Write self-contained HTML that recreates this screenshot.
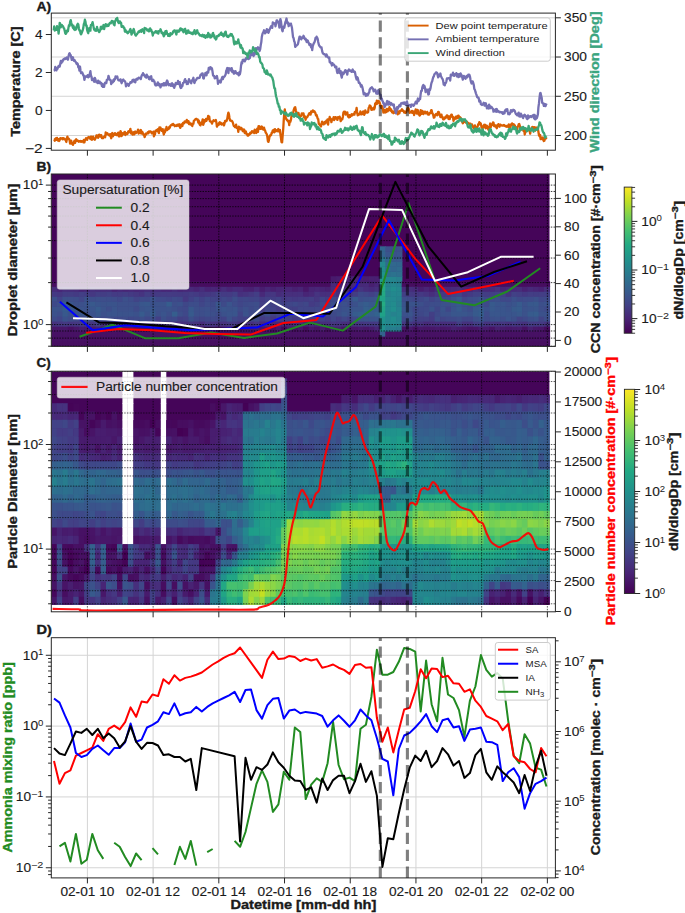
<!DOCTYPE html>
<html><head><meta charset="utf-8"><style>
html,body{margin:0;padding:0;background:#fff;}
svg{display:block;}
text{font-family:"Liberation Sans",sans-serif;}
</style></head><body>
<svg width="685" height="913" viewBox="0 0 685 913" font-family="Liberation Sans, sans-serif">
<rect x="0" y="0" width="685" height="913" fill="#fff"/>
<g id="A">
<line x1="51.30" y1="135.50" x2="555.40" y2="135.50" stroke="#d4d4d4" stroke-width="1.00"/>
<line x1="51.30" y1="96.27" x2="555.40" y2="96.27" stroke="#d4d4d4" stroke-width="1.00"/>
<line x1="51.30" y1="57.03" x2="555.40" y2="57.03" stroke="#d4d4d4" stroke-width="1.00"/>
<line x1="51.30" y1="17.80" x2="555.40" y2="17.80" stroke="#d4d4d4" stroke-width="1.00"/>
<clipPath id="cA"><rect x="51.30" y="13.10" width="504.10" height="137.10"/></clipPath>
<g clip-path="url(#cA)">
<polyline points="53.7,139.4 54.2,139.5 54.8,140.8 55.3,138.9 55.9,138.3 56.4,139.9 57.0,137.9 57.5,139.7 58.1,140.6 58.6,139.1 59.2,141.0 59.7,140.0 60.3,138.1 60.8,138.6 61.4,138.7 61.9,138.2 62.5,139.3 63.0,138.1 63.6,139.1 64.1,138.6 64.7,138.7 65.2,139.7 65.7,140.2 66.3,142.0 66.8,139.6 67.4,136.6 67.9,138.7 68.5,138.4 69.0,139.0 69.6,140.3 70.1,143.6 70.7,141.4 71.2,140.7 71.8,143.7 72.3,143.5 72.9,144.9 73.4,143.8 74.0,141.7 74.5,140.7 75.1,142.9 75.6,140.7 76.2,139.3 76.7,140.8 77.3,140.4 77.8,140.6 78.3,141.3 78.9,141.7 79.4,141.1 80.0,141.4 80.5,141.0 81.1,141.9 81.6,141.1 82.2,141.4 82.7,141.2 83.3,142.3 83.8,139.9 84.4,142.4 84.9,140.1 85.5,139.5 86.0,138.3 86.6,138.5 87.1,139.9 87.7,137.7 88.2,137.6 88.8,137.0 89.3,137.6 89.8,137.6 90.4,139.1 90.9,136.6 91.5,136.9 92.0,139.8 92.6,137.7 93.1,136.6 93.7,139.1 94.2,139.2 94.8,139.8 95.3,138.5 95.9,137.6 96.4,135.4 97.0,135.3 97.5,136.4 98.1,137.9 98.6,135.1 99.2,134.6 99.7,136.4 100.3,136.6 100.8,135.2 101.3,135.2 101.9,138.1 102.4,137.7 103.0,138.3 103.5,137.4 104.1,136.8 104.6,136.0 105.2,137.2 105.7,132.3 106.3,134.2 106.8,134.4 107.4,133.3 107.9,134.3 108.5,134.3 109.0,135.2 109.6,135.6 110.1,134.1 110.7,136.5 111.2,138.2 111.8,134.4 112.3,133.0 112.9,136.4 113.4,134.8 113.9,134.9 114.5,133.6 115.0,133.1 115.6,134.7 116.1,134.2 116.7,135.1 117.2,133.8 117.8,135.0 118.3,132.6 118.9,136.3 119.4,136.4 120.0,133.8 120.5,131.1 121.1,132.4 121.6,136.0 122.2,134.5 122.7,133.3 123.3,134.3 123.8,133.5 124.4,132.1 124.9,132.0 125.4,135.0 126.0,133.0 126.5,134.1 127.1,134.1 127.6,133.6 128.2,131.6 128.7,131.3 129.3,132.0 129.8,131.1 130.4,128.9 130.9,133.3 131.5,131.4 132.0,133.6 132.6,134.5 133.1,133.8 133.7,132.3 134.2,134.5 134.8,133.5 135.3,131.5 135.9,133.1 136.4,132.3 137.0,131.8 137.5,131.6 138.0,129.7 138.6,133.6 139.1,132.8 139.7,132.9 140.2,130.4 140.8,130.0 141.3,133.5 141.9,131.5 142.4,132.1 143.0,133.5 143.5,134.9 144.1,134.7 144.6,137.1 145.2,135.3 145.7,133.7 146.3,134.4 146.8,133.3 147.4,133.2 147.9,132.1 148.5,133.3 149.0,131.4 149.5,131.9 150.1,131.4 150.6,131.5 151.2,131.9 151.7,133.4 152.3,133.0 152.8,133.0 153.4,131.6 153.9,136.4 154.5,135.0 155.0,134.1 155.6,130.7 156.1,131.2 156.7,130.0 157.2,130.0 157.8,129.2 158.3,131.7 158.9,133.1 159.4,127.4 160.0,129.1 160.5,127.5 161.0,129.6 161.6,130.8 162.1,130.6 162.7,129.1 163.2,132.0 163.8,134.5 164.3,131.2 164.9,132.4 165.4,129.2 166.0,130.4 166.5,127.0 167.1,130.1 167.6,128.6 168.2,129.2 168.7,129.0 169.3,126.9 169.8,127.7 170.4,125.9 170.9,125.4 171.5,124.8 172.0,124.4 172.6,125.1 173.1,123.9 173.6,124.8 174.2,124.9 174.7,126.2 175.3,125.7 175.8,125.4 176.4,126.0 176.9,125.3 177.5,124.6 178.0,125.7 178.6,125.1 179.1,124.3 179.7,126.6 180.2,127.9 180.8,126.6 181.3,124.3 181.9,124.9 182.4,126.0 183.0,122.9 183.5,123.2 184.1,123.4 184.6,121.5 185.1,121.3 185.7,122.2 186.2,122.2 186.8,119.9 187.3,122.6 187.9,122.5 188.4,121.1 189.0,124.0 189.5,122.5 190.1,124.2 190.6,124.5 191.2,123.6 191.7,124.6 192.3,126.1 192.8,123.6 193.4,123.7 193.9,120.8 194.5,120.5 195.0,119.7 195.6,119.2 196.1,118.8 196.6,119.4 197.2,119.5 197.7,119.5 198.3,122.6 198.8,120.6 199.4,123.7 199.9,124.9 200.5,125.4 201.0,122.6 201.6,123.8 202.1,122.2 202.7,119.3 203.2,124.8 203.8,123.1 204.3,120.2 204.9,121.6 205.4,120.8 206.0,118.9 206.5,120.8 207.1,118.6 207.6,119.2 208.2,115.8 208.7,118.1 209.2,116.5 209.8,121.0 210.3,121.6 210.9,121.6 211.4,121.7 212.0,123.6 212.5,121.6 213.1,121.4 213.6,120.2 214.2,120.8 214.7,121.0 215.3,120.6 215.8,119.9 216.4,122.4 216.9,126.7 217.5,125.4 218.0,124.8 218.6,124.9 219.1,122.9 219.7,122.2 220.2,123.7 220.7,122.7 221.3,124.5 221.8,124.5 222.4,123.8 222.9,124.4 223.5,123.3 224.0,125.4 224.6,123.2 225.1,120.8 225.7,120.8 226.2,121.3 226.8,120.3 227.3,118.6 227.9,114.8 228.4,112.6 229.0,114.6 229.5,117.9 230.1,120.4 230.6,120.6 231.2,120.8 231.7,120.7 232.3,121.5 232.8,122.5 233.3,124.3 233.9,126.0 234.4,126.0 235.0,127.1 235.5,126.6 236.1,124.6 236.6,127.8 237.2,127.9 237.7,127.7 238.3,131.8 238.8,126.6 239.4,127.5 239.9,127.9 240.5,129.2 241.0,127.8 241.6,128.2 242.1,129.6 242.7,130.9 243.2,131.3 243.8,129.4 244.3,129.8 244.8,133.1 245.4,132.4 245.9,131.5 246.5,134.0 247.0,134.0 247.6,135.5 248.1,135.6 248.7,135.3 249.2,134.0 249.8,134.3 250.3,132.7 250.9,132.8 251.4,133.1 252.0,131.1 252.5,131.8 253.1,131.5 253.6,132.3 254.2,133.1 254.7,129.6 255.3,131.2 255.8,131.0 256.3,133.0 256.9,129.5 257.4,128.4 258.0,131.8 258.5,126.4 259.1,126.1 259.6,127.9 260.2,128.8 260.7,126.8 261.3,128.7 261.8,126.5 262.4,128.2 262.9,129.4 263.5,129.5 264.0,127.6 264.6,130.1 265.1,130.5 265.7,132.6 266.2,133.2 266.8,134.3 267.3,136.4 267.9,141.1 268.4,141.9 268.9,140.1 269.5,136.8 270.0,135.4 270.6,135.6 271.1,135.0 271.7,132.7 272.2,132.7 272.8,130.3 273.3,130.4 273.9,129.8 274.4,132.4 275.0,129.2 275.5,131.3 276.1,130.1 276.6,130.7 277.2,131.3 277.7,131.1 278.3,129.0 278.8,131.4 279.4,130.5 279.9,129.9 280.4,134.0 281.0,138.2 281.5,142.1 282.1,142.3 282.6,136.1 283.2,129.2 283.7,120.9 284.3,112.5 284.8,109.4 285.4,115.1 285.9,118.8 286.5,119.1 287.0,120.4 287.6,120.2 288.1,121.5 288.7,121.4 289.2,125.0 289.8,120.8 290.3,121.8 290.9,120.0 291.4,116.6 291.9,114.9 292.5,115.8 293.0,114.3 293.6,110.4 294.1,109.0 294.7,107.5 295.2,107.2 295.8,110.3 296.3,112.3 296.9,114.0 297.4,112.7 298.0,113.7 298.5,113.0 299.1,115.2 299.6,116.0 300.2,116.9 300.7,115.8 301.3,115.8 301.8,113.3 302.4,114.3 302.9,113.5 303.5,113.4 304.0,117.2 304.5,115.9 305.1,117.7 305.6,119.8 306.2,117.4 306.7,117.5 307.3,117.1 307.8,115.9 308.4,115.3 308.9,113.8 309.5,113.1 310.0,113.4 310.6,114.6 311.1,111.5 311.7,112.3 312.2,111.6 312.8,110.4 313.3,111.3 313.9,111.8 314.4,111.3 315.0,112.3 315.5,113.5 316.0,115.4 316.6,115.0 317.1,116.5 317.7,118.8 318.2,119.0 318.8,123.9 319.3,124.1 319.9,125.3 320.4,124.9 321.0,126.5 321.5,124.1 322.1,121.6 322.6,122.4 323.2,123.9 323.7,124.4 324.3,123.4 324.8,122.0 325.4,123.4 325.9,121.6 326.5,120.5 327.0,121.5 327.5,119.5 328.1,124.6 328.6,119.1 329.2,119.8 329.7,117.0 330.3,119.6 330.8,118.8 331.4,122.2 331.9,120.1 332.5,119.3 333.0,119.4 333.6,117.2 334.1,120.1 334.7,118.0 335.2,117.1 335.8,117.1 336.3,118.7 336.9,118.9 337.4,119.9 338.0,117.1 338.5,118.1 339.1,118.1 339.6,116.6 340.1,118.3 340.7,121.2 341.2,118.9 341.8,119.0 342.3,119.3 342.9,116.7 343.4,112.6 344.0,111.6 344.5,112.3 345.1,111.7 345.6,114.5 346.2,113.7 346.7,113.0 347.3,112.4 347.8,115.8 348.4,117.1 348.9,117.4 349.5,115.2 350.0,117.0 350.6,115.4 351.1,115.8 351.6,114.3 352.2,115.4 352.7,114.8 353.3,114.0 353.8,114.6 354.4,114.7 354.9,111.8 355.5,112.3 356.0,111.9 356.6,107.9 357.1,112.0 357.7,115.3 358.2,115.0 358.8,114.5 359.3,113.8 359.9,114.2 360.4,111.4 361.0,112.6 361.5,114.4 362.1,114.2 362.6,113.3 363.2,111.4 363.7,112.7 364.2,114.8 364.8,113.5 365.3,110.3 365.9,112.0 366.4,112.4 367.0,112.6 367.5,112.6 368.1,112.1 368.6,108.3 369.2,106.9 369.7,105.5 370.3,105.8 370.8,106.8 371.4,109.9 371.9,108.4 372.5,109.6 373.0,108.9 373.6,107.7 374.1,109.4 374.7,107.8 375.2,103.5 375.7,103.0 376.3,104.0 376.8,100.6 377.4,103.6 377.9,102.7 378.5,101.0 379.0,101.3 379.6,102.4 380.1,104.0 380.7,106.1 381.2,108.0 381.8,106.1 382.3,106.5 382.9,109.0 383.4,112.5 384.0,111.6 384.5,109.9 385.1,112.6 385.6,112.0 386.2,112.1 386.7,109.0 387.2,109.0 387.8,111.3 388.3,109.4 388.9,109.7 389.4,107.2 390.0,108.9 390.5,110.6 391.1,109.4 391.6,111.3 392.2,112.4 392.7,111.5 393.3,113.2 393.8,113.0 394.4,111.5 394.9,110.6 395.5,109.0 396.0,110.0 396.6,109.3 397.1,112.4 397.7,114.3 398.2,113.6 398.8,111.3 399.3,113.4 399.8,111.6 400.4,110.7 400.9,110.9 401.5,110.5 402.0,109.2 402.6,110.7 403.1,110.5 403.7,111.2 404.2,112.6 404.8,111.7 405.3,112.9 405.9,112.7 406.4,111.9 407.0,109.8 407.5,108.4 408.1,107.7 408.6,108.4 409.2,110.5 409.7,112.8 410.3,112.4 410.8,112.0 411.3,112.4 411.9,110.9 412.4,112.9 413.0,112.0 413.5,111.4 414.1,115.0 414.6,112.7 415.2,111.9 415.7,109.3 416.3,111.5 416.8,113.5 417.4,109.9 417.9,110.4 418.5,114.3 419.0,113.8 419.6,115.6 420.1,115.2 420.7,110.2 421.2,113.4 421.8,113.7 422.3,110.9 422.8,112.5 423.4,114.1 423.9,111.8 424.5,113.1 425.0,111.6 425.6,113.4 426.1,112.4 426.7,113.0 427.2,111.9 427.8,114.4 428.3,114.1 428.9,114.7 429.4,113.1 430.0,113.3 430.5,113.2 431.1,110.3 431.6,110.1 432.2,113.0 432.7,113.7 433.3,115.3 433.8,117.7 434.4,117.5 434.9,115.5 435.4,114.7 436.0,114.0 436.5,114.0 437.1,115.4 437.6,115.0 438.2,111.8 438.7,111.8 439.3,113.5 439.8,114.6 440.4,117.1 440.9,116.8 441.5,114.6 442.0,117.4 442.6,116.9 443.1,119.3 443.7,119.4 444.2,118.4 444.8,118.5 445.3,117.1 445.9,116.4 446.4,117.5 446.9,115.3 447.5,115.7 448.0,116.9 448.6,119.0 449.1,116.5 449.7,119.1 450.2,117.3 450.8,115.9 451.3,114.6 451.9,114.9 452.4,117.0 453.0,117.0 453.5,120.9 454.1,118.7 454.6,119.2 455.2,117.6 455.7,116.8 456.3,118.5 456.8,117.8 457.4,116.0 457.9,118.2 458.5,115.6 459.0,116.7 459.5,117.1 460.1,117.4 460.6,117.9 461.2,118.7 461.7,120.9 462.3,122.1 462.8,123.3 463.4,122.3 463.9,120.8 464.5,120.8 465.0,120.8 465.6,122.2 466.1,122.8 466.7,121.8 467.2,122.1 467.8,123.4 468.3,122.9 468.9,123.7 469.4,124.5 470.0,123.7 470.5,123.6 471.0,125.1 471.6,124.7 472.1,124.5 472.7,126.6 473.2,127.1 473.8,128.4 474.3,127.4 474.9,125.4 475.4,128.9 476.0,128.7 476.5,128.2 477.1,126.9 477.6,126.6 478.2,124.2 478.7,124.8 479.3,122.2 479.8,124.2 480.4,123.1 480.9,123.9 481.5,127.2 482.0,127.0 482.5,129.2 483.1,126.3 483.6,125.8 484.2,124.7 484.7,127.3 485.3,124.8 485.8,128.4 486.4,126.6 486.9,125.7 487.5,127.3 488.0,128.7 488.6,130.1 489.1,127.3 489.7,125.5 490.2,123.5 490.8,127.0 491.3,125.7 491.9,124.2 492.4,124.8 493.0,122.3 493.5,122.7 494.1,126.0 494.6,125.0 495.1,126.5 495.7,125.7 496.2,126.8 496.8,128.2 497.3,125.2 497.9,125.8 498.4,124.2 499.0,126.3 499.5,126.7 500.1,124.6 500.6,124.7 501.2,125.3 501.7,125.4 502.3,125.7 502.8,125.5 503.4,125.6 503.9,125.0 504.5,125.8 505.0,126.1 505.6,126.0 506.1,126.6 506.6,126.8 507.2,125.7 507.7,126.3 508.3,126.9 508.8,124.4 509.4,126.2 509.9,128.0 510.5,126.9 511.0,124.4 511.6,125.2 512.1,123.4 512.7,124.7 513.2,124.9 513.8,124.3 514.3,125.8 514.9,125.5 515.4,128.5 516.0,127.2 516.5,128.7 517.1,129.4 517.6,126.8 518.1,126.4 518.7,124.2 519.2,123.9 519.8,125.9 520.3,127.9 520.9,129.7 521.4,128.5 522.0,127.8 522.5,128.5 523.1,129.6 523.6,131.1 524.2,128.5 524.7,134.5 525.3,132.1 525.8,131.7 526.4,131.0 526.9,130.1 527.5,129.8 528.0,129.9 528.6,130.1 529.1,130.5 529.7,131.2 530.2,133.7 530.7,129.4 531.3,128.7 531.8,127.4 532.4,127.0 532.9,127.4 533.5,129.2 534.0,127.1 534.6,127.3 535.1,130.7 535.7,129.4 536.2,127.5 536.8,129.0 537.3,127.8 537.9,129.3 538.4,131.8 539.0,135.3 539.5,136.2 540.1,135.0 540.6,139.0 541.2,139.1 541.7,138.1 542.2,137.5 542.8,137.7 543.3,140.1 543.9,141.0 544.4,140.8 545.0,137.7 545.5,138.8 546.1,138.2 546.6,137.4" fill="none" stroke="#d95f02" stroke-width="2.30" stroke-linejoin="round" stroke-linecap="butt"/>
<polyline points="53.7,70.6 54.2,70.4 54.8,69.7 55.3,66.8 55.9,69.4 56.4,70.4 57.0,68.1 57.5,68.8 58.1,67.0 58.6,65.9 59.2,66.8 59.7,66.6 60.3,63.6 60.8,61.0 61.4,63.1 61.9,60.9 62.5,61.6 63.0,59.9 63.6,59.1 64.1,59.0 64.7,59.3 65.2,58.3 65.7,58.8 66.3,58.6 66.8,57.5 67.4,57.7 67.9,59.7 68.5,56.5 69.0,54.2 69.6,53.2 70.1,54.3 70.7,55.2 71.2,57.2 71.8,59.9 72.3,59.4 72.9,57.3 73.4,59.1 74.0,60.8 74.5,60.0 75.1,61.1 75.6,61.8 76.2,62.8 76.7,64.0 77.3,63.3 77.8,64.1 78.3,67.4 78.9,66.3 79.4,70.6 80.0,66.7 80.5,70.7 81.1,73.1 81.6,73.1 82.2,72.4 82.7,73.7 83.3,75.4 83.8,75.6 84.4,79.9 84.9,77.6 85.5,76.3 86.0,76.4 86.6,76.6 87.1,76.9 87.7,75.1 88.2,77.3 88.8,76.8 89.3,76.5 89.8,73.7 90.4,71.2 90.9,75.4 91.5,76.6 92.0,80.2 92.6,79.4 93.1,78.8 93.7,79.9 94.2,81.8 94.8,77.8 95.3,78.9 95.9,81.2 96.4,82.1 97.0,82.2 97.5,83.0 98.1,80.7 98.6,82.3 99.2,83.1 99.7,81.7 100.3,83.4 100.8,82.9 101.3,82.9 101.9,86.1 102.4,84.1 103.0,86.9 103.5,85.8 104.1,86.7 104.6,83.8 105.2,82.6 105.7,82.5 106.3,83.1 106.8,80.0 107.4,79.9 107.9,79.1 108.5,75.8 109.0,77.5 109.6,79.5 110.1,80.2 110.7,80.1 111.2,84.0 111.8,83.0 112.3,82.4 112.9,82.3 113.4,80.0 113.9,81.1 114.5,78.9 115.0,79.4 115.6,76.3 116.1,77.6 116.7,76.7 117.2,76.4 117.8,78.8 118.3,80.1 118.9,80.3 119.4,80.0 120.0,80.6 120.5,79.4 121.1,81.7 121.6,83.2 122.2,81.6 122.7,80.1 123.3,79.5 123.8,80.5 124.4,80.9 124.9,81.4 125.4,82.3 126.0,86.3 126.5,85.0 127.1,84.9 127.6,83.8 128.2,85.0 128.7,85.8 129.3,84.0 129.8,83.6 130.4,82.2 130.9,82.1 131.5,82.5 132.0,81.6 132.6,80.0 133.1,81.3 133.7,79.7 134.2,81.7 134.8,81.9 135.3,82.3 135.9,79.3 136.4,79.8 137.0,78.6 137.5,79.6 138.0,78.3 138.6,77.7 139.1,77.6 139.7,78.4 140.2,78.3 140.8,79.1 141.3,76.7 141.9,75.1 142.4,74.9 143.0,73.2 143.5,75.0 144.1,74.4 144.6,75.5 145.2,76.8 145.7,77.2 146.3,77.6 146.8,74.7 147.4,77.2 147.9,76.5 148.5,76.7 149.0,78.9 149.5,79.2 150.1,77.2 150.6,77.2 151.2,76.2 151.7,79.7 152.3,81.0 152.8,80.6 153.4,79.8 153.9,81.3 154.5,81.6 155.0,84.3 155.6,85.3 156.1,84.5 156.7,85.4 157.2,84.1 157.8,82.4 158.3,84.8 158.9,85.3 159.4,83.9 160.0,85.5 160.5,87.4 161.0,85.6 161.6,84.2 162.1,85.3 162.7,84.0 163.2,85.3 163.8,83.2 164.3,85.4 164.9,83.4 165.4,84.6 166.0,85.3 166.5,81.9 167.1,80.5 167.6,81.6 168.2,84.6 168.7,85.2 169.3,84.2 169.8,84.3 170.4,85.4 170.9,85.8 171.5,83.5 172.0,83.3 172.6,86.0 173.1,86.1 173.6,84.5 174.2,87.9 174.7,85.9 175.3,85.5 175.8,82.8 176.4,83.9 176.9,83.6 177.5,83.9 178.0,81.0 178.6,84.1 179.1,83.1 179.7,82.1 180.2,86.7 180.8,88.0 181.3,87.7 181.9,85.1 182.4,86.1 183.0,83.0 183.5,83.0 184.1,82.0 184.6,80.3 185.1,79.1 185.7,81.8 186.2,81.0 186.8,84.0 187.3,83.8 187.9,84.0 188.4,81.9 189.0,79.1 189.5,80.4 190.1,81.8 190.6,82.0 191.2,83.2 191.7,80.5 192.3,80.1 192.8,79.6 193.4,77.8 193.9,81.7 194.5,83.0 195.0,81.5 195.6,80.3 196.1,80.0 196.6,79.0 197.2,78.1 197.7,77.8 198.3,78.0 198.8,78.0 199.4,77.9 199.9,76.9 200.5,74.9 201.0,75.0 201.6,73.6 202.1,74.6 202.7,73.5 203.2,78.2 203.8,78.5 204.3,75.6 204.9,75.6 205.4,72.9 206.0,74.5 206.5,75.2 207.1,72.1 207.6,71.7 208.2,72.6 208.7,68.0 209.2,68.6 209.8,69.3 210.3,67.1 210.9,67.5 211.4,67.8 212.0,68.6 212.5,71.5 213.1,75.5 213.6,75.8 214.2,76.1 214.7,78.3 215.3,78.1 215.8,77.8 216.4,77.0 216.9,76.0 217.5,79.0 218.0,83.9 218.6,82.2 219.1,81.8 219.7,80.6 220.2,81.3 220.7,82.5 221.3,79.8 221.8,78.4 222.4,76.9 222.9,79.2 223.5,77.0 224.0,76.9 224.6,76.4 225.1,75.4 225.7,74.2 226.2,70.9 226.8,69.4 227.3,68.0 227.9,69.1 228.4,73.1 229.0,68.2 229.5,68.9 230.1,69.2 230.6,68.6 231.2,70.6 231.7,68.1 232.3,72.0 232.8,70.6 233.3,71.5 233.9,73.7 234.4,72.5 235.0,71.2 235.5,71.2 236.1,73.1 236.6,73.5 237.2,73.4 237.7,73.1 238.3,74.7 238.8,75.4 239.4,72.2 239.9,74.4 240.5,71.1 241.0,66.0 241.6,62.2 242.1,63.5 242.7,59.9 243.2,60.1 243.8,59.6 244.3,60.9 244.8,61.4 245.4,59.8 245.9,58.3 246.5,59.1 247.0,58.2 247.6,57.3 248.1,58.6 248.7,59.1 249.2,57.1 249.8,58.0 250.3,54.9 250.9,55.3 251.4,52.0 252.0,54.8 252.5,54.0 253.1,53.1 253.6,56.0 254.2,53.0 254.7,54.6 255.3,52.0 255.8,48.2 256.3,48.2 256.9,49.4 257.4,49.3 258.0,47.3 258.5,47.7 259.1,48.1 259.6,51.0 260.2,49.1 260.7,45.3 261.3,42.1 261.8,37.0 262.4,34.2 262.9,32.8 263.5,31.9 264.0,30.3 264.6,30.9 265.1,33.4 265.7,32.4 266.2,32.2 266.8,29.2 267.3,29.5 267.9,30.4 268.4,32.8 268.9,31.7 269.5,29.9 270.0,28.7 270.6,27.3 271.1,26.2 271.7,27.5 272.2,27.8 272.8,22.4 273.3,23.6 273.9,23.0 274.4,23.6 275.0,23.6 275.5,26.4 276.1,23.1 276.6,20.4 277.2,20.4 277.7,22.1 278.3,21.9 278.8,23.9 279.4,27.5 279.9,21.6 280.4,19.1 281.0,21.6 281.5,26.1 282.1,30.0 282.6,31.3 283.2,27.6 283.7,26.4 284.3,27.7 284.8,24.8 285.4,22.1 285.9,21.1 286.5,18.5 287.0,21.9 287.6,23.5 288.1,22.5 288.7,26.2 289.2,24.5 289.8,23.9 290.3,24.9 290.9,23.6 291.4,25.9 291.9,27.3 292.5,32.3 293.0,37.0 293.6,38.1 294.1,40.9 294.7,42.2 295.2,46.9 295.8,46.2 296.3,45.5 296.9,45.3 297.4,44.8 298.0,43.8 298.5,41.4 299.1,38.5 299.6,36.6 300.2,36.9 300.7,38.9 301.3,39.3 301.8,38.1 302.4,37.2 302.9,37.8 303.5,35.8 304.0,36.7 304.5,38.5 305.1,39.3 305.6,38.7 306.2,40.7 306.7,42.0 307.3,40.3 307.8,40.7 308.4,42.6 308.9,43.4 309.5,45.0 310.0,44.0 310.6,44.2 311.1,47.4 311.7,45.7 312.2,50.1 312.8,45.9 313.3,44.5 313.9,43.0 314.4,42.4 315.0,40.7 315.5,38.0 316.0,38.4 316.6,36.7 317.1,37.6 317.7,38.9 318.2,41.9 318.8,44.5 319.3,45.8 319.9,46.4 320.4,47.3 321.0,47.2 321.5,47.4 322.1,50.9 322.6,52.8 323.2,53.6 323.7,54.2 324.3,54.1 324.8,54.4 325.4,54.8 325.9,56.4 326.5,54.4 327.0,55.4 327.5,57.0 328.1,57.3 328.6,57.9 329.2,57.4 329.7,62.1 330.3,61.9 330.8,63.3 331.4,63.3 331.9,65.5 332.5,63.2 333.0,64.4 333.6,64.3 334.1,64.9 334.7,65.8 335.2,67.3 335.8,67.2 336.3,66.6 336.9,71.2 337.4,73.0 338.0,72.3 338.5,71.4 339.1,68.7 339.6,73.1 340.1,73.3 340.7,71.1 341.2,75.4 341.8,77.6 342.3,74.3 342.9,72.5 343.4,74.1 344.0,73.0 344.5,72.3 345.1,70.3 345.6,70.2 346.2,71.5 346.7,72.4 347.3,74.6 347.8,70.9 348.4,70.2 348.9,69.5 349.5,70.7 350.0,70.8 350.6,70.5 351.1,70.8 351.6,71.9 352.2,71.0 352.7,69.5 353.3,71.8 353.8,71.3 354.4,71.3 354.9,72.0 355.5,75.0 356.0,77.5 356.6,79.5 357.1,77.1 357.7,77.7 358.2,80.0 358.8,82.8 359.3,82.4 359.9,83.3 360.4,84.4 361.0,86.6 361.5,85.1 362.1,86.4 362.6,88.3 363.2,91.2 363.7,94.3 364.2,94.1 364.8,93.2 365.3,94.6 365.9,95.9 366.4,95.0 367.0,93.9 367.5,95.4 368.1,94.8 368.6,93.1 369.2,92.5 369.7,89.5 370.3,88.8 370.8,87.9 371.4,88.1 371.9,87.2 372.5,88.5 373.0,88.6 373.6,91.3 374.1,89.9 374.7,90.2 375.2,89.6 375.7,91.4 376.3,93.5 376.8,92.4 377.4,93.8 377.9,90.7 378.5,90.0 379.0,91.2 379.6,94.0 380.1,95.1 380.7,95.0 381.2,99.5 381.8,98.4 382.3,100.7 382.9,101.6 383.4,103.5 384.0,103.3 384.5,107.1 385.1,106.1 385.6,104.1 386.2,104.7 386.7,102.4 387.2,101.0 387.8,102.9 388.3,104.7 388.9,101.7 389.4,102.2 390.0,103.6 390.5,104.7 391.1,103.0 391.6,103.5 392.2,104.6 392.7,105.2 393.3,104.9 393.8,104.5 394.4,108.9 394.9,108.5 395.5,111.7 396.0,113.3 396.6,110.1 397.1,107.1 397.7,108.9 398.2,107.6 398.8,106.2 399.3,105.2 399.8,106.4 400.4,106.2 400.9,103.5 401.5,103.5 402.0,103.0 402.6,102.9 403.1,103.7 403.7,102.6 404.2,102.5 404.8,104.0 405.3,102.6 405.9,104.9 406.4,104.5 407.0,101.5 407.5,104.4 408.1,105.8 408.6,104.8 409.2,105.2 409.7,105.1 410.3,105.2 410.8,106.9 411.3,104.7 411.9,104.5 412.4,105.2 413.0,105.0 413.5,105.9 414.1,105.1 414.6,103.9 415.2,103.4 415.7,101.7 416.3,102.7 416.8,103.5 417.4,100.7 417.9,98.5 418.5,101.2 419.0,99.8 419.6,98.6 420.1,99.1 420.7,93.7 421.2,90.8 421.8,91.0 422.3,87.3 422.8,85.8 423.4,84.9 423.9,87.8 424.5,86.1 425.0,88.0 425.6,92.0 426.1,90.2 426.7,89.7 427.2,89.6 427.8,92.7 428.3,94.5 428.9,94.2 429.4,89.0 430.0,90.0 430.5,88.3 431.1,84.6 431.6,82.5 432.2,81.2 432.7,79.1 433.3,77.0 433.8,76.4 434.4,74.3 434.9,73.8 435.4,73.5 436.0,72.4 436.5,72.5 437.1,72.9 437.6,75.1 438.2,77.4 438.7,74.7 439.3,76.1 439.8,76.0 440.4,73.5 440.9,76.3 441.5,77.1 442.0,78.4 442.6,79.0 443.1,80.7 443.7,84.7 444.2,83.5 444.8,85.3 445.3,83.0 445.9,82.9 446.4,81.2 446.9,78.5 447.5,78.6 448.0,78.4 448.6,78.2 449.1,78.2 449.7,78.0 450.2,80.5 450.8,74.6 451.3,75.8 451.9,75.0 452.4,74.8 453.0,72.6 453.5,75.4 454.1,75.9 454.6,74.3 455.2,74.6 455.7,74.6 456.3,73.1 456.8,76.4 457.4,75.5 457.9,74.1 458.5,77.2 459.0,76.5 459.5,74.1 460.1,76.5 460.6,73.5 461.2,74.8 461.7,75.3 462.3,77.8 462.8,79.6 463.4,78.2 463.9,75.9 464.5,76.6 465.0,77.6 465.6,78.7 466.1,77.2 466.7,75.9 467.2,77.4 467.8,76.4 468.3,74.6 468.9,74.6 469.4,74.8 470.0,76.6 470.5,79.8 471.0,81.9 471.6,83.5 472.1,81.6 472.7,81.4 473.2,82.8 473.8,85.0 474.3,88.9 474.9,89.8 475.4,91.7 476.0,93.6 476.5,94.9 477.1,96.9 477.6,97.5 478.2,97.3 478.7,98.1 479.3,101.5 479.8,100.5 480.4,101.2 480.9,104.2 481.5,104.5 482.0,105.0 482.5,104.8 483.1,104.2 483.6,102.8 484.2,103.0 484.7,105.7 485.3,104.2 485.8,103.2 486.4,105.3 486.9,108.3 487.5,106.3 488.0,106.2 488.6,108.5 489.1,104.6 489.7,106.8 490.2,108.2 490.8,106.5 491.3,107.1 491.9,107.3 492.4,108.5 493.0,108.9 493.5,111.7 494.1,110.8 494.6,111.2 495.1,109.7 495.7,109.3 496.2,111.8 496.8,109.0 497.3,111.5 497.9,111.5 498.4,110.9 499.0,111.9 499.5,112.3 500.1,112.2 500.6,111.9 501.2,112.4 501.7,112.7 502.3,112.3 502.8,113.8 503.4,113.6 503.9,112.3 504.5,113.2 505.0,110.5 505.6,111.1 506.1,109.4 506.6,109.8 507.2,109.1 507.7,111.6 508.3,114.2 508.8,113.1 509.4,114.2 509.9,113.7 510.5,112.2 511.0,110.1 511.6,110.8 512.1,111.5 512.7,110.8 513.2,109.8 513.8,110.6 514.3,110.3 514.9,111.2 515.4,113.0 516.0,114.1 516.5,114.2 517.1,115.3 517.6,114.0 518.1,115.4 518.7,112.6 519.2,116.4 519.8,114.2 520.3,116.7 520.9,113.7 521.4,114.8 522.0,115.8 522.5,116.9 523.1,118.1 523.6,115.5 524.2,116.1 524.7,114.8 525.3,115.6 525.8,115.9 526.4,117.5 526.9,118.8 527.5,119.1 528.0,115.5 528.6,117.8 529.1,117.4 529.7,116.6 530.2,116.2 530.7,116.1 531.3,117.1 531.8,116.7 532.4,115.6 532.9,115.5 533.5,114.9 534.0,118.4 534.6,114.9 535.1,119.4 535.7,119.1 536.2,116.5 536.8,118.2 537.3,116.7 537.9,114.3 538.4,107.5 539.0,103.2 539.5,97.9 540.1,93.3 540.6,93.0 541.2,96.1 541.7,97.9 542.2,102.9 542.8,103.1 543.3,103.6 543.9,105.9 544.4,103.9 545.0,104.3 545.5,106.1 546.1,104.4 546.6,103.4" fill="none" stroke="#7570b3" stroke-width="2.30" stroke-linejoin="round" stroke-linecap="butt"/>
<polyline points="53.7,30.3 54.2,26.3 54.8,30.5 55.3,29.8 55.9,28.9 56.4,29.9 57.0,26.1 57.5,29.1 58.1,29.1 58.6,33.6 59.2,28.4 59.7,22.8 60.3,24.3 60.8,27.3 61.4,25.9 61.9,25.0 62.5,26.2 63.0,26.2 63.6,28.0 64.1,28.2 64.7,30.8 65.2,33.1 65.7,33.9 66.3,33.0 66.8,30.6 67.4,31.6 67.9,31.2 68.5,27.5 69.0,25.1 69.6,25.9 70.1,21.8 70.7,20.1 71.2,22.5 71.8,24.5 72.3,25.7 72.9,27.7 73.4,25.7 74.0,29.4 74.5,27.4 75.1,30.0 75.6,28.5 76.2,29.4 76.7,26.3 77.3,24.6 77.8,23.8 78.3,24.5 78.9,28.5 79.4,30.4 80.0,30.3 80.5,33.3 81.1,34.3 81.6,33.2 82.2,31.5 82.7,30.3 83.3,27.9 83.8,24.2 84.4,22.7 84.9,19.7 85.5,21.9 86.0,25.7 86.6,25.4 87.1,30.0 87.7,31.8 88.2,33.2 88.8,30.2 89.3,28.0 89.8,30.6 90.4,30.7 90.9,25.0 91.5,25.0 92.0,24.0 92.6,22.1 93.1,24.8 93.7,27.9 94.2,29.7 94.8,29.1 95.3,30.7 95.9,29.6 96.4,30.8 97.0,26.9 97.5,29.3 98.1,29.9 98.6,31.2 99.2,32.1 99.7,31.2 100.3,30.0 100.8,26.9 101.3,26.7 101.9,28.8 102.4,26.9 103.0,26.8 103.5,25.0 104.1,29.2 104.6,27.0 105.2,25.9 105.7,24.1 106.3,24.7 106.8,26.2 107.4,24.7 107.9,25.6 108.5,25.8 109.0,24.4 109.6,23.3 110.1,22.8 110.7,23.4 111.2,22.6 111.8,20.9 112.3,21.7 112.9,21.2 113.4,23.3 113.9,24.6 114.5,25.3 115.0,21.2 115.6,20.8 116.1,18.9 116.7,19.4 117.2,17.9 117.8,20.5 118.3,22.5 118.9,23.1 119.4,21.3 120.0,21.3 120.5,22.6 121.1,22.8 121.6,26.9 122.2,25.9 122.7,26.2 123.3,26.3 123.8,27.9 124.4,28.1 124.9,31.6 125.4,29.8 126.0,31.7 126.5,31.2 127.1,32.6 127.6,33.2 128.2,32.9 128.7,31.7 129.3,31.6 129.8,30.3 130.4,29.0 130.9,30.5 131.5,34.7 132.0,33.3 132.6,32.7 133.1,30.4 133.7,29.0 134.2,30.8 134.8,33.5 135.3,35.0 135.9,35.6 136.4,34.4 137.0,34.3 137.5,33.3 138.0,32.6 138.6,31.5 139.1,32.1 139.7,31.0 140.2,30.9 140.8,30.1 141.3,31.8 141.9,30.5 142.4,29.3 143.0,30.6 143.5,30.6 144.1,33.1 144.6,27.8 145.2,28.3 145.7,28.6 146.3,28.7 146.8,29.6 147.4,30.6 147.9,29.6 148.5,29.7 149.0,31.4 149.5,30.5 150.1,28.3 150.6,30.6 151.2,29.7 151.7,31.6 152.3,32.9 152.8,35.5 153.4,33.3 153.9,32.5 154.5,32.3 155.0,32.5 155.6,31.2 156.1,31.2 156.7,32.1 157.2,33.0 157.8,31.4 158.3,33.6 158.9,31.4 159.4,30.9 160.0,30.9 160.5,29.3 161.0,30.5 161.6,33.1 162.1,33.3 162.7,32.6 163.2,34.7 163.8,36.3 164.3,35.4 164.9,32.9 165.4,31.2 166.0,33.8 166.5,31.0 167.1,33.7 167.6,33.8 168.2,35.9 168.7,34.5 169.3,34.6 169.8,36.0 170.4,33.2 170.9,34.5 171.5,34.4 172.0,34.0 172.6,33.3 173.1,31.5 173.6,31.7 174.2,30.4 174.7,31.3 175.3,30.6 175.8,32.8 176.4,34.5 176.9,30.6 177.5,30.7 178.0,31.7 178.6,30.7 179.1,31.6 179.7,29.9 180.2,28.6 180.8,28.4 181.3,30.1 181.9,29.9 182.4,29.3 183.0,31.1 183.5,32.2 184.1,31.4 184.6,29.2 185.1,28.8 185.7,30.6 186.2,33.7 186.8,33.6 187.3,31.2 187.9,30.5 188.4,30.5 189.0,32.8 189.5,32.3 190.1,32.8 190.6,32.4 191.2,33.6 191.7,33.8 192.3,32.8 192.8,34.2 193.4,32.5 193.9,32.4 194.5,30.2 195.0,33.1 195.6,34.0 196.1,32.9 196.6,31.6 197.2,30.2 197.7,32.4 198.3,33.4 198.8,33.4 199.4,34.9 199.9,35.6 200.5,35.6 201.0,35.3 201.6,35.9 202.1,36.2 202.7,34.8 203.2,35.6 203.8,36.7 204.3,35.2 204.9,35.5 205.4,37.8 206.0,36.1 206.5,36.0 207.1,35.0 207.6,37.2 208.2,32.9 208.7,34.0 209.2,36.4 209.8,34.6 210.3,37.5 210.9,37.3 211.4,35.8 212.0,36.5 212.5,33.9 213.1,33.0 213.6,36.3 214.2,35.2 214.7,38.1 215.3,37.9 215.8,39.5 216.4,38.7 216.9,36.3 217.5,35.9 218.0,35.9 218.6,36.1 219.1,34.6 219.7,34.6 220.2,34.5 220.7,33.2 221.3,32.5 221.8,34.9 222.4,33.9 222.9,35.4 223.5,36.3 224.0,35.9 224.6,33.2 225.1,32.3 225.7,31.6 226.2,34.9 226.8,36.3 227.3,36.8 227.9,35.8 228.4,37.0 229.0,35.6 229.5,35.7 230.1,34.9 230.6,34.0 231.2,35.6 231.7,34.2 232.3,35.7 232.8,36.3 233.3,37.6 233.9,42.7 234.4,44.3 235.0,41.7 235.5,41.6 236.1,43.6 236.6,42.3 237.2,43.2 237.7,42.3 238.3,39.3 238.8,42.7 239.4,43.5 239.9,45.2 240.5,47.5 241.0,45.2 241.6,48.2 242.1,48.0 242.7,48.9 243.2,53.1 243.8,52.6 244.3,51.8 244.8,52.4 245.4,53.9 245.9,53.2 246.5,54.5 247.0,53.7 247.6,57.6 248.1,54.5 248.7,52.3 249.2,53.5 249.8,50.3 250.3,51.0 250.9,51.7 251.4,52.3 252.0,50.6 252.5,50.9 253.1,47.2 253.6,47.7 254.2,50.3 254.7,49.6 255.3,51.6 255.8,49.4 256.3,51.5 256.9,54.0 257.4,52.8 258.0,53.6 258.5,54.7 259.1,57.3 259.6,56.9 260.2,61.5 260.7,62.5 261.3,63.0 261.8,63.7 262.4,64.6 262.9,67.9 263.5,68.3 264.0,68.7 264.6,72.1 265.1,72.4 265.7,72.9 266.2,73.9 266.8,70.3 267.3,71.8 267.9,74.4 268.4,73.7 268.9,74.6 269.5,75.0 270.0,75.6 270.6,74.5 271.1,75.8 271.7,76.9 272.2,77.3 272.8,79.3 273.3,81.1 273.9,85.6 274.4,88.4 275.0,88.3 275.5,93.0 276.1,96.5 276.6,98.0 277.2,100.8 277.7,103.5 278.3,103.6 278.8,106.7 279.4,106.5 279.9,110.0 280.4,110.0 281.0,113.8 281.5,111.1 282.1,111.8 282.6,111.9 283.2,111.8 283.7,113.3 284.3,113.1 284.8,113.9 285.4,114.4 285.9,112.5 286.5,114.0 287.0,114.9 287.6,114.7 288.1,116.0 288.7,115.0 289.2,115.5 289.8,113.9 290.3,113.1 290.9,114.5 291.4,112.6 291.9,113.7 292.5,113.9 293.0,115.9 293.6,115.0 294.1,116.8 294.7,114.1 295.2,116.0 295.8,115.0 296.3,113.2 296.9,116.4 297.4,116.8 298.0,117.0 298.5,116.6 299.1,118.0 299.6,118.7 300.2,118.5 300.7,120.7 301.3,120.1 301.8,119.8 302.4,118.6 302.9,121.2 303.5,121.3 304.0,124.7 304.5,123.1 305.1,123.0 305.6,123.1 306.2,122.9 306.7,124.3 307.3,125.4 307.8,122.4 308.4,123.9 308.9,123.2 309.5,125.2 310.0,129.0 310.6,127.0 311.1,126.3 311.7,122.5 312.2,124.1 312.8,124.3 313.3,123.1 313.9,124.4 314.4,123.0 315.0,124.5 315.5,126.4 316.0,124.7 316.6,128.1 317.1,129.2 317.7,126.9 318.2,127.2 318.8,128.2 319.3,129.9 319.9,129.6 320.4,129.4 321.0,130.6 321.5,133.1 322.1,133.6 322.6,134.6 323.2,137.6 323.7,138.5 324.3,138.7 324.8,139.2 325.4,137.7 325.9,139.9 326.5,135.2 327.0,135.8 327.5,136.3 328.1,137.5 328.6,135.6 329.2,136.5 329.7,135.2 330.3,136.9 330.8,135.3 331.4,134.5 331.9,135.2 332.5,133.8 333.0,133.9 333.6,134.0 334.1,133.4 334.7,135.2 335.2,133.9 335.8,134.7 336.3,132.8 336.9,133.6 337.4,131.3 338.0,130.7 338.5,131.0 339.1,131.6 339.6,131.3 340.1,130.0 340.7,128.9 341.2,130.7 341.8,132.8 342.3,132.7 342.9,131.7 343.4,131.0 344.0,130.2 344.5,129.7 345.1,127.8 345.6,129.8 346.2,129.5 346.7,128.5 347.3,128.4 347.8,130.2 348.4,130.4 348.9,128.5 349.5,129.0 350.0,129.1 350.6,126.5 351.1,127.9 351.6,127.8 352.2,129.9 352.7,128.9 353.3,127.7 353.8,126.6 354.4,129.2 354.9,127.5 355.5,127.8 356.0,126.0 356.6,125.8 357.1,127.8 357.7,130.1 358.2,130.2 358.8,131.1 359.3,130.7 359.9,131.7 360.4,134.0 361.0,135.1 361.5,130.7 362.1,127.2 362.6,127.5 363.2,131.6 363.7,132.8 364.2,132.8 364.8,133.9 365.3,132.2 365.9,134.2 366.4,135.1 367.0,134.5 367.5,135.0 368.1,135.0 368.6,135.4 369.2,136.5 369.7,137.2 370.3,139.5 370.8,137.7 371.4,135.8 371.9,134.0 372.5,136.2 373.0,137.7 373.6,139.6 374.1,137.3 374.7,135.2 375.2,137.5 375.7,135.1 376.3,137.0 376.8,135.5 377.4,137.5 377.9,136.3 378.5,136.9 379.0,136.2 379.6,134.4 380.1,134.4 380.7,134.5 381.2,135.6 381.8,136.2 382.3,135.2 382.9,135.6 383.4,134.0 384.0,133.9 384.5,136.8 385.1,135.7 385.6,135.4 386.2,137.3 386.7,137.8 387.2,136.3 387.8,136.4 388.3,139.2 388.9,135.4 389.4,138.3 390.0,140.9 390.5,140.8 391.1,141.7 391.6,144.7 392.2,144.4 392.7,143.1 393.3,141.2 393.8,140.9 394.4,141.9 394.9,137.6 395.5,140.1 396.0,138.6 396.6,139.5 397.1,139.7 397.7,141.3 398.2,140.5 398.8,139.7 399.3,141.2 399.8,143.5 400.4,141.8 400.9,143.8 401.5,143.7 402.0,141.1 402.6,142.5 403.1,143.0 403.7,144.0 404.2,142.0 404.8,142.7 405.3,139.6 405.9,138.0 406.4,140.6 407.0,139.1 407.5,140.2 408.1,138.0 408.6,138.9 409.2,137.6 409.7,136.1 410.3,134.7 410.8,134.7 411.3,132.6 411.9,133.1 412.4,133.7 413.0,134.2 413.5,134.9 414.1,136.2 414.6,136.6 415.2,134.5 415.7,133.9 416.3,132.7 416.8,131.4 417.4,129.4 417.9,129.8 418.5,130.6 419.0,134.3 419.6,135.3 420.1,133.5 420.7,133.7 421.2,131.0 421.8,132.0 422.3,131.3 422.8,132.1 423.4,134.9 423.9,136.0 424.5,137.9 425.0,134.7 425.6,133.8 426.1,133.2 426.7,134.9 427.2,132.1 427.8,130.8 428.3,129.4 428.9,129.2 429.4,130.1 430.0,129.5 430.5,127.9 431.1,126.4 431.6,126.8 432.2,128.3 432.7,127.6 433.3,128.2 433.8,126.1 434.4,128.7 434.9,127.6 435.4,126.3 436.0,126.5 436.5,122.6 437.1,124.4 437.6,125.6 438.2,126.7 438.7,125.6 439.3,127.1 439.8,124.5 440.4,124.0 440.9,125.6 441.5,125.9 442.0,124.0 442.6,122.7 443.1,123.4 443.7,124.9 444.2,125.2 444.8,124.4 445.3,125.8 445.9,122.9 446.4,124.2 446.9,127.2 447.5,127.5 448.0,126.7 448.6,125.8 449.1,128.3 449.7,127.3 450.2,127.0 450.8,127.8 451.3,125.2 451.9,126.4 452.4,125.1 453.0,123.7 453.5,124.4 454.1,123.4 454.6,125.1 455.2,126.2 455.7,122.9 456.3,123.7 456.8,121.8 457.4,121.2 457.9,121.8 458.5,121.6 459.0,120.5 459.5,120.1 460.1,118.6 460.6,120.3 461.2,118.9 461.7,119.1 462.3,121.5 462.8,119.5 463.4,119.3 463.9,119.4 464.5,119.8 465.0,119.3 465.6,121.1 466.1,120.7 466.7,122.3 467.2,123.9 467.8,126.6 468.3,127.3 468.9,126.9 469.4,127.6 470.0,125.9 470.5,124.7 471.0,128.0 471.6,130.4 472.1,131.4 472.7,130.4 473.2,132.6 473.8,131.2 474.3,131.7 474.9,128.7 475.4,128.7 476.0,128.6 476.5,131.8 477.1,129.9 477.6,128.9 478.2,131.0 478.7,131.3 479.3,128.3 479.8,129.8 480.4,132.0 480.9,131.6 481.5,134.5 482.0,130.7 482.5,129.3 483.1,130.6 483.6,135.3 484.2,132.1 484.7,134.0 485.3,132.5 485.8,134.3 486.4,134.4 486.9,133.7 487.5,135.4 488.0,135.8 488.6,135.2 489.1,131.6 489.7,129.4 490.2,130.4 490.8,129.3 491.3,131.4 491.9,133.4 492.4,133.3 493.0,134.0 493.5,135.4 494.1,135.4 494.6,134.9 495.1,136.8 495.7,136.0 496.2,136.8 496.8,137.2 497.3,136.2 497.9,136.6 498.4,135.3 499.0,134.6 499.5,133.7 500.1,135.0 500.6,132.6 501.2,135.9 501.7,133.2 502.3,134.4 502.8,136.9 503.4,137.0 503.9,137.3 504.5,137.2 505.0,138.8 505.6,137.8 506.1,133.5 506.6,135.9 507.2,134.7 507.7,132.3 508.3,132.2 508.8,129.3 509.4,128.8 509.9,128.9 510.5,131.3 511.0,131.8 511.6,129.4 512.1,129.4 512.7,128.0 513.2,126.5 513.8,127.2 514.3,129.2 514.9,127.9 515.4,127.4 516.0,128.5 516.5,131.9 517.1,133.6 517.6,131.1 518.1,132.2 518.7,131.5 519.2,132.0 519.8,128.7 520.3,130.4 520.9,129.4 521.4,127.5 522.0,128.2 522.5,129.2 523.1,126.9 523.6,127.7 524.2,128.6 524.7,128.1 525.3,128.2 525.8,129.4 526.4,128.7 526.9,131.3 527.5,130.7 528.0,129.9 528.6,125.8 529.1,128.9 529.7,129.5 530.2,129.6 530.7,130.7 531.3,130.1 531.8,128.2 532.4,129.6 532.9,130.1 533.5,131.7 534.0,129.9 534.6,129.7 535.1,130.2 535.7,130.1 536.2,129.4 536.8,128.8 537.3,129.7 537.9,129.2 538.4,126.9 539.0,125.4 539.5,122.4 540.1,122.8 540.6,125.0 541.2,125.2 541.7,126.8 542.2,129.4 542.8,131.6 543.3,132.6 543.9,132.9 544.4,134.2 545.0,137.7 545.5,136.3 546.1,136.8 546.6,136.3" fill="none" stroke="#3ba676" stroke-width="2.30" stroke-linejoin="round" stroke-linecap="butt"/>
<line x1="380.30" y1="150.20" x2="380.30" y2="13.10" stroke="#000" stroke-opacity="0.50" stroke-width="3.1" stroke-dasharray="11.3 5.63"/>
<line x1="407.40" y1="150.20" x2="407.40" y2="13.10" stroke="#000" stroke-opacity="0.50" stroke-width="3.1" stroke-dasharray="11.3 5.63"/>
</g>
<rect x="405.00" y="17.90" width="145.30" height="43.30" rx="2.5" fill="#fff" fill-opacity="0.8" stroke="#cccccc" stroke-width="1"/>
<line x1="407.80" y1="25.60" x2="428.60" y2="25.60" stroke="#d95f02" stroke-width="1.90"/>
<text x="435.60" y="28.70" font-size="9.98" fill="#1a1a1a" textLength="112.08" lengthAdjust="spacingAndGlyphs">Dew point temperature</text>
<line x1="407.80" y1="39.35" x2="428.60" y2="39.35" stroke="#7570b3" stroke-width="1.90"/>
<text x="435.60" y="42.45" font-size="9.98" fill="#1a1a1a" textLength="103.83" lengthAdjust="spacingAndGlyphs">Ambient temperature</text>
<line x1="407.80" y1="53.10" x2="428.60" y2="53.10" stroke="#3ba676" stroke-width="1.90"/>
<text x="435.60" y="56.20" font-size="9.98" fill="#1a1a1a" textLength="69.25" lengthAdjust="spacingAndGlyphs">Wind direction</text>
<rect x="51.30" y="13.10" width="504.10" height="137.10" fill="none" stroke="#262626" stroke-width="1.0"/>
<line x1="87.40" y1="150.20" x2="87.40" y2="155.70" stroke="#262626" stroke-width="1.00"/>
<line x1="153.11" y1="150.20" x2="153.11" y2="155.70" stroke="#262626" stroke-width="1.00"/>
<line x1="218.82" y1="150.20" x2="218.82" y2="155.70" stroke="#262626" stroke-width="1.00"/>
<line x1="284.53" y1="150.20" x2="284.53" y2="155.70" stroke="#262626" stroke-width="1.00"/>
<line x1="350.24" y1="150.20" x2="350.24" y2="155.70" stroke="#262626" stroke-width="1.00"/>
<line x1="415.95" y1="150.20" x2="415.95" y2="155.70" stroke="#262626" stroke-width="1.00"/>
<line x1="481.66" y1="150.20" x2="481.66" y2="155.70" stroke="#262626" stroke-width="1.00"/>
<line x1="547.37" y1="150.20" x2="547.37" y2="155.70" stroke="#262626" stroke-width="1.00"/>
<line x1="45.80" y1="148.41" x2="51.30" y2="148.41" stroke="#262626" stroke-width="1.00"/>
<line x1="45.80" y1="110.45" x2="51.30" y2="110.45" stroke="#262626" stroke-width="1.00"/>
<line x1="45.80" y1="72.49" x2="51.30" y2="72.49" stroke="#262626" stroke-width="1.00"/>
<line x1="45.80" y1="34.53" x2="51.30" y2="34.53" stroke="#262626" stroke-width="1.00"/>
<line x1="555.40" y1="135.50" x2="560.90" y2="135.50" stroke="#262626" stroke-width="1.00"/>
<line x1="555.40" y1="96.27" x2="560.90" y2="96.27" stroke="#262626" stroke-width="1.00"/>
<line x1="555.40" y1="57.03" x2="560.90" y2="57.03" stroke="#262626" stroke-width="1.00"/>
<line x1="555.40" y1="17.80" x2="560.90" y2="17.80" stroke="#262626" stroke-width="1.00"/>
<text x="42.60" y="152.71" font-size="12.48" text-anchor="end" stroke="#1a1a1a" stroke-width="0.12" fill="#1a1a1a" textLength="17.69" lengthAdjust="spacingAndGlyphs">−2</text>
<text x="42.60" y="114.75" font-size="12.48" text-anchor="end" stroke="#1a1a1a" stroke-width="0.12" fill="#1a1a1a" textLength="7.63" lengthAdjust="spacingAndGlyphs">0</text>
<text x="42.60" y="76.79" font-size="12.48" text-anchor="end" stroke="#1a1a1a" stroke-width="0.12" fill="#1a1a1a" textLength="7.63" lengthAdjust="spacingAndGlyphs">2</text>
<text x="42.60" y="38.83" font-size="12.48" text-anchor="end" stroke="#1a1a1a" stroke-width="0.12" fill="#1a1a1a" textLength="7.63" lengthAdjust="spacingAndGlyphs">4</text>
<text x="564.00" y="139.80" font-size="12.48" stroke="#1a1a1a" stroke-width="0.12" fill="#1a1a1a" textLength="22.91" lengthAdjust="spacingAndGlyphs">200</text>
<text x="564.00" y="100.56" font-size="12.48" stroke="#1a1a1a" stroke-width="0.12" fill="#1a1a1a" textLength="22.91" lengthAdjust="spacingAndGlyphs">250</text>
<text x="564.00" y="61.33" font-size="12.48" stroke="#1a1a1a" stroke-width="0.12" fill="#1a1a1a" textLength="22.91" lengthAdjust="spacingAndGlyphs">300</text>
<text x="564.00" y="22.10" font-size="12.48" stroke="#1a1a1a" stroke-width="0.12" fill="#1a1a1a" textLength="22.91" lengthAdjust="spacingAndGlyphs">350</text>
<text x="36.40" y="10.60" font-size="12.48" font-weight="bold" stroke="#1a1a1a" stroke-width="0.35" fill="#1a1a1a" textLength="14.77" lengthAdjust="spacingAndGlyphs">A)</text>
<g transform="translate(20.3,81.7) rotate(-90)"><text x="0.00" y="0.00" font-size="12.48" text-anchor="middle" font-weight="bold" stroke="#1a1a1a" stroke-width="0.35" fill="#1a1a1a" textLength="110.27" lengthAdjust="spacingAndGlyphs">Temperature [C]</text></g>
<g transform="translate(599.4,82.0) rotate(-90)"><text x="0.00" y="0.00" font-size="12.48" text-anchor="middle" font-weight="bold" stroke="#3aa57f" stroke-width="0.35" fill="#3aa57f" textLength="141.01" lengthAdjust="spacingAndGlyphs">Wind direction [Deg]</text></g>
</g>
<g id="B">
<clipPath id="cB"><rect x="51.30" y="174.00" width="504.10" height="172.40"/></clipPath>
<g clip-path="url(#cB)">
<rect x="51.3" y="174.0" width="498.2" height="172.4" fill="#450559"/>
<rect x="51.5" y="340.9" width="6.1" height="5.6" fill="#470e61"/>
<rect x="51.5" y="335.9" width="6.1" height="5.6" fill="#471063"/>
<rect x="51.5" y="331.0" width="6.1" height="5.6" fill="#471164"/>
<rect x="51.5" y="326.0" width="6.1" height="5.6" fill="#481769"/>
<rect x="51.5" y="321.0" width="6.1" height="5.6" fill="#46327e"/>
<rect x="51.5" y="316.0" width="6.1" height="5.6" fill="#3e4a89"/>
<rect x="51.5" y="311.0" width="6.1" height="5.6" fill="#3b518b"/>
<rect x="51.5" y="306.1" width="6.1" height="5.6" fill="#3a538b"/>
<rect x="51.5" y="301.1" width="6.1" height="5.6" fill="#3e4989"/>
<rect x="51.5" y="296.1" width="6.1" height="5.6" fill="#3c4f8a"/>
<rect x="51.5" y="291.1" width="6.1" height="5.6" fill="#443983"/>
<rect x="51.5" y="286.1" width="6.1" height="5.6" fill="#472c7a"/>
<rect x="51.5" y="281.2" width="6.1" height="5.6" fill="#470d60"/>
<rect x="57.0" y="340.9" width="6.1" height="5.6" fill="#470e61"/>
<rect x="57.0" y="335.9" width="6.1" height="5.6" fill="#471063"/>
<rect x="57.0" y="331.0" width="6.1" height="5.6" fill="#471164"/>
<rect x="57.0" y="326.0" width="6.1" height="5.6" fill="#481769"/>
<rect x="57.0" y="321.0" width="6.1" height="5.6" fill="#453781"/>
<rect x="57.0" y="316.0" width="6.1" height="5.6" fill="#404588"/>
<rect x="57.0" y="311.0" width="6.1" height="5.6" fill="#3d4d8a"/>
<rect x="57.0" y="306.1" width="6.1" height="5.6" fill="#3b528b"/>
<rect x="57.0" y="301.1" width="6.1" height="5.6" fill="#3d4e8a"/>
<rect x="57.0" y="296.1" width="6.1" height="5.6" fill="#414287"/>
<rect x="57.0" y="291.1" width="6.1" height="5.6" fill="#453781"/>
<rect x="57.0" y="286.1" width="6.1" height="5.6" fill="#482677"/>
<rect x="57.0" y="281.2" width="6.1" height="5.6" fill="#470d60"/>
<rect x="62.4" y="340.9" width="6.1" height="5.6" fill="#470e61"/>
<rect x="62.4" y="335.9" width="6.1" height="5.6" fill="#471063"/>
<rect x="62.4" y="331.0" width="6.1" height="5.6" fill="#471164"/>
<rect x="62.4" y="326.0" width="6.1" height="5.6" fill="#481769"/>
<rect x="62.4" y="321.0" width="6.1" height="5.6" fill="#443a83"/>
<rect x="62.4" y="316.0" width="6.1" height="5.6" fill="#3b518b"/>
<rect x="62.4" y="311.0" width="6.1" height="5.6" fill="#38598c"/>
<rect x="62.4" y="306.1" width="6.1" height="5.6" fill="#375b8d"/>
<rect x="62.4" y="301.1" width="6.1" height="5.6" fill="#375b8d"/>
<rect x="62.4" y="296.1" width="6.1" height="5.6" fill="#3c4f8a"/>
<rect x="62.4" y="291.1" width="6.1" height="5.6" fill="#433d84"/>
<rect x="62.4" y="286.1" width="6.1" height="5.6" fill="#472e7c"/>
<rect x="62.4" y="281.2" width="6.1" height="5.6" fill="#470d60"/>
<rect x="67.9" y="340.9" width="6.1" height="5.6" fill="#470e61"/>
<rect x="67.9" y="335.9" width="6.1" height="5.6" fill="#471063"/>
<rect x="67.9" y="331.0" width="6.1" height="5.6" fill="#471164"/>
<rect x="67.9" y="326.0" width="6.1" height="5.6" fill="#471063"/>
<rect x="67.9" y="321.0" width="6.1" height="5.6" fill="#453581"/>
<rect x="67.9" y="316.0" width="6.1" height="5.6" fill="#3e4c8a"/>
<rect x="67.9" y="311.0" width="6.1" height="5.6" fill="#3b518b"/>
<rect x="67.9" y="306.1" width="6.1" height="5.6" fill="#38588c"/>
<rect x="67.9" y="301.1" width="6.1" height="5.6" fill="#39558c"/>
<rect x="67.9" y="296.1" width="6.1" height="5.6" fill="#3d4e8a"/>
<rect x="67.9" y="291.1" width="6.1" height="5.6" fill="#433d84"/>
<rect x="67.9" y="286.1" width="6.1" height="5.6" fill="#472d7b"/>
<rect x="67.9" y="281.2" width="6.1" height="5.6" fill="#470d60"/>
<rect x="73.4" y="340.9" width="6.1" height="5.6" fill="#470e61"/>
<rect x="73.4" y="335.9" width="6.1" height="5.6" fill="#471063"/>
<rect x="73.4" y="331.0" width="6.1" height="5.6" fill="#471164"/>
<rect x="73.4" y="326.0" width="6.1" height="5.6" fill="#481769"/>
<rect x="73.4" y="321.0" width="6.1" height="5.6" fill="#453882"/>
<rect x="73.4" y="316.0" width="6.1" height="5.6" fill="#3f4889"/>
<rect x="73.4" y="311.0" width="6.1" height="5.6" fill="#3a538b"/>
<rect x="73.4" y="306.1" width="6.1" height="5.6" fill="#3a548c"/>
<rect x="73.4" y="301.1" width="6.1" height="5.6" fill="#3c4f8a"/>
<rect x="73.4" y="296.1" width="6.1" height="5.6" fill="#3d4d8a"/>
<rect x="73.4" y="291.1" width="6.1" height="5.6" fill="#443a83"/>
<rect x="73.4" y="286.1" width="6.1" height="5.6" fill="#472c7a"/>
<rect x="73.4" y="281.2" width="6.1" height="5.6" fill="#470d60"/>
<rect x="78.9" y="340.9" width="6.1" height="5.6" fill="#470e61"/>
<rect x="78.9" y="335.9" width="6.1" height="5.6" fill="#471063"/>
<rect x="78.9" y="331.0" width="6.1" height="5.6" fill="#471164"/>
<rect x="78.9" y="326.0" width="6.1" height="5.6" fill="#481d6f"/>
<rect x="78.9" y="321.0" width="6.1" height="5.6" fill="#443b84"/>
<rect x="78.9" y="316.0" width="6.1" height="5.6" fill="#414287"/>
<rect x="78.9" y="311.0" width="6.1" height="5.6" fill="#39558c"/>
<rect x="78.9" y="306.1" width="6.1" height="5.6" fill="#3a538b"/>
<rect x="78.9" y="301.1" width="6.1" height="5.6" fill="#3c508b"/>
<rect x="78.9" y="296.1" width="6.1" height="5.6" fill="#404688"/>
<rect x="78.9" y="291.1" width="6.1" height="5.6" fill="#423f85"/>
<rect x="78.9" y="286.1" width="6.1" height="5.6" fill="#482374"/>
<rect x="78.9" y="281.2" width="6.1" height="5.6" fill="#470d60"/>
<rect x="84.3" y="340.9" width="6.1" height="5.6" fill="#470e61"/>
<rect x="84.3" y="335.9" width="6.1" height="5.6" fill="#471063"/>
<rect x="84.3" y="331.0" width="6.1" height="5.6" fill="#471164"/>
<rect x="84.3" y="326.0" width="6.1" height="5.6" fill="#481a6c"/>
<rect x="84.3" y="321.0" width="6.1" height="5.6" fill="#443a83"/>
<rect x="84.3" y="316.0" width="6.1" height="5.6" fill="#3b518b"/>
<rect x="84.3" y="311.0" width="6.1" height="5.6" fill="#3d4d8a"/>
<rect x="84.3" y="306.1" width="6.1" height="5.6" fill="#3b518b"/>
<rect x="84.3" y="301.1" width="6.1" height="5.6" fill="#3a548c"/>
<rect x="84.3" y="296.1" width="6.1" height="5.6" fill="#3b518b"/>
<rect x="84.3" y="291.1" width="6.1" height="5.6" fill="#433d84"/>
<rect x="84.3" y="286.1" width="6.1" height="5.6" fill="#482677"/>
<rect x="84.3" y="281.2" width="6.1" height="5.6" fill="#470d60"/>
<rect x="89.8" y="340.9" width="6.1" height="5.6" fill="#470e61"/>
<rect x="89.8" y="335.9" width="6.1" height="5.6" fill="#471063"/>
<rect x="89.8" y="331.0" width="6.1" height="5.6" fill="#471164"/>
<rect x="89.8" y="326.0" width="6.1" height="5.6" fill="#481b6d"/>
<rect x="89.8" y="321.0" width="6.1" height="5.6" fill="#453781"/>
<rect x="89.8" y="316.0" width="6.1" height="5.6" fill="#3e4c8a"/>
<rect x="89.8" y="311.0" width="6.1" height="5.6" fill="#3b528b"/>
<rect x="89.8" y="306.1" width="6.1" height="5.6" fill="#3a548c"/>
<rect x="89.8" y="301.1" width="6.1" height="5.6" fill="#38598c"/>
<rect x="89.8" y="296.1" width="6.1" height="5.6" fill="#3d4d8a"/>
<rect x="89.8" y="291.1" width="6.1" height="5.6" fill="#453882"/>
<rect x="89.8" y="286.1" width="6.1" height="5.6" fill="#46307e"/>
<rect x="89.8" y="281.2" width="6.1" height="5.6" fill="#470d60"/>
<rect x="95.3" y="340.9" width="6.1" height="5.6" fill="#470e61"/>
<rect x="95.3" y="335.9" width="6.1" height="5.6" fill="#471063"/>
<rect x="95.3" y="331.0" width="6.1" height="5.6" fill="#471164"/>
<rect x="95.3" y="326.0" width="6.1" height="5.6" fill="#482071"/>
<rect x="95.3" y="321.0" width="6.1" height="5.6" fill="#414287"/>
<rect x="95.3" y="316.0" width="6.1" height="5.6" fill="#3e4c8a"/>
<rect x="95.3" y="311.0" width="6.1" height="5.6" fill="#38588c"/>
<rect x="95.3" y="306.1" width="6.1" height="5.6" fill="#375b8d"/>
<rect x="95.3" y="301.1" width="6.1" height="5.6" fill="#3a548c"/>
<rect x="95.3" y="296.1" width="6.1" height="5.6" fill="#3c4f8a"/>
<rect x="95.3" y="291.1" width="6.1" height="5.6" fill="#433e85"/>
<rect x="95.3" y="286.1" width="6.1" height="5.6" fill="#472d7b"/>
<rect x="95.3" y="281.2" width="6.1" height="5.6" fill="#470d60"/>
<rect x="100.8" y="340.9" width="6.1" height="5.6" fill="#470e61"/>
<rect x="100.8" y="335.9" width="6.1" height="5.6" fill="#471063"/>
<rect x="100.8" y="331.0" width="6.1" height="5.6" fill="#471164"/>
<rect x="100.8" y="326.0" width="6.1" height="5.6" fill="#470d60"/>
<rect x="100.8" y="321.0" width="6.1" height="5.6" fill="#472e7c"/>
<rect x="100.8" y="316.0" width="6.1" height="5.6" fill="#3e4a89"/>
<rect x="100.8" y="311.0" width="6.1" height="5.6" fill="#3c508b"/>
<rect x="100.8" y="306.1" width="6.1" height="5.6" fill="#3a538b"/>
<rect x="100.8" y="301.1" width="6.1" height="5.6" fill="#3b528b"/>
<rect x="100.8" y="296.1" width="6.1" height="5.6" fill="#3d4e8a"/>
<rect x="100.8" y="291.1" width="6.1" height="5.6" fill="#433d84"/>
<rect x="100.8" y="286.1" width="6.1" height="5.6" fill="#472d7b"/>
<rect x="100.8" y="281.2" width="6.1" height="5.6" fill="#470d60"/>
<rect x="106.2" y="340.9" width="6.1" height="5.6" fill="#470e61"/>
<rect x="106.2" y="335.9" width="6.1" height="5.6" fill="#471063"/>
<rect x="106.2" y="331.0" width="6.1" height="5.6" fill="#471164"/>
<rect x="106.2" y="326.0" width="6.1" height="5.6" fill="#481769"/>
<rect x="106.2" y="321.0" width="6.1" height="5.6" fill="#453581"/>
<rect x="106.2" y="316.0" width="6.1" height="5.6" fill="#3e4c8a"/>
<rect x="106.2" y="311.0" width="6.1" height="5.6" fill="#3a548c"/>
<rect x="106.2" y="306.1" width="6.1" height="5.6" fill="#3d4d8a"/>
<rect x="106.2" y="301.1" width="6.1" height="5.6" fill="#3a538b"/>
<rect x="106.2" y="296.1" width="6.1" height="5.6" fill="#3d4d8a"/>
<rect x="106.2" y="291.1" width="6.1" height="5.6" fill="#424086"/>
<rect x="106.2" y="286.1" width="6.1" height="5.6" fill="#472d7b"/>
<rect x="106.2" y="281.2" width="6.1" height="5.6" fill="#470d60"/>
<rect x="111.7" y="340.9" width="6.1" height="5.6" fill="#470e61"/>
<rect x="111.7" y="335.9" width="6.1" height="5.6" fill="#471063"/>
<rect x="111.7" y="331.0" width="6.1" height="5.6" fill="#471164"/>
<rect x="111.7" y="326.0" width="6.1" height="5.6" fill="#482173"/>
<rect x="111.7" y="321.0" width="6.1" height="5.6" fill="#46307e"/>
<rect x="111.7" y="316.0" width="6.1" height="5.6" fill="#3e4a89"/>
<rect x="111.7" y="311.0" width="6.1" height="5.6" fill="#3a548c"/>
<rect x="111.7" y="306.1" width="6.1" height="5.6" fill="#3a548c"/>
<rect x="111.7" y="301.1" width="6.1" height="5.6" fill="#3a538b"/>
<rect x="111.7" y="296.1" width="6.1" height="5.6" fill="#3e4c8a"/>
<rect x="111.7" y="291.1" width="6.1" height="5.6" fill="#443b84"/>
<rect x="111.7" y="286.1" width="6.1" height="5.6" fill="#482374"/>
<rect x="111.7" y="281.2" width="6.1" height="5.6" fill="#470d60"/>
<rect x="117.2" y="340.9" width="6.1" height="5.6" fill="#470e61"/>
<rect x="117.2" y="335.9" width="6.1" height="5.6" fill="#471063"/>
<rect x="117.2" y="331.0" width="6.1" height="5.6" fill="#471164"/>
<rect x="117.2" y="326.0" width="6.1" height="5.6" fill="#481b6d"/>
<rect x="117.2" y="321.0" width="6.1" height="5.6" fill="#453581"/>
<rect x="117.2" y="316.0" width="6.1" height="5.6" fill="#3e4989"/>
<rect x="117.2" y="311.0" width="6.1" height="5.6" fill="#3a538b"/>
<rect x="117.2" y="306.1" width="6.1" height="5.6" fill="#3c508b"/>
<rect x="117.2" y="301.1" width="6.1" height="5.6" fill="#3c508b"/>
<rect x="117.2" y="296.1" width="6.1" height="5.6" fill="#3f4889"/>
<rect x="117.2" y="291.1" width="6.1" height="5.6" fill="#443b84"/>
<rect x="117.2" y="286.1" width="6.1" height="5.6" fill="#482979"/>
<rect x="117.2" y="281.2" width="6.1" height="5.6" fill="#470d60"/>
<rect x="122.6" y="340.9" width="6.1" height="5.6" fill="#470e61"/>
<rect x="122.6" y="335.9" width="6.1" height="5.6" fill="#471063"/>
<rect x="122.6" y="331.0" width="6.1" height="5.6" fill="#471164"/>
<rect x="122.6" y="326.0" width="6.1" height="5.6" fill="#48186a"/>
<rect x="122.6" y="321.0" width="6.1" height="5.6" fill="#46337f"/>
<rect x="122.6" y="316.0" width="6.1" height="5.6" fill="#3e4c8a"/>
<rect x="122.6" y="311.0" width="6.1" height="5.6" fill="#3b528b"/>
<rect x="122.6" y="306.1" width="6.1" height="5.6" fill="#3c508b"/>
<rect x="122.6" y="301.1" width="6.1" height="5.6" fill="#3c508b"/>
<rect x="122.6" y="296.1" width="6.1" height="5.6" fill="#3c508b"/>
<rect x="122.6" y="291.1" width="6.1" height="5.6" fill="#433d84"/>
<rect x="122.6" y="286.1" width="6.1" height="5.6" fill="#482576"/>
<rect x="122.6" y="281.2" width="6.1" height="5.6" fill="#470d60"/>
<rect x="128.1" y="340.9" width="6.1" height="5.6" fill="#470e61"/>
<rect x="128.1" y="335.9" width="6.1" height="5.6" fill="#471063"/>
<rect x="128.1" y="331.0" width="6.1" height="5.6" fill="#471164"/>
<rect x="128.1" y="326.0" width="6.1" height="5.6" fill="#481a6c"/>
<rect x="128.1" y="321.0" width="6.1" height="5.6" fill="#472d7b"/>
<rect x="128.1" y="316.0" width="6.1" height="5.6" fill="#3f4889"/>
<rect x="128.1" y="311.0" width="6.1" height="5.6" fill="#3a548c"/>
<rect x="128.1" y="306.1" width="6.1" height="5.6" fill="#3b518b"/>
<rect x="128.1" y="301.1" width="6.1" height="5.6" fill="#3c508b"/>
<rect x="128.1" y="296.1" width="6.1" height="5.6" fill="#3e4c8a"/>
<rect x="128.1" y="291.1" width="6.1" height="5.6" fill="#443a83"/>
<rect x="128.1" y="286.1" width="6.1" height="5.6" fill="#482979"/>
<rect x="128.1" y="281.2" width="6.1" height="5.6" fill="#470d60"/>
<rect x="133.6" y="340.9" width="6.1" height="5.6" fill="#470e61"/>
<rect x="133.6" y="335.9" width="6.1" height="5.6" fill="#471063"/>
<rect x="133.6" y="331.0" width="6.1" height="5.6" fill="#471164"/>
<rect x="133.6" y="326.0" width="6.1" height="5.6" fill="#471164"/>
<rect x="133.6" y="321.0" width="6.1" height="5.6" fill="#46327e"/>
<rect x="133.6" y="316.0" width="6.1" height="5.6" fill="#3e4a89"/>
<rect x="133.6" y="311.0" width="6.1" height="5.6" fill="#3b518b"/>
<rect x="133.6" y="306.1" width="6.1" height="5.6" fill="#3e4a89"/>
<rect x="133.6" y="301.1" width="6.1" height="5.6" fill="#3c4f8a"/>
<rect x="133.6" y="296.1" width="6.1" height="5.6" fill="#414487"/>
<rect x="133.6" y="291.1" width="6.1" height="5.6" fill="#453781"/>
<rect x="133.6" y="286.1" width="6.1" height="5.6" fill="#482677"/>
<rect x="133.6" y="281.2" width="6.1" height="5.6" fill="#470d60"/>
<rect x="139.1" y="340.9" width="6.1" height="5.6" fill="#470e61"/>
<rect x="139.1" y="335.9" width="6.1" height="5.6" fill="#471063"/>
<rect x="139.1" y="331.0" width="6.1" height="5.6" fill="#471164"/>
<rect x="139.1" y="326.0" width="6.1" height="5.6" fill="#471164"/>
<rect x="139.1" y="321.0" width="6.1" height="5.6" fill="#46327e"/>
<rect x="139.1" y="316.0" width="6.1" height="5.6" fill="#3d4e8a"/>
<rect x="139.1" y="311.0" width="6.1" height="5.6" fill="#375b8d"/>
<rect x="139.1" y="306.1" width="6.1" height="5.6" fill="#3a538b"/>
<rect x="139.1" y="301.1" width="6.1" height="5.6" fill="#39568c"/>
<rect x="139.1" y="296.1" width="6.1" height="5.6" fill="#3e4a89"/>
<rect x="139.1" y="291.1" width="6.1" height="5.6" fill="#463480"/>
<rect x="139.1" y="286.1" width="6.1" height="5.6" fill="#472a7a"/>
<rect x="139.1" y="281.2" width="6.1" height="5.6" fill="#470d60"/>
<rect x="144.5" y="340.9" width="6.1" height="5.6" fill="#470e61"/>
<rect x="144.5" y="335.9" width="6.1" height="5.6" fill="#471063"/>
<rect x="144.5" y="331.0" width="6.1" height="5.6" fill="#471164"/>
<rect x="144.5" y="326.0" width="6.1" height="5.6" fill="#471164"/>
<rect x="144.5" y="321.0" width="6.1" height="5.6" fill="#46337f"/>
<rect x="144.5" y="316.0" width="6.1" height="5.6" fill="#3f4889"/>
<rect x="144.5" y="311.0" width="6.1" height="5.6" fill="#3b528b"/>
<rect x="144.5" y="306.1" width="6.1" height="5.6" fill="#39558c"/>
<rect x="144.5" y="301.1" width="6.1" height="5.6" fill="#38588c"/>
<rect x="144.5" y="296.1" width="6.1" height="5.6" fill="#3e4989"/>
<rect x="144.5" y="291.1" width="6.1" height="5.6" fill="#433e85"/>
<rect x="144.5" y="286.1" width="6.1" height="5.6" fill="#472d7b"/>
<rect x="144.5" y="281.2" width="6.1" height="5.6" fill="#470d60"/>
<rect x="150.0" y="340.9" width="6.1" height="5.6" fill="#470e61"/>
<rect x="150.0" y="335.9" width="6.1" height="5.6" fill="#471063"/>
<rect x="150.0" y="331.0" width="6.1" height="5.6" fill="#471164"/>
<rect x="150.0" y="326.0" width="6.1" height="5.6" fill="#481c6e"/>
<rect x="150.0" y="321.0" width="6.1" height="5.6" fill="#46337f"/>
<rect x="150.0" y="316.0" width="6.1" height="5.6" fill="#3d4d8a"/>
<rect x="150.0" y="311.0" width="6.1" height="5.6" fill="#375a8c"/>
<rect x="150.0" y="306.1" width="6.1" height="5.6" fill="#39558c"/>
<rect x="150.0" y="301.1" width="6.1" height="5.6" fill="#3b518b"/>
<rect x="150.0" y="296.1" width="6.1" height="5.6" fill="#3b528b"/>
<rect x="150.0" y="291.1" width="6.1" height="5.6" fill="#453882"/>
<rect x="150.0" y="286.1" width="6.1" height="5.6" fill="#472c7a"/>
<rect x="150.0" y="281.2" width="6.1" height="5.6" fill="#470d60"/>
<rect x="155.5" y="340.9" width="6.1" height="5.6" fill="#470e61"/>
<rect x="155.5" y="335.9" width="6.1" height="5.6" fill="#471063"/>
<rect x="155.5" y="331.0" width="6.1" height="5.6" fill="#471164"/>
<rect x="155.5" y="326.0" width="6.1" height="5.6" fill="#481b6d"/>
<rect x="155.5" y="321.0" width="6.1" height="5.6" fill="#46327e"/>
<rect x="155.5" y="316.0" width="6.1" height="5.6" fill="#424086"/>
<rect x="155.5" y="311.0" width="6.1" height="5.6" fill="#3c4f8a"/>
<rect x="155.5" y="306.1" width="6.1" height="5.6" fill="#3b518b"/>
<rect x="155.5" y="301.1" width="6.1" height="5.6" fill="#3b528b"/>
<rect x="155.5" y="296.1" width="6.1" height="5.6" fill="#3e4989"/>
<rect x="155.5" y="291.1" width="6.1" height="5.6" fill="#443a83"/>
<rect x="155.5" y="286.1" width="6.1" height="5.6" fill="#472a7a"/>
<rect x="155.5" y="281.2" width="6.1" height="5.6" fill="#470d60"/>
<rect x="161.0" y="340.9" width="6.1" height="5.6" fill="#470e61"/>
<rect x="161.0" y="335.9" width="6.1" height="5.6" fill="#471063"/>
<rect x="161.0" y="331.0" width="6.1" height="5.6" fill="#471164"/>
<rect x="161.0" y="326.0" width="6.1" height="5.6" fill="#471365"/>
<rect x="161.0" y="321.0" width="6.1" height="5.6" fill="#46327e"/>
<rect x="161.0" y="316.0" width="6.1" height="5.6" fill="#3c4f8a"/>
<rect x="161.0" y="311.0" width="6.1" height="5.6" fill="#3a548c"/>
<rect x="161.0" y="306.1" width="6.1" height="5.6" fill="#3b518b"/>
<rect x="161.0" y="301.1" width="6.1" height="5.6" fill="#3b528b"/>
<rect x="161.0" y="296.1" width="6.1" height="5.6" fill="#3f4889"/>
<rect x="161.0" y="291.1" width="6.1" height="5.6" fill="#443b84"/>
<rect x="161.0" y="286.1" width="6.1" height="5.6" fill="#482677"/>
<rect x="161.0" y="281.2" width="6.1" height="5.6" fill="#470d60"/>
<rect x="166.4" y="340.9" width="6.1" height="5.6" fill="#470e61"/>
<rect x="166.4" y="335.9" width="6.1" height="5.6" fill="#471063"/>
<rect x="166.4" y="331.0" width="6.1" height="5.6" fill="#471164"/>
<rect x="166.4" y="326.0" width="6.1" height="5.6" fill="#481769"/>
<rect x="166.4" y="321.0" width="6.1" height="5.6" fill="#46327e"/>
<rect x="166.4" y="316.0" width="6.1" height="5.6" fill="#3f4889"/>
<rect x="166.4" y="311.0" width="6.1" height="5.6" fill="#3d4e8a"/>
<rect x="166.4" y="306.1" width="6.1" height="5.6" fill="#3b528b"/>
<rect x="166.4" y="301.1" width="6.1" height="5.6" fill="#365d8d"/>
<rect x="166.4" y="296.1" width="6.1" height="5.6" fill="#404588"/>
<rect x="166.4" y="291.1" width="6.1" height="5.6" fill="#443b84"/>
<rect x="166.4" y="286.1" width="6.1" height="5.6" fill="#482677"/>
<rect x="166.4" y="281.2" width="6.1" height="5.6" fill="#470d60"/>
<rect x="171.9" y="340.9" width="6.1" height="5.6" fill="#470e61"/>
<rect x="171.9" y="335.9" width="6.1" height="5.6" fill="#471063"/>
<rect x="171.9" y="331.0" width="6.1" height="5.6" fill="#471164"/>
<rect x="171.9" y="326.0" width="6.1" height="5.6" fill="#481f70"/>
<rect x="171.9" y="321.0" width="6.1" height="5.6" fill="#46327e"/>
<rect x="171.9" y="316.0" width="6.1" height="5.6" fill="#3e4989"/>
<rect x="171.9" y="311.0" width="6.1" height="5.6" fill="#355e8d"/>
<rect x="171.9" y="306.1" width="6.1" height="5.6" fill="#3c4f8a"/>
<rect x="171.9" y="301.1" width="6.1" height="5.6" fill="#3d4e8a"/>
<rect x="171.9" y="296.1" width="6.1" height="5.6" fill="#3e4a89"/>
<rect x="171.9" y="291.1" width="6.1" height="5.6" fill="#443a83"/>
<rect x="171.9" y="286.1" width="6.1" height="5.6" fill="#472d7b"/>
<rect x="171.9" y="281.2" width="6.1" height="5.6" fill="#470d60"/>
<rect x="177.4" y="340.9" width="6.1" height="5.6" fill="#470e61"/>
<rect x="177.4" y="335.9" width="6.1" height="5.6" fill="#471063"/>
<rect x="177.4" y="331.0" width="6.1" height="5.6" fill="#471164"/>
<rect x="177.4" y="326.0" width="6.1" height="5.6" fill="#46085c"/>
<rect x="177.4" y="321.0" width="6.1" height="5.6" fill="#472f7d"/>
<rect x="177.4" y="316.0" width="6.1" height="5.6" fill="#423f85"/>
<rect x="177.4" y="311.0" width="6.1" height="5.6" fill="#3d4e8a"/>
<rect x="177.4" y="306.1" width="6.1" height="5.6" fill="#3e4a89"/>
<rect x="177.4" y="301.1" width="6.1" height="5.6" fill="#3b518b"/>
<rect x="177.4" y="296.1" width="6.1" height="5.6" fill="#3f4788"/>
<rect x="177.4" y="291.1" width="6.1" height="5.6" fill="#443983"/>
<rect x="177.4" y="286.1" width="6.1" height="5.6" fill="#482576"/>
<rect x="177.4" y="281.2" width="6.1" height="5.6" fill="#470d60"/>
<rect x="182.8" y="340.9" width="6.1" height="5.6" fill="#470e61"/>
<rect x="182.8" y="335.9" width="6.1" height="5.6" fill="#471063"/>
<rect x="182.8" y="331.0" width="6.1" height="5.6" fill="#471164"/>
<rect x="182.8" y="326.0" width="6.1" height="5.6" fill="#481b6d"/>
<rect x="182.8" y="321.0" width="6.1" height="5.6" fill="#46307e"/>
<rect x="182.8" y="316.0" width="6.1" height="5.6" fill="#424186"/>
<rect x="182.8" y="311.0" width="6.1" height="5.6" fill="#3f4889"/>
<rect x="182.8" y="306.1" width="6.1" height="5.6" fill="#3f4889"/>
<rect x="182.8" y="301.1" width="6.1" height="5.6" fill="#3f4788"/>
<rect x="182.8" y="296.1" width="6.1" height="5.6" fill="#453882"/>
<rect x="182.8" y="291.1" width="6.1" height="5.6" fill="#443983"/>
<rect x="182.8" y="286.1" width="6.1" height="5.6" fill="#482878"/>
<rect x="182.8" y="281.2" width="6.1" height="5.6" fill="#470d60"/>
<rect x="188.3" y="340.9" width="6.1" height="5.6" fill="#470e61"/>
<rect x="188.3" y="335.9" width="6.1" height="5.6" fill="#471063"/>
<rect x="188.3" y="331.0" width="6.1" height="5.6" fill="#471164"/>
<rect x="188.3" y="326.0" width="6.1" height="5.6" fill="#481769"/>
<rect x="188.3" y="321.0" width="6.1" height="5.6" fill="#453781"/>
<rect x="188.3" y="316.0" width="6.1" height="5.6" fill="#3c4f8a"/>
<rect x="188.3" y="311.0" width="6.1" height="5.6" fill="#375a8c"/>
<rect x="188.3" y="306.1" width="6.1" height="5.6" fill="#38588c"/>
<rect x="188.3" y="301.1" width="6.1" height="5.6" fill="#3d4d8a"/>
<rect x="188.3" y="296.1" width="6.1" height="5.6" fill="#414287"/>
<rect x="188.3" y="291.1" width="6.1" height="5.6" fill="#433d84"/>
<rect x="188.3" y="286.1" width="6.1" height="5.6" fill="#482979"/>
<rect x="188.3" y="281.2" width="6.1" height="5.6" fill="#470d60"/>
<rect x="193.8" y="340.9" width="6.1" height="5.6" fill="#470e61"/>
<rect x="193.8" y="335.9" width="6.1" height="5.6" fill="#471063"/>
<rect x="193.8" y="331.0" width="6.1" height="5.6" fill="#471164"/>
<rect x="193.8" y="326.0" width="6.1" height="5.6" fill="#481467"/>
<rect x="193.8" y="321.0" width="6.1" height="5.6" fill="#46337f"/>
<rect x="193.8" y="316.0" width="6.1" height="5.6" fill="#3f4788"/>
<rect x="193.8" y="311.0" width="6.1" height="5.6" fill="#3c4f8a"/>
<rect x="193.8" y="306.1" width="6.1" height="5.6" fill="#3c4f8a"/>
<rect x="193.8" y="301.1" width="6.1" height="5.6" fill="#3d4d8a"/>
<rect x="193.8" y="296.1" width="6.1" height="5.6" fill="#3e4989"/>
<rect x="193.8" y="291.1" width="6.1" height="5.6" fill="#443a83"/>
<rect x="193.8" y="286.1" width="6.1" height="5.6" fill="#482475"/>
<rect x="193.8" y="281.2" width="6.1" height="5.6" fill="#470d60"/>
<rect x="199.3" y="340.9" width="6.1" height="5.6" fill="#470e61"/>
<rect x="199.3" y="335.9" width="6.1" height="5.6" fill="#471063"/>
<rect x="199.3" y="331.0" width="6.1" height="5.6" fill="#471164"/>
<rect x="199.3" y="326.0" width="6.1" height="5.6" fill="#481467"/>
<rect x="199.3" y="321.0" width="6.1" height="5.6" fill="#472d7b"/>
<rect x="199.3" y="316.0" width="6.1" height="5.6" fill="#414487"/>
<rect x="199.3" y="311.0" width="6.1" height="5.6" fill="#3d4e8a"/>
<rect x="199.3" y="306.1" width="6.1" height="5.6" fill="#3d4e8a"/>
<rect x="199.3" y="301.1" width="6.1" height="5.6" fill="#404688"/>
<rect x="199.3" y="296.1" width="6.1" height="5.6" fill="#414287"/>
<rect x="199.3" y="291.1" width="6.1" height="5.6" fill="#453581"/>
<rect x="199.3" y="286.1" width="6.1" height="5.6" fill="#472d7b"/>
<rect x="199.3" y="281.2" width="6.1" height="5.6" fill="#470d60"/>
<rect x="204.7" y="340.9" width="6.1" height="5.6" fill="#470e61"/>
<rect x="204.7" y="335.9" width="6.1" height="5.6" fill="#471063"/>
<rect x="204.7" y="331.0" width="6.1" height="5.6" fill="#471164"/>
<rect x="204.7" y="326.0" width="6.1" height="5.6" fill="#48186a"/>
<rect x="204.7" y="321.0" width="6.1" height="5.6" fill="#443983"/>
<rect x="204.7" y="316.0" width="6.1" height="5.6" fill="#3f4788"/>
<rect x="204.7" y="311.0" width="6.1" height="5.6" fill="#3b518b"/>
<rect x="204.7" y="306.1" width="6.1" height="5.6" fill="#3c508b"/>
<rect x="204.7" y="301.1" width="6.1" height="5.6" fill="#3e4c8a"/>
<rect x="204.7" y="296.1" width="6.1" height="5.6" fill="#3e4989"/>
<rect x="204.7" y="291.1" width="6.1" height="5.6" fill="#453882"/>
<rect x="204.7" y="286.1" width="6.1" height="5.6" fill="#482475"/>
<rect x="204.7" y="281.2" width="6.1" height="5.6" fill="#470d60"/>
<rect x="210.2" y="340.9" width="6.1" height="5.6" fill="#470e61"/>
<rect x="210.2" y="335.9" width="6.1" height="5.6" fill="#471063"/>
<rect x="210.2" y="331.0" width="6.1" height="5.6" fill="#471164"/>
<rect x="210.2" y="326.0" width="6.1" height="5.6" fill="#481c6e"/>
<rect x="210.2" y="321.0" width="6.1" height="5.6" fill="#463480"/>
<rect x="210.2" y="316.0" width="6.1" height="5.6" fill="#3f4889"/>
<rect x="210.2" y="311.0" width="6.1" height="5.6" fill="#3c4f8a"/>
<rect x="210.2" y="306.1" width="6.1" height="5.6" fill="#3e4c8a"/>
<rect x="210.2" y="301.1" width="6.1" height="5.6" fill="#3e4989"/>
<rect x="210.2" y="296.1" width="6.1" height="5.6" fill="#414487"/>
<rect x="210.2" y="291.1" width="6.1" height="5.6" fill="#443a83"/>
<rect x="210.2" y="286.1" width="6.1" height="5.6" fill="#482677"/>
<rect x="210.2" y="281.2" width="6.1" height="5.6" fill="#470d60"/>
<rect x="215.7" y="340.9" width="6.1" height="5.6" fill="#470e61"/>
<rect x="215.7" y="335.9" width="6.1" height="5.6" fill="#471063"/>
<rect x="215.7" y="331.0" width="6.1" height="5.6" fill="#471164"/>
<rect x="215.7" y="326.0" width="6.1" height="5.6" fill="#471164"/>
<rect x="215.7" y="321.0" width="6.1" height="5.6" fill="#46337f"/>
<rect x="215.7" y="316.0" width="6.1" height="5.6" fill="#404688"/>
<rect x="215.7" y="311.0" width="6.1" height="5.6" fill="#3e4a89"/>
<rect x="215.7" y="306.1" width="6.1" height="5.6" fill="#3b528b"/>
<rect x="215.7" y="301.1" width="6.1" height="5.6" fill="#39568c"/>
<rect x="215.7" y="296.1" width="6.1" height="5.6" fill="#414287"/>
<rect x="215.7" y="291.1" width="6.1" height="5.6" fill="#424086"/>
<rect x="215.7" y="286.1" width="6.1" height="5.6" fill="#482475"/>
<rect x="215.7" y="281.2" width="6.1" height="5.6" fill="#470d60"/>
<rect x="221.1" y="340.9" width="6.1" height="5.6" fill="#470e61"/>
<rect x="221.1" y="335.9" width="6.1" height="5.6" fill="#471063"/>
<rect x="221.1" y="331.0" width="6.1" height="5.6" fill="#471164"/>
<rect x="221.1" y="326.0" width="6.1" height="5.6" fill="#481467"/>
<rect x="221.1" y="321.0" width="6.1" height="5.6" fill="#46337f"/>
<rect x="221.1" y="316.0" width="6.1" height="5.6" fill="#414287"/>
<rect x="221.1" y="311.0" width="6.1" height="5.6" fill="#3b518b"/>
<rect x="221.1" y="306.1" width="6.1" height="5.6" fill="#39558c"/>
<rect x="221.1" y="301.1" width="6.1" height="5.6" fill="#3e4a89"/>
<rect x="221.1" y="296.1" width="6.1" height="5.6" fill="#3f4889"/>
<rect x="221.1" y="291.1" width="6.1" height="5.6" fill="#443b84"/>
<rect x="221.1" y="286.1" width="6.1" height="5.6" fill="#472d7b"/>
<rect x="221.1" y="281.2" width="6.1" height="5.6" fill="#470d60"/>
<rect x="226.6" y="340.9" width="6.1" height="5.6" fill="#470e61"/>
<rect x="226.6" y="335.9" width="6.1" height="5.6" fill="#471063"/>
<rect x="226.6" y="331.0" width="6.1" height="5.6" fill="#471164"/>
<rect x="226.6" y="326.0" width="6.1" height="5.6" fill="#481769"/>
<rect x="226.6" y="321.0" width="6.1" height="5.6" fill="#443983"/>
<rect x="226.6" y="316.0" width="6.1" height="5.6" fill="#3c508b"/>
<rect x="226.6" y="311.0" width="6.1" height="5.6" fill="#3a548c"/>
<rect x="226.6" y="306.1" width="6.1" height="5.6" fill="#3b528b"/>
<rect x="226.6" y="301.1" width="6.1" height="5.6" fill="#3a548c"/>
<rect x="226.6" y="296.1" width="6.1" height="5.6" fill="#414487"/>
<rect x="226.6" y="291.1" width="6.1" height="5.6" fill="#443b84"/>
<rect x="226.6" y="286.1" width="6.1" height="5.6" fill="#482576"/>
<rect x="226.6" y="281.2" width="6.1" height="5.6" fill="#470d60"/>
<rect x="232.1" y="340.9" width="6.1" height="5.6" fill="#470e61"/>
<rect x="232.1" y="335.9" width="6.1" height="5.6" fill="#471063"/>
<rect x="232.1" y="331.0" width="6.1" height="5.6" fill="#471164"/>
<rect x="232.1" y="326.0" width="6.1" height="5.6" fill="#481b6d"/>
<rect x="232.1" y="321.0" width="6.1" height="5.6" fill="#443a83"/>
<rect x="232.1" y="316.0" width="6.1" height="5.6" fill="#404688"/>
<rect x="232.1" y="311.0" width="6.1" height="5.6" fill="#39558c"/>
<rect x="232.1" y="306.1" width="6.1" height="5.6" fill="#3a548c"/>
<rect x="232.1" y="301.1" width="6.1" height="5.6" fill="#3e4c8a"/>
<rect x="232.1" y="296.1" width="6.1" height="5.6" fill="#3d4e8a"/>
<rect x="232.1" y="291.1" width="6.1" height="5.6" fill="#424086"/>
<rect x="232.1" y="286.1" width="6.1" height="5.6" fill="#472a7a"/>
<rect x="232.1" y="281.2" width="6.1" height="5.6" fill="#470d60"/>
<rect x="237.6" y="340.9" width="6.1" height="5.6" fill="#470e61"/>
<rect x="237.6" y="335.9" width="6.1" height="5.6" fill="#471063"/>
<rect x="237.6" y="331.0" width="6.1" height="5.6" fill="#471164"/>
<rect x="237.6" y="326.0" width="6.1" height="5.6" fill="#471063"/>
<rect x="237.6" y="321.0" width="6.1" height="5.6" fill="#46337f"/>
<rect x="237.6" y="316.0" width="6.1" height="5.6" fill="#424186"/>
<rect x="237.6" y="311.0" width="6.1" height="5.6" fill="#414487"/>
<rect x="237.6" y="306.1" width="6.1" height="5.6" fill="#3e4a89"/>
<rect x="237.6" y="301.1" width="6.1" height="5.6" fill="#404688"/>
<rect x="237.6" y="296.1" width="6.1" height="5.6" fill="#404588"/>
<rect x="237.6" y="291.1" width="6.1" height="5.6" fill="#46307e"/>
<rect x="237.6" y="286.1" width="6.1" height="5.6" fill="#482979"/>
<rect x="237.6" y="281.2" width="6.1" height="5.6" fill="#470d60"/>
<rect x="243.0" y="340.9" width="6.1" height="5.6" fill="#470e61"/>
<rect x="243.0" y="335.9" width="6.1" height="5.6" fill="#471063"/>
<rect x="243.0" y="331.0" width="6.1" height="5.6" fill="#471164"/>
<rect x="243.0" y="326.0" width="6.1" height="5.6" fill="#481769"/>
<rect x="243.0" y="321.0" width="6.1" height="5.6" fill="#472f7d"/>
<rect x="243.0" y="316.0" width="6.1" height="5.6" fill="#424086"/>
<rect x="243.0" y="311.0" width="6.1" height="5.6" fill="#3b528b"/>
<rect x="243.0" y="306.1" width="6.1" height="5.6" fill="#3c508b"/>
<rect x="243.0" y="301.1" width="6.1" height="5.6" fill="#3e4a89"/>
<rect x="243.0" y="296.1" width="6.1" height="5.6" fill="#3f4788"/>
<rect x="243.0" y="291.1" width="6.1" height="5.6" fill="#46337f"/>
<rect x="243.0" y="286.1" width="6.1" height="5.6" fill="#482173"/>
<rect x="243.0" y="281.2" width="6.1" height="5.6" fill="#470d60"/>
<rect x="248.5" y="340.9" width="6.1" height="5.6" fill="#470e61"/>
<rect x="248.5" y="335.9" width="6.1" height="5.6" fill="#471063"/>
<rect x="248.5" y="331.0" width="6.1" height="5.6" fill="#471164"/>
<rect x="248.5" y="326.0" width="6.1" height="5.6" fill="#481a6c"/>
<rect x="248.5" y="321.0" width="6.1" height="5.6" fill="#46307e"/>
<rect x="248.5" y="316.0" width="6.1" height="5.6" fill="#404688"/>
<rect x="248.5" y="311.0" width="6.1" height="5.6" fill="#3e4a89"/>
<rect x="248.5" y="306.1" width="6.1" height="5.6" fill="#3e4a89"/>
<rect x="248.5" y="301.1" width="6.1" height="5.6" fill="#3e4c8a"/>
<rect x="248.5" y="296.1" width="6.1" height="5.6" fill="#414487"/>
<rect x="248.5" y="291.1" width="6.1" height="5.6" fill="#453882"/>
<rect x="248.5" y="286.1" width="6.1" height="5.6" fill="#482071"/>
<rect x="248.5" y="281.2" width="6.1" height="5.6" fill="#470d60"/>
<rect x="254.0" y="340.9" width="6.1" height="5.6" fill="#470e61"/>
<rect x="254.0" y="335.9" width="6.1" height="5.6" fill="#471063"/>
<rect x="254.0" y="331.0" width="6.1" height="5.6" fill="#471164"/>
<rect x="254.0" y="326.0" width="6.1" height="5.6" fill="#481d6f"/>
<rect x="254.0" y="321.0" width="6.1" height="5.6" fill="#453882"/>
<rect x="254.0" y="316.0" width="6.1" height="5.6" fill="#3e4a89"/>
<rect x="254.0" y="311.0" width="6.1" height="5.6" fill="#3e4c8a"/>
<rect x="254.0" y="306.1" width="6.1" height="5.6" fill="#3d4e8a"/>
<rect x="254.0" y="301.1" width="6.1" height="5.6" fill="#3d4e8a"/>
<rect x="254.0" y="296.1" width="6.1" height="5.6" fill="#404588"/>
<rect x="254.0" y="291.1" width="6.1" height="5.6" fill="#433e85"/>
<rect x="254.0" y="286.1" width="6.1" height="5.6" fill="#482979"/>
<rect x="254.0" y="281.2" width="6.1" height="5.6" fill="#470d60"/>
<rect x="259.5" y="340.9" width="6.1" height="5.6" fill="#470e61"/>
<rect x="259.5" y="335.9" width="6.1" height="5.6" fill="#471063"/>
<rect x="259.5" y="331.0" width="6.1" height="5.6" fill="#471164"/>
<rect x="259.5" y="326.0" width="6.1" height="5.6" fill="#481668"/>
<rect x="259.5" y="321.0" width="6.1" height="5.6" fill="#472a7a"/>
<rect x="259.5" y="316.0" width="6.1" height="5.6" fill="#443b84"/>
<rect x="259.5" y="311.0" width="6.1" height="5.6" fill="#404688"/>
<rect x="259.5" y="306.1" width="6.1" height="5.6" fill="#443b84"/>
<rect x="259.5" y="301.1" width="6.1" height="5.6" fill="#433e85"/>
<rect x="259.5" y="296.1" width="6.1" height="5.6" fill="#443b84"/>
<rect x="259.5" y="291.1" width="6.1" height="5.6" fill="#482979"/>
<rect x="259.5" y="286.1" width="6.1" height="5.6" fill="#481d6f"/>
<rect x="259.5" y="281.2" width="6.1" height="5.6" fill="#470d60"/>
<rect x="264.9" y="340.9" width="6.1" height="5.6" fill="#470e61"/>
<rect x="264.9" y="335.9" width="6.1" height="5.6" fill="#471063"/>
<rect x="264.9" y="331.0" width="6.1" height="5.6" fill="#471164"/>
<rect x="264.9" y="326.0" width="6.1" height="5.6" fill="#48186a"/>
<rect x="264.9" y="321.0" width="6.1" height="5.6" fill="#472c7a"/>
<rect x="264.9" y="316.0" width="6.1" height="5.6" fill="#424086"/>
<rect x="264.9" y="311.0" width="6.1" height="5.6" fill="#3d4d8a"/>
<rect x="264.9" y="306.1" width="6.1" height="5.6" fill="#404688"/>
<rect x="264.9" y="301.1" width="6.1" height="5.6" fill="#414487"/>
<rect x="264.9" y="296.1" width="6.1" height="5.6" fill="#424086"/>
<rect x="264.9" y="291.1" width="6.1" height="5.6" fill="#453581"/>
<rect x="264.9" y="286.1" width="6.1" height="5.6" fill="#482576"/>
<rect x="264.9" y="281.2" width="6.1" height="5.6" fill="#470d60"/>
<rect x="270.4" y="340.9" width="6.1" height="5.6" fill="#470e61"/>
<rect x="270.4" y="335.9" width="6.1" height="5.6" fill="#471063"/>
<rect x="270.4" y="331.0" width="6.1" height="5.6" fill="#471164"/>
<rect x="270.4" y="326.0" width="6.1" height="5.6" fill="#470e61"/>
<rect x="270.4" y="321.0" width="6.1" height="5.6" fill="#482576"/>
<rect x="270.4" y="316.0" width="6.1" height="5.6" fill="#453781"/>
<rect x="270.4" y="311.0" width="6.1" height="5.6" fill="#424186"/>
<rect x="270.4" y="306.1" width="6.1" height="5.6" fill="#414287"/>
<rect x="270.4" y="301.1" width="6.1" height="5.6" fill="#423f85"/>
<rect x="270.4" y="296.1" width="6.1" height="5.6" fill="#433e85"/>
<rect x="270.4" y="291.1" width="6.1" height="5.6" fill="#453781"/>
<rect x="270.4" y="286.1" width="6.1" height="5.6" fill="#482071"/>
<rect x="270.4" y="281.2" width="6.1" height="5.6" fill="#470d60"/>
<rect x="275.9" y="340.9" width="6.1" height="5.6" fill="#470e61"/>
<rect x="275.9" y="335.9" width="6.1" height="5.6" fill="#471063"/>
<rect x="275.9" y="331.0" width="6.1" height="5.6" fill="#471164"/>
<rect x="275.9" y="326.0" width="6.1" height="5.6" fill="#481769"/>
<rect x="275.9" y="321.0" width="6.1" height="5.6" fill="#482576"/>
<rect x="275.9" y="316.0" width="6.1" height="5.6" fill="#424086"/>
<rect x="275.9" y="311.0" width="6.1" height="5.6" fill="#404688"/>
<rect x="275.9" y="306.1" width="6.1" height="5.6" fill="#443a83"/>
<rect x="275.9" y="301.1" width="6.1" height="5.6" fill="#404588"/>
<rect x="275.9" y="296.1" width="6.1" height="5.6" fill="#414287"/>
<rect x="275.9" y="291.1" width="6.1" height="5.6" fill="#472c7a"/>
<rect x="275.9" y="286.1" width="6.1" height="5.6" fill="#482576"/>
<rect x="275.9" y="281.2" width="6.1" height="5.6" fill="#470d60"/>
<rect x="281.3" y="340.9" width="6.1" height="5.6" fill="#470e61"/>
<rect x="281.3" y="335.9" width="6.1" height="5.6" fill="#471063"/>
<rect x="281.3" y="331.0" width="6.1" height="5.6" fill="#471164"/>
<rect x="281.3" y="326.0" width="6.1" height="5.6" fill="#46075a"/>
<rect x="281.3" y="321.0" width="6.1" height="5.6" fill="#472a7a"/>
<rect x="281.3" y="316.0" width="6.1" height="5.6" fill="#424186"/>
<rect x="281.3" y="311.0" width="6.1" height="5.6" fill="#423f85"/>
<rect x="281.3" y="306.1" width="6.1" height="5.6" fill="#414487"/>
<rect x="281.3" y="301.1" width="6.1" height="5.6" fill="#424086"/>
<rect x="281.3" y="296.1" width="6.1" height="5.6" fill="#443983"/>
<rect x="281.3" y="291.1" width="6.1" height="5.6" fill="#46307e"/>
<rect x="281.3" y="286.1" width="6.1" height="5.6" fill="#482677"/>
<rect x="281.3" y="281.2" width="6.1" height="5.6" fill="#470d60"/>
<rect x="286.8" y="340.9" width="6.1" height="5.6" fill="#470e61"/>
<rect x="286.8" y="335.9" width="6.1" height="5.6" fill="#471063"/>
<rect x="286.8" y="331.0" width="6.1" height="5.6" fill="#471164"/>
<rect x="286.8" y="326.0" width="6.1" height="5.6" fill="#481c6e"/>
<rect x="286.8" y="321.0" width="6.1" height="5.6" fill="#482475"/>
<rect x="286.8" y="316.0" width="6.1" height="5.6" fill="#424086"/>
<rect x="286.8" y="311.0" width="6.1" height="5.6" fill="#424186"/>
<rect x="286.8" y="306.1" width="6.1" height="5.6" fill="#424086"/>
<rect x="286.8" y="301.1" width="6.1" height="5.6" fill="#404688"/>
<rect x="286.8" y="296.1" width="6.1" height="5.6" fill="#443b84"/>
<rect x="286.8" y="291.1" width="6.1" height="5.6" fill="#472f7d"/>
<rect x="286.8" y="286.1" width="6.1" height="5.6" fill="#482677"/>
<rect x="286.8" y="281.2" width="6.1" height="5.6" fill="#470d60"/>
<rect x="292.3" y="340.9" width="6.1" height="5.6" fill="#470e61"/>
<rect x="292.3" y="335.9" width="6.1" height="5.6" fill="#471063"/>
<rect x="292.3" y="331.0" width="6.1" height="5.6" fill="#471164"/>
<rect x="292.3" y="326.0" width="6.1" height="5.6" fill="#470e61"/>
<rect x="292.3" y="321.0" width="6.1" height="5.6" fill="#472c7a"/>
<rect x="292.3" y="316.0" width="6.1" height="5.6" fill="#453882"/>
<rect x="292.3" y="311.0" width="6.1" height="5.6" fill="#414487"/>
<rect x="292.3" y="306.1" width="6.1" height="5.6" fill="#423f85"/>
<rect x="292.3" y="301.1" width="6.1" height="5.6" fill="#3e4989"/>
<rect x="292.3" y="296.1" width="6.1" height="5.6" fill="#443983"/>
<rect x="292.3" y="291.1" width="6.1" height="5.6" fill="#472f7d"/>
<rect x="292.3" y="286.1" width="6.1" height="5.6" fill="#482071"/>
<rect x="292.3" y="281.2" width="6.1" height="5.6" fill="#470d60"/>
<rect x="297.8" y="340.9" width="6.1" height="5.6" fill="#470e61"/>
<rect x="297.8" y="335.9" width="6.1" height="5.6" fill="#471063"/>
<rect x="297.8" y="331.0" width="6.1" height="5.6" fill="#471164"/>
<rect x="297.8" y="326.0" width="6.1" height="5.6" fill="#481668"/>
<rect x="297.8" y="321.0" width="6.1" height="5.6" fill="#482979"/>
<rect x="297.8" y="316.0" width="6.1" height="5.6" fill="#433e85"/>
<rect x="297.8" y="311.0" width="6.1" height="5.6" fill="#414487"/>
<rect x="297.8" y="306.1" width="6.1" height="5.6" fill="#404688"/>
<rect x="297.8" y="301.1" width="6.1" height="5.6" fill="#414487"/>
<rect x="297.8" y="296.1" width="6.1" height="5.6" fill="#443b84"/>
<rect x="297.8" y="291.1" width="6.1" height="5.6" fill="#46307e"/>
<rect x="297.8" y="286.1" width="6.1" height="5.6" fill="#482475"/>
<rect x="297.8" y="281.2" width="6.1" height="5.6" fill="#470d60"/>
<rect x="303.2" y="340.9" width="6.1" height="5.6" fill="#470e61"/>
<rect x="303.2" y="335.9" width="6.1" height="5.6" fill="#471063"/>
<rect x="303.2" y="331.0" width="6.1" height="5.6" fill="#471164"/>
<rect x="303.2" y="326.0" width="6.1" height="5.6" fill="#460b5e"/>
<rect x="303.2" y="321.0" width="6.1" height="5.6" fill="#482576"/>
<rect x="303.2" y="316.0" width="6.1" height="5.6" fill="#443b84"/>
<rect x="303.2" y="311.0" width="6.1" height="5.6" fill="#3d4d8a"/>
<rect x="303.2" y="306.1" width="6.1" height="5.6" fill="#404588"/>
<rect x="303.2" y="301.1" width="6.1" height="5.6" fill="#3f4788"/>
<rect x="303.2" y="296.1" width="6.1" height="5.6" fill="#443b84"/>
<rect x="303.2" y="291.1" width="6.1" height="5.6" fill="#482576"/>
<rect x="303.2" y="286.1" width="6.1" height="5.6" fill="#481769"/>
<rect x="303.2" y="281.2" width="6.1" height="5.6" fill="#470d60"/>
<rect x="308.7" y="340.9" width="6.1" height="5.6" fill="#470e61"/>
<rect x="308.7" y="335.9" width="6.1" height="5.6" fill="#471063"/>
<rect x="308.7" y="331.0" width="6.1" height="5.6" fill="#471164"/>
<rect x="308.7" y="326.0" width="6.1" height="5.6" fill="#48186a"/>
<rect x="308.7" y="321.0" width="6.1" height="5.6" fill="#472f7d"/>
<rect x="308.7" y="316.0" width="6.1" height="5.6" fill="#453781"/>
<rect x="308.7" y="311.0" width="6.1" height="5.6" fill="#433e85"/>
<rect x="308.7" y="306.1" width="6.1" height="5.6" fill="#404588"/>
<rect x="308.7" y="301.1" width="6.1" height="5.6" fill="#443b84"/>
<rect x="308.7" y="296.1" width="6.1" height="5.6" fill="#433e85"/>
<rect x="308.7" y="291.1" width="6.1" height="5.6" fill="#482979"/>
<rect x="308.7" y="286.1" width="6.1" height="5.6" fill="#482475"/>
<rect x="308.7" y="281.2" width="6.1" height="5.6" fill="#470d60"/>
<rect x="314.2" y="340.9" width="6.1" height="5.6" fill="#470e61"/>
<rect x="314.2" y="335.9" width="6.1" height="5.6" fill="#471063"/>
<rect x="314.2" y="331.0" width="6.1" height="5.6" fill="#471164"/>
<rect x="314.2" y="326.0" width="6.1" height="5.6" fill="#471365"/>
<rect x="314.2" y="321.0" width="6.1" height="5.6" fill="#482878"/>
<rect x="314.2" y="316.0" width="6.1" height="5.6" fill="#433d84"/>
<rect x="314.2" y="311.0" width="6.1" height="5.6" fill="#433d84"/>
<rect x="314.2" y="306.1" width="6.1" height="5.6" fill="#3f4788"/>
<rect x="314.2" y="301.1" width="6.1" height="5.6" fill="#423f85"/>
<rect x="314.2" y="296.1" width="6.1" height="5.6" fill="#453781"/>
<rect x="314.2" y="291.1" width="6.1" height="5.6" fill="#463480"/>
<rect x="314.2" y="286.1" width="6.1" height="5.6" fill="#482677"/>
<rect x="314.2" y="281.2" width="6.1" height="5.6" fill="#470d60"/>
<rect x="319.7" y="340.9" width="6.1" height="5.6" fill="#470e61"/>
<rect x="319.7" y="335.9" width="6.1" height="5.6" fill="#471063"/>
<rect x="319.7" y="331.0" width="6.1" height="5.6" fill="#471164"/>
<rect x="319.7" y="326.0" width="6.1" height="5.6" fill="#481b6d"/>
<rect x="319.7" y="321.0" width="6.1" height="5.6" fill="#472e7c"/>
<rect x="319.7" y="316.0" width="6.1" height="5.6" fill="#433e85"/>
<rect x="319.7" y="311.0" width="6.1" height="5.6" fill="#3f4788"/>
<rect x="319.7" y="306.1" width="6.1" height="5.6" fill="#404588"/>
<rect x="319.7" y="301.1" width="6.1" height="5.6" fill="#3f4889"/>
<rect x="319.7" y="296.1" width="6.1" height="5.6" fill="#414287"/>
<rect x="319.7" y="291.1" width="6.1" height="5.6" fill="#472f7d"/>
<rect x="319.7" y="286.1" width="6.1" height="5.6" fill="#482374"/>
<rect x="319.7" y="281.2" width="6.1" height="5.6" fill="#470d60"/>
<rect x="325.1" y="340.9" width="6.1" height="5.6" fill="#470e61"/>
<rect x="325.1" y="335.9" width="6.1" height="5.6" fill="#471063"/>
<rect x="325.1" y="331.0" width="6.1" height="5.6" fill="#471164"/>
<rect x="325.1" y="326.0" width="6.1" height="5.6" fill="#470e61"/>
<rect x="325.1" y="321.0" width="6.1" height="5.6" fill="#472f7d"/>
<rect x="325.1" y="316.0" width="6.1" height="5.6" fill="#443a83"/>
<rect x="325.1" y="311.0" width="6.1" height="5.6" fill="#404588"/>
<rect x="325.1" y="306.1" width="6.1" height="5.6" fill="#3f4788"/>
<rect x="325.1" y="301.1" width="6.1" height="5.6" fill="#414487"/>
<rect x="325.1" y="296.1" width="6.1" height="5.6" fill="#443b84"/>
<rect x="325.1" y="291.1" width="6.1" height="5.6" fill="#472f7d"/>
<rect x="325.1" y="286.1" width="6.1" height="5.6" fill="#482071"/>
<rect x="325.1" y="281.2" width="6.1" height="5.6" fill="#470d60"/>
<rect x="330.6" y="340.9" width="6.1" height="5.6" fill="#470e61"/>
<rect x="330.6" y="335.9" width="6.1" height="5.6" fill="#471063"/>
<rect x="330.6" y="331.0" width="6.1" height="5.6" fill="#471164"/>
<rect x="330.6" y="326.0" width="6.1" height="5.6" fill="#481d6f"/>
<rect x="330.6" y="321.0" width="6.1" height="5.6" fill="#453781"/>
<rect x="330.6" y="316.0" width="6.1" height="5.6" fill="#404588"/>
<rect x="330.6" y="311.0" width="6.1" height="5.6" fill="#3e4989"/>
<rect x="330.6" y="306.1" width="6.1" height="5.6" fill="#3c4f8a"/>
<rect x="330.6" y="301.1" width="6.1" height="5.6" fill="#3c4f8a"/>
<rect x="330.6" y="296.1" width="6.1" height="5.6" fill="#3e4989"/>
<rect x="330.6" y="291.1" width="6.1" height="5.6" fill="#453882"/>
<rect x="330.6" y="286.1" width="6.1" height="5.6" fill="#472d7b"/>
<rect x="330.6" y="281.2" width="6.1" height="5.6" fill="#482979"/>
<rect x="330.6" y="276.2" width="6.1" height="5.6" fill="#481a6c"/>
<rect x="336.1" y="340.9" width="6.1" height="5.6" fill="#470e61"/>
<rect x="336.1" y="335.9" width="6.1" height="5.6" fill="#471063"/>
<rect x="336.1" y="331.0" width="6.1" height="5.6" fill="#471164"/>
<rect x="336.1" y="326.0" width="6.1" height="5.6" fill="#481f70"/>
<rect x="336.1" y="321.0" width="6.1" height="5.6" fill="#453581"/>
<rect x="336.1" y="316.0" width="6.1" height="5.6" fill="#433e85"/>
<rect x="336.1" y="311.0" width="6.1" height="5.6" fill="#3c4f8a"/>
<rect x="336.1" y="306.1" width="6.1" height="5.6" fill="#3d4d8a"/>
<rect x="336.1" y="301.1" width="6.1" height="5.6" fill="#3e4c8a"/>
<rect x="336.1" y="296.1" width="6.1" height="5.6" fill="#414487"/>
<rect x="336.1" y="291.1" width="6.1" height="5.6" fill="#46327e"/>
<rect x="336.1" y="286.1" width="6.1" height="5.6" fill="#472a7a"/>
<rect x="336.1" y="281.2" width="6.1" height="5.6" fill="#481f70"/>
<rect x="336.1" y="276.2" width="6.1" height="5.6" fill="#481d6f"/>
<rect x="341.5" y="340.9" width="6.1" height="5.6" fill="#470e61"/>
<rect x="341.5" y="335.9" width="6.1" height="5.6" fill="#471063"/>
<rect x="341.5" y="331.0" width="6.1" height="5.6" fill="#471164"/>
<rect x="341.5" y="326.0" width="6.1" height="5.6" fill="#481467"/>
<rect x="341.5" y="321.0" width="6.1" height="5.6" fill="#472f7d"/>
<rect x="341.5" y="316.0" width="6.1" height="5.6" fill="#404688"/>
<rect x="341.5" y="311.0" width="6.1" height="5.6" fill="#39558c"/>
<rect x="341.5" y="306.1" width="6.1" height="5.6" fill="#3b518b"/>
<rect x="341.5" y="301.1" width="6.1" height="5.6" fill="#3c508b"/>
<rect x="341.5" y="296.1" width="6.1" height="5.6" fill="#3f4889"/>
<rect x="341.5" y="291.1" width="6.1" height="5.6" fill="#443983"/>
<rect x="341.5" y="286.1" width="6.1" height="5.6" fill="#472a7a"/>
<rect x="341.5" y="281.2" width="6.1" height="5.6" fill="#481c6e"/>
<rect x="341.5" y="276.2" width="6.1" height="5.6" fill="#482677"/>
<rect x="347.0" y="340.9" width="6.1" height="5.6" fill="#470e61"/>
<rect x="347.0" y="335.9" width="6.1" height="5.6" fill="#471063"/>
<rect x="347.0" y="331.0" width="6.1" height="5.6" fill="#471164"/>
<rect x="347.0" y="326.0" width="6.1" height="5.6" fill="#481769"/>
<rect x="347.0" y="321.0" width="6.1" height="5.6" fill="#472f7d"/>
<rect x="347.0" y="316.0" width="6.1" height="5.6" fill="#424086"/>
<rect x="347.0" y="311.0" width="6.1" height="5.6" fill="#3c508b"/>
<rect x="347.0" y="306.1" width="6.1" height="5.6" fill="#3a538b"/>
<rect x="347.0" y="301.1" width="6.1" height="5.6" fill="#3e4a89"/>
<rect x="347.0" y="296.1" width="6.1" height="5.6" fill="#3d4d8a"/>
<rect x="347.0" y="291.1" width="6.1" height="5.6" fill="#46337f"/>
<rect x="347.0" y="286.1" width="6.1" height="5.6" fill="#482576"/>
<rect x="347.0" y="281.2" width="6.1" height="5.6" fill="#482576"/>
<rect x="347.0" y="276.2" width="6.1" height="5.6" fill="#481f70"/>
<rect x="352.5" y="340.9" width="6.1" height="5.6" fill="#470e61"/>
<rect x="352.5" y="335.9" width="6.1" height="5.6" fill="#471063"/>
<rect x="352.5" y="331.0" width="6.1" height="5.6" fill="#471164"/>
<rect x="352.5" y="326.0" width="6.1" height="5.6" fill="#481668"/>
<rect x="352.5" y="321.0" width="6.1" height="5.6" fill="#463480"/>
<rect x="352.5" y="316.0" width="6.1" height="5.6" fill="#3e4a89"/>
<rect x="352.5" y="311.0" width="6.1" height="5.6" fill="#365c8d"/>
<rect x="352.5" y="306.1" width="6.1" height="5.6" fill="#39568c"/>
<rect x="352.5" y="301.1" width="6.1" height="5.6" fill="#3b518b"/>
<rect x="352.5" y="296.1" width="6.1" height="5.6" fill="#375a8c"/>
<rect x="352.5" y="291.1" width="6.1" height="5.6" fill="#433d84"/>
<rect x="352.5" y="286.1" width="6.1" height="5.6" fill="#482878"/>
<rect x="352.5" y="281.2" width="6.1" height="5.6" fill="#482979"/>
<rect x="352.5" y="276.2" width="6.1" height="5.6" fill="#482475"/>
<rect x="358.0" y="340.9" width="6.1" height="5.6" fill="#470e61"/>
<rect x="358.0" y="335.9" width="6.1" height="5.6" fill="#471063"/>
<rect x="358.0" y="331.0" width="6.1" height="5.6" fill="#471164"/>
<rect x="358.0" y="326.0" width="6.1" height="5.6" fill="#481a6c"/>
<rect x="358.0" y="321.0" width="6.1" height="5.6" fill="#453781"/>
<rect x="358.0" y="316.0" width="6.1" height="5.6" fill="#3b518b"/>
<rect x="358.0" y="311.0" width="6.1" height="5.6" fill="#34608d"/>
<rect x="358.0" y="306.1" width="6.1" height="5.6" fill="#39568c"/>
<rect x="358.0" y="301.1" width="6.1" height="5.6" fill="#38598c"/>
<rect x="358.0" y="296.1" width="6.1" height="5.6" fill="#3d4e8a"/>
<rect x="358.0" y="291.1" width="6.1" height="5.6" fill="#3e4989"/>
<rect x="358.0" y="286.1" width="6.1" height="5.6" fill="#453581"/>
<rect x="358.0" y="281.2" width="6.1" height="5.6" fill="#482979"/>
<rect x="358.0" y="276.2" width="6.1" height="5.6" fill="#482071"/>
<rect x="363.4" y="340.9" width="6.1" height="5.6" fill="#470e61"/>
<rect x="363.4" y="335.9" width="6.1" height="5.6" fill="#471063"/>
<rect x="363.4" y="331.0" width="6.1" height="5.6" fill="#471164"/>
<rect x="363.4" y="326.0" width="6.1" height="5.6" fill="#481668"/>
<rect x="363.4" y="321.0" width="6.1" height="5.6" fill="#443983"/>
<rect x="363.4" y="316.0" width="6.1" height="5.6" fill="#3b528b"/>
<rect x="363.4" y="311.0" width="6.1" height="5.6" fill="#34618d"/>
<rect x="363.4" y="306.1" width="6.1" height="5.6" fill="#34608d"/>
<rect x="363.4" y="301.1" width="6.1" height="5.6" fill="#365d8d"/>
<rect x="363.4" y="296.1" width="6.1" height="5.6" fill="#3b518b"/>
<rect x="363.4" y="291.1" width="6.1" height="5.6" fill="#404688"/>
<rect x="363.4" y="286.1" width="6.1" height="5.6" fill="#472e7c"/>
<rect x="363.4" y="281.2" width="6.1" height="5.6" fill="#472a7a"/>
<rect x="363.4" y="276.2" width="6.1" height="5.6" fill="#481d6f"/>
<rect x="368.9" y="340.9" width="6.1" height="5.6" fill="#470e61"/>
<rect x="368.9" y="335.9" width="6.1" height="5.6" fill="#471063"/>
<rect x="368.9" y="331.0" width="6.1" height="5.6" fill="#471164"/>
<rect x="368.9" y="326.0" width="6.1" height="5.6" fill="#481c6e"/>
<rect x="368.9" y="321.0" width="6.1" height="5.6" fill="#443983"/>
<rect x="368.9" y="316.0" width="6.1" height="5.6" fill="#3a538b"/>
<rect x="368.9" y="311.0" width="6.1" height="5.6" fill="#365d8d"/>
<rect x="368.9" y="306.1" width="6.1" height="5.6" fill="#365c8d"/>
<rect x="368.9" y="301.1" width="6.1" height="5.6" fill="#38588c"/>
<rect x="368.9" y="296.1" width="6.1" height="5.6" fill="#3b528b"/>
<rect x="368.9" y="291.1" width="6.1" height="5.6" fill="#424186"/>
<rect x="368.9" y="286.1" width="6.1" height="5.6" fill="#472a7a"/>
<rect x="368.9" y="281.2" width="6.1" height="5.6" fill="#481f70"/>
<rect x="368.9" y="276.2" width="6.1" height="5.6" fill="#482071"/>
<rect x="374.4" y="340.9" width="6.1" height="5.6" fill="#470e61"/>
<rect x="374.4" y="335.9" width="6.1" height="5.6" fill="#471063"/>
<rect x="374.4" y="331.0" width="6.1" height="5.6" fill="#471164"/>
<rect x="374.4" y="326.0" width="6.1" height="5.6" fill="#482677"/>
<rect x="374.4" y="321.0" width="6.1" height="5.6" fill="#443b84"/>
<rect x="374.4" y="316.0" width="6.1" height="5.6" fill="#3a548c"/>
<rect x="374.4" y="311.0" width="6.1" height="5.6" fill="#33638d"/>
<rect x="374.4" y="306.1" width="6.1" height="5.6" fill="#375b8d"/>
<rect x="374.4" y="301.1" width="6.1" height="5.6" fill="#375b8d"/>
<rect x="374.4" y="296.1" width="6.1" height="5.6" fill="#39568c"/>
<rect x="374.4" y="291.1" width="6.1" height="5.6" fill="#3f4889"/>
<rect x="374.4" y="286.1" width="6.1" height="5.6" fill="#472f7d"/>
<rect x="374.4" y="281.2" width="6.1" height="5.6" fill="#482677"/>
<rect x="374.4" y="276.2" width="6.1" height="5.6" fill="#482071"/>
<rect x="379.9" y="340.9" width="6.1" height="5.6" fill="#470e61"/>
<rect x="379.9" y="335.9" width="6.1" height="5.6" fill="#471063"/>
<rect x="379.9" y="331.0" width="6.1" height="5.6" fill="#33638d"/>
<rect x="379.9" y="326.0" width="6.1" height="5.6" fill="#21918c"/>
<rect x="379.9" y="321.0" width="6.1" height="5.6" fill="#218f8d"/>
<rect x="379.9" y="316.0" width="6.1" height="5.6" fill="#20938c"/>
<rect x="379.9" y="311.0" width="6.1" height="5.6" fill="#1fa287"/>
<rect x="379.9" y="306.1" width="6.1" height="5.6" fill="#21a585"/>
<rect x="379.9" y="301.1" width="6.1" height="5.6" fill="#25ac82"/>
<rect x="379.9" y="296.1" width="6.1" height="5.6" fill="#20a386"/>
<rect x="379.9" y="291.1" width="6.1" height="5.6" fill="#23a983"/>
<rect x="379.9" y="286.1" width="6.1" height="5.6" fill="#24aa83"/>
<rect x="379.9" y="281.2" width="6.1" height="5.6" fill="#24aa83"/>
<rect x="379.9" y="276.2" width="6.1" height="5.6" fill="#1f978b"/>
<rect x="379.9" y="271.2" width="6.1" height="5.6" fill="#20928c"/>
<rect x="379.9" y="266.2" width="6.1" height="5.6" fill="#218e8d"/>
<rect x="379.9" y="261.2" width="6.1" height="5.6" fill="#238a8d"/>
<rect x="379.9" y="256.3" width="6.1" height="5.6" fill="#297a8e"/>
<rect x="379.9" y="251.3" width="6.1" height="5.6" fill="#32648e"/>
<rect x="379.9" y="246.3" width="6.1" height="5.6" fill="#32658e"/>
<rect x="385.3" y="340.9" width="6.1" height="5.6" fill="#470e61"/>
<rect x="385.3" y="335.9" width="6.1" height="5.6" fill="#471063"/>
<rect x="385.3" y="331.0" width="6.1" height="5.6" fill="#471164"/>
<rect x="385.3" y="326.0" width="6.1" height="5.6" fill="#287d8e"/>
<rect x="385.3" y="321.0" width="6.1" height="5.6" fill="#24878e"/>
<rect x="385.3" y="316.0" width="6.1" height="5.6" fill="#24878e"/>
<rect x="385.3" y="311.0" width="6.1" height="5.6" fill="#23888e"/>
<rect x="385.3" y="306.1" width="6.1" height="5.6" fill="#23888e"/>
<rect x="385.3" y="301.1" width="6.1" height="5.6" fill="#23888e"/>
<rect x="385.3" y="296.1" width="6.1" height="5.6" fill="#238a8d"/>
<rect x="385.3" y="291.1" width="6.1" height="5.6" fill="#26828e"/>
<rect x="385.3" y="286.1" width="6.1" height="5.6" fill="#24868e"/>
<rect x="385.3" y="281.2" width="6.1" height="5.6" fill="#26828e"/>
<rect x="385.3" y="276.2" width="6.1" height="5.6" fill="#24878e"/>
<rect x="385.3" y="271.2" width="6.1" height="5.6" fill="#2e6e8e"/>
<rect x="385.3" y="266.2" width="6.1" height="5.6" fill="#2f6c8e"/>
<rect x="385.3" y="261.2" width="6.1" height="5.6" fill="#2f6b8e"/>
<rect x="385.3" y="256.3" width="6.1" height="5.6" fill="#32648e"/>
<rect x="385.3" y="251.3" width="6.1" height="5.6" fill="#39558c"/>
<rect x="385.3" y="246.3" width="6.1" height="5.6" fill="#3c508b"/>
<rect x="390.8" y="340.9" width="6.1" height="5.6" fill="#470e61"/>
<rect x="390.8" y="335.9" width="6.1" height="5.6" fill="#471063"/>
<rect x="390.8" y="331.0" width="6.1" height="5.6" fill="#471164"/>
<rect x="390.8" y="326.0" width="6.1" height="5.6" fill="#277e8e"/>
<rect x="390.8" y="321.0" width="6.1" height="5.6" fill="#238a8d"/>
<rect x="390.8" y="316.0" width="6.1" height="5.6" fill="#228d8d"/>
<rect x="390.8" y="311.0" width="6.1" height="5.6" fill="#26828e"/>
<rect x="390.8" y="306.1" width="6.1" height="5.6" fill="#218f8d"/>
<rect x="390.8" y="301.1" width="6.1" height="5.6" fill="#228c8d"/>
<rect x="390.8" y="296.1" width="6.1" height="5.6" fill="#23898e"/>
<rect x="390.8" y="291.1" width="6.1" height="5.6" fill="#23888e"/>
<rect x="390.8" y="286.1" width="6.1" height="5.6" fill="#218e8d"/>
<rect x="390.8" y="281.2" width="6.1" height="5.6" fill="#24878e"/>
<rect x="390.8" y="276.2" width="6.1" height="5.6" fill="#25858e"/>
<rect x="390.8" y="271.2" width="6.1" height="5.6" fill="#2c728e"/>
<rect x="390.8" y="266.2" width="6.1" height="5.6" fill="#31668e"/>
<rect x="390.8" y="261.2" width="6.1" height="5.6" fill="#31688e"/>
<rect x="390.8" y="256.3" width="6.1" height="5.6" fill="#375a8c"/>
<rect x="390.8" y="251.3" width="6.1" height="5.6" fill="#3b518b"/>
<rect x="390.8" y="246.3" width="6.1" height="5.6" fill="#3d4d8a"/>
<rect x="396.3" y="340.9" width="6.1" height="5.6" fill="#470e61"/>
<rect x="396.3" y="335.9" width="6.1" height="5.6" fill="#471063"/>
<rect x="396.3" y="331.0" width="6.1" height="5.6" fill="#471164"/>
<rect x="396.3" y="326.0" width="6.1" height="5.6" fill="#297a8e"/>
<rect x="396.3" y="321.0" width="6.1" height="5.6" fill="#23888e"/>
<rect x="396.3" y="316.0" width="6.1" height="5.6" fill="#25848e"/>
<rect x="396.3" y="311.0" width="6.1" height="5.6" fill="#24868e"/>
<rect x="396.3" y="306.1" width="6.1" height="5.6" fill="#25848e"/>
<rect x="396.3" y="301.1" width="6.1" height="5.6" fill="#27808e"/>
<rect x="396.3" y="296.1" width="6.1" height="5.6" fill="#25838e"/>
<rect x="396.3" y="291.1" width="6.1" height="5.6" fill="#24878e"/>
<rect x="396.3" y="286.1" width="6.1" height="5.6" fill="#23888e"/>
<rect x="396.3" y="281.2" width="6.1" height="5.6" fill="#26828e"/>
<rect x="396.3" y="276.2" width="6.1" height="5.6" fill="#27808e"/>
<rect x="396.3" y="271.2" width="6.1" height="5.6" fill="#2e6f8e"/>
<rect x="396.3" y="266.2" width="6.1" height="5.6" fill="#2f6b8e"/>
<rect x="396.3" y="261.2" width="6.1" height="5.6" fill="#31668e"/>
<rect x="396.3" y="256.3" width="6.1" height="5.6" fill="#375a8c"/>
<rect x="396.3" y="251.3" width="6.1" height="5.6" fill="#3a548c"/>
<rect x="396.3" y="246.3" width="6.1" height="5.6" fill="#3c508b"/>
<rect x="401.7" y="340.9" width="6.1" height="5.6" fill="#470e61"/>
<rect x="401.7" y="335.9" width="6.1" height="5.6" fill="#471063"/>
<rect x="401.7" y="331.0" width="6.1" height="5.6" fill="#471164"/>
<rect x="401.7" y="326.0" width="6.1" height="5.6" fill="#471164"/>
<rect x="401.7" y="321.0" width="6.1" height="5.6" fill="#453882"/>
<rect x="401.7" y="316.0" width="6.1" height="5.6" fill="#3e4989"/>
<rect x="401.7" y="311.0" width="6.1" height="5.6" fill="#3b518b"/>
<rect x="401.7" y="306.1" width="6.1" height="5.6" fill="#39568c"/>
<rect x="401.7" y="301.1" width="6.1" height="5.6" fill="#3a538b"/>
<rect x="401.7" y="296.1" width="6.1" height="5.6" fill="#3d4d8a"/>
<rect x="401.7" y="291.1" width="6.1" height="5.6" fill="#423f85"/>
<rect x="401.7" y="286.1" width="6.1" height="5.6" fill="#472c7a"/>
<rect x="401.7" y="281.2" width="6.1" height="5.6" fill="#470d60"/>
<rect x="407.2" y="340.9" width="6.1" height="5.6" fill="#470e61"/>
<rect x="407.2" y="335.9" width="6.1" height="5.6" fill="#471063"/>
<rect x="407.2" y="331.0" width="6.1" height="5.6" fill="#471164"/>
<rect x="407.2" y="326.0" width="6.1" height="5.6" fill="#481a6c"/>
<rect x="407.2" y="321.0" width="6.1" height="5.6" fill="#443983"/>
<rect x="407.2" y="316.0" width="6.1" height="5.6" fill="#3d4d8a"/>
<rect x="407.2" y="311.0" width="6.1" height="5.6" fill="#3a548c"/>
<rect x="407.2" y="306.1" width="6.1" height="5.6" fill="#3c508b"/>
<rect x="407.2" y="301.1" width="6.1" height="5.6" fill="#3a538b"/>
<rect x="407.2" y="296.1" width="6.1" height="5.6" fill="#3e4a89"/>
<rect x="407.2" y="291.1" width="6.1" height="5.6" fill="#443983"/>
<rect x="407.2" y="286.1" width="6.1" height="5.6" fill="#472e7c"/>
<rect x="407.2" y="281.2" width="6.1" height="5.6" fill="#470d60"/>
<rect x="412.7" y="340.9" width="6.1" height="5.6" fill="#470e61"/>
<rect x="412.7" y="335.9" width="6.1" height="5.6" fill="#471063"/>
<rect x="412.7" y="331.0" width="6.1" height="5.6" fill="#471164"/>
<rect x="412.7" y="326.0" width="6.1" height="5.6" fill="#471063"/>
<rect x="412.7" y="321.0" width="6.1" height="5.6" fill="#46307e"/>
<rect x="412.7" y="316.0" width="6.1" height="5.6" fill="#424086"/>
<rect x="412.7" y="311.0" width="6.1" height="5.6" fill="#3e4989"/>
<rect x="412.7" y="306.1" width="6.1" height="5.6" fill="#404588"/>
<rect x="412.7" y="301.1" width="6.1" height="5.6" fill="#3a538b"/>
<rect x="412.7" y="296.1" width="6.1" height="5.6" fill="#404588"/>
<rect x="412.7" y="291.1" width="6.1" height="5.6" fill="#453882"/>
<rect x="412.7" y="286.1" width="6.1" height="5.6" fill="#472a7a"/>
<rect x="412.7" y="281.2" width="6.1" height="5.6" fill="#470d60"/>
<rect x="418.2" y="340.9" width="6.1" height="5.6" fill="#470e61"/>
<rect x="418.2" y="335.9" width="6.1" height="5.6" fill="#471063"/>
<rect x="418.2" y="331.0" width="6.1" height="5.6" fill="#471164"/>
<rect x="418.2" y="326.0" width="6.1" height="5.6" fill="#48186a"/>
<rect x="418.2" y="321.0" width="6.1" height="5.6" fill="#46327e"/>
<rect x="418.2" y="316.0" width="6.1" height="5.6" fill="#423f85"/>
<rect x="418.2" y="311.0" width="6.1" height="5.6" fill="#3f4788"/>
<rect x="418.2" y="306.1" width="6.1" height="5.6" fill="#3e4989"/>
<rect x="418.2" y="301.1" width="6.1" height="5.6" fill="#3c4f8a"/>
<rect x="418.2" y="296.1" width="6.1" height="5.6" fill="#3f4788"/>
<rect x="418.2" y="291.1" width="6.1" height="5.6" fill="#443983"/>
<rect x="418.2" y="286.1" width="6.1" height="5.6" fill="#481d6f"/>
<rect x="418.2" y="281.2" width="6.1" height="5.6" fill="#470d60"/>
<rect x="423.6" y="340.9" width="6.1" height="5.6" fill="#470e61"/>
<rect x="423.6" y="335.9" width="6.1" height="5.6" fill="#471063"/>
<rect x="423.6" y="331.0" width="6.1" height="5.6" fill="#471164"/>
<rect x="423.6" y="326.0" width="6.1" height="5.6" fill="#481668"/>
<rect x="423.6" y="321.0" width="6.1" height="5.6" fill="#472a7a"/>
<rect x="423.6" y="316.0" width="6.1" height="5.6" fill="#423f85"/>
<rect x="423.6" y="311.0" width="6.1" height="5.6" fill="#3e4c8a"/>
<rect x="423.6" y="306.1" width="6.1" height="5.6" fill="#3e4a89"/>
<rect x="423.6" y="301.1" width="6.1" height="5.6" fill="#3e4989"/>
<rect x="423.6" y="296.1" width="6.1" height="5.6" fill="#3e4c8a"/>
<rect x="423.6" y="291.1" width="6.1" height="5.6" fill="#463480"/>
<rect x="423.6" y="286.1" width="6.1" height="5.6" fill="#482576"/>
<rect x="423.6" y="281.2" width="6.1" height="5.6" fill="#470d60"/>
<rect x="429.1" y="340.9" width="6.1" height="5.6" fill="#470e61"/>
<rect x="429.1" y="335.9" width="6.1" height="5.6" fill="#471063"/>
<rect x="429.1" y="331.0" width="6.1" height="5.6" fill="#471164"/>
<rect x="429.1" y="326.0" width="6.1" height="5.6" fill="#481769"/>
<rect x="429.1" y="321.0" width="6.1" height="5.6" fill="#472f7d"/>
<rect x="429.1" y="316.0" width="6.1" height="5.6" fill="#443b84"/>
<rect x="429.1" y="311.0" width="6.1" height="5.6" fill="#423f85"/>
<rect x="429.1" y="306.1" width="6.1" height="5.6" fill="#3a538b"/>
<rect x="429.1" y="301.1" width="6.1" height="5.6" fill="#3d4d8a"/>
<rect x="429.1" y="296.1" width="6.1" height="5.6" fill="#414487"/>
<rect x="429.1" y="291.1" width="6.1" height="5.6" fill="#472e7c"/>
<rect x="429.1" y="286.1" width="6.1" height="5.6" fill="#481f70"/>
<rect x="429.1" y="281.2" width="6.1" height="5.6" fill="#470d60"/>
<rect x="434.6" y="340.9" width="6.1" height="5.6" fill="#470e61"/>
<rect x="434.6" y="335.9" width="6.1" height="5.6" fill="#471063"/>
<rect x="434.6" y="331.0" width="6.1" height="5.6" fill="#471164"/>
<rect x="434.6" y="326.0" width="6.1" height="5.6" fill="#481a6c"/>
<rect x="434.6" y="321.0" width="6.1" height="5.6" fill="#46307e"/>
<rect x="434.6" y="316.0" width="6.1" height="5.6" fill="#3d4d8a"/>
<rect x="434.6" y="311.0" width="6.1" height="5.6" fill="#3e4989"/>
<rect x="434.6" y="306.1" width="6.1" height="5.6" fill="#3f4788"/>
<rect x="434.6" y="301.1" width="6.1" height="5.6" fill="#3d4d8a"/>
<rect x="434.6" y="296.1" width="6.1" height="5.6" fill="#3e4a89"/>
<rect x="434.6" y="291.1" width="6.1" height="5.6" fill="#453781"/>
<rect x="434.6" y="286.1" width="6.1" height="5.6" fill="#472a7a"/>
<rect x="434.6" y="281.2" width="6.1" height="5.6" fill="#470d60"/>
<rect x="440.1" y="340.9" width="6.1" height="5.6" fill="#470e61"/>
<rect x="440.1" y="335.9" width="6.1" height="5.6" fill="#471063"/>
<rect x="440.1" y="331.0" width="6.1" height="5.6" fill="#471164"/>
<rect x="440.1" y="326.0" width="6.1" height="5.6" fill="#481668"/>
<rect x="440.1" y="321.0" width="6.1" height="5.6" fill="#472e7c"/>
<rect x="440.1" y="316.0" width="6.1" height="5.6" fill="#414487"/>
<rect x="440.1" y="311.0" width="6.1" height="5.6" fill="#3b518b"/>
<rect x="440.1" y="306.1" width="6.1" height="5.6" fill="#3a538b"/>
<rect x="440.1" y="301.1" width="6.1" height="5.6" fill="#3b518b"/>
<rect x="440.1" y="296.1" width="6.1" height="5.6" fill="#414487"/>
<rect x="440.1" y="291.1" width="6.1" height="5.6" fill="#443a83"/>
<rect x="440.1" y="286.1" width="6.1" height="5.6" fill="#482878"/>
<rect x="440.1" y="281.2" width="6.1" height="5.6" fill="#470d60"/>
<rect x="445.5" y="340.9" width="6.1" height="5.6" fill="#470e61"/>
<rect x="445.5" y="335.9" width="6.1" height="5.6" fill="#471063"/>
<rect x="445.5" y="331.0" width="6.1" height="5.6" fill="#471164"/>
<rect x="445.5" y="326.0" width="6.1" height="5.6" fill="#48186a"/>
<rect x="445.5" y="321.0" width="6.1" height="5.6" fill="#472f7d"/>
<rect x="445.5" y="316.0" width="6.1" height="5.6" fill="#3f4889"/>
<rect x="445.5" y="311.0" width="6.1" height="5.6" fill="#3c508b"/>
<rect x="445.5" y="306.1" width="6.1" height="5.6" fill="#3f4788"/>
<rect x="445.5" y="301.1" width="6.1" height="5.6" fill="#3c508b"/>
<rect x="445.5" y="296.1" width="6.1" height="5.6" fill="#3f4788"/>
<rect x="445.5" y="291.1" width="6.1" height="5.6" fill="#433d84"/>
<rect x="445.5" y="286.1" width="6.1" height="5.6" fill="#482677"/>
<rect x="445.5" y="281.2" width="6.1" height="5.6" fill="#470d60"/>
<rect x="451.0" y="340.9" width="6.1" height="5.6" fill="#470e61"/>
<rect x="451.0" y="335.9" width="6.1" height="5.6" fill="#471063"/>
<rect x="451.0" y="331.0" width="6.1" height="5.6" fill="#471164"/>
<rect x="451.0" y="326.0" width="6.1" height="5.6" fill="#482071"/>
<rect x="451.0" y="321.0" width="6.1" height="5.6" fill="#472f7d"/>
<rect x="451.0" y="316.0" width="6.1" height="5.6" fill="#3e4989"/>
<rect x="451.0" y="311.0" width="6.1" height="5.6" fill="#39568c"/>
<rect x="451.0" y="306.1" width="6.1" height="5.6" fill="#3a548c"/>
<rect x="451.0" y="301.1" width="6.1" height="5.6" fill="#3a548c"/>
<rect x="451.0" y="296.1" width="6.1" height="5.6" fill="#3c4f8a"/>
<rect x="451.0" y="291.1" width="6.1" height="5.6" fill="#424186"/>
<rect x="451.0" y="286.1" width="6.1" height="5.6" fill="#472a7a"/>
<rect x="451.0" y="281.2" width="6.1" height="5.6" fill="#470d60"/>
<rect x="456.5" y="340.9" width="6.1" height="5.6" fill="#470e61"/>
<rect x="456.5" y="335.9" width="6.1" height="5.6" fill="#471063"/>
<rect x="456.5" y="331.0" width="6.1" height="5.6" fill="#471164"/>
<rect x="456.5" y="326.0" width="6.1" height="5.6" fill="#481b6d"/>
<rect x="456.5" y="321.0" width="6.1" height="5.6" fill="#433e85"/>
<rect x="456.5" y="316.0" width="6.1" height="5.6" fill="#3e4c8a"/>
<rect x="456.5" y="311.0" width="6.1" height="5.6" fill="#39568c"/>
<rect x="456.5" y="306.1" width="6.1" height="5.6" fill="#375b8d"/>
<rect x="456.5" y="301.1" width="6.1" height="5.6" fill="#375a8c"/>
<rect x="456.5" y="296.1" width="6.1" height="5.6" fill="#38588c"/>
<rect x="456.5" y="291.1" width="6.1" height="5.6" fill="#414487"/>
<rect x="456.5" y="286.1" width="6.1" height="5.6" fill="#472d7b"/>
<rect x="456.5" y="281.2" width="6.1" height="5.6" fill="#470d60"/>
<rect x="461.9" y="340.9" width="6.1" height="5.6" fill="#470e61"/>
<rect x="461.9" y="335.9" width="6.1" height="5.6" fill="#471063"/>
<rect x="461.9" y="331.0" width="6.1" height="5.6" fill="#471164"/>
<rect x="461.9" y="326.0" width="6.1" height="5.6" fill="#481769"/>
<rect x="461.9" y="321.0" width="6.1" height="5.6" fill="#46327e"/>
<rect x="461.9" y="316.0" width="6.1" height="5.6" fill="#404588"/>
<rect x="461.9" y="311.0" width="6.1" height="5.6" fill="#39568c"/>
<rect x="461.9" y="306.1" width="6.1" height="5.6" fill="#3b528b"/>
<rect x="461.9" y="301.1" width="6.1" height="5.6" fill="#3b528b"/>
<rect x="461.9" y="296.1" width="6.1" height="5.6" fill="#404688"/>
<rect x="461.9" y="291.1" width="6.1" height="5.6" fill="#453581"/>
<rect x="461.9" y="286.1" width="6.1" height="5.6" fill="#482677"/>
<rect x="461.9" y="281.2" width="6.1" height="5.6" fill="#470d60"/>
<rect x="467.4" y="340.9" width="6.1" height="5.6" fill="#470e61"/>
<rect x="467.4" y="335.9" width="6.1" height="5.6" fill="#471063"/>
<rect x="467.4" y="331.0" width="6.1" height="5.6" fill="#471164"/>
<rect x="467.4" y="326.0" width="6.1" height="5.6" fill="#471365"/>
<rect x="467.4" y="321.0" width="6.1" height="5.6" fill="#46327e"/>
<rect x="467.4" y="316.0" width="6.1" height="5.6" fill="#404688"/>
<rect x="467.4" y="311.0" width="6.1" height="5.6" fill="#3b528b"/>
<rect x="467.4" y="306.1" width="6.1" height="5.6" fill="#3d4d8a"/>
<rect x="467.4" y="301.1" width="6.1" height="5.6" fill="#3c4f8a"/>
<rect x="467.4" y="296.1" width="6.1" height="5.6" fill="#3e4c8a"/>
<rect x="467.4" y="291.1" width="6.1" height="5.6" fill="#443a83"/>
<rect x="467.4" y="286.1" width="6.1" height="5.6" fill="#482475"/>
<rect x="467.4" y="281.2" width="6.1" height="5.6" fill="#470d60"/>
<rect x="472.9" y="340.9" width="6.1" height="5.6" fill="#470e61"/>
<rect x="472.9" y="335.9" width="6.1" height="5.6" fill="#471063"/>
<rect x="472.9" y="331.0" width="6.1" height="5.6" fill="#471164"/>
<rect x="472.9" y="326.0" width="6.1" height="5.6" fill="#481467"/>
<rect x="472.9" y="321.0" width="6.1" height="5.6" fill="#433e85"/>
<rect x="472.9" y="316.0" width="6.1" height="5.6" fill="#3c4f8a"/>
<rect x="472.9" y="311.0" width="6.1" height="5.6" fill="#375a8c"/>
<rect x="472.9" y="306.1" width="6.1" height="5.6" fill="#38598c"/>
<rect x="472.9" y="301.1" width="6.1" height="5.6" fill="#3b528b"/>
<rect x="472.9" y="296.1" width="6.1" height="5.6" fill="#3d4e8a"/>
<rect x="472.9" y="291.1" width="6.1" height="5.6" fill="#424086"/>
<rect x="472.9" y="286.1" width="6.1" height="5.6" fill="#472f7d"/>
<rect x="472.9" y="281.2" width="6.1" height="5.6" fill="#470d60"/>
<rect x="478.4" y="340.9" width="6.1" height="5.6" fill="#470e61"/>
<rect x="478.4" y="335.9" width="6.1" height="5.6" fill="#471063"/>
<rect x="478.4" y="331.0" width="6.1" height="5.6" fill="#471164"/>
<rect x="478.4" y="326.0" width="6.1" height="5.6" fill="#481d6f"/>
<rect x="478.4" y="321.0" width="6.1" height="5.6" fill="#414287"/>
<rect x="478.4" y="316.0" width="6.1" height="5.6" fill="#3a538b"/>
<rect x="478.4" y="311.0" width="6.1" height="5.6" fill="#355e8d"/>
<rect x="478.4" y="306.1" width="6.1" height="5.6" fill="#365c8d"/>
<rect x="478.4" y="301.1" width="6.1" height="5.6" fill="#3b528b"/>
<rect x="478.4" y="296.1" width="6.1" height="5.6" fill="#3a538b"/>
<rect x="478.4" y="291.1" width="6.1" height="5.6" fill="#424186"/>
<rect x="478.4" y="286.1" width="6.1" height="5.6" fill="#472a7a"/>
<rect x="478.4" y="281.2" width="6.1" height="5.6" fill="#470d60"/>
<rect x="483.8" y="340.9" width="6.1" height="5.6" fill="#470e61"/>
<rect x="483.8" y="335.9" width="6.1" height="5.6" fill="#471063"/>
<rect x="483.8" y="331.0" width="6.1" height="5.6" fill="#471164"/>
<rect x="483.8" y="326.0" width="6.1" height="5.6" fill="#481a6c"/>
<rect x="483.8" y="321.0" width="6.1" height="5.6" fill="#46337f"/>
<rect x="483.8" y="316.0" width="6.1" height="5.6" fill="#3e4a89"/>
<rect x="483.8" y="311.0" width="6.1" height="5.6" fill="#3e4c8a"/>
<rect x="483.8" y="306.1" width="6.1" height="5.6" fill="#3b518b"/>
<rect x="483.8" y="301.1" width="6.1" height="5.6" fill="#3e4a89"/>
<rect x="483.8" y="296.1" width="6.1" height="5.6" fill="#3f4889"/>
<rect x="483.8" y="291.1" width="6.1" height="5.6" fill="#433d84"/>
<rect x="483.8" y="286.1" width="6.1" height="5.6" fill="#482979"/>
<rect x="483.8" y="281.2" width="6.1" height="5.6" fill="#470d60"/>
<rect x="489.3" y="340.9" width="6.1" height="5.6" fill="#470e61"/>
<rect x="489.3" y="335.9" width="6.1" height="5.6" fill="#471063"/>
<rect x="489.3" y="331.0" width="6.1" height="5.6" fill="#471164"/>
<rect x="489.3" y="326.0" width="6.1" height="5.6" fill="#471365"/>
<rect x="489.3" y="321.0" width="6.1" height="5.6" fill="#453781"/>
<rect x="489.3" y="316.0" width="6.1" height="5.6" fill="#3c4f8a"/>
<rect x="489.3" y="311.0" width="6.1" height="5.6" fill="#39568c"/>
<rect x="489.3" y="306.1" width="6.1" height="5.6" fill="#38598c"/>
<rect x="489.3" y="301.1" width="6.1" height="5.6" fill="#375a8c"/>
<rect x="489.3" y="296.1" width="6.1" height="5.6" fill="#3e4c8a"/>
<rect x="489.3" y="291.1" width="6.1" height="5.6" fill="#423f85"/>
<rect x="489.3" y="286.1" width="6.1" height="5.6" fill="#472a7a"/>
<rect x="489.3" y="281.2" width="6.1" height="5.6" fill="#470d60"/>
<rect x="494.8" y="340.9" width="6.1" height="5.6" fill="#470e61"/>
<rect x="494.8" y="335.9" width="6.1" height="5.6" fill="#471063"/>
<rect x="494.8" y="331.0" width="6.1" height="5.6" fill="#471164"/>
<rect x="494.8" y="326.0" width="6.1" height="5.6" fill="#482071"/>
<rect x="494.8" y="321.0" width="6.1" height="5.6" fill="#46337f"/>
<rect x="494.8" y="316.0" width="6.1" height="5.6" fill="#3b518b"/>
<rect x="494.8" y="311.0" width="6.1" height="5.6" fill="#39568c"/>
<rect x="494.8" y="306.1" width="6.1" height="5.6" fill="#39558c"/>
<rect x="494.8" y="301.1" width="6.1" height="5.6" fill="#39558c"/>
<rect x="494.8" y="296.1" width="6.1" height="5.6" fill="#3c4f8a"/>
<rect x="494.8" y="291.1" width="6.1" height="5.6" fill="#424186"/>
<rect x="494.8" y="286.1" width="6.1" height="5.6" fill="#46307e"/>
<rect x="494.8" y="281.2" width="6.1" height="5.6" fill="#470d60"/>
<rect x="500.2" y="340.9" width="6.1" height="5.6" fill="#470e61"/>
<rect x="500.2" y="335.9" width="6.1" height="5.6" fill="#471063"/>
<rect x="500.2" y="331.0" width="6.1" height="5.6" fill="#471164"/>
<rect x="500.2" y="326.0" width="6.1" height="5.6" fill="#481b6d"/>
<rect x="500.2" y="321.0" width="6.1" height="5.6" fill="#453882"/>
<rect x="500.2" y="316.0" width="6.1" height="5.6" fill="#3e4c8a"/>
<rect x="500.2" y="311.0" width="6.1" height="5.6" fill="#39558c"/>
<rect x="500.2" y="306.1" width="6.1" height="5.6" fill="#39558c"/>
<rect x="500.2" y="301.1" width="6.1" height="5.6" fill="#39568c"/>
<rect x="500.2" y="296.1" width="6.1" height="5.6" fill="#3f4889"/>
<rect x="500.2" y="291.1" width="6.1" height="5.6" fill="#424186"/>
<rect x="500.2" y="286.1" width="6.1" height="5.6" fill="#482576"/>
<rect x="500.2" y="281.2" width="6.1" height="5.6" fill="#470d60"/>
<rect x="505.7" y="340.9" width="6.1" height="5.6" fill="#470e61"/>
<rect x="505.7" y="335.9" width="6.1" height="5.6" fill="#471063"/>
<rect x="505.7" y="331.0" width="6.1" height="5.6" fill="#471164"/>
<rect x="505.7" y="326.0" width="6.1" height="5.6" fill="#48186a"/>
<rect x="505.7" y="321.0" width="6.1" height="5.6" fill="#46327e"/>
<rect x="505.7" y="316.0" width="6.1" height="5.6" fill="#3a548c"/>
<rect x="505.7" y="311.0" width="6.1" height="5.6" fill="#3a548c"/>
<rect x="505.7" y="306.1" width="6.1" height="5.6" fill="#3b528b"/>
<rect x="505.7" y="301.1" width="6.1" height="5.6" fill="#3b518b"/>
<rect x="505.7" y="296.1" width="6.1" height="5.6" fill="#3f4889"/>
<rect x="505.7" y="291.1" width="6.1" height="5.6" fill="#46337f"/>
<rect x="505.7" y="286.1" width="6.1" height="5.6" fill="#482979"/>
<rect x="505.7" y="281.2" width="6.1" height="5.6" fill="#470d60"/>
<rect x="511.2" y="340.9" width="6.1" height="5.6" fill="#470e61"/>
<rect x="511.2" y="335.9" width="6.1" height="5.6" fill="#471063"/>
<rect x="511.2" y="331.0" width="6.1" height="5.6" fill="#471164"/>
<rect x="511.2" y="326.0" width="6.1" height="5.6" fill="#481b6d"/>
<rect x="511.2" y="321.0" width="6.1" height="5.6" fill="#443983"/>
<rect x="511.2" y="316.0" width="6.1" height="5.6" fill="#3c4f8a"/>
<rect x="511.2" y="311.0" width="6.1" height="5.6" fill="#39558c"/>
<rect x="511.2" y="306.1" width="6.1" height="5.6" fill="#375a8c"/>
<rect x="511.2" y="301.1" width="6.1" height="5.6" fill="#3a548c"/>
<rect x="511.2" y="296.1" width="6.1" height="5.6" fill="#3c508b"/>
<rect x="511.2" y="291.1" width="6.1" height="5.6" fill="#424186"/>
<rect x="511.2" y="286.1" width="6.1" height="5.6" fill="#472a7a"/>
<rect x="511.2" y="281.2" width="6.1" height="5.6" fill="#470d60"/>
<rect x="516.7" y="340.9" width="6.1" height="5.6" fill="#470e61"/>
<rect x="516.7" y="335.9" width="6.1" height="5.6" fill="#471063"/>
<rect x="516.7" y="331.0" width="6.1" height="5.6" fill="#471164"/>
<rect x="516.7" y="326.0" width="6.1" height="5.6" fill="#481c6e"/>
<rect x="516.7" y="321.0" width="6.1" height="5.6" fill="#453581"/>
<rect x="516.7" y="316.0" width="6.1" height="5.6" fill="#414487"/>
<rect x="516.7" y="311.0" width="6.1" height="5.6" fill="#38598c"/>
<rect x="516.7" y="306.1" width="6.1" height="5.6" fill="#365c8d"/>
<rect x="516.7" y="301.1" width="6.1" height="5.6" fill="#375b8d"/>
<rect x="516.7" y="296.1" width="6.1" height="5.6" fill="#3e4a89"/>
<rect x="516.7" y="291.1" width="6.1" height="5.6" fill="#433e85"/>
<rect x="516.7" y="286.1" width="6.1" height="5.6" fill="#472d7b"/>
<rect x="516.7" y="281.2" width="6.1" height="5.6" fill="#470d60"/>
<rect x="522.1" y="340.9" width="6.1" height="5.6" fill="#470e61"/>
<rect x="522.1" y="335.9" width="6.1" height="5.6" fill="#471063"/>
<rect x="522.1" y="331.0" width="6.1" height="5.6" fill="#471164"/>
<rect x="522.1" y="326.0" width="6.1" height="5.6" fill="#471164"/>
<rect x="522.1" y="321.0" width="6.1" height="5.6" fill="#46327e"/>
<rect x="522.1" y="316.0" width="6.1" height="5.6" fill="#3e4989"/>
<rect x="522.1" y="311.0" width="6.1" height="5.6" fill="#3b528b"/>
<rect x="522.1" y="306.1" width="6.1" height="5.6" fill="#3b528b"/>
<rect x="522.1" y="301.1" width="6.1" height="5.6" fill="#3b528b"/>
<rect x="522.1" y="296.1" width="6.1" height="5.6" fill="#3e4c8a"/>
<rect x="522.1" y="291.1" width="6.1" height="5.6" fill="#443983"/>
<rect x="522.1" y="286.1" width="6.1" height="5.6" fill="#482374"/>
<rect x="522.1" y="281.2" width="6.1" height="5.6" fill="#470d60"/>
<rect x="527.6" y="340.9" width="6.1" height="5.6" fill="#470e61"/>
<rect x="527.6" y="335.9" width="6.1" height="5.6" fill="#471063"/>
<rect x="527.6" y="331.0" width="6.1" height="5.6" fill="#471164"/>
<rect x="527.6" y="326.0" width="6.1" height="5.6" fill="#482071"/>
<rect x="527.6" y="321.0" width="6.1" height="5.6" fill="#433d84"/>
<rect x="527.6" y="316.0" width="6.1" height="5.6" fill="#3c4f8a"/>
<rect x="527.6" y="311.0" width="6.1" height="5.6" fill="#375b8d"/>
<rect x="527.6" y="306.1" width="6.1" height="5.6" fill="#3a548c"/>
<rect x="527.6" y="301.1" width="6.1" height="5.6" fill="#38588c"/>
<rect x="527.6" y="296.1" width="6.1" height="5.6" fill="#3e4c8a"/>
<rect x="527.6" y="291.1" width="6.1" height="5.6" fill="#433e85"/>
<rect x="527.6" y="286.1" width="6.1" height="5.6" fill="#472a7a"/>
<rect x="527.6" y="281.2" width="6.1" height="5.6" fill="#470d60"/>
<rect x="533.1" y="340.9" width="6.1" height="5.6" fill="#470e61"/>
<rect x="533.1" y="335.9" width="6.1" height="5.6" fill="#471063"/>
<rect x="533.1" y="331.0" width="6.1" height="5.6" fill="#471164"/>
<rect x="533.1" y="326.0" width="6.1" height="5.6" fill="#48186a"/>
<rect x="533.1" y="321.0" width="6.1" height="5.6" fill="#443b84"/>
<rect x="533.1" y="316.0" width="6.1" height="5.6" fill="#3b528b"/>
<rect x="533.1" y="311.0" width="6.1" height="5.6" fill="#365d8d"/>
<rect x="533.1" y="306.1" width="6.1" height="5.6" fill="#39568c"/>
<rect x="533.1" y="301.1" width="6.1" height="5.6" fill="#38598c"/>
<rect x="533.1" y="296.1" width="6.1" height="5.6" fill="#3c508b"/>
<rect x="533.1" y="291.1" width="6.1" height="5.6" fill="#433d84"/>
<rect x="533.1" y="286.1" width="6.1" height="5.6" fill="#482677"/>
<rect x="533.1" y="281.2" width="6.1" height="5.6" fill="#470d60"/>
<rect x="538.6" y="340.9" width="6.1" height="5.6" fill="#470e61"/>
<rect x="538.6" y="335.9" width="6.1" height="5.6" fill="#471063"/>
<rect x="538.6" y="331.0" width="6.1" height="5.6" fill="#471164"/>
<rect x="538.6" y="326.0" width="6.1" height="5.6" fill="#481668"/>
<rect x="538.6" y="321.0" width="6.1" height="5.6" fill="#443a83"/>
<rect x="538.6" y="316.0" width="6.1" height="5.6" fill="#414487"/>
<rect x="538.6" y="311.0" width="6.1" height="5.6" fill="#3b518b"/>
<rect x="538.6" y="306.1" width="6.1" height="5.6" fill="#3d4e8a"/>
<rect x="538.6" y="301.1" width="6.1" height="5.6" fill="#3c4f8a"/>
<rect x="538.6" y="296.1" width="6.1" height="5.6" fill="#3f4889"/>
<rect x="538.6" y="291.1" width="6.1" height="5.6" fill="#433e85"/>
<rect x="538.6" y="286.1" width="6.1" height="5.6" fill="#482173"/>
<rect x="538.6" y="281.2" width="6.1" height="5.6" fill="#470d60"/>
<rect x="544.0" y="340.9" width="6.1" height="5.6" fill="#470e61"/>
<rect x="544.0" y="335.9" width="6.1" height="5.6" fill="#471063"/>
<rect x="544.0" y="331.0" width="6.1" height="5.6" fill="#471164"/>
<rect x="544.0" y="326.0" width="6.1" height="5.6" fill="#460b5e"/>
<rect x="544.0" y="321.0" width="6.1" height="5.6" fill="#46337f"/>
<rect x="544.0" y="316.0" width="6.1" height="5.6" fill="#3d4d8a"/>
<rect x="544.0" y="311.0" width="6.1" height="5.6" fill="#3b518b"/>
<rect x="544.0" y="306.1" width="6.1" height="5.6" fill="#3e4a89"/>
<rect x="544.0" y="301.1" width="6.1" height="5.6" fill="#3b528b"/>
<rect x="544.0" y="296.1" width="6.1" height="5.6" fill="#3e4a89"/>
<rect x="544.0" y="291.1" width="6.1" height="5.6" fill="#423f85"/>
<rect x="544.0" y="286.1" width="6.1" height="5.6" fill="#472d7b"/>
<rect x="544.0" y="281.2" width="6.1" height="5.6" fill="#470d60"/>
<line x1="51.30" y1="346.21" x2="555.40" y2="346.21" stroke="#000" stroke-width="0.90" stroke-dasharray="1.5 1.2" stroke-opacity="0.85"/>
<line x1="51.30" y1="338.12" x2="555.40" y2="338.12" stroke="#000" stroke-width="0.90" stroke-dasharray="1.5 1.2" stroke-opacity="0.85"/>
<line x1="51.30" y1="330.98" x2="555.40" y2="330.98" stroke="#000" stroke-width="0.90" stroke-dasharray="1.5 1.2" stroke-opacity="0.85"/>
<line x1="51.30" y1="324.60" x2="555.40" y2="324.60" stroke="#000" stroke-width="0.90" stroke-dasharray="1.5 1.2" stroke-opacity="0.85"/>
<line x1="51.30" y1="282.61" x2="555.40" y2="282.61" stroke="#000" stroke-width="0.90" stroke-dasharray="1.5 1.2" stroke-opacity="0.85"/>
<line x1="51.30" y1="258.04" x2="555.40" y2="258.04" stroke="#000" stroke-width="0.90" stroke-dasharray="1.5 1.2" stroke-opacity="0.85"/>
<line x1="51.30" y1="240.61" x2="555.40" y2="240.61" stroke="#000" stroke-width="0.90" stroke-dasharray="1.5 1.2" stroke-opacity="0.85"/>
<line x1="51.30" y1="227.09" x2="555.40" y2="227.09" stroke="#000" stroke-width="0.90" stroke-dasharray="1.5 1.2" stroke-opacity="0.85"/>
<line x1="51.30" y1="216.05" x2="555.40" y2="216.05" stroke="#000" stroke-width="0.90" stroke-dasharray="1.5 1.2" stroke-opacity="0.85"/>
<line x1="51.30" y1="206.71" x2="555.40" y2="206.71" stroke="#000" stroke-width="0.90" stroke-dasharray="1.5 1.2" stroke-opacity="0.85"/>
<line x1="51.30" y1="198.62" x2="555.40" y2="198.62" stroke="#000" stroke-width="0.90" stroke-dasharray="1.5 1.2" stroke-opacity="0.85"/>
<line x1="51.30" y1="191.48" x2="555.40" y2="191.48" stroke="#000" stroke-width="0.90" stroke-dasharray="1.5 1.2" stroke-opacity="0.85"/>
<line x1="51.30" y1="185.10" x2="555.40" y2="185.10" stroke="#000" stroke-width="0.90" stroke-dasharray="1.5 1.2" stroke-opacity="0.85"/>
<line x1="87.40" y1="174.00" x2="87.40" y2="346.40" stroke="#000" stroke-width="0.90" stroke-dasharray="1.5 1.2" stroke-opacity="0.85"/>
<line x1="153.11" y1="174.00" x2="153.11" y2="346.40" stroke="#000" stroke-width="0.90" stroke-dasharray="1.5 1.2" stroke-opacity="0.85"/>
<line x1="218.82" y1="174.00" x2="218.82" y2="346.40" stroke="#000" stroke-width="0.90" stroke-dasharray="1.5 1.2" stroke-opacity="0.85"/>
<line x1="284.53" y1="174.00" x2="284.53" y2="346.40" stroke="#000" stroke-width="0.90" stroke-dasharray="1.5 1.2" stroke-opacity="0.85"/>
<line x1="350.24" y1="174.00" x2="350.24" y2="346.40" stroke="#000" stroke-width="0.90" stroke-dasharray="1.5 1.2" stroke-opacity="0.85"/>
<line x1="415.95" y1="174.00" x2="415.95" y2="346.40" stroke="#000" stroke-width="0.90" stroke-dasharray="1.5 1.2" stroke-opacity="0.85"/>
<line x1="481.66" y1="174.00" x2="481.66" y2="346.40" stroke="#000" stroke-width="0.90" stroke-dasharray="1.5 1.2" stroke-opacity="0.85"/>
<line x1="547.37" y1="174.00" x2="547.37" y2="346.40" stroke="#000" stroke-width="0.90" stroke-dasharray="1.5 1.2" stroke-opacity="0.85"/>
<polyline points="79.6,336.8 112.5,324.7 145.4,338.3 178.3,338.3 211.2,332.4 244.1,337.9 277.0,333.5 309.9,322.6 342.8,330.6 375.7,306.5 408.6,203.0 441.5,300.0 474.4,305.3 507.3,291.5 540.2,268.2" fill="none" stroke="#228b22" stroke-width="2.00" stroke-linejoin="round" stroke-linecap="butt"/>
<polyline points="86.1,332.8 119.0,329.1 151.9,330.2 184.8,333.1 217.7,334.0 250.6,334.6 283.5,323.0 316.4,319.9 349.3,268.0 382.2,215.6 415.1,258.6 448.0,293.9 480.9,287.4 513.8,280.8" fill="none" stroke="#ff0000" stroke-width="2.00" stroke-linejoin="round" stroke-linecap="butt"/>
<polyline points="59.9,301.7 92.8,330.2 125.7,325.2 158.6,328.0 191.5,330.2 224.4,328.7 257.3,327.4 290.2,313.8 323.1,316.4 356.0,286.9 388.9,220.2 421.8,279.6 454.7,280.4 487.6,276.1 520.5,261.7" fill="none" stroke="#0000ff" stroke-width="2.00" stroke-linejoin="round" stroke-linecap="butt"/>
<polyline points="66.4,302.4 99.3,322.6 132.2,323.6 165.1,326.3 198.0,328.2 230.9,329.1 263.8,313.1 296.7,313.1 329.6,313.8 362.5,266.8 395.4,181.9 428.3,246.3 461.2,286.6 494.1,272.0 527.0,261.2" fill="none" stroke="#000000" stroke-width="2.00" stroke-linejoin="round" stroke-linecap="butt"/>
<polyline points="73.0,318.2 105.9,319.3 138.8,321.9 171.7,323.2 204.6,329.1 237.5,329.1 270.4,300.7 303.3,318.2 336.2,307.7 369.1,208.9 402.0,209.9 434.9,280.8 467.8,272.2 500.7,256.8 533.6,256.8" fill="none" stroke="#ffffff" stroke-width="2.00" stroke-linejoin="round" stroke-linecap="butt"/>
<line x1="380.30" y1="346.40" x2="380.30" y2="174.00" stroke="#000" stroke-opacity="0.50" stroke-width="3.1" stroke-dasharray="11.3 5.63"/>
<line x1="407.40" y1="346.40" x2="407.40" y2="174.00" stroke="#000" stroke-opacity="0.50" stroke-width="3.1" stroke-dasharray="11.3 5.63"/>
</g>
<rect x="57.20" y="179.90" width="131.80" height="109.40" rx="2.5" fill="#fff" fill-opacity="0.8" stroke="#cccccc" stroke-opacity="0.5" stroke-width="1"/>
<text x="62.40" y="193.60" font-size="12.48" stroke="#1a1a1a" stroke-width="0.12" fill="#1a1a1a" textLength="120.93" lengthAdjust="spacingAndGlyphs">Supersaturation [%]</text>
<line x1="96.00" y1="207.70" x2="121.80" y2="207.70" stroke="#228b22" stroke-width="2.00"/>
<text x="130.60" y="212.00" font-size="12.48" stroke="#1a1a1a" stroke-width="0.12" fill="#1a1a1a" textLength="19.08" lengthAdjust="spacingAndGlyphs">0.2</text>
<line x1="96.00" y1="225.28" x2="121.80" y2="225.28" stroke="#ff0000" stroke-width="2.00"/>
<text x="130.60" y="229.58" font-size="12.48" stroke="#1a1a1a" stroke-width="0.12" fill="#1a1a1a" textLength="19.08" lengthAdjust="spacingAndGlyphs">0.4</text>
<line x1="96.00" y1="242.86" x2="121.80" y2="242.86" stroke="#0000ff" stroke-width="2.00"/>
<text x="130.60" y="247.16" font-size="12.48" stroke="#1a1a1a" stroke-width="0.12" fill="#1a1a1a" textLength="19.08" lengthAdjust="spacingAndGlyphs">0.6</text>
<line x1="96.00" y1="260.44" x2="121.80" y2="260.44" stroke="#000000" stroke-width="2.00"/>
<text x="130.60" y="264.74" font-size="12.48" stroke="#1a1a1a" stroke-width="0.12" fill="#1a1a1a" textLength="19.08" lengthAdjust="spacingAndGlyphs">0.8</text>
<line x1="96.00" y1="278.02" x2="121.80" y2="278.02" stroke="#ffffff" stroke-width="2.00"/>
<text x="130.60" y="282.32" font-size="12.48" stroke="#1a1a1a" stroke-width="0.12" fill="#1a1a1a" textLength="19.08" lengthAdjust="spacingAndGlyphs">1.0</text>
<rect x="51.30" y="174.00" width="504.10" height="172.40" fill="none" stroke="#262626" stroke-width="1.0"/>
<line x1="87.40" y1="346.40" x2="87.40" y2="351.90" stroke="#262626" stroke-width="1.00"/>
<line x1="153.11" y1="346.40" x2="153.11" y2="351.90" stroke="#262626" stroke-width="1.00"/>
<line x1="218.82" y1="346.40" x2="218.82" y2="351.90" stroke="#262626" stroke-width="1.00"/>
<line x1="284.53" y1="346.40" x2="284.53" y2="351.90" stroke="#262626" stroke-width="1.00"/>
<line x1="350.24" y1="346.40" x2="350.24" y2="351.90" stroke="#262626" stroke-width="1.00"/>
<line x1="415.95" y1="346.40" x2="415.95" y2="351.90" stroke="#262626" stroke-width="1.00"/>
<line x1="481.66" y1="346.40" x2="481.66" y2="351.90" stroke="#262626" stroke-width="1.00"/>
<line x1="547.37" y1="346.40" x2="547.37" y2="351.90" stroke="#262626" stroke-width="1.00"/>
<line x1="45.80" y1="324.60" x2="51.30" y2="324.60" stroke="#262626" stroke-width="1.00"/>
<line x1="45.80" y1="185.10" x2="51.30" y2="185.10" stroke="#262626" stroke-width="1.00"/>
<line x1="48.10" y1="346.21" x2="51.30" y2="346.21" stroke="#262626" stroke-width="1.00"/>
<line x1="48.10" y1="338.12" x2="51.30" y2="338.12" stroke="#262626" stroke-width="1.00"/>
<line x1="48.10" y1="330.98" x2="51.30" y2="330.98" stroke="#262626" stroke-width="1.00"/>
<line x1="48.10" y1="282.61" x2="51.30" y2="282.61" stroke="#262626" stroke-width="1.00"/>
<line x1="48.10" y1="258.04" x2="51.30" y2="258.04" stroke="#262626" stroke-width="1.00"/>
<line x1="48.10" y1="240.61" x2="51.30" y2="240.61" stroke="#262626" stroke-width="1.00"/>
<line x1="48.10" y1="227.09" x2="51.30" y2="227.09" stroke="#262626" stroke-width="1.00"/>
<line x1="48.10" y1="216.05" x2="51.30" y2="216.05" stroke="#262626" stroke-width="1.00"/>
<line x1="48.10" y1="206.71" x2="51.30" y2="206.71" stroke="#262626" stroke-width="1.00"/>
<line x1="48.10" y1="198.62" x2="51.30" y2="198.62" stroke="#262626" stroke-width="1.00"/>
<line x1="48.10" y1="191.48" x2="51.30" y2="191.48" stroke="#262626" stroke-width="1.00"/>
<text x="22.79" y="189.40" font-size="12.48" stroke="#1a1a1a" stroke-width="0.12" fill="#1a1a1a" textLength="15.27" lengthAdjust="spacingAndGlyphs">10</text>
<text x="38.06" y="185.10" font-size="8.74" fill="#1a1a1a" textLength="5.34" lengthAdjust="spacingAndGlyphs">1</text>
<text x="22.79" y="328.90" font-size="12.48" stroke="#1a1a1a" stroke-width="0.12" fill="#1a1a1a" textLength="15.27" lengthAdjust="spacingAndGlyphs">10</text>
<text x="38.06" y="324.60" font-size="8.74" fill="#1a1a1a" textLength="5.34" lengthAdjust="spacingAndGlyphs">0</text>
<line x1="555.40" y1="340.40" x2="560.90" y2="340.40" stroke="#262626" stroke-width="1.00"/>
<line x1="555.40" y1="312.00" x2="560.90" y2="312.00" stroke="#262626" stroke-width="1.00"/>
<line x1="555.40" y1="283.60" x2="560.90" y2="283.60" stroke="#262626" stroke-width="1.00"/>
<line x1="555.40" y1="255.20" x2="560.90" y2="255.20" stroke="#262626" stroke-width="1.00"/>
<line x1="555.40" y1="226.80" x2="560.90" y2="226.80" stroke="#262626" stroke-width="1.00"/>
<line x1="555.40" y1="198.40" x2="560.90" y2="198.40" stroke="#262626" stroke-width="1.00"/>
<text x="564.00" y="344.70" font-size="12.48" stroke="#1a1a1a" stroke-width="0.12" fill="#1a1a1a" textLength="7.63" lengthAdjust="spacingAndGlyphs">0</text>
<text x="564.00" y="316.30" font-size="12.48" stroke="#1a1a1a" stroke-width="0.12" fill="#1a1a1a" textLength="15.27" lengthAdjust="spacingAndGlyphs">20</text>
<text x="564.00" y="287.90" font-size="12.48" stroke="#1a1a1a" stroke-width="0.12" fill="#1a1a1a" textLength="15.27" lengthAdjust="spacingAndGlyphs">40</text>
<text x="564.00" y="259.50" font-size="12.48" stroke="#1a1a1a" stroke-width="0.12" fill="#1a1a1a" textLength="15.27" lengthAdjust="spacingAndGlyphs">60</text>
<text x="564.00" y="231.10" font-size="12.48" stroke="#1a1a1a" stroke-width="0.12" fill="#1a1a1a" textLength="15.27" lengthAdjust="spacingAndGlyphs">80</text>
<text x="564.00" y="202.70" font-size="12.48" stroke="#1a1a1a" stroke-width="0.12" fill="#1a1a1a" textLength="22.91" lengthAdjust="spacingAndGlyphs">100</text>
<text x="36.40" y="170.60" font-size="12.48" font-weight="bold" stroke="#1a1a1a" stroke-width="0.35" fill="#1a1a1a" textLength="14.63" lengthAdjust="spacingAndGlyphs">B)</text>
<g transform="translate(16.8,260.0) rotate(-90)"><text x="0.00" y="0.00" font-size="12.48" text-anchor="middle" font-weight="bold" stroke="#1a1a1a" stroke-width="0.35" fill="#1a1a1a" textLength="152.60" lengthAdjust="spacingAndGlyphs">Droplet diameter [µm]</text></g>
<g transform="translate(600.3,259.1) rotate(-90)"><text x="-94.09" y="0.00" font-size="12.48" font-weight="bold" stroke="#1a1a1a" stroke-width="0.35" fill="#1a1a1a" textLength="169.82" lengthAdjust="spacingAndGlyphs">CCN concentration [#·cm</text><text x="75.72" y="-4.60" font-size="8.74" font-weight="bold" stroke="#1a1a1a" stroke-width="0.35" fill="#1a1a1a" textLength="12.88" lengthAdjust="spacingAndGlyphs">−3</text><text x="88.61" y="0.00" font-size="12.48" font-weight="bold" stroke="#1a1a1a" stroke-width="0.35" fill="#1a1a1a" textLength="5.48" lengthAdjust="spacingAndGlyphs">]</text></g>
<linearGradient id="gB" x1="0" y1="0" x2="0" y2="1"><stop offset="0.00" stop-color="#fde725"/><stop offset="0.10" stop-color="#bddf26"/><stop offset="0.20" stop-color="#7ad151"/><stop offset="0.30" stop-color="#44bf70"/><stop offset="0.40" stop-color="#22a884"/><stop offset="0.50" stop-color="#21918c"/><stop offset="0.60" stop-color="#2a788e"/><stop offset="0.70" stop-color="#355f8d"/><stop offset="0.80" stop-color="#414487"/><stop offset="0.90" stop-color="#482475"/><stop offset="1.00" stop-color="#440154"/></linearGradient>
<rect x="624.20" y="187.10" width="7.70" height="146.10" fill="url(#gB)" stroke="#262626" stroke-width="0.9"/>
<line x1="631.90" y1="333.23" x2="635.10" y2="333.23" stroke="#262626" stroke-width="0.90"/>
<line x1="631.90" y1="329.38" x2="635.10" y2="329.38" stroke="#262626" stroke-width="0.90"/>
<line x1="631.90" y1="326.13" x2="635.10" y2="326.13" stroke="#262626" stroke-width="0.90"/>
<line x1="631.90" y1="323.31" x2="635.10" y2="323.31" stroke="#262626" stroke-width="0.90"/>
<line x1="631.90" y1="320.82" x2="635.10" y2="320.82" stroke="#262626" stroke-width="0.90"/>
<line x1="631.90" y1="318.60" x2="637.40" y2="318.60" stroke="#262626" stroke-width="1.00"/>
<line x1="631.90" y1="303.97" x2="635.10" y2="303.97" stroke="#262626" stroke-width="0.90"/>
<line x1="631.90" y1="295.41" x2="635.10" y2="295.41" stroke="#262626" stroke-width="0.90"/>
<line x1="631.90" y1="289.34" x2="635.10" y2="289.34" stroke="#262626" stroke-width="0.90"/>
<line x1="631.90" y1="284.63" x2="635.10" y2="284.63" stroke="#262626" stroke-width="0.90"/>
<line x1="631.90" y1="280.78" x2="635.10" y2="280.78" stroke="#262626" stroke-width="0.90"/>
<line x1="631.90" y1="277.53" x2="635.10" y2="277.53" stroke="#262626" stroke-width="0.90"/>
<line x1="631.90" y1="274.71" x2="635.10" y2="274.71" stroke="#262626" stroke-width="0.90"/>
<line x1="631.90" y1="272.22" x2="635.10" y2="272.22" stroke="#262626" stroke-width="0.90"/>
<line x1="631.90" y1="270.00" x2="637.40" y2="270.00" stroke="#262626" stroke-width="1.00"/>
<line x1="631.90" y1="255.37" x2="635.10" y2="255.37" stroke="#262626" stroke-width="0.90"/>
<line x1="631.90" y1="246.81" x2="635.10" y2="246.81" stroke="#262626" stroke-width="0.90"/>
<line x1="631.90" y1="240.74" x2="635.10" y2="240.74" stroke="#262626" stroke-width="0.90"/>
<line x1="631.90" y1="236.03" x2="635.10" y2="236.03" stroke="#262626" stroke-width="0.90"/>
<line x1="631.90" y1="232.18" x2="635.10" y2="232.18" stroke="#262626" stroke-width="0.90"/>
<line x1="631.90" y1="228.93" x2="635.10" y2="228.93" stroke="#262626" stroke-width="0.90"/>
<line x1="631.90" y1="226.11" x2="635.10" y2="226.11" stroke="#262626" stroke-width="0.90"/>
<line x1="631.90" y1="223.62" x2="635.10" y2="223.62" stroke="#262626" stroke-width="0.90"/>
<line x1="631.90" y1="221.40" x2="637.40" y2="221.40" stroke="#262626" stroke-width="1.00"/>
<line x1="631.90" y1="206.77" x2="635.10" y2="206.77" stroke="#262626" stroke-width="0.90"/>
<line x1="631.90" y1="198.21" x2="635.10" y2="198.21" stroke="#262626" stroke-width="0.90"/>
<line x1="631.90" y1="192.14" x2="635.10" y2="192.14" stroke="#262626" stroke-width="0.90"/>
<line x1="631.90" y1="187.43" x2="635.10" y2="187.43" stroke="#262626" stroke-width="0.90"/>
<text x="641.30" y="225.70" font-size="12.48" stroke="#1a1a1a" stroke-width="0.12" fill="#1a1a1a" textLength="15.27" lengthAdjust="spacingAndGlyphs">10</text>
<text x="656.57" y="221.40" font-size="8.74" fill="#1a1a1a" textLength="5.34" lengthAdjust="spacingAndGlyphs">0</text>
<text x="641.30" y="274.30" font-size="12.48" stroke="#1a1a1a" stroke-width="0.12" fill="#1a1a1a" textLength="15.27" lengthAdjust="spacingAndGlyphs">10</text>
<text x="656.57" y="270.00" font-size="8.74" fill="#1a1a1a" textLength="12.38" lengthAdjust="spacingAndGlyphs">−1</text>
<text x="641.30" y="322.90" font-size="12.48" stroke="#1a1a1a" stroke-width="0.12" fill="#1a1a1a" textLength="15.27" lengthAdjust="spacingAndGlyphs">10</text>
<text x="656.57" y="318.60" font-size="8.74" fill="#1a1a1a" textLength="12.38" lengthAdjust="spacingAndGlyphs">−2</text>
<g transform="translate(682.60,260.20) rotate(-90)"><text x="-59.38" y="0.00" font-size="12.48" font-weight="bold" stroke="#1a1a1a" stroke-width="0.35" fill="#1a1a1a" textLength="100.39" lengthAdjust="spacingAndGlyphs">dN/dlogDp [cm</text><text x="41.01" y="-4.60" font-size="8.74" font-weight="bold" stroke="#1a1a1a" stroke-width="0.35" fill="#1a1a1a" textLength="12.88" lengthAdjust="spacingAndGlyphs">−3</text><text x="53.89" y="0.00" font-size="12.48" font-weight="bold" stroke="#1a1a1a" stroke-width="0.35" fill="#1a1a1a" textLength="5.48" lengthAdjust="spacingAndGlyphs">]</text></g>
</g>
<g id="C">
<clipPath id="cC"><rect x="51.30" y="371.20" width="504.10" height="240.60"/></clipPath>
<g clip-path="url(#cC)">
<rect x="51.3" y="371.2" width="498.1" height="233.4" fill="#450559"/>
<rect x="51.3" y="403.2" width="6.0" height="8.9" fill="#472a7a"/>
<rect x="51.3" y="411.5" width="6.0" height="8.9" fill="#472a7a"/>
<rect x="51.3" y="419.8" width="6.0" height="8.9" fill="#414287"/>
<rect x="51.3" y="428.1" width="6.0" height="8.9" fill="#414287"/>
<rect x="51.3" y="436.4" width="6.0" height="8.9" fill="#3f4889"/>
<rect x="51.3" y="444.6" width="6.0" height="8.9" fill="#414487"/>
<rect x="51.3" y="452.9" width="6.0" height="8.9" fill="#3f4788"/>
<rect x="51.3" y="461.2" width="6.0" height="8.9" fill="#355f8d"/>
<rect x="51.3" y="469.5" width="6.0" height="8.9" fill="#2a768e"/>
<rect x="51.3" y="477.8" width="6.0" height="8.9" fill="#26818e"/>
<rect x="51.3" y="486.1" width="6.0" height="8.9" fill="#2d708e"/>
<rect x="51.3" y="494.4" width="6.0" height="8.9" fill="#33628d"/>
<rect x="51.3" y="502.7" width="6.0" height="8.9" fill="#3a538b"/>
<rect x="51.3" y="510.9" width="6.0" height="8.9" fill="#3c508b"/>
<rect x="51.3" y="519.2" width="6.0" height="8.9" fill="#414487"/>
<rect x="51.3" y="527.5" width="6.0" height="8.9" fill="#481467"/>
<rect x="51.3" y="535.8" width="6.0" height="8.9" fill="#482475"/>
<rect x="51.3" y="544.1" width="6.0" height="8.1" fill="#450559"/>
<rect x="51.3" y="551.6" width="6.0" height="8.1" fill="#46085c"/>
<rect x="51.3" y="559.1" width="6.0" height="8.1" fill="#46085c"/>
<rect x="51.3" y="566.7" width="6.0" height="8.1" fill="#46075a"/>
<rect x="51.3" y="574.2" width="6.0" height="8.1" fill="#470e61"/>
<rect x="51.3" y="581.7" width="6.0" height="8.1" fill="#471365"/>
<rect x="51.3" y="589.2" width="6.0" height="8.1" fill="#46085c"/>
<rect x="51.3" y="596.8" width="6.0" height="8.1" fill="#481668"/>
<rect x="56.8" y="403.2" width="6.0" height="8.9" fill="#46327e"/>
<rect x="56.8" y="411.5" width="6.0" height="8.9" fill="#482979"/>
<rect x="56.8" y="419.8" width="6.0" height="8.9" fill="#414287"/>
<rect x="56.8" y="428.1" width="6.0" height="8.9" fill="#443b84"/>
<rect x="56.8" y="436.4" width="6.0" height="8.9" fill="#414287"/>
<rect x="56.8" y="444.6" width="6.0" height="8.9" fill="#433e85"/>
<rect x="56.8" y="452.9" width="6.0" height="8.9" fill="#3e4989"/>
<rect x="56.8" y="461.2" width="6.0" height="8.9" fill="#33628d"/>
<rect x="56.8" y="469.5" width="6.0" height="8.9" fill="#2c728e"/>
<rect x="56.8" y="477.8" width="6.0" height="8.9" fill="#2a768e"/>
<rect x="56.8" y="486.1" width="6.0" height="8.9" fill="#2e6d8e"/>
<rect x="56.8" y="494.4" width="6.0" height="8.9" fill="#33638d"/>
<rect x="56.8" y="502.7" width="6.0" height="8.9" fill="#3b518b"/>
<rect x="56.8" y="510.9" width="6.0" height="8.9" fill="#3e4a89"/>
<rect x="56.8" y="519.2" width="6.0" height="8.9" fill="#433e85"/>
<rect x="56.8" y="527.5" width="6.0" height="8.9" fill="#482374"/>
<rect x="56.8" y="535.8" width="6.0" height="8.9" fill="#482878"/>
<rect x="56.8" y="544.1" width="6.0" height="8.1" fill="#3e4989"/>
<rect x="56.8" y="551.6" width="6.0" height="8.1" fill="#3a538b"/>
<rect x="56.8" y="559.1" width="6.0" height="8.1" fill="#3d4d8a"/>
<rect x="56.8" y="566.7" width="6.0" height="8.1" fill="#414487"/>
<rect x="56.8" y="574.2" width="6.0" height="8.1" fill="#3b528b"/>
<rect x="56.8" y="581.7" width="6.0" height="8.1" fill="#443a83"/>
<rect x="56.8" y="589.2" width="6.0" height="8.1" fill="#46337f"/>
<rect x="56.8" y="596.8" width="6.0" height="8.1" fill="#414287"/>
<rect x="62.2" y="403.2" width="6.0" height="8.9" fill="#46327e"/>
<rect x="62.2" y="411.5" width="6.0" height="8.9" fill="#472c7a"/>
<rect x="62.2" y="419.8" width="6.0" height="8.9" fill="#3f4788"/>
<rect x="62.2" y="428.1" width="6.0" height="8.9" fill="#443b84"/>
<rect x="62.2" y="436.4" width="6.0" height="8.9" fill="#424186"/>
<rect x="62.2" y="444.6" width="6.0" height="8.9" fill="#423f85"/>
<rect x="62.2" y="452.9" width="6.0" height="8.9" fill="#3c4f8a"/>
<rect x="62.2" y="461.2" width="6.0" height="8.9" fill="#32648e"/>
<rect x="62.2" y="469.5" width="6.0" height="8.9" fill="#287c8e"/>
<rect x="62.2" y="477.8" width="6.0" height="8.9" fill="#287d8e"/>
<rect x="62.2" y="486.1" width="6.0" height="8.9" fill="#2c718e"/>
<rect x="62.2" y="494.4" width="6.0" height="8.9" fill="#306a8e"/>
<rect x="62.2" y="502.7" width="6.0" height="8.9" fill="#3a548c"/>
<rect x="62.2" y="510.9" width="6.0" height="8.9" fill="#3e4989"/>
<rect x="62.2" y="519.2" width="6.0" height="8.9" fill="#3e4989"/>
<rect x="62.2" y="527.5" width="6.0" height="8.9" fill="#481b6d"/>
<rect x="62.2" y="535.8" width="6.0" height="8.9" fill="#482576"/>
<rect x="62.2" y="544.1" width="6.0" height="8.1" fill="#460b5e"/>
<rect x="62.2" y="551.6" width="6.0" height="8.1" fill="#471063"/>
<rect x="62.2" y="559.1" width="6.0" height="8.1" fill="#471164"/>
<rect x="62.2" y="566.7" width="6.0" height="8.1" fill="#414287"/>
<rect x="62.2" y="574.2" width="6.0" height="8.1" fill="#481467"/>
<rect x="62.2" y="581.7" width="6.0" height="8.1" fill="#481467"/>
<rect x="62.2" y="589.2" width="6.0" height="8.1" fill="#470e61"/>
<rect x="62.2" y="596.8" width="6.0" height="8.1" fill="#48186a"/>
<rect x="67.7" y="403.2" width="6.0" height="8.9" fill="#450457"/>
<rect x="67.7" y="411.5" width="6.0" height="8.9" fill="#482576"/>
<rect x="67.7" y="419.8" width="6.0" height="8.9" fill="#443a83"/>
<rect x="67.7" y="428.1" width="6.0" height="8.9" fill="#423f85"/>
<rect x="67.7" y="436.4" width="6.0" height="8.9" fill="#443b84"/>
<rect x="67.7" y="444.6" width="6.0" height="8.9" fill="#443983"/>
<rect x="67.7" y="452.9" width="6.0" height="8.9" fill="#414487"/>
<rect x="67.7" y="461.2" width="6.0" height="8.9" fill="#34618d"/>
<rect x="67.7" y="469.5" width="6.0" height="8.9" fill="#2e6d8e"/>
<rect x="67.7" y="477.8" width="6.0" height="8.9" fill="#2d718e"/>
<rect x="67.7" y="486.1" width="6.0" height="8.9" fill="#2e6e8e"/>
<rect x="67.7" y="494.4" width="6.0" height="8.9" fill="#33628d"/>
<rect x="67.7" y="502.7" width="6.0" height="8.9" fill="#39558c"/>
<rect x="67.7" y="510.9" width="6.0" height="8.9" fill="#3e4989"/>
<rect x="67.7" y="519.2" width="6.0" height="8.9" fill="#424186"/>
<rect x="67.7" y="527.5" width="6.0" height="8.9" fill="#481d6f"/>
<rect x="67.7" y="535.8" width="6.0" height="8.9" fill="#472a7a"/>
<rect x="67.7" y="544.1" width="6.0" height="8.1" fill="#46085c"/>
<rect x="67.7" y="551.6" width="6.0" height="8.1" fill="#450457"/>
<rect x="67.7" y="559.1" width="6.0" height="8.1" fill="#440154"/>
<rect x="67.7" y="566.7" width="6.0" height="8.1" fill="#460a5d"/>
<rect x="67.7" y="574.2" width="6.0" height="8.1" fill="#460a5d"/>
<rect x="67.7" y="581.7" width="6.0" height="8.1" fill="#481f70"/>
<rect x="67.7" y="589.2" width="6.0" height="8.1" fill="#481b6d"/>
<rect x="67.7" y="596.8" width="6.0" height="8.1" fill="#481b6d"/>
<rect x="73.2" y="403.2" width="6.0" height="8.9" fill="#46075a"/>
<rect x="73.2" y="411.5" width="6.0" height="8.9" fill="#482878"/>
<rect x="73.2" y="419.8" width="6.0" height="8.9" fill="#424186"/>
<rect x="73.2" y="428.1" width="6.0" height="8.9" fill="#443983"/>
<rect x="73.2" y="436.4" width="6.0" height="8.9" fill="#433e85"/>
<rect x="73.2" y="444.6" width="6.0" height="8.9" fill="#404688"/>
<rect x="73.2" y="452.9" width="6.0" height="8.9" fill="#3e4c8a"/>
<rect x="73.2" y="461.2" width="6.0" height="8.9" fill="#38598c"/>
<rect x="73.2" y="469.5" width="6.0" height="8.9" fill="#2a778e"/>
<rect x="73.2" y="477.8" width="6.0" height="8.9" fill="#2a778e"/>
<rect x="73.2" y="486.1" width="6.0" height="8.9" fill="#31688e"/>
<rect x="73.2" y="494.4" width="6.0" height="8.9" fill="#306a8e"/>
<rect x="73.2" y="502.7" width="6.0" height="8.9" fill="#38588c"/>
<rect x="73.2" y="510.9" width="6.0" height="8.9" fill="#404688"/>
<rect x="73.2" y="519.2" width="6.0" height="8.9" fill="#424086"/>
<rect x="73.2" y="527.5" width="6.0" height="8.9" fill="#48186a"/>
<rect x="73.2" y="535.8" width="6.0" height="8.9" fill="#482475"/>
<rect x="73.2" y="544.1" width="6.0" height="8.1" fill="#471164"/>
<rect x="73.2" y="551.6" width="6.0" height="8.1" fill="#460a5d"/>
<rect x="73.2" y="559.1" width="6.0" height="8.1" fill="#470e61"/>
<rect x="73.2" y="566.7" width="6.0" height="8.1" fill="#481668"/>
<rect x="73.2" y="574.2" width="6.0" height="8.1" fill="#450559"/>
<rect x="73.2" y="581.7" width="6.0" height="8.1" fill="#481467"/>
<rect x="73.2" y="589.2" width="6.0" height="8.1" fill="#482374"/>
<rect x="73.2" y="596.8" width="6.0" height="8.1" fill="#423f85"/>
<rect x="78.7" y="411.5" width="6.0" height="8.9" fill="#450559"/>
<rect x="78.7" y="419.8" width="6.0" height="8.9" fill="#471365"/>
<rect x="78.7" y="428.1" width="6.0" height="8.9" fill="#481a6c"/>
<rect x="78.7" y="436.4" width="6.0" height="8.9" fill="#481b6d"/>
<rect x="78.7" y="444.6" width="6.0" height="8.9" fill="#481d6f"/>
<rect x="78.7" y="452.9" width="6.0" height="8.9" fill="#472e7c"/>
<rect x="78.7" y="461.2" width="6.0" height="8.9" fill="#3e4a89"/>
<rect x="78.7" y="469.5" width="6.0" height="8.9" fill="#31688e"/>
<rect x="78.7" y="477.8" width="6.0" height="8.9" fill="#2d708e"/>
<rect x="78.7" y="486.1" width="6.0" height="8.9" fill="#30698e"/>
<rect x="78.7" y="494.4" width="6.0" height="8.9" fill="#31668e"/>
<rect x="78.7" y="502.7" width="6.0" height="8.9" fill="#375a8c"/>
<rect x="78.7" y="510.9" width="6.0" height="8.9" fill="#3e4989"/>
<rect x="78.7" y="519.2" width="6.0" height="8.9" fill="#404688"/>
<rect x="78.7" y="527.5" width="6.0" height="8.9" fill="#471164"/>
<rect x="78.7" y="535.8" width="6.0" height="8.9" fill="#471164"/>
<rect x="78.7" y="544.1" width="6.0" height="8.1" fill="#471063"/>
<rect x="78.7" y="551.6" width="6.0" height="8.1" fill="#471063"/>
<rect x="78.7" y="559.1" width="6.0" height="8.1" fill="#481467"/>
<rect x="78.7" y="566.7" width="6.0" height="8.1" fill="#460b5e"/>
<rect x="78.7" y="574.2" width="6.0" height="8.1" fill="#460b5e"/>
<rect x="78.7" y="581.7" width="6.0" height="8.1" fill="#481769"/>
<rect x="78.7" y="589.2" width="6.0" height="8.1" fill="#48186a"/>
<rect x="78.7" y="596.8" width="6.0" height="8.1" fill="#470d60"/>
<rect x="84.1" y="411.5" width="6.0" height="8.9" fill="#471365"/>
<rect x="84.1" y="419.8" width="6.0" height="8.9" fill="#471365"/>
<rect x="84.1" y="428.1" width="6.0" height="8.9" fill="#470d60"/>
<rect x="84.1" y="436.4" width="6.0" height="8.9" fill="#481b6d"/>
<rect x="84.1" y="444.6" width="6.0" height="8.9" fill="#481b6d"/>
<rect x="84.1" y="452.9" width="6.0" height="8.9" fill="#46327e"/>
<rect x="84.1" y="461.2" width="6.0" height="8.9" fill="#404688"/>
<rect x="84.1" y="469.5" width="6.0" height="8.9" fill="#33638d"/>
<rect x="84.1" y="477.8" width="6.0" height="8.9" fill="#2e6e8e"/>
<rect x="84.1" y="486.1" width="6.0" height="8.9" fill="#31668e"/>
<rect x="84.1" y="494.4" width="6.0" height="8.9" fill="#365c8d"/>
<rect x="84.1" y="502.7" width="6.0" height="8.9" fill="#38588c"/>
<rect x="84.1" y="510.9" width="6.0" height="8.9" fill="#3d4e8a"/>
<rect x="84.1" y="519.2" width="6.0" height="8.9" fill="#404688"/>
<rect x="84.1" y="527.5" width="6.0" height="8.9" fill="#471164"/>
<rect x="84.1" y="535.8" width="6.0" height="8.9" fill="#470d60"/>
<rect x="84.1" y="544.1" width="6.0" height="8.1" fill="#463480"/>
<rect x="84.1" y="551.6" width="6.0" height="8.1" fill="#471063"/>
<rect x="84.1" y="559.1" width="6.0" height="8.1" fill="#46085c"/>
<rect x="84.1" y="566.7" width="6.0" height="8.1" fill="#440256"/>
<rect x="84.1" y="574.2" width="6.0" height="8.1" fill="#481d6f"/>
<rect x="84.1" y="581.7" width="6.0" height="8.1" fill="#3f4788"/>
<rect x="84.1" y="589.2" width="6.0" height="8.1" fill="#423f85"/>
<rect x="84.1" y="596.8" width="6.0" height="8.1" fill="#453882"/>
<rect x="89.6" y="411.5" width="6.0" height="8.9" fill="#471365"/>
<rect x="89.6" y="419.8" width="6.0" height="8.9" fill="#450559"/>
<rect x="89.6" y="428.1" width="6.0" height="8.9" fill="#481467"/>
<rect x="89.6" y="436.4" width="6.0" height="8.9" fill="#481b6d"/>
<rect x="89.6" y="444.6" width="6.0" height="8.9" fill="#482071"/>
<rect x="89.6" y="452.9" width="6.0" height="8.9" fill="#472a7a"/>
<rect x="89.6" y="461.2" width="6.0" height="8.9" fill="#3f4889"/>
<rect x="89.6" y="469.5" width="6.0" height="8.9" fill="#32648e"/>
<rect x="89.6" y="477.8" width="6.0" height="8.9" fill="#2b758e"/>
<rect x="89.6" y="486.1" width="6.0" height="8.9" fill="#2e6f8e"/>
<rect x="89.6" y="494.4" width="6.0" height="8.9" fill="#365d8d"/>
<rect x="89.6" y="502.7" width="6.0" height="8.9" fill="#3a538b"/>
<rect x="89.6" y="510.9" width="6.0" height="8.9" fill="#3a548c"/>
<rect x="89.6" y="519.2" width="6.0" height="8.9" fill="#423f85"/>
<rect x="89.6" y="527.5" width="6.0" height="8.9" fill="#481467"/>
<rect x="89.6" y="535.8" width="6.0" height="8.9" fill="#471365"/>
<rect x="89.6" y="544.1" width="6.0" height="8.1" fill="#34618d"/>
<rect x="89.6" y="551.6" width="6.0" height="8.1" fill="#33638d"/>
<rect x="89.6" y="559.1" width="6.0" height="8.1" fill="#34618d"/>
<rect x="89.6" y="566.7" width="6.0" height="8.1" fill="#3d4e8a"/>
<rect x="89.6" y="574.2" width="6.0" height="8.1" fill="#404688"/>
<rect x="89.6" y="581.7" width="6.0" height="8.1" fill="#3b528b"/>
<rect x="89.6" y="589.2" width="6.0" height="8.1" fill="#375a8c"/>
<rect x="89.6" y="596.8" width="6.0" height="8.1" fill="#463480"/>
<rect x="95.1" y="411.5" width="6.0" height="8.9" fill="#450457"/>
<rect x="95.1" y="419.8" width="6.0" height="8.9" fill="#470d60"/>
<rect x="95.1" y="428.1" width="6.0" height="8.9" fill="#481d6f"/>
<rect x="95.1" y="436.4" width="6.0" height="8.9" fill="#481b6d"/>
<rect x="95.1" y="444.6" width="6.0" height="8.9" fill="#471365"/>
<rect x="95.1" y="452.9" width="6.0" height="8.9" fill="#482878"/>
<rect x="95.1" y="461.2" width="6.0" height="8.9" fill="#3e4989"/>
<rect x="95.1" y="469.5" width="6.0" height="8.9" fill="#30698e"/>
<rect x="95.1" y="477.8" width="6.0" height="8.9" fill="#2f6b8e"/>
<rect x="95.1" y="486.1" width="6.0" height="8.9" fill="#306a8e"/>
<rect x="95.1" y="494.4" width="6.0" height="8.9" fill="#33628d"/>
<rect x="95.1" y="502.7" width="6.0" height="8.9" fill="#3a548c"/>
<rect x="95.1" y="510.9" width="6.0" height="8.9" fill="#3f4889"/>
<rect x="95.1" y="519.2" width="6.0" height="8.9" fill="#3e4a89"/>
<rect x="95.1" y="527.5" width="6.0" height="8.9" fill="#481f70"/>
<rect x="95.1" y="535.8" width="6.0" height="8.9" fill="#48186a"/>
<rect x="95.1" y="544.1" width="6.0" height="8.1" fill="#453581"/>
<rect x="95.1" y="551.6" width="6.0" height="8.1" fill="#482979"/>
<rect x="95.1" y="559.1" width="6.0" height="8.1" fill="#46337f"/>
<rect x="95.1" y="566.7" width="6.0" height="8.1" fill="#460b5e"/>
<rect x="95.1" y="574.2" width="6.0" height="8.1" fill="#46307e"/>
<rect x="95.1" y="581.7" width="6.0" height="8.1" fill="#414487"/>
<rect x="95.1" y="589.2" width="6.0" height="8.1" fill="#3b518b"/>
<rect x="95.1" y="596.8" width="6.0" height="8.1" fill="#424186"/>
<rect x="100.6" y="411.5" width="6.0" height="8.9" fill="#460a5d"/>
<rect x="100.6" y="419.8" width="6.0" height="8.9" fill="#481a6c"/>
<rect x="100.6" y="428.1" width="6.0" height="8.9" fill="#481d6f"/>
<rect x="100.6" y="436.4" width="6.0" height="8.9" fill="#481c6e"/>
<rect x="100.6" y="444.6" width="6.0" height="8.9" fill="#482374"/>
<rect x="100.6" y="452.9" width="6.0" height="8.9" fill="#482071"/>
<rect x="100.6" y="461.2" width="6.0" height="8.9" fill="#3e4989"/>
<rect x="100.6" y="469.5" width="6.0" height="8.9" fill="#31688e"/>
<rect x="100.6" y="477.8" width="6.0" height="8.9" fill="#32658e"/>
<rect x="100.6" y="486.1" width="6.0" height="8.9" fill="#33638d"/>
<rect x="100.6" y="494.4" width="6.0" height="8.9" fill="#33638d"/>
<rect x="100.6" y="502.7" width="6.0" height="8.9" fill="#39568c"/>
<rect x="100.6" y="510.9" width="6.0" height="8.9" fill="#404588"/>
<rect x="100.6" y="519.2" width="6.0" height="8.9" fill="#424186"/>
<rect x="100.6" y="527.5" width="6.0" height="8.9" fill="#481467"/>
<rect x="100.6" y="535.8" width="6.0" height="8.9" fill="#481769"/>
<rect x="100.6" y="544.1" width="6.0" height="8.1" fill="#34618d"/>
<rect x="100.6" y="551.6" width="6.0" height="8.1" fill="#355e8d"/>
<rect x="100.6" y="559.1" width="6.0" height="8.1" fill="#365d8d"/>
<rect x="100.6" y="566.7" width="6.0" height="8.1" fill="#355f8d"/>
<rect x="100.6" y="574.2" width="6.0" height="8.1" fill="#443a83"/>
<rect x="100.6" y="581.7" width="6.0" height="8.1" fill="#482576"/>
<rect x="100.6" y="589.2" width="6.0" height="8.1" fill="#481769"/>
<rect x="100.6" y="596.8" width="6.0" height="8.1" fill="#482475"/>
<rect x="106.0" y="411.5" width="6.0" height="8.9" fill="#450457"/>
<rect x="106.0" y="419.8" width="6.0" height="8.9" fill="#471063"/>
<rect x="106.0" y="428.1" width="6.0" height="8.9" fill="#481a6c"/>
<rect x="106.0" y="436.4" width="6.0" height="8.9" fill="#481d6f"/>
<rect x="106.0" y="444.6" width="6.0" height="8.9" fill="#481a6c"/>
<rect x="106.0" y="452.9" width="6.0" height="8.9" fill="#482374"/>
<rect x="106.0" y="461.2" width="6.0" height="8.9" fill="#3e4989"/>
<rect x="106.0" y="469.5" width="6.0" height="8.9" fill="#33638d"/>
<rect x="106.0" y="477.8" width="6.0" height="8.9" fill="#2e6d8e"/>
<rect x="106.0" y="486.1" width="6.0" height="8.9" fill="#31668e"/>
<rect x="106.0" y="494.4" width="6.0" height="8.9" fill="#34608d"/>
<rect x="106.0" y="502.7" width="6.0" height="8.9" fill="#38598c"/>
<rect x="106.0" y="510.9" width="6.0" height="8.9" fill="#3d4e8a"/>
<rect x="106.0" y="519.2" width="6.0" height="8.9" fill="#3f4788"/>
<rect x="106.0" y="527.5" width="6.0" height="8.9" fill="#481d6f"/>
<rect x="106.0" y="535.8" width="6.0" height="8.9" fill="#481769"/>
<rect x="106.0" y="544.1" width="6.0" height="8.1" fill="#460a5d"/>
<rect x="106.0" y="551.6" width="6.0" height="8.1" fill="#471365"/>
<rect x="106.0" y="559.1" width="6.0" height="8.1" fill="#481668"/>
<rect x="106.0" y="566.7" width="6.0" height="8.1" fill="#460a5d"/>
<rect x="106.0" y="574.2" width="6.0" height="8.1" fill="#453781"/>
<rect x="106.0" y="581.7" width="6.0" height="8.1" fill="#39568c"/>
<rect x="106.0" y="589.2" width="6.0" height="8.1" fill="#46307e"/>
<rect x="106.0" y="596.8" width="6.0" height="8.1" fill="#472c7a"/>
<rect x="111.5" y="411.5" width="6.0" height="8.9" fill="#471365"/>
<rect x="111.5" y="419.8" width="6.0" height="8.9" fill="#471365"/>
<rect x="111.5" y="428.1" width="6.0" height="8.9" fill="#481b6d"/>
<rect x="111.5" y="436.4" width="6.0" height="8.9" fill="#481769"/>
<rect x="111.5" y="444.6" width="6.0" height="8.9" fill="#482677"/>
<rect x="111.5" y="452.9" width="6.0" height="8.9" fill="#472e7c"/>
<rect x="111.5" y="461.2" width="6.0" height="8.9" fill="#3f4889"/>
<rect x="111.5" y="469.5" width="6.0" height="8.9" fill="#33638d"/>
<rect x="111.5" y="477.8" width="6.0" height="8.9" fill="#2e6f8e"/>
<rect x="111.5" y="486.1" width="6.0" height="8.9" fill="#31668e"/>
<rect x="111.5" y="494.4" width="6.0" height="8.9" fill="#355e8d"/>
<rect x="111.5" y="502.7" width="6.0" height="8.9" fill="#3b528b"/>
<rect x="111.5" y="510.9" width="6.0" height="8.9" fill="#3c4f8a"/>
<rect x="111.5" y="519.2" width="6.0" height="8.9" fill="#414487"/>
<rect x="111.5" y="527.5" width="6.0" height="8.9" fill="#481769"/>
<rect x="111.5" y="535.8" width="6.0" height="8.9" fill="#481467"/>
<rect x="111.5" y="544.1" width="6.0" height="8.1" fill="#450559"/>
<rect x="111.5" y="551.6" width="6.0" height="8.1" fill="#481668"/>
<rect x="111.5" y="559.1" width="6.0" height="8.1" fill="#471164"/>
<rect x="111.5" y="566.7" width="6.0" height="8.1" fill="#471164"/>
<rect x="111.5" y="574.2" width="6.0" height="8.1" fill="#414487"/>
<rect x="111.5" y="581.7" width="6.0" height="8.1" fill="#3d4e8a"/>
<rect x="111.5" y="589.2" width="6.0" height="8.1" fill="#453882"/>
<rect x="111.5" y="596.8" width="6.0" height="8.1" fill="#46307e"/>
<rect x="117.0" y="411.5" width="6.0" height="8.9" fill="#46075a"/>
<rect x="117.0" y="419.8" width="6.0" height="8.9" fill="#470e61"/>
<rect x="117.0" y="428.1" width="6.0" height="8.9" fill="#481769"/>
<rect x="117.0" y="436.4" width="6.0" height="8.9" fill="#482173"/>
<rect x="117.0" y="444.6" width="6.0" height="8.9" fill="#481b6d"/>
<rect x="117.0" y="452.9" width="6.0" height="8.9" fill="#482374"/>
<rect x="117.0" y="461.2" width="6.0" height="8.9" fill="#3d4e8a"/>
<rect x="117.0" y="469.5" width="6.0" height="8.9" fill="#34608d"/>
<rect x="117.0" y="477.8" width="6.0" height="8.9" fill="#2c728e"/>
<rect x="117.0" y="486.1" width="6.0" height="8.9" fill="#31678e"/>
<rect x="117.0" y="494.4" width="6.0" height="8.9" fill="#365d8d"/>
<rect x="117.0" y="502.7" width="6.0" height="8.9" fill="#3a548c"/>
<rect x="117.0" y="510.9" width="6.0" height="8.9" fill="#3e4c8a"/>
<rect x="117.0" y="519.2" width="6.0" height="8.9" fill="#3f4788"/>
<rect x="117.0" y="527.5" width="6.0" height="8.9" fill="#481668"/>
<rect x="117.0" y="535.8" width="6.0" height="8.9" fill="#48186a"/>
<rect x="117.0" y="544.1" width="6.0" height="8.1" fill="#375b8d"/>
<rect x="117.0" y="551.6" width="6.0" height="8.1" fill="#46337f"/>
<rect x="117.0" y="559.1" width="6.0" height="8.1" fill="#470d60"/>
<rect x="117.0" y="566.7" width="6.0" height="8.1" fill="#450559"/>
<rect x="117.0" y="574.2" width="6.0" height="8.1" fill="#460b5e"/>
<rect x="117.0" y="581.7" width="6.0" height="8.1" fill="#471063"/>
<rect x="117.0" y="589.2" width="6.0" height="8.1" fill="#482071"/>
<rect x="117.0" y="596.8" width="6.0" height="8.1" fill="#433e85"/>
<rect x="122.4" y="370.7" width="5.5" height="8.0" fill="#ffffff"/>
<rect x="122.4" y="378.1" width="5.5" height="8.9" fill="#ffffff"/>
<rect x="122.4" y="386.4" width="5.5" height="8.9" fill="#ffffff"/>
<rect x="122.4" y="394.7" width="5.5" height="8.9" fill="#ffffff"/>
<rect x="122.4" y="403.0" width="5.5" height="8.9" fill="#ffffff"/>
<rect x="122.4" y="411.3" width="5.5" height="8.9" fill="#ffffff"/>
<rect x="122.4" y="419.6" width="5.5" height="8.9" fill="#ffffff"/>
<rect x="122.4" y="427.9" width="5.5" height="8.9" fill="#ffffff"/>
<rect x="122.4" y="436.2" width="5.5" height="8.9" fill="#ffffff"/>
<rect x="122.4" y="444.4" width="5.5" height="8.9" fill="#ffffff"/>
<rect x="122.4" y="452.7" width="5.5" height="8.9" fill="#ffffff"/>
<rect x="122.4" y="461.0" width="5.5" height="8.9" fill="#ffffff"/>
<rect x="122.4" y="469.3" width="5.5" height="8.9" fill="#ffffff"/>
<rect x="122.4" y="477.6" width="5.5" height="8.9" fill="#ffffff"/>
<rect x="122.4" y="485.9" width="5.5" height="8.9" fill="#ffffff"/>
<rect x="122.4" y="494.2" width="5.5" height="8.9" fill="#ffffff"/>
<rect x="122.4" y="502.5" width="5.5" height="8.9" fill="#ffffff"/>
<rect x="122.4" y="510.7" width="5.5" height="8.9" fill="#ffffff"/>
<rect x="122.4" y="519.0" width="5.5" height="8.9" fill="#ffffff"/>
<rect x="122.4" y="527.3" width="5.5" height="8.9" fill="#ffffff"/>
<rect x="122.4" y="535.6" width="5.5" height="8.9" fill="#ffffff"/>
<rect x="122.4" y="544.1" width="6.0" height="8.1" fill="#470e61"/>
<rect x="122.4" y="551.6" width="6.0" height="8.1" fill="#440154"/>
<rect x="122.4" y="559.1" width="6.0" height="8.1" fill="#450457"/>
<rect x="122.4" y="566.7" width="6.0" height="8.1" fill="#481d6f"/>
<rect x="122.4" y="574.2" width="6.0" height="8.1" fill="#3f4889"/>
<rect x="122.4" y="581.7" width="6.0" height="8.1" fill="#3a548c"/>
<rect x="122.4" y="589.2" width="6.0" height="8.1" fill="#404588"/>
<rect x="122.4" y="596.8" width="6.0" height="8.1" fill="#38598c"/>
<rect x="127.9" y="370.7" width="5.5" height="8.0" fill="#ffffff"/>
<rect x="127.9" y="378.1" width="5.5" height="8.9" fill="#ffffff"/>
<rect x="127.9" y="386.4" width="5.5" height="8.9" fill="#ffffff"/>
<rect x="127.9" y="394.7" width="5.5" height="8.9" fill="#ffffff"/>
<rect x="127.9" y="403.0" width="5.5" height="8.9" fill="#ffffff"/>
<rect x="127.9" y="411.3" width="5.5" height="8.9" fill="#ffffff"/>
<rect x="127.9" y="419.6" width="5.5" height="8.9" fill="#ffffff"/>
<rect x="127.9" y="427.9" width="5.5" height="8.9" fill="#ffffff"/>
<rect x="127.9" y="436.2" width="5.5" height="8.9" fill="#ffffff"/>
<rect x="127.9" y="444.4" width="5.5" height="8.9" fill="#ffffff"/>
<rect x="127.9" y="452.7" width="5.5" height="8.9" fill="#ffffff"/>
<rect x="127.9" y="461.0" width="5.5" height="8.9" fill="#ffffff"/>
<rect x="127.9" y="469.3" width="5.5" height="8.9" fill="#ffffff"/>
<rect x="127.9" y="477.6" width="5.5" height="8.9" fill="#ffffff"/>
<rect x="127.9" y="485.9" width="5.5" height="8.9" fill="#ffffff"/>
<rect x="127.9" y="494.2" width="5.5" height="8.9" fill="#ffffff"/>
<rect x="127.9" y="502.5" width="5.5" height="8.9" fill="#ffffff"/>
<rect x="127.9" y="510.7" width="5.5" height="8.9" fill="#ffffff"/>
<rect x="127.9" y="519.0" width="5.5" height="8.9" fill="#ffffff"/>
<rect x="127.9" y="527.3" width="5.5" height="8.9" fill="#ffffff"/>
<rect x="127.9" y="535.6" width="5.5" height="8.9" fill="#ffffff"/>
<rect x="127.9" y="544.1" width="6.0" height="8.1" fill="#3a548c"/>
<rect x="127.9" y="551.6" width="6.0" height="8.1" fill="#3b528b"/>
<rect x="127.9" y="559.1" width="6.0" height="8.1" fill="#3d4d8a"/>
<rect x="127.9" y="566.7" width="6.0" height="8.1" fill="#482475"/>
<rect x="127.9" y="574.2" width="6.0" height="8.1" fill="#470e61"/>
<rect x="127.9" y="581.7" width="6.0" height="8.1" fill="#3c4f8a"/>
<rect x="127.9" y="589.2" width="6.0" height="8.1" fill="#424086"/>
<rect x="127.9" y="596.8" width="6.0" height="8.1" fill="#482475"/>
<rect x="133.4" y="419.8" width="6.0" height="8.9" fill="#460a5d"/>
<rect x="133.4" y="428.1" width="6.0" height="8.9" fill="#481467"/>
<rect x="133.4" y="436.4" width="6.0" height="8.9" fill="#471365"/>
<rect x="133.4" y="444.6" width="6.0" height="8.9" fill="#481c6e"/>
<rect x="133.4" y="452.9" width="6.0" height="8.9" fill="#46337f"/>
<rect x="133.4" y="461.2" width="6.0" height="8.9" fill="#433e85"/>
<rect x="133.4" y="469.5" width="6.0" height="8.9" fill="#39568c"/>
<rect x="133.4" y="477.8" width="6.0" height="8.9" fill="#2f6b8e"/>
<rect x="133.4" y="486.1" width="6.0" height="8.9" fill="#2d718e"/>
<rect x="133.4" y="494.4" width="6.0" height="8.9" fill="#2e6f8e"/>
<rect x="133.4" y="502.7" width="6.0" height="8.9" fill="#31678e"/>
<rect x="133.4" y="510.9" width="6.0" height="8.9" fill="#355e8d"/>
<rect x="133.4" y="519.2" width="6.0" height="8.9" fill="#3f4788"/>
<rect x="133.4" y="527.5" width="6.0" height="8.9" fill="#482374"/>
<rect x="133.4" y="535.8" width="6.0" height="8.9" fill="#471164"/>
<rect x="133.4" y="544.1" width="6.0" height="8.1" fill="#433e85"/>
<rect x="133.4" y="551.6" width="6.0" height="8.1" fill="#443b84"/>
<rect x="133.4" y="559.1" width="6.0" height="8.1" fill="#482576"/>
<rect x="133.4" y="566.7" width="6.0" height="8.1" fill="#471365"/>
<rect x="133.4" y="574.2" width="6.0" height="8.1" fill="#471063"/>
<rect x="133.4" y="581.7" width="6.0" height="8.1" fill="#472f7d"/>
<rect x="133.4" y="589.2" width="6.0" height="8.1" fill="#46327e"/>
<rect x="133.4" y="596.8" width="6.0" height="8.1" fill="#482374"/>
<rect x="138.9" y="419.8" width="6.0" height="8.9" fill="#460a5d"/>
<rect x="138.9" y="428.1" width="6.0" height="8.9" fill="#471063"/>
<rect x="138.9" y="436.4" width="6.0" height="8.9" fill="#48186a"/>
<rect x="138.9" y="444.6" width="6.0" height="8.9" fill="#481f70"/>
<rect x="138.9" y="452.9" width="6.0" height="8.9" fill="#472d7b"/>
<rect x="138.9" y="461.2" width="6.0" height="8.9" fill="#423f85"/>
<rect x="138.9" y="469.5" width="6.0" height="8.9" fill="#3c4f8a"/>
<rect x="138.9" y="477.8" width="6.0" height="8.9" fill="#32658e"/>
<rect x="138.9" y="486.1" width="6.0" height="8.9" fill="#2e6e8e"/>
<rect x="138.9" y="494.4" width="6.0" height="8.9" fill="#2f6b8e"/>
<rect x="138.9" y="502.7" width="6.0" height="8.9" fill="#2f6c8e"/>
<rect x="138.9" y="510.9" width="6.0" height="8.9" fill="#39558c"/>
<rect x="138.9" y="519.2" width="6.0" height="8.9" fill="#433d84"/>
<rect x="138.9" y="527.5" width="6.0" height="8.9" fill="#472d7b"/>
<rect x="138.9" y="535.8" width="6.0" height="8.9" fill="#481668"/>
<rect x="138.9" y="544.1" width="6.0" height="8.1" fill="#472a7a"/>
<rect x="138.9" y="551.6" width="6.0" height="8.1" fill="#453882"/>
<rect x="138.9" y="559.1" width="6.0" height="8.1" fill="#482576"/>
<rect x="138.9" y="566.7" width="6.0" height="8.1" fill="#482475"/>
<rect x="138.9" y="574.2" width="6.0" height="8.1" fill="#472d7b"/>
<rect x="138.9" y="581.7" width="6.0" height="8.1" fill="#3f4788"/>
<rect x="138.9" y="589.2" width="6.0" height="8.1" fill="#424086"/>
<rect x="138.9" y="596.8" width="6.0" height="8.1" fill="#453781"/>
<rect x="144.3" y="419.8" width="6.0" height="8.9" fill="#470d60"/>
<rect x="144.3" y="428.1" width="6.0" height="8.9" fill="#471164"/>
<rect x="144.3" y="436.4" width="6.0" height="8.9" fill="#481f70"/>
<rect x="144.3" y="444.6" width="6.0" height="8.9" fill="#481b6d"/>
<rect x="144.3" y="452.9" width="6.0" height="8.9" fill="#482979"/>
<rect x="144.3" y="461.2" width="6.0" height="8.9" fill="#443983"/>
<rect x="144.3" y="469.5" width="6.0" height="8.9" fill="#3c508b"/>
<rect x="144.3" y="477.8" width="6.0" height="8.9" fill="#2e6d8e"/>
<rect x="144.3" y="486.1" width="6.0" height="8.9" fill="#2f6b8e"/>
<rect x="144.3" y="494.4" width="6.0" height="8.9" fill="#2d718e"/>
<rect x="144.3" y="502.7" width="6.0" height="8.9" fill="#2e6f8e"/>
<rect x="144.3" y="510.9" width="6.0" height="8.9" fill="#33628d"/>
<rect x="144.3" y="519.2" width="6.0" height="8.9" fill="#3d4d8a"/>
<rect x="144.3" y="527.5" width="6.0" height="8.9" fill="#482576"/>
<rect x="144.3" y="535.8" width="6.0" height="8.9" fill="#481668"/>
<rect x="144.3" y="544.1" width="6.0" height="8.1" fill="#472c7a"/>
<rect x="144.3" y="551.6" width="6.0" height="8.1" fill="#471063"/>
<rect x="144.3" y="559.1" width="6.0" height="8.1" fill="#482475"/>
<rect x="144.3" y="566.7" width="6.0" height="8.1" fill="#471063"/>
<rect x="144.3" y="574.2" width="6.0" height="8.1" fill="#482576"/>
<rect x="144.3" y="581.7" width="6.0" height="8.1" fill="#470d60"/>
<rect x="144.3" y="589.2" width="6.0" height="8.1" fill="#481b6d"/>
<rect x="144.3" y="596.8" width="6.0" height="8.1" fill="#471164"/>
<rect x="149.8" y="419.8" width="6.0" height="8.9" fill="#440256"/>
<rect x="149.8" y="428.1" width="6.0" height="8.9" fill="#481a6c"/>
<rect x="149.8" y="436.4" width="6.0" height="8.9" fill="#481f70"/>
<rect x="149.8" y="444.6" width="6.0" height="8.9" fill="#482071"/>
<rect x="149.8" y="452.9" width="6.0" height="8.9" fill="#472d7b"/>
<rect x="149.8" y="461.2" width="6.0" height="8.9" fill="#443b84"/>
<rect x="149.8" y="469.5" width="6.0" height="8.9" fill="#3b518b"/>
<rect x="149.8" y="477.8" width="6.0" height="8.9" fill="#306a8e"/>
<rect x="149.8" y="486.1" width="6.0" height="8.9" fill="#2d708e"/>
<rect x="149.8" y="494.4" width="6.0" height="8.9" fill="#2d708e"/>
<rect x="149.8" y="502.7" width="6.0" height="8.9" fill="#2e6d8e"/>
<rect x="149.8" y="510.9" width="6.0" height="8.9" fill="#355e8d"/>
<rect x="149.8" y="519.2" width="6.0" height="8.9" fill="#3f4889"/>
<rect x="149.8" y="527.5" width="6.0" height="8.9" fill="#472f7d"/>
<rect x="149.8" y="535.8" width="6.0" height="8.9" fill="#481b6d"/>
<rect x="149.8" y="544.1" width="6.0" height="8.1" fill="#482374"/>
<rect x="149.8" y="551.6" width="6.0" height="8.1" fill="#482173"/>
<rect x="149.8" y="559.1" width="6.0" height="8.1" fill="#443a83"/>
<rect x="149.8" y="566.7" width="6.0" height="8.1" fill="#482878"/>
<rect x="149.8" y="574.2" width="6.0" height="8.1" fill="#453882"/>
<rect x="149.8" y="581.7" width="6.0" height="8.1" fill="#472e7c"/>
<rect x="149.8" y="589.2" width="6.0" height="8.1" fill="#424186"/>
<rect x="149.8" y="596.8" width="6.0" height="8.1" fill="#424186"/>
<rect x="155.3" y="419.8" width="6.0" height="8.9" fill="#470d60"/>
<rect x="155.3" y="428.1" width="6.0" height="8.9" fill="#450559"/>
<rect x="155.3" y="436.4" width="6.0" height="8.9" fill="#482071"/>
<rect x="155.3" y="444.6" width="6.0" height="8.9" fill="#481f70"/>
<rect x="155.3" y="452.9" width="6.0" height="8.9" fill="#472d7b"/>
<rect x="155.3" y="461.2" width="6.0" height="8.9" fill="#453882"/>
<rect x="155.3" y="469.5" width="6.0" height="8.9" fill="#3b518b"/>
<rect x="155.3" y="477.8" width="6.0" height="8.9" fill="#2f6c8e"/>
<rect x="155.3" y="486.1" width="6.0" height="8.9" fill="#31668e"/>
<rect x="155.3" y="494.4" width="6.0" height="8.9" fill="#2e6d8e"/>
<rect x="155.3" y="502.7" width="6.0" height="8.9" fill="#2e6f8e"/>
<rect x="155.3" y="510.9" width="6.0" height="8.9" fill="#365d8d"/>
<rect x="155.3" y="519.2" width="6.0" height="8.9" fill="#3d4d8a"/>
<rect x="155.3" y="527.5" width="6.0" height="8.9" fill="#482979"/>
<rect x="155.3" y="535.8" width="6.0" height="8.9" fill="#481a6c"/>
<rect x="155.3" y="544.1" width="6.0" height="8.1" fill="#3a548c"/>
<rect x="155.3" y="551.6" width="6.0" height="8.1" fill="#3b528b"/>
<rect x="155.3" y="559.1" width="6.0" height="8.1" fill="#375a8c"/>
<rect x="155.3" y="566.7" width="6.0" height="8.1" fill="#3f4788"/>
<rect x="155.3" y="574.2" width="6.0" height="8.1" fill="#443a83"/>
<rect x="155.3" y="581.7" width="6.0" height="8.1" fill="#472e7c"/>
<rect x="155.3" y="589.2" width="6.0" height="8.1" fill="#46307e"/>
<rect x="155.3" y="596.8" width="6.0" height="8.1" fill="#48186a"/>
<rect x="160.8" y="370.7" width="5.5" height="8.0" fill="#ffffff"/>
<rect x="160.8" y="378.1" width="5.5" height="8.9" fill="#ffffff"/>
<rect x="160.8" y="386.4" width="5.5" height="8.9" fill="#ffffff"/>
<rect x="160.8" y="394.7" width="5.5" height="8.9" fill="#ffffff"/>
<rect x="160.8" y="403.0" width="5.5" height="8.9" fill="#ffffff"/>
<rect x="160.8" y="411.3" width="5.5" height="8.9" fill="#ffffff"/>
<rect x="160.8" y="419.6" width="5.5" height="8.9" fill="#ffffff"/>
<rect x="160.8" y="427.9" width="5.5" height="8.9" fill="#ffffff"/>
<rect x="160.8" y="436.2" width="5.5" height="8.9" fill="#ffffff"/>
<rect x="160.8" y="444.4" width="5.5" height="8.9" fill="#ffffff"/>
<rect x="160.8" y="452.7" width="5.5" height="8.9" fill="#ffffff"/>
<rect x="160.8" y="461.0" width="5.5" height="8.9" fill="#ffffff"/>
<rect x="160.8" y="469.3" width="5.5" height="8.9" fill="#ffffff"/>
<rect x="160.8" y="477.6" width="5.5" height="8.9" fill="#ffffff"/>
<rect x="160.8" y="485.9" width="5.5" height="8.9" fill="#ffffff"/>
<rect x="160.8" y="494.2" width="5.5" height="8.9" fill="#ffffff"/>
<rect x="160.8" y="502.5" width="5.5" height="8.9" fill="#ffffff"/>
<rect x="160.8" y="510.7" width="5.5" height="8.9" fill="#ffffff"/>
<rect x="160.8" y="519.0" width="5.5" height="8.9" fill="#ffffff"/>
<rect x="160.8" y="527.3" width="5.5" height="8.9" fill="#ffffff"/>
<rect x="160.8" y="535.6" width="5.5" height="8.9" fill="#ffffff"/>
<rect x="160.8" y="544.1" width="6.0" height="8.1" fill="#471164"/>
<rect x="160.8" y="551.6" width="6.0" height="8.1" fill="#460b5e"/>
<rect x="160.8" y="559.1" width="6.0" height="8.1" fill="#471063"/>
<rect x="160.8" y="566.7" width="6.0" height="8.1" fill="#450559"/>
<rect x="160.8" y="574.2" width="6.0" height="8.1" fill="#481f70"/>
<rect x="160.8" y="581.7" width="6.0" height="8.1" fill="#470d60"/>
<rect x="160.8" y="589.2" width="6.0" height="8.1" fill="#470d60"/>
<rect x="160.8" y="596.8" width="6.0" height="8.1" fill="#482173"/>
<rect x="166.2" y="419.8" width="6.0" height="8.9" fill="#46085c"/>
<rect x="166.2" y="428.1" width="6.0" height="8.9" fill="#471063"/>
<rect x="166.2" y="436.4" width="6.0" height="8.9" fill="#482374"/>
<rect x="166.2" y="444.6" width="6.0" height="8.9" fill="#48186a"/>
<rect x="166.2" y="452.9" width="6.0" height="8.9" fill="#482878"/>
<rect x="166.2" y="461.2" width="6.0" height="8.9" fill="#414287"/>
<rect x="166.2" y="469.5" width="6.0" height="8.9" fill="#3c508b"/>
<rect x="166.2" y="477.8" width="6.0" height="8.9" fill="#2e6e8e"/>
<rect x="166.2" y="486.1" width="6.0" height="8.9" fill="#2e6d8e"/>
<rect x="166.2" y="494.4" width="6.0" height="8.9" fill="#2f6c8e"/>
<rect x="166.2" y="502.7" width="6.0" height="8.9" fill="#2e6d8e"/>
<rect x="166.2" y="510.9" width="6.0" height="8.9" fill="#31668e"/>
<rect x="166.2" y="519.2" width="6.0" height="8.9" fill="#3e4c8a"/>
<rect x="166.2" y="527.5" width="6.0" height="8.9" fill="#472d7b"/>
<rect x="166.2" y="535.8" width="6.0" height="8.9" fill="#481467"/>
<rect x="166.2" y="544.1" width="6.0" height="8.1" fill="#472d7b"/>
<rect x="166.2" y="551.6" width="6.0" height="8.1" fill="#46307e"/>
<rect x="166.2" y="559.1" width="6.0" height="8.1" fill="#472c7a"/>
<rect x="166.2" y="566.7" width="6.0" height="8.1" fill="#482878"/>
<rect x="166.2" y="574.2" width="6.0" height="8.1" fill="#453781"/>
<rect x="166.2" y="581.7" width="6.0" height="8.1" fill="#404688"/>
<rect x="166.2" y="589.2" width="6.0" height="8.1" fill="#46327e"/>
<rect x="166.2" y="596.8" width="6.0" height="8.1" fill="#404588"/>
<rect x="171.7" y="419.8" width="6.0" height="8.9" fill="#46075a"/>
<rect x="171.7" y="428.1" width="6.0" height="8.9" fill="#471164"/>
<rect x="171.7" y="436.4" width="6.0" height="8.9" fill="#481769"/>
<rect x="171.7" y="444.6" width="6.0" height="8.9" fill="#481c6e"/>
<rect x="171.7" y="452.9" width="6.0" height="8.9" fill="#472d7b"/>
<rect x="171.7" y="461.2" width="6.0" height="8.9" fill="#443b84"/>
<rect x="171.7" y="469.5" width="6.0" height="8.9" fill="#3a548c"/>
<rect x="171.7" y="477.8" width="6.0" height="8.9" fill="#30698e"/>
<rect x="171.7" y="486.1" width="6.0" height="8.9" fill="#2e6d8e"/>
<rect x="171.7" y="494.4" width="6.0" height="8.9" fill="#2d718e"/>
<rect x="171.7" y="502.7" width="6.0" height="8.9" fill="#31668e"/>
<rect x="171.7" y="510.9" width="6.0" height="8.9" fill="#38598c"/>
<rect x="171.7" y="519.2" width="6.0" height="8.9" fill="#3e4c8a"/>
<rect x="171.7" y="527.5" width="6.0" height="8.9" fill="#472f7d"/>
<rect x="171.7" y="535.8" width="6.0" height="8.9" fill="#481d6f"/>
<rect x="171.7" y="544.1" width="6.0" height="8.1" fill="#3f4788"/>
<rect x="171.7" y="551.6" width="6.0" height="8.1" fill="#39558c"/>
<rect x="171.7" y="559.1" width="6.0" height="8.1" fill="#423f85"/>
<rect x="171.7" y="566.7" width="6.0" height="8.1" fill="#453882"/>
<rect x="171.7" y="574.2" width="6.0" height="8.1" fill="#482878"/>
<rect x="171.7" y="581.7" width="6.0" height="8.1" fill="#470d60"/>
<rect x="171.7" y="589.2" width="6.0" height="8.1" fill="#482071"/>
<rect x="171.7" y="596.8" width="6.0" height="8.1" fill="#460b5e"/>
<rect x="177.2" y="419.8" width="6.0" height="8.9" fill="#470d60"/>
<rect x="177.2" y="428.1" width="6.0" height="8.9" fill="#440154"/>
<rect x="177.2" y="436.4" width="6.0" height="8.9" fill="#481b6d"/>
<rect x="177.2" y="444.6" width="6.0" height="8.9" fill="#481f70"/>
<rect x="177.2" y="452.9" width="6.0" height="8.9" fill="#472a7a"/>
<rect x="177.2" y="461.2" width="6.0" height="8.9" fill="#423f85"/>
<rect x="177.2" y="469.5" width="6.0" height="8.9" fill="#3a538b"/>
<rect x="177.2" y="477.8" width="6.0" height="8.9" fill="#33638d"/>
<rect x="177.2" y="486.1" width="6.0" height="8.9" fill="#2e6e8e"/>
<rect x="177.2" y="494.4" width="6.0" height="8.9" fill="#2f6b8e"/>
<rect x="177.2" y="502.7" width="6.0" height="8.9" fill="#31688e"/>
<rect x="177.2" y="510.9" width="6.0" height="8.9" fill="#34608d"/>
<rect x="177.2" y="519.2" width="6.0" height="8.9" fill="#3c508b"/>
<rect x="177.2" y="527.5" width="6.0" height="8.9" fill="#482475"/>
<rect x="177.2" y="535.8" width="6.0" height="8.9" fill="#460a5d"/>
<rect x="177.2" y="544.1" width="6.0" height="8.1" fill="#472d7b"/>
<rect x="177.2" y="551.6" width="6.0" height="8.1" fill="#472e7c"/>
<rect x="177.2" y="559.1" width="6.0" height="8.1" fill="#482374"/>
<rect x="177.2" y="566.7" width="6.0" height="8.1" fill="#463480"/>
<rect x="177.2" y="574.2" width="6.0" height="8.1" fill="#46307e"/>
<rect x="177.2" y="581.7" width="6.0" height="8.1" fill="#3d4e8a"/>
<rect x="177.2" y="589.2" width="6.0" height="8.1" fill="#443a83"/>
<rect x="177.2" y="596.8" width="6.0" height="8.1" fill="#414487"/>
<rect x="182.6" y="419.8" width="6.0" height="8.9" fill="#470d60"/>
<rect x="182.6" y="428.1" width="6.0" height="8.9" fill="#450457"/>
<rect x="182.6" y="436.4" width="6.0" height="8.9" fill="#481467"/>
<rect x="182.6" y="444.6" width="6.0" height="8.9" fill="#481a6c"/>
<rect x="182.6" y="452.9" width="6.0" height="8.9" fill="#472a7a"/>
<rect x="182.6" y="461.2" width="6.0" height="8.9" fill="#423f85"/>
<rect x="182.6" y="469.5" width="6.0" height="8.9" fill="#39568c"/>
<rect x="182.6" y="477.8" width="6.0" height="8.9" fill="#2f6c8e"/>
<rect x="182.6" y="486.1" width="6.0" height="8.9" fill="#2d708e"/>
<rect x="182.6" y="494.4" width="6.0" height="8.9" fill="#2d718e"/>
<rect x="182.6" y="502.7" width="6.0" height="8.9" fill="#31688e"/>
<rect x="182.6" y="510.9" width="6.0" height="8.9" fill="#365d8d"/>
<rect x="182.6" y="519.2" width="6.0" height="8.9" fill="#3d4e8a"/>
<rect x="182.6" y="527.5" width="6.0" height="8.9" fill="#472c7a"/>
<rect x="182.6" y="535.8" width="6.0" height="8.9" fill="#471365"/>
<rect x="182.6" y="544.1" width="6.0" height="8.1" fill="#472a7a"/>
<rect x="182.6" y="551.6" width="6.0" height="8.1" fill="#472c7a"/>
<rect x="182.6" y="559.1" width="6.0" height="8.1" fill="#3f4788"/>
<rect x="182.6" y="566.7" width="6.0" height="8.1" fill="#404588"/>
<rect x="182.6" y="574.2" width="6.0" height="8.1" fill="#482374"/>
<rect x="182.6" y="581.7" width="6.0" height="8.1" fill="#471164"/>
<rect x="182.6" y="589.2" width="6.0" height="8.1" fill="#481b6d"/>
<rect x="182.6" y="596.8" width="6.0" height="8.1" fill="#453581"/>
<rect x="188.1" y="419.8" width="6.0" height="8.9" fill="#471164"/>
<rect x="188.1" y="428.1" width="6.0" height="8.9" fill="#48186a"/>
<rect x="188.1" y="436.4" width="6.0" height="8.9" fill="#481b6d"/>
<rect x="188.1" y="444.6" width="6.0" height="8.9" fill="#481c6e"/>
<rect x="188.1" y="452.9" width="6.0" height="8.9" fill="#482576"/>
<rect x="188.1" y="461.2" width="6.0" height="8.9" fill="#414287"/>
<rect x="188.1" y="469.5" width="6.0" height="8.9" fill="#38598c"/>
<rect x="188.1" y="477.8" width="6.0" height="8.9" fill="#32658e"/>
<rect x="188.1" y="486.1" width="6.0" height="8.9" fill="#2e6d8e"/>
<rect x="188.1" y="494.4" width="6.0" height="8.9" fill="#2f6c8e"/>
<rect x="188.1" y="502.7" width="6.0" height="8.9" fill="#306a8e"/>
<rect x="188.1" y="510.9" width="6.0" height="8.9" fill="#39558c"/>
<rect x="188.1" y="519.2" width="6.0" height="8.9" fill="#3f4788"/>
<rect x="188.1" y="527.5" width="6.0" height="8.9" fill="#472e7c"/>
<rect x="188.1" y="535.8" width="6.0" height="8.9" fill="#460b5e"/>
<rect x="188.1" y="544.1" width="6.0" height="8.1" fill="#423f85"/>
<rect x="188.1" y="551.6" width="6.0" height="8.1" fill="#414487"/>
<rect x="188.1" y="559.1" width="6.0" height="8.1" fill="#443a83"/>
<rect x="188.1" y="566.7" width="6.0" height="8.1" fill="#453781"/>
<rect x="188.1" y="574.2" width="6.0" height="8.1" fill="#414487"/>
<rect x="188.1" y="581.7" width="6.0" height="8.1" fill="#482374"/>
<rect x="188.1" y="589.2" width="6.0" height="8.1" fill="#471063"/>
<rect x="188.1" y="596.8" width="6.0" height="8.1" fill="#482475"/>
<rect x="193.6" y="419.8" width="6.0" height="8.9" fill="#460a5d"/>
<rect x="193.6" y="428.1" width="6.0" height="8.9" fill="#470e61"/>
<rect x="193.6" y="436.4" width="6.0" height="8.9" fill="#481a6c"/>
<rect x="193.6" y="444.6" width="6.0" height="8.9" fill="#481d6f"/>
<rect x="193.6" y="452.9" width="6.0" height="8.9" fill="#46327e"/>
<rect x="193.6" y="461.2" width="6.0" height="8.9" fill="#453781"/>
<rect x="193.6" y="469.5" width="6.0" height="8.9" fill="#3a538b"/>
<rect x="193.6" y="477.8" width="6.0" height="8.9" fill="#32658e"/>
<rect x="193.6" y="486.1" width="6.0" height="8.9" fill="#31688e"/>
<rect x="193.6" y="494.4" width="6.0" height="8.9" fill="#33638d"/>
<rect x="193.6" y="502.7" width="6.0" height="8.9" fill="#2e6e8e"/>
<rect x="193.6" y="510.9" width="6.0" height="8.9" fill="#375b8d"/>
<rect x="193.6" y="519.2" width="6.0" height="8.9" fill="#404688"/>
<rect x="193.6" y="527.5" width="6.0" height="8.9" fill="#472d7b"/>
<rect x="193.6" y="535.8" width="6.0" height="8.9" fill="#470d60"/>
<rect x="193.6" y="544.1" width="6.0" height="8.1" fill="#463480"/>
<rect x="193.6" y="551.6" width="6.0" height="8.1" fill="#482475"/>
<rect x="193.6" y="559.1" width="6.0" height="8.1" fill="#453882"/>
<rect x="193.6" y="566.7" width="6.0" height="8.1" fill="#443983"/>
<rect x="193.6" y="574.2" width="6.0" height="8.1" fill="#470e61"/>
<rect x="193.6" y="581.7" width="6.0" height="8.1" fill="#48186a"/>
<rect x="193.6" y="589.2" width="6.0" height="8.1" fill="#482475"/>
<rect x="193.6" y="596.8" width="6.0" height="8.1" fill="#414487"/>
<rect x="199.1" y="419.8" width="6.0" height="8.9" fill="#460a5d"/>
<rect x="199.1" y="428.1" width="6.0" height="8.9" fill="#481467"/>
<rect x="199.1" y="436.4" width="6.0" height="8.9" fill="#481467"/>
<rect x="199.1" y="444.6" width="6.0" height="8.9" fill="#481f70"/>
<rect x="199.1" y="452.9" width="6.0" height="8.9" fill="#46307e"/>
<rect x="199.1" y="461.2" width="6.0" height="8.9" fill="#443b84"/>
<rect x="199.1" y="469.5" width="6.0" height="8.9" fill="#375a8c"/>
<rect x="199.1" y="477.8" width="6.0" height="8.9" fill="#32648e"/>
<rect x="199.1" y="486.1" width="6.0" height="8.9" fill="#2e6d8e"/>
<rect x="199.1" y="494.4" width="6.0" height="8.9" fill="#306a8e"/>
<rect x="199.1" y="502.7" width="6.0" height="8.9" fill="#306a8e"/>
<rect x="199.1" y="510.9" width="6.0" height="8.9" fill="#375b8d"/>
<rect x="199.1" y="519.2" width="6.0" height="8.9" fill="#3f4788"/>
<rect x="199.1" y="527.5" width="6.0" height="8.9" fill="#472a7a"/>
<rect x="199.1" y="535.8" width="6.0" height="8.9" fill="#470e61"/>
<rect x="199.1" y="544.1" width="6.0" height="8.1" fill="#471164"/>
<rect x="199.1" y="551.6" width="6.0" height="8.1" fill="#481467"/>
<rect x="199.1" y="559.1" width="6.0" height="8.1" fill="#440256"/>
<rect x="199.1" y="566.7" width="6.0" height="8.1" fill="#471063"/>
<rect x="199.1" y="574.2" width="6.0" height="8.1" fill="#470d60"/>
<rect x="199.1" y="581.7" width="6.0" height="8.1" fill="#453581"/>
<rect x="199.1" y="589.2" width="6.0" height="8.1" fill="#3d4e8a"/>
<rect x="199.1" y="596.8" width="6.0" height="8.1" fill="#39568c"/>
<rect x="204.5" y="419.8" width="6.0" height="8.9" fill="#470d60"/>
<rect x="204.5" y="428.1" width="6.0" height="8.9" fill="#471063"/>
<rect x="204.5" y="436.4" width="6.0" height="8.9" fill="#470e61"/>
<rect x="204.5" y="444.6" width="6.0" height="8.9" fill="#482173"/>
<rect x="204.5" y="452.9" width="6.0" height="8.9" fill="#482677"/>
<rect x="204.5" y="461.2" width="6.0" height="8.9" fill="#433e85"/>
<rect x="204.5" y="469.5" width="6.0" height="8.9" fill="#3b528b"/>
<rect x="204.5" y="477.8" width="6.0" height="8.9" fill="#2f6b8e"/>
<rect x="204.5" y="486.1" width="6.0" height="8.9" fill="#31678e"/>
<rect x="204.5" y="494.4" width="6.0" height="8.9" fill="#2f6b8e"/>
<rect x="204.5" y="502.7" width="6.0" height="8.9" fill="#2b758e"/>
<rect x="204.5" y="510.9" width="6.0" height="8.9" fill="#2d708e"/>
<rect x="204.5" y="519.2" width="6.0" height="8.9" fill="#365c8d"/>
<rect x="204.5" y="527.5" width="6.0" height="8.9" fill="#453882"/>
<rect x="204.5" y="535.8" width="6.0" height="8.9" fill="#460b5e"/>
<rect x="204.5" y="544.1" width="6.0" height="8.1" fill="#481769"/>
<rect x="204.5" y="551.6" width="6.0" height="8.1" fill="#46075a"/>
<rect x="204.5" y="559.1" width="6.0" height="8.1" fill="#450457"/>
<rect x="204.5" y="566.7" width="6.0" height="8.1" fill="#481467"/>
<rect x="204.5" y="574.2" width="6.0" height="8.1" fill="#481769"/>
<rect x="204.5" y="581.7" width="6.0" height="8.1" fill="#471063"/>
<rect x="204.5" y="589.2" width="6.0" height="8.1" fill="#481b6d"/>
<rect x="204.5" y="596.8" width="6.0" height="8.1" fill="#472d7b"/>
<rect x="210.0" y="403.2" width="6.0" height="8.9" fill="#470d60"/>
<rect x="210.0" y="411.5" width="6.0" height="8.9" fill="#46085c"/>
<rect x="210.0" y="419.8" width="6.0" height="8.9" fill="#481467"/>
<rect x="210.0" y="428.1" width="6.0" height="8.9" fill="#481d6f"/>
<rect x="210.0" y="436.4" width="6.0" height="8.9" fill="#481d6f"/>
<rect x="210.0" y="444.6" width="6.0" height="8.9" fill="#482173"/>
<rect x="210.0" y="452.9" width="6.0" height="8.9" fill="#46307e"/>
<rect x="210.0" y="461.2" width="6.0" height="8.9" fill="#424086"/>
<rect x="210.0" y="469.5" width="6.0" height="8.9" fill="#3c508b"/>
<rect x="210.0" y="477.8" width="6.0" height="8.9" fill="#34618d"/>
<rect x="210.0" y="486.1" width="6.0" height="8.9" fill="#34618d"/>
<rect x="210.0" y="494.4" width="6.0" height="8.9" fill="#33638d"/>
<rect x="210.0" y="502.7" width="6.0" height="8.9" fill="#2d718e"/>
<rect x="210.0" y="510.9" width="6.0" height="8.9" fill="#2a778e"/>
<rect x="210.0" y="519.2" width="6.0" height="8.9" fill="#365c8d"/>
<rect x="210.0" y="527.5" width="6.0" height="8.9" fill="#463480"/>
<rect x="210.0" y="535.8" width="6.0" height="8.9" fill="#481467"/>
<rect x="210.0" y="544.1" width="6.0" height="8.1" fill="#471063"/>
<rect x="210.0" y="551.6" width="6.0" height="8.1" fill="#471164"/>
<rect x="210.0" y="559.1" width="6.0" height="8.1" fill="#450457"/>
<rect x="210.0" y="566.7" width="6.0" height="8.1" fill="#481467"/>
<rect x="210.0" y="574.2" width="6.0" height="8.1" fill="#443b84"/>
<rect x="210.0" y="581.7" width="6.0" height="8.1" fill="#3a548c"/>
<rect x="210.0" y="589.2" width="6.0" height="8.1" fill="#2b758e"/>
<rect x="210.0" y="596.8" width="6.0" height="8.1" fill="#297a8e"/>
<rect x="215.5" y="403.2" width="6.0" height="8.9" fill="#46075a"/>
<rect x="215.5" y="411.5" width="6.0" height="8.9" fill="#481a6c"/>
<rect x="215.5" y="419.8" width="6.0" height="8.9" fill="#472c7a"/>
<rect x="215.5" y="428.1" width="6.0" height="8.9" fill="#481d6f"/>
<rect x="215.5" y="436.4" width="6.0" height="8.9" fill="#482071"/>
<rect x="215.5" y="444.6" width="6.0" height="8.9" fill="#482173"/>
<rect x="215.5" y="452.9" width="6.0" height="8.9" fill="#46307e"/>
<rect x="215.5" y="461.2" width="6.0" height="8.9" fill="#414287"/>
<rect x="215.5" y="469.5" width="6.0" height="8.9" fill="#39558c"/>
<rect x="215.5" y="477.8" width="6.0" height="8.9" fill="#32648e"/>
<rect x="215.5" y="486.1" width="6.0" height="8.9" fill="#33628d"/>
<rect x="215.5" y="494.4" width="6.0" height="8.9" fill="#2e6d8e"/>
<rect x="215.5" y="502.7" width="6.0" height="8.9" fill="#2e6f8e"/>
<rect x="215.5" y="510.9" width="6.0" height="8.9" fill="#2e6f8e"/>
<rect x="215.5" y="519.2" width="6.0" height="8.9" fill="#32648e"/>
<rect x="215.5" y="527.5" width="6.0" height="8.9" fill="#481668"/>
<rect x="215.5" y="535.8" width="6.0" height="8.9" fill="#3c4f8a"/>
<rect x="215.5" y="544.1" width="6.0" height="8.1" fill="#471164"/>
<rect x="215.5" y="551.6" width="6.0" height="8.1" fill="#481f70"/>
<rect x="215.5" y="559.1" width="6.0" height="8.1" fill="#414287"/>
<rect x="215.5" y="566.7" width="6.0" height="8.1" fill="#365c8d"/>
<rect x="215.5" y="574.2" width="6.0" height="8.1" fill="#2b748e"/>
<rect x="215.5" y="581.7" width="6.0" height="8.1" fill="#2c738e"/>
<rect x="215.5" y="589.2" width="6.0" height="8.1" fill="#277e8e"/>
<rect x="215.5" y="596.8" width="6.0" height="8.1" fill="#287d8e"/>
<rect x="220.9" y="403.2" width="6.0" height="8.9" fill="#481769"/>
<rect x="220.9" y="411.5" width="6.0" height="8.9" fill="#481467"/>
<rect x="220.9" y="419.8" width="6.0" height="8.9" fill="#482677"/>
<rect x="220.9" y="428.1" width="6.0" height="8.9" fill="#482173"/>
<rect x="220.9" y="436.4" width="6.0" height="8.9" fill="#482878"/>
<rect x="220.9" y="444.6" width="6.0" height="8.9" fill="#482374"/>
<rect x="220.9" y="452.9" width="6.0" height="8.9" fill="#472e7c"/>
<rect x="220.9" y="461.2" width="6.0" height="8.9" fill="#414487"/>
<rect x="220.9" y="469.5" width="6.0" height="8.9" fill="#3a548c"/>
<rect x="220.9" y="477.8" width="6.0" height="8.9" fill="#33628d"/>
<rect x="220.9" y="486.1" width="6.0" height="8.9" fill="#32648e"/>
<rect x="220.9" y="494.4" width="6.0" height="8.9" fill="#32648e"/>
<rect x="220.9" y="502.7" width="6.0" height="8.9" fill="#2a778e"/>
<rect x="220.9" y="510.9" width="6.0" height="8.9" fill="#2c728e"/>
<rect x="220.9" y="519.2" width="6.0" height="8.9" fill="#3c508b"/>
<rect x="220.9" y="527.5" width="6.0" height="8.9" fill="#3e4c8a"/>
<rect x="220.9" y="535.8" width="6.0" height="8.9" fill="#3c4f8a"/>
<rect x="220.9" y="544.1" width="6.0" height="8.1" fill="#433d84"/>
<rect x="220.9" y="551.6" width="6.0" height="8.1" fill="#3d4e8a"/>
<rect x="220.9" y="559.1" width="6.0" height="8.1" fill="#31688e"/>
<rect x="220.9" y="566.7" width="6.0" height="8.1" fill="#25848e"/>
<rect x="220.9" y="574.2" width="6.0" height="8.1" fill="#20928c"/>
<rect x="220.9" y="581.7" width="6.0" height="8.1" fill="#22a884"/>
<rect x="220.9" y="589.2" width="6.0" height="8.1" fill="#21a585"/>
<rect x="220.9" y="596.8" width="6.0" height="8.1" fill="#1f9a8a"/>
<rect x="226.4" y="403.2" width="6.0" height="8.9" fill="#482475"/>
<rect x="226.4" y="411.5" width="6.0" height="8.9" fill="#46307e"/>
<rect x="226.4" y="419.8" width="6.0" height="8.9" fill="#463480"/>
<rect x="226.4" y="428.1" width="6.0" height="8.9" fill="#482475"/>
<rect x="226.4" y="436.4" width="6.0" height="8.9" fill="#472e7c"/>
<rect x="226.4" y="444.6" width="6.0" height="8.9" fill="#482576"/>
<rect x="226.4" y="452.9" width="6.0" height="8.9" fill="#453581"/>
<rect x="226.4" y="461.2" width="6.0" height="8.9" fill="#3e4a89"/>
<rect x="226.4" y="469.5" width="6.0" height="8.9" fill="#39558c"/>
<rect x="226.4" y="477.8" width="6.0" height="8.9" fill="#365c8d"/>
<rect x="226.4" y="486.1" width="6.0" height="8.9" fill="#365c8d"/>
<rect x="226.4" y="494.4" width="6.0" height="8.9" fill="#2f6c8e"/>
<rect x="226.4" y="502.7" width="6.0" height="8.9" fill="#2c718e"/>
<rect x="226.4" y="510.9" width="6.0" height="8.9" fill="#27808e"/>
<rect x="226.4" y="519.2" width="6.0" height="8.9" fill="#3b518b"/>
<rect x="226.4" y="527.5" width="6.0" height="8.9" fill="#365c8d"/>
<rect x="226.4" y="535.8" width="6.0" height="8.9" fill="#404588"/>
<rect x="226.4" y="544.1" width="6.0" height="8.1" fill="#481467"/>
<rect x="226.4" y="551.6" width="6.0" height="8.1" fill="#482677"/>
<rect x="226.4" y="559.1" width="6.0" height="8.1" fill="#31688e"/>
<rect x="226.4" y="566.7" width="6.0" height="8.1" fill="#21908d"/>
<rect x="226.4" y="574.2" width="6.0" height="8.1" fill="#21a685"/>
<rect x="226.4" y="581.7" width="6.0" height="8.1" fill="#46c06f"/>
<rect x="226.4" y="589.2" width="6.0" height="8.1" fill="#35b779"/>
<rect x="226.4" y="596.8" width="6.0" height="8.1" fill="#29af7f"/>
<rect x="231.9" y="403.2" width="6.0" height="8.9" fill="#481f70"/>
<rect x="231.9" y="411.5" width="6.0" height="8.9" fill="#482979"/>
<rect x="231.9" y="419.8" width="6.0" height="8.9" fill="#453581"/>
<rect x="231.9" y="428.1" width="6.0" height="8.9" fill="#472c7a"/>
<rect x="231.9" y="436.4" width="6.0" height="8.9" fill="#482979"/>
<rect x="231.9" y="444.6" width="6.0" height="8.9" fill="#482576"/>
<rect x="231.9" y="452.9" width="6.0" height="8.9" fill="#463480"/>
<rect x="231.9" y="461.2" width="6.0" height="8.9" fill="#423f85"/>
<rect x="231.9" y="469.5" width="6.0" height="8.9" fill="#3a548c"/>
<rect x="231.9" y="477.8" width="6.0" height="8.9" fill="#355e8d"/>
<rect x="231.9" y="486.1" width="6.0" height="8.9" fill="#365c8d"/>
<rect x="231.9" y="494.4" width="6.0" height="8.9" fill="#30698e"/>
<rect x="231.9" y="502.7" width="6.0" height="8.9" fill="#2d708e"/>
<rect x="231.9" y="510.9" width="6.0" height="8.9" fill="#25838e"/>
<rect x="231.9" y="519.2" width="6.0" height="8.9" fill="#2e6e8e"/>
<rect x="231.9" y="527.5" width="6.0" height="8.9" fill="#2e6d8e"/>
<rect x="231.9" y="535.8" width="6.0" height="8.9" fill="#365d8d"/>
<rect x="231.9" y="544.1" width="6.0" height="8.1" fill="#471164"/>
<rect x="231.9" y="551.6" width="6.0" height="8.1" fill="#39558c"/>
<rect x="231.9" y="559.1" width="6.0" height="8.1" fill="#297b8e"/>
<rect x="231.9" y="566.7" width="6.0" height="8.1" fill="#1fa088"/>
<rect x="231.9" y="574.2" width="6.0" height="8.1" fill="#21a585"/>
<rect x="231.9" y="581.7" width="6.0" height="8.1" fill="#46c06f"/>
<rect x="231.9" y="589.2" width="6.0" height="8.1" fill="#40bd72"/>
<rect x="231.9" y="596.8" width="6.0" height="8.1" fill="#28ae80"/>
<rect x="237.4" y="403.2" width="6.0" height="8.9" fill="#481d6f"/>
<rect x="237.4" y="411.5" width="6.0" height="8.9" fill="#472f7d"/>
<rect x="237.4" y="419.8" width="6.0" height="8.9" fill="#46307e"/>
<rect x="237.4" y="428.1" width="6.0" height="8.9" fill="#482677"/>
<rect x="237.4" y="436.4" width="6.0" height="8.9" fill="#472c7a"/>
<rect x="237.4" y="444.6" width="6.0" height="8.9" fill="#472a7a"/>
<rect x="237.4" y="452.9" width="6.0" height="8.9" fill="#453781"/>
<rect x="237.4" y="461.2" width="6.0" height="8.9" fill="#414287"/>
<rect x="237.4" y="469.5" width="6.0" height="8.9" fill="#3a538b"/>
<rect x="237.4" y="477.8" width="6.0" height="8.9" fill="#34618d"/>
<rect x="237.4" y="486.1" width="6.0" height="8.9" fill="#33628d"/>
<rect x="237.4" y="494.4" width="6.0" height="8.9" fill="#365c8d"/>
<rect x="237.4" y="502.7" width="6.0" height="8.9" fill="#2b748e"/>
<rect x="237.4" y="510.9" width="6.0" height="8.9" fill="#2a788e"/>
<rect x="237.4" y="519.2" width="6.0" height="8.9" fill="#365d8d"/>
<rect x="237.4" y="527.5" width="6.0" height="8.9" fill="#2e6f8e"/>
<rect x="237.4" y="535.8" width="6.0" height="8.9" fill="#30698e"/>
<rect x="237.4" y="544.1" width="6.0" height="8.1" fill="#34618d"/>
<rect x="237.4" y="551.6" width="6.0" height="8.1" fill="#277e8e"/>
<rect x="237.4" y="559.1" width="6.0" height="8.1" fill="#21918c"/>
<rect x="237.4" y="566.7" width="6.0" height="8.1" fill="#28ae80"/>
<rect x="237.4" y="574.2" width="6.0" height="8.1" fill="#38b977"/>
<rect x="237.4" y="581.7" width="6.0" height="8.1" fill="#42be71"/>
<rect x="237.4" y="589.2" width="6.0" height="8.1" fill="#37b878"/>
<rect x="237.4" y="596.8" width="6.0" height="8.1" fill="#20a486"/>
<rect x="242.8" y="403.2" width="6.0" height="8.9" fill="#440256"/>
<rect x="242.8" y="411.5" width="6.0" height="8.9" fill="#2f6c8e"/>
<rect x="242.8" y="419.8" width="6.0" height="8.9" fill="#2b748e"/>
<rect x="242.8" y="428.1" width="6.0" height="8.9" fill="#297b8e"/>
<rect x="242.8" y="436.4" width="6.0" height="8.9" fill="#2a768e"/>
<rect x="242.8" y="444.6" width="6.0" height="8.9" fill="#26818e"/>
<rect x="242.8" y="452.9" width="6.0" height="8.9" fill="#24878e"/>
<rect x="242.8" y="461.2" width="6.0" height="8.9" fill="#228b8d"/>
<rect x="242.8" y="469.5" width="6.0" height="8.9" fill="#24878e"/>
<rect x="242.8" y="477.8" width="6.0" height="8.9" fill="#21918c"/>
<rect x="242.8" y="486.1" width="6.0" height="8.9" fill="#29798e"/>
<rect x="242.8" y="494.4" width="6.0" height="8.9" fill="#2a778e"/>
<rect x="242.8" y="502.7" width="6.0" height="8.9" fill="#27808e"/>
<rect x="242.8" y="510.9" width="6.0" height="8.9" fill="#23888e"/>
<rect x="242.8" y="519.2" width="6.0" height="8.9" fill="#2d708e"/>
<rect x="242.8" y="527.5" width="6.0" height="8.9" fill="#24878e"/>
<rect x="242.8" y="535.8" width="6.0" height="8.9" fill="#26818e"/>
<rect x="242.8" y="544.1" width="6.0" height="8.1" fill="#2d718e"/>
<rect x="242.8" y="551.6" width="6.0" height="8.1" fill="#26828e"/>
<rect x="242.8" y="559.1" width="6.0" height="8.1" fill="#1fa188"/>
<rect x="242.8" y="566.7" width="6.0" height="8.1" fill="#34b679"/>
<rect x="242.8" y="574.2" width="6.0" height="8.1" fill="#44bf70"/>
<rect x="242.8" y="581.7" width="6.0" height="8.1" fill="#4cc26c"/>
<rect x="242.8" y="589.2" width="6.0" height="8.1" fill="#7fd34e"/>
<rect x="242.8" y="596.8" width="6.0" height="8.1" fill="#77d153"/>
<rect x="248.3" y="403.2" width="6.0" height="8.9" fill="#471164"/>
<rect x="248.3" y="411.5" width="6.0" height="8.9" fill="#2d708e"/>
<rect x="248.3" y="419.8" width="6.0" height="8.9" fill="#2c728e"/>
<rect x="248.3" y="428.1" width="6.0" height="8.9" fill="#297b8e"/>
<rect x="248.3" y="436.4" width="6.0" height="8.9" fill="#2c728e"/>
<rect x="248.3" y="444.6" width="6.0" height="8.9" fill="#26818e"/>
<rect x="248.3" y="452.9" width="6.0" height="8.9" fill="#238a8d"/>
<rect x="248.3" y="461.2" width="6.0" height="8.9" fill="#238a8d"/>
<rect x="248.3" y="469.5" width="6.0" height="8.9" fill="#24878e"/>
<rect x="248.3" y="477.8" width="6.0" height="8.9" fill="#218e8d"/>
<rect x="248.3" y="486.1" width="6.0" height="8.9" fill="#29798e"/>
<rect x="248.3" y="494.4" width="6.0" height="8.9" fill="#238a8d"/>
<rect x="248.3" y="502.7" width="6.0" height="8.9" fill="#218f8d"/>
<rect x="248.3" y="510.9" width="6.0" height="8.9" fill="#228d8d"/>
<rect x="248.3" y="519.2" width="6.0" height="8.9" fill="#26828e"/>
<rect x="248.3" y="527.5" width="6.0" height="8.9" fill="#1e9d89"/>
<rect x="248.3" y="535.8" width="6.0" height="8.9" fill="#25848e"/>
<rect x="248.3" y="544.1" width="6.0" height="8.1" fill="#25848e"/>
<rect x="248.3" y="551.6" width="6.0" height="8.1" fill="#20938c"/>
<rect x="248.3" y="559.1" width="6.0" height="8.1" fill="#23a983"/>
<rect x="248.3" y="566.7" width="6.0" height="8.1" fill="#3fbc73"/>
<rect x="248.3" y="574.2" width="6.0" height="8.1" fill="#40bd72"/>
<rect x="248.3" y="581.7" width="6.0" height="8.1" fill="#77d153"/>
<rect x="248.3" y="589.2" width="6.0" height="8.1" fill="#a0da39"/>
<rect x="248.3" y="596.8" width="6.0" height="8.1" fill="#addc30"/>
<rect x="253.8" y="403.2" width="6.0" height="8.9" fill="#48186a"/>
<rect x="253.8" y="411.5" width="6.0" height="8.9" fill="#306a8e"/>
<rect x="253.8" y="419.8" width="6.0" height="8.9" fill="#2a778e"/>
<rect x="253.8" y="428.1" width="6.0" height="8.9" fill="#287c8e"/>
<rect x="253.8" y="436.4" width="6.0" height="8.9" fill="#277f8e"/>
<rect x="253.8" y="444.6" width="6.0" height="8.9" fill="#25858e"/>
<rect x="253.8" y="452.9" width="6.0" height="8.9" fill="#23898e"/>
<rect x="253.8" y="461.2" width="6.0" height="8.9" fill="#1f968b"/>
<rect x="253.8" y="469.5" width="6.0" height="8.9" fill="#1f968b"/>
<rect x="253.8" y="477.8" width="6.0" height="8.9" fill="#1e9b8a"/>
<rect x="253.8" y="486.1" width="6.0" height="8.9" fill="#1e9b8a"/>
<rect x="253.8" y="494.4" width="6.0" height="8.9" fill="#1f978b"/>
<rect x="253.8" y="502.7" width="6.0" height="8.9" fill="#1f978b"/>
<rect x="253.8" y="510.9" width="6.0" height="8.9" fill="#1f9e89"/>
<rect x="253.8" y="519.2" width="6.0" height="8.9" fill="#1f988b"/>
<rect x="253.8" y="527.5" width="6.0" height="8.9" fill="#1f9e89"/>
<rect x="253.8" y="535.8" width="6.0" height="8.9" fill="#277e8e"/>
<rect x="253.8" y="544.1" width="6.0" height="8.1" fill="#238a8d"/>
<rect x="253.8" y="551.6" width="6.0" height="8.1" fill="#1f9a8a"/>
<rect x="253.8" y="559.1" width="6.0" height="8.1" fill="#23a983"/>
<rect x="253.8" y="566.7" width="6.0" height="8.1" fill="#2db27d"/>
<rect x="253.8" y="574.2" width="6.0" height="8.1" fill="#73d056"/>
<rect x="253.8" y="581.7" width="6.0" height="8.1" fill="#a0da39"/>
<rect x="253.8" y="589.2" width="6.0" height="8.1" fill="#a5db36"/>
<rect x="253.8" y="596.8" width="6.0" height="8.1" fill="#84d44b"/>
<rect x="259.3" y="403.2" width="6.0" height="8.9" fill="#423f85"/>
<rect x="259.3" y="411.5" width="6.0" height="8.9" fill="#2e6e8e"/>
<rect x="259.3" y="419.8" width="6.0" height="8.9" fill="#2b748e"/>
<rect x="259.3" y="428.1" width="6.0" height="8.9" fill="#25838e"/>
<rect x="259.3" y="436.4" width="6.0" height="8.9" fill="#297b8e"/>
<rect x="259.3" y="444.6" width="6.0" height="8.9" fill="#24878e"/>
<rect x="259.3" y="452.9" width="6.0" height="8.9" fill="#1fa088"/>
<rect x="259.3" y="461.2" width="6.0" height="8.9" fill="#1e9d89"/>
<rect x="259.3" y="469.5" width="6.0" height="8.9" fill="#1f9f88"/>
<rect x="259.3" y="477.8" width="6.0" height="8.9" fill="#20a486"/>
<rect x="259.3" y="486.1" width="6.0" height="8.9" fill="#1fa187"/>
<rect x="259.3" y="494.4" width="6.0" height="8.9" fill="#1f998a"/>
<rect x="259.3" y="502.7" width="6.0" height="8.9" fill="#1e9b8a"/>
<rect x="259.3" y="510.9" width="6.0" height="8.9" fill="#20a486"/>
<rect x="259.3" y="519.2" width="6.0" height="8.9" fill="#1fa088"/>
<rect x="259.3" y="527.5" width="6.0" height="8.9" fill="#1f9e89"/>
<rect x="259.3" y="535.8" width="6.0" height="8.9" fill="#228b8d"/>
<rect x="259.3" y="544.1" width="6.0" height="8.1" fill="#228c8d"/>
<rect x="259.3" y="551.6" width="6.0" height="8.1" fill="#22a884"/>
<rect x="259.3" y="559.1" width="6.0" height="8.1" fill="#28ae80"/>
<rect x="259.3" y="566.7" width="6.0" height="8.1" fill="#3dbc74"/>
<rect x="259.3" y="574.2" width="6.0" height="8.1" fill="#67cc5c"/>
<rect x="259.3" y="581.7" width="6.0" height="8.1" fill="#addc30"/>
<rect x="259.3" y="589.2" width="6.0" height="8.1" fill="#c5e021"/>
<rect x="259.3" y="596.8" width="6.0" height="8.1" fill="#9dd93b"/>
<rect x="264.7" y="403.2" width="6.0" height="8.9" fill="#404688"/>
<rect x="264.7" y="411.5" width="6.0" height="8.9" fill="#2f6c8e"/>
<rect x="264.7" y="419.8" width="6.0" height="8.9" fill="#26828e"/>
<rect x="264.7" y="428.1" width="6.0" height="8.9" fill="#287c8e"/>
<rect x="264.7" y="436.4" width="6.0" height="8.9" fill="#2a788e"/>
<rect x="264.7" y="444.6" width="6.0" height="8.9" fill="#23898e"/>
<rect x="264.7" y="452.9" width="6.0" height="8.9" fill="#20938c"/>
<rect x="264.7" y="461.2" width="6.0" height="8.9" fill="#1fa287"/>
<rect x="264.7" y="469.5" width="6.0" height="8.9" fill="#1f9f88"/>
<rect x="264.7" y="477.8" width="6.0" height="8.9" fill="#1fa088"/>
<rect x="264.7" y="486.1" width="6.0" height="8.9" fill="#20a386"/>
<rect x="264.7" y="494.4" width="6.0" height="8.9" fill="#1e9b8a"/>
<rect x="264.7" y="502.7" width="6.0" height="8.9" fill="#1fa187"/>
<rect x="264.7" y="510.9" width="6.0" height="8.9" fill="#22a785"/>
<rect x="264.7" y="519.2" width="6.0" height="8.9" fill="#20a386"/>
<rect x="264.7" y="527.5" width="6.0" height="8.9" fill="#1fa187"/>
<rect x="264.7" y="535.8" width="6.0" height="8.9" fill="#21918c"/>
<rect x="264.7" y="544.1" width="6.0" height="8.1" fill="#1fa088"/>
<rect x="264.7" y="551.6" width="6.0" height="8.1" fill="#21a585"/>
<rect x="264.7" y="559.1" width="6.0" height="8.1" fill="#2cb17e"/>
<rect x="264.7" y="566.7" width="6.0" height="8.1" fill="#4ac16d"/>
<rect x="264.7" y="574.2" width="6.0" height="8.1" fill="#63cb5f"/>
<rect x="264.7" y="581.7" width="6.0" height="8.1" fill="#98d83e"/>
<rect x="264.7" y="589.2" width="6.0" height="8.1" fill="#98d83e"/>
<rect x="264.7" y="596.8" width="6.0" height="8.1" fill="#4ec36b"/>
<rect x="270.2" y="403.2" width="6.0" height="8.9" fill="#3f4889"/>
<rect x="270.2" y="411.5" width="6.0" height="8.9" fill="#2c728e"/>
<rect x="270.2" y="419.8" width="6.0" height="8.9" fill="#2a788e"/>
<rect x="270.2" y="428.1" width="6.0" height="8.9" fill="#277e8e"/>
<rect x="270.2" y="436.4" width="6.0" height="8.9" fill="#297a8e"/>
<rect x="270.2" y="444.6" width="6.0" height="8.9" fill="#228d8d"/>
<rect x="270.2" y="452.9" width="6.0" height="8.9" fill="#1f978b"/>
<rect x="270.2" y="461.2" width="6.0" height="8.9" fill="#1f978b"/>
<rect x="270.2" y="469.5" width="6.0" height="8.9" fill="#21a585"/>
<rect x="270.2" y="477.8" width="6.0" height="8.9" fill="#22a884"/>
<rect x="270.2" y="486.1" width="6.0" height="8.9" fill="#1fa088"/>
<rect x="270.2" y="494.4" width="6.0" height="8.9" fill="#20928c"/>
<rect x="270.2" y="502.7" width="6.0" height="8.9" fill="#1fa088"/>
<rect x="270.2" y="510.9" width="6.0" height="8.9" fill="#1f9f88"/>
<rect x="270.2" y="519.2" width="6.0" height="8.9" fill="#1fa188"/>
<rect x="270.2" y="527.5" width="6.0" height="8.9" fill="#1fa187"/>
<rect x="270.2" y="535.8" width="6.0" height="8.9" fill="#1fa188"/>
<rect x="270.2" y="544.1" width="6.0" height="8.1" fill="#1fa187"/>
<rect x="270.2" y="551.6" width="6.0" height="8.1" fill="#29af7f"/>
<rect x="270.2" y="559.1" width="6.0" height="8.1" fill="#2eb37c"/>
<rect x="270.2" y="566.7" width="6.0" height="8.1" fill="#50c46a"/>
<rect x="270.2" y="574.2" width="6.0" height="8.1" fill="#81d34d"/>
<rect x="270.2" y="581.7" width="6.0" height="8.1" fill="#8bd646"/>
<rect x="270.2" y="589.2" width="6.0" height="8.1" fill="#86d549"/>
<rect x="270.2" y="596.8" width="6.0" height="8.1" fill="#40bd72"/>
<rect x="275.7" y="403.2" width="6.0" height="8.9" fill="#404588"/>
<rect x="275.7" y="411.5" width="6.0" height="8.9" fill="#2c738e"/>
<rect x="275.7" y="419.8" width="6.0" height="8.9" fill="#26818e"/>
<rect x="275.7" y="428.1" width="6.0" height="8.9" fill="#25858e"/>
<rect x="275.7" y="436.4" width="6.0" height="8.9" fill="#25858e"/>
<rect x="275.7" y="444.6" width="6.0" height="8.9" fill="#25858e"/>
<rect x="275.7" y="452.9" width="6.0" height="8.9" fill="#20928c"/>
<rect x="275.7" y="461.2" width="6.0" height="8.9" fill="#1e9d89"/>
<rect x="275.7" y="469.5" width="6.0" height="8.9" fill="#1e9c89"/>
<rect x="275.7" y="477.8" width="6.0" height="8.9" fill="#21a685"/>
<rect x="275.7" y="486.1" width="6.0" height="8.9" fill="#1fa188"/>
<rect x="275.7" y="494.4" width="6.0" height="8.9" fill="#1e9d89"/>
<rect x="275.7" y="502.7" width="6.0" height="8.9" fill="#1fa088"/>
<rect x="275.7" y="510.9" width="6.0" height="8.9" fill="#20a486"/>
<rect x="275.7" y="519.2" width="6.0" height="8.9" fill="#1fa187"/>
<rect x="275.7" y="527.5" width="6.0" height="8.9" fill="#22a884"/>
<rect x="275.7" y="535.8" width="6.0" height="8.9" fill="#26ad81"/>
<rect x="275.7" y="544.1" width="6.0" height="8.1" fill="#1fa287"/>
<rect x="275.7" y="551.6" width="6.0" height="8.1" fill="#31b57b"/>
<rect x="275.7" y="559.1" width="6.0" height="8.1" fill="#44bf70"/>
<rect x="275.7" y="566.7" width="6.0" height="8.1" fill="#5ac864"/>
<rect x="275.7" y="574.2" width="6.0" height="8.1" fill="#75d054"/>
<rect x="275.7" y="581.7" width="6.0" height="8.1" fill="#7cd250"/>
<rect x="275.7" y="589.2" width="6.0" height="8.1" fill="#60ca60"/>
<rect x="275.7" y="596.8" width="6.0" height="8.1" fill="#31b57b"/>
<rect x="281.1" y="378.3" width="6.0" height="8.9" fill="#443a83"/>
<rect x="281.1" y="386.6" width="6.0" height="8.9" fill="#3f4889"/>
<rect x="281.1" y="394.9" width="6.0" height="8.9" fill="#3c4f8a"/>
<rect x="281.1" y="403.2" width="6.0" height="8.9" fill="#39568c"/>
<rect x="281.1" y="411.5" width="6.0" height="8.9" fill="#306a8e"/>
<rect x="281.1" y="419.8" width="6.0" height="8.9" fill="#2b758e"/>
<rect x="281.1" y="428.1" width="6.0" height="8.9" fill="#277e8e"/>
<rect x="281.1" y="436.4" width="6.0" height="8.9" fill="#297a8e"/>
<rect x="281.1" y="444.6" width="6.0" height="8.9" fill="#25858e"/>
<rect x="281.1" y="452.9" width="6.0" height="8.9" fill="#20928c"/>
<rect x="281.1" y="461.2" width="6.0" height="8.9" fill="#1f9a8a"/>
<rect x="281.1" y="469.5" width="6.0" height="8.9" fill="#20938c"/>
<rect x="281.1" y="477.8" width="6.0" height="8.9" fill="#1f9f88"/>
<rect x="281.1" y="486.1" width="6.0" height="8.9" fill="#1f9a8a"/>
<rect x="281.1" y="494.4" width="6.0" height="8.9" fill="#21918c"/>
<rect x="281.1" y="502.7" width="6.0" height="8.9" fill="#1e9d89"/>
<rect x="281.1" y="510.9" width="6.0" height="8.9" fill="#21a585"/>
<rect x="281.1" y="519.2" width="6.0" height="8.9" fill="#34b679"/>
<rect x="281.1" y="527.5" width="6.0" height="8.9" fill="#65cb5e"/>
<rect x="281.1" y="535.8" width="6.0" height="8.9" fill="#60ca60"/>
<rect x="281.1" y="544.1" width="6.0" height="8.1" fill="#7cd250"/>
<rect x="281.1" y="551.6" width="6.0" height="8.1" fill="#75d054"/>
<rect x="281.1" y="559.1" width="6.0" height="8.1" fill="#77d153"/>
<rect x="281.1" y="566.7" width="6.0" height="8.1" fill="#73d056"/>
<rect x="281.1" y="574.2" width="6.0" height="8.1" fill="#5ec962"/>
<rect x="281.1" y="581.7" width="6.0" height="8.1" fill="#67cc5c"/>
<rect x="281.1" y="589.2" width="6.0" height="8.1" fill="#44bf70"/>
<rect x="281.1" y="596.8" width="6.0" height="8.1" fill="#21a585"/>
<rect x="286.6" y="411.5" width="6.0" height="8.9" fill="#404688"/>
<rect x="286.6" y="419.8" width="6.0" height="8.9" fill="#3c4f8a"/>
<rect x="286.6" y="428.1" width="6.0" height="8.9" fill="#3b528b"/>
<rect x="286.6" y="436.4" width="6.0" height="8.9" fill="#424186"/>
<rect x="286.6" y="444.6" width="6.0" height="8.9" fill="#424186"/>
<rect x="286.6" y="452.9" width="6.0" height="8.9" fill="#365c8d"/>
<rect x="286.6" y="461.2" width="6.0" height="8.9" fill="#306a8e"/>
<rect x="286.6" y="469.5" width="6.0" height="8.9" fill="#2c738e"/>
<rect x="286.6" y="477.8" width="6.0" height="8.9" fill="#297a8e"/>
<rect x="286.6" y="486.1" width="6.0" height="8.9" fill="#2a788e"/>
<rect x="286.6" y="494.4" width="6.0" height="8.9" fill="#277f8e"/>
<rect x="286.6" y="502.7" width="6.0" height="8.9" fill="#25838e"/>
<rect x="286.6" y="510.9" width="6.0" height="8.9" fill="#22a884"/>
<rect x="286.6" y="519.2" width="6.0" height="8.9" fill="#9bd93c"/>
<rect x="286.6" y="527.5" width="6.0" height="8.9" fill="#9bd93c"/>
<rect x="286.6" y="535.8" width="6.0" height="8.9" fill="#a0da39"/>
<rect x="286.6" y="544.1" width="6.0" height="8.1" fill="#8ed645"/>
<rect x="286.6" y="551.6" width="6.0" height="8.1" fill="#77d153"/>
<rect x="286.6" y="559.1" width="6.0" height="8.1" fill="#7cd250"/>
<rect x="286.6" y="566.7" width="6.0" height="8.1" fill="#63cb5f"/>
<rect x="286.6" y="574.2" width="6.0" height="8.1" fill="#5cc863"/>
<rect x="286.6" y="581.7" width="6.0" height="8.1" fill="#5ac864"/>
<rect x="286.6" y="589.2" width="6.0" height="8.1" fill="#46c06f"/>
<rect x="286.6" y="596.8" width="6.0" height="8.1" fill="#38b977"/>
<rect x="292.1" y="411.5" width="6.0" height="8.9" fill="#423f85"/>
<rect x="292.1" y="419.8" width="6.0" height="8.9" fill="#3a538b"/>
<rect x="292.1" y="428.1" width="6.0" height="8.9" fill="#3a548c"/>
<rect x="292.1" y="436.4" width="6.0" height="8.9" fill="#3e4c8a"/>
<rect x="292.1" y="444.6" width="6.0" height="8.9" fill="#3f4889"/>
<rect x="292.1" y="452.9" width="6.0" height="8.9" fill="#355e8d"/>
<rect x="292.1" y="461.2" width="6.0" height="8.9" fill="#2f6c8e"/>
<rect x="292.1" y="469.5" width="6.0" height="8.9" fill="#2c718e"/>
<rect x="292.1" y="477.8" width="6.0" height="8.9" fill="#287c8e"/>
<rect x="292.1" y="486.1" width="6.0" height="8.9" fill="#2a788e"/>
<rect x="292.1" y="494.4" width="6.0" height="8.9" fill="#287c8e"/>
<rect x="292.1" y="502.7" width="6.0" height="8.9" fill="#23898e"/>
<rect x="292.1" y="510.9" width="6.0" height="8.9" fill="#23a983"/>
<rect x="292.1" y="519.2" width="6.0" height="8.9" fill="#93d741"/>
<rect x="292.1" y="527.5" width="6.0" height="8.9" fill="#addc30"/>
<rect x="292.1" y="535.8" width="6.0" height="8.9" fill="#b8de29"/>
<rect x="292.1" y="544.1" width="6.0" height="8.1" fill="#86d549"/>
<rect x="292.1" y="551.6" width="6.0" height="8.1" fill="#86d549"/>
<rect x="292.1" y="559.1" width="6.0" height="8.1" fill="#70cf57"/>
<rect x="292.1" y="566.7" width="6.0" height="8.1" fill="#65cb5e"/>
<rect x="292.1" y="574.2" width="6.0" height="8.1" fill="#58c765"/>
<rect x="292.1" y="581.7" width="6.0" height="8.1" fill="#52c569"/>
<rect x="292.1" y="589.2" width="6.0" height="8.1" fill="#4cc26c"/>
<rect x="292.1" y="596.8" width="6.0" height="8.1" fill="#2eb37c"/>
<rect x="297.6" y="411.5" width="6.0" height="8.9" fill="#414287"/>
<rect x="297.6" y="419.8" width="6.0" height="8.9" fill="#3c4f8a"/>
<rect x="297.6" y="428.1" width="6.0" height="8.9" fill="#39558c"/>
<rect x="297.6" y="436.4" width="6.0" height="8.9" fill="#414287"/>
<rect x="297.6" y="444.6" width="6.0" height="8.9" fill="#424086"/>
<rect x="297.6" y="452.9" width="6.0" height="8.9" fill="#355e8d"/>
<rect x="297.6" y="461.2" width="6.0" height="8.9" fill="#2c718e"/>
<rect x="297.6" y="469.5" width="6.0" height="8.9" fill="#2c728e"/>
<rect x="297.6" y="477.8" width="6.0" height="8.9" fill="#287c8e"/>
<rect x="297.6" y="486.1" width="6.0" height="8.9" fill="#2c718e"/>
<rect x="297.6" y="494.4" width="6.0" height="8.9" fill="#297b8e"/>
<rect x="297.6" y="502.7" width="6.0" height="8.9" fill="#25858e"/>
<rect x="297.6" y="510.9" width="6.0" height="8.9" fill="#20a486"/>
<rect x="297.6" y="519.2" width="6.0" height="8.9" fill="#8bd646"/>
<rect x="297.6" y="527.5" width="6.0" height="8.9" fill="#aadc32"/>
<rect x="297.6" y="535.8" width="6.0" height="8.9" fill="#b2dd2d"/>
<rect x="297.6" y="544.1" width="6.0" height="8.1" fill="#8bd646"/>
<rect x="297.6" y="551.6" width="6.0" height="8.1" fill="#7cd250"/>
<rect x="297.6" y="559.1" width="6.0" height="8.1" fill="#75d054"/>
<rect x="297.6" y="566.7" width="6.0" height="8.1" fill="#69cd5b"/>
<rect x="297.6" y="574.2" width="6.0" height="8.1" fill="#52c569"/>
<rect x="297.6" y="581.7" width="6.0" height="8.1" fill="#50c46a"/>
<rect x="297.6" y="589.2" width="6.0" height="8.1" fill="#40bd72"/>
<rect x="297.6" y="596.8" width="6.0" height="8.1" fill="#35b779"/>
<rect x="303.0" y="411.5" width="6.0" height="8.9" fill="#424186"/>
<rect x="303.0" y="419.8" width="6.0" height="8.9" fill="#39568c"/>
<rect x="303.0" y="428.1" width="6.0" height="8.9" fill="#3b528b"/>
<rect x="303.0" y="436.4" width="6.0" height="8.9" fill="#3a538b"/>
<rect x="303.0" y="444.6" width="6.0" height="8.9" fill="#414487"/>
<rect x="303.0" y="452.9" width="6.0" height="8.9" fill="#375a8c"/>
<rect x="303.0" y="461.2" width="6.0" height="8.9" fill="#2f6c8e"/>
<rect x="303.0" y="469.5" width="6.0" height="8.9" fill="#2b748e"/>
<rect x="303.0" y="477.8" width="6.0" height="8.9" fill="#26818e"/>
<rect x="303.0" y="486.1" width="6.0" height="8.9" fill="#2a768e"/>
<rect x="303.0" y="494.4" width="6.0" height="8.9" fill="#2b758e"/>
<rect x="303.0" y="502.7" width="6.0" height="8.9" fill="#25838e"/>
<rect x="303.0" y="510.9" width="6.0" height="8.9" fill="#25ab82"/>
<rect x="303.0" y="519.2" width="6.0" height="8.9" fill="#93d741"/>
<rect x="303.0" y="527.5" width="6.0" height="8.9" fill="#b8de29"/>
<rect x="303.0" y="535.8" width="6.0" height="8.9" fill="#b8de29"/>
<rect x="303.0" y="544.1" width="6.0" height="8.1" fill="#86d549"/>
<rect x="303.0" y="551.6" width="6.0" height="8.1" fill="#7ad151"/>
<rect x="303.0" y="559.1" width="6.0" height="8.1" fill="#67cc5c"/>
<rect x="303.0" y="566.7" width="6.0" height="8.1" fill="#60ca60"/>
<rect x="303.0" y="574.2" width="6.0" height="8.1" fill="#58c765"/>
<rect x="303.0" y="581.7" width="6.0" height="8.1" fill="#5cc863"/>
<rect x="303.0" y="589.2" width="6.0" height="8.1" fill="#50c46a"/>
<rect x="303.0" y="596.8" width="6.0" height="8.1" fill="#2eb37c"/>
<rect x="308.5" y="411.5" width="6.0" height="8.9" fill="#414487"/>
<rect x="308.5" y="419.8" width="6.0" height="8.9" fill="#3e4989"/>
<rect x="308.5" y="428.1" width="6.0" height="8.9" fill="#3c508b"/>
<rect x="308.5" y="436.4" width="6.0" height="8.9" fill="#3e4a89"/>
<rect x="308.5" y="444.6" width="6.0" height="8.9" fill="#404588"/>
<rect x="308.5" y="452.9" width="6.0" height="8.9" fill="#375b8d"/>
<rect x="308.5" y="461.2" width="6.0" height="8.9" fill="#2e6f8e"/>
<rect x="308.5" y="469.5" width="6.0" height="8.9" fill="#2c738e"/>
<rect x="308.5" y="477.8" width="6.0" height="8.9" fill="#2a778e"/>
<rect x="308.5" y="486.1" width="6.0" height="8.9" fill="#277e8e"/>
<rect x="308.5" y="494.4" width="6.0" height="8.9" fill="#2c718e"/>
<rect x="308.5" y="502.7" width="6.0" height="8.9" fill="#27808e"/>
<rect x="308.5" y="510.9" width="6.0" height="8.9" fill="#21a585"/>
<rect x="308.5" y="519.2" width="6.0" height="8.9" fill="#93d741"/>
<rect x="308.5" y="527.5" width="6.0" height="8.9" fill="#a8db34"/>
<rect x="308.5" y="535.8" width="6.0" height="8.9" fill="#addc30"/>
<rect x="308.5" y="544.1" width="6.0" height="8.1" fill="#81d34d"/>
<rect x="308.5" y="551.6" width="6.0" height="8.1" fill="#7ad151"/>
<rect x="308.5" y="559.1" width="6.0" height="8.1" fill="#75d054"/>
<rect x="308.5" y="566.7" width="6.0" height="8.1" fill="#63cb5f"/>
<rect x="308.5" y="574.2" width="6.0" height="8.1" fill="#5ec962"/>
<rect x="308.5" y="581.7" width="6.0" height="8.1" fill="#4cc26c"/>
<rect x="308.5" y="589.2" width="6.0" height="8.1" fill="#3bbb75"/>
<rect x="308.5" y="596.8" width="6.0" height="8.1" fill="#2eb37c"/>
<rect x="314.0" y="411.5" width="6.0" height="8.9" fill="#3f4788"/>
<rect x="314.0" y="419.8" width="6.0" height="8.9" fill="#3a538b"/>
<rect x="314.0" y="428.1" width="6.0" height="8.9" fill="#39568c"/>
<rect x="314.0" y="436.4" width="6.0" height="8.9" fill="#3d4e8a"/>
<rect x="314.0" y="444.6" width="6.0" height="8.9" fill="#3d4e8a"/>
<rect x="314.0" y="452.9" width="6.0" height="8.9" fill="#39568c"/>
<rect x="314.0" y="461.2" width="6.0" height="8.9" fill="#2d718e"/>
<rect x="314.0" y="469.5" width="6.0" height="8.9" fill="#2a768e"/>
<rect x="314.0" y="477.8" width="6.0" height="8.9" fill="#27808e"/>
<rect x="314.0" y="486.1" width="6.0" height="8.9" fill="#297a8e"/>
<rect x="314.0" y="494.4" width="6.0" height="8.9" fill="#29798e"/>
<rect x="314.0" y="502.7" width="6.0" height="8.9" fill="#25838e"/>
<rect x="314.0" y="510.9" width="6.0" height="8.9" fill="#20a486"/>
<rect x="314.0" y="519.2" width="6.0" height="8.9" fill="#90d743"/>
<rect x="314.0" y="527.5" width="6.0" height="8.9" fill="#addc30"/>
<rect x="314.0" y="535.8" width="6.0" height="8.9" fill="#b0dd2f"/>
<rect x="314.0" y="544.1" width="6.0" height="8.1" fill="#90d743"/>
<rect x="314.0" y="551.6" width="6.0" height="8.1" fill="#75d054"/>
<rect x="314.0" y="559.1" width="6.0" height="8.1" fill="#70cf57"/>
<rect x="314.0" y="566.7" width="6.0" height="8.1" fill="#73d056"/>
<rect x="314.0" y="574.2" width="6.0" height="8.1" fill="#5ac864"/>
<rect x="314.0" y="581.7" width="6.0" height="8.1" fill="#5ac864"/>
<rect x="314.0" y="589.2" width="6.0" height="8.1" fill="#40bd72"/>
<rect x="314.0" y="596.8" width="6.0" height="8.1" fill="#2fb47c"/>
<rect x="319.5" y="411.5" width="6.0" height="8.9" fill="#404688"/>
<rect x="319.5" y="419.8" width="6.0" height="8.9" fill="#39558c"/>
<rect x="319.5" y="428.1" width="6.0" height="8.9" fill="#3c508b"/>
<rect x="319.5" y="436.4" width="6.0" height="8.9" fill="#404588"/>
<rect x="319.5" y="444.6" width="6.0" height="8.9" fill="#3c508b"/>
<rect x="319.5" y="452.9" width="6.0" height="8.9" fill="#375b8d"/>
<rect x="319.5" y="461.2" width="6.0" height="8.9" fill="#2e6f8e"/>
<rect x="319.5" y="469.5" width="6.0" height="8.9" fill="#2a768e"/>
<rect x="319.5" y="477.8" width="6.0" height="8.9" fill="#297b8e"/>
<rect x="319.5" y="486.1" width="6.0" height="8.9" fill="#2a778e"/>
<rect x="319.5" y="494.4" width="6.0" height="8.9" fill="#2a778e"/>
<rect x="319.5" y="502.7" width="6.0" height="8.9" fill="#277f8e"/>
<rect x="319.5" y="510.9" width="6.0" height="8.9" fill="#20a486"/>
<rect x="319.5" y="519.2" width="6.0" height="8.9" fill="#9dd93b"/>
<rect x="319.5" y="527.5" width="6.0" height="8.9" fill="#b0dd2f"/>
<rect x="319.5" y="535.8" width="6.0" height="8.9" fill="#c2df23"/>
<rect x="319.5" y="544.1" width="6.0" height="8.1" fill="#8ed645"/>
<rect x="319.5" y="551.6" width="6.0" height="8.1" fill="#7cd250"/>
<rect x="319.5" y="559.1" width="6.0" height="8.1" fill="#63cb5f"/>
<rect x="319.5" y="566.7" width="6.0" height="8.1" fill="#69cd5b"/>
<rect x="319.5" y="574.2" width="6.0" height="8.1" fill="#69cd5b"/>
<rect x="319.5" y="581.7" width="6.0" height="8.1" fill="#4cc26c"/>
<rect x="319.5" y="589.2" width="6.0" height="8.1" fill="#46c06f"/>
<rect x="319.5" y="596.8" width="6.0" height="8.1" fill="#2db27d"/>
<rect x="324.9" y="411.5" width="6.0" height="8.9" fill="#414287"/>
<rect x="324.9" y="419.8" width="6.0" height="8.9" fill="#3c508b"/>
<rect x="324.9" y="428.1" width="6.0" height="8.9" fill="#3e4a89"/>
<rect x="324.9" y="436.4" width="6.0" height="8.9" fill="#3f4788"/>
<rect x="324.9" y="444.6" width="6.0" height="8.9" fill="#414287"/>
<rect x="324.9" y="452.9" width="6.0" height="8.9" fill="#355f8d"/>
<rect x="324.9" y="461.2" width="6.0" height="8.9" fill="#2d708e"/>
<rect x="324.9" y="469.5" width="6.0" height="8.9" fill="#2c738e"/>
<rect x="324.9" y="477.8" width="6.0" height="8.9" fill="#29798e"/>
<rect x="324.9" y="486.1" width="6.0" height="8.9" fill="#2a788e"/>
<rect x="324.9" y="494.4" width="6.0" height="8.9" fill="#29798e"/>
<rect x="324.9" y="502.7" width="6.0" height="8.9" fill="#25848e"/>
<rect x="324.9" y="510.9" width="6.0" height="8.9" fill="#1fa287"/>
<rect x="324.9" y="519.2" width="6.0" height="8.9" fill="#a0da39"/>
<rect x="324.9" y="527.5" width="6.0" height="8.9" fill="#a2da37"/>
<rect x="324.9" y="535.8" width="6.0" height="8.9" fill="#a5db36"/>
<rect x="324.9" y="544.1" width="6.0" height="8.1" fill="#81d34d"/>
<rect x="324.9" y="551.6" width="6.0" height="8.1" fill="#7cd250"/>
<rect x="324.9" y="559.1" width="6.0" height="8.1" fill="#6ccd5a"/>
<rect x="324.9" y="566.7" width="6.0" height="8.1" fill="#73d056"/>
<rect x="324.9" y="574.2" width="6.0" height="8.1" fill="#5cc863"/>
<rect x="324.9" y="581.7" width="6.0" height="8.1" fill="#50c46a"/>
<rect x="324.9" y="589.2" width="6.0" height="8.1" fill="#46c06f"/>
<rect x="324.9" y="596.8" width="6.0" height="8.1" fill="#35b779"/>
<rect x="330.4" y="403.2" width="6.0" height="8.9" fill="#472d7b"/>
<rect x="330.4" y="411.5" width="6.0" height="8.9" fill="#3d4e8a"/>
<rect x="330.4" y="419.8" width="6.0" height="8.9" fill="#3a548c"/>
<rect x="330.4" y="428.1" width="6.0" height="8.9" fill="#39568c"/>
<rect x="330.4" y="436.4" width="6.0" height="8.9" fill="#39568c"/>
<rect x="330.4" y="444.6" width="6.0" height="8.9" fill="#3a538b"/>
<rect x="330.4" y="452.9" width="6.0" height="8.9" fill="#33628d"/>
<rect x="330.4" y="461.2" width="6.0" height="8.9" fill="#2f6c8e"/>
<rect x="330.4" y="469.5" width="6.0" height="8.9" fill="#29798e"/>
<rect x="330.4" y="477.8" width="6.0" height="8.9" fill="#287d8e"/>
<rect x="330.4" y="486.1" width="6.0" height="8.9" fill="#26818e"/>
<rect x="330.4" y="494.4" width="6.0" height="8.9" fill="#25848e"/>
<rect x="330.4" y="502.7" width="6.0" height="8.9" fill="#1f968b"/>
<rect x="330.4" y="510.9" width="6.0" height="8.9" fill="#54c568"/>
<rect x="330.4" y="519.2" width="6.0" height="8.9" fill="#b2dd2d"/>
<rect x="330.4" y="527.5" width="6.0" height="8.9" fill="#b5de2b"/>
<rect x="330.4" y="535.8" width="6.0" height="8.9" fill="#93d741"/>
<rect x="330.4" y="544.1" width="6.0" height="8.1" fill="#77d153"/>
<rect x="330.4" y="551.6" width="6.0" height="8.1" fill="#7ad151"/>
<rect x="330.4" y="559.1" width="6.0" height="8.1" fill="#65cb5e"/>
<rect x="330.4" y="566.7" width="6.0" height="8.1" fill="#50c46a"/>
<rect x="330.4" y="574.2" width="6.0" height="8.1" fill="#52c569"/>
<rect x="330.4" y="581.7" width="6.0" height="8.1" fill="#44bf70"/>
<rect x="330.4" y="589.2" width="6.0" height="8.1" fill="#2eb37c"/>
<rect x="330.4" y="596.8" width="6.0" height="8.1" fill="#25ac82"/>
<rect x="335.9" y="403.2" width="6.0" height="8.9" fill="#482979"/>
<rect x="335.9" y="411.5" width="6.0" height="8.9" fill="#3f4788"/>
<rect x="335.9" y="419.8" width="6.0" height="8.9" fill="#3a538b"/>
<rect x="335.9" y="428.1" width="6.0" height="8.9" fill="#3b528b"/>
<rect x="335.9" y="436.4" width="6.0" height="8.9" fill="#3e4c8a"/>
<rect x="335.9" y="444.6" width="6.0" height="8.9" fill="#38588c"/>
<rect x="335.9" y="452.9" width="6.0" height="8.9" fill="#31668e"/>
<rect x="335.9" y="461.2" width="6.0" height="8.9" fill="#2e6d8e"/>
<rect x="335.9" y="469.5" width="6.0" height="8.9" fill="#2a778e"/>
<rect x="335.9" y="477.8" width="6.0" height="8.9" fill="#2b758e"/>
<rect x="335.9" y="486.1" width="6.0" height="8.9" fill="#287d8e"/>
<rect x="335.9" y="494.4" width="6.0" height="8.9" fill="#24878e"/>
<rect x="335.9" y="502.7" width="6.0" height="8.9" fill="#1f9e89"/>
<rect x="335.9" y="510.9" width="6.0" height="8.9" fill="#5ec962"/>
<rect x="335.9" y="519.2" width="6.0" height="8.9" fill="#a0da39"/>
<rect x="335.9" y="527.5" width="6.0" height="8.9" fill="#a0da39"/>
<rect x="335.9" y="535.8" width="6.0" height="8.9" fill="#aadc32"/>
<rect x="335.9" y="544.1" width="6.0" height="8.1" fill="#75d054"/>
<rect x="335.9" y="551.6" width="6.0" height="8.1" fill="#6ece58"/>
<rect x="335.9" y="559.1" width="6.0" height="8.1" fill="#58c765"/>
<rect x="335.9" y="566.7" width="6.0" height="8.1" fill="#52c569"/>
<rect x="335.9" y="574.2" width="6.0" height="8.1" fill="#4ec36b"/>
<rect x="335.9" y="581.7" width="6.0" height="8.1" fill="#48c16e"/>
<rect x="335.9" y="589.2" width="6.0" height="8.1" fill="#2fb47c"/>
<rect x="335.9" y="596.8" width="6.0" height="8.1" fill="#21a685"/>
<rect x="341.3" y="394.9" width="6.0" height="8.9" fill="#481c6e"/>
<rect x="341.3" y="403.2" width="6.0" height="8.9" fill="#453882"/>
<rect x="341.3" y="411.5" width="6.0" height="8.9" fill="#3b518b"/>
<rect x="341.3" y="419.8" width="6.0" height="8.9" fill="#365c8d"/>
<rect x="341.3" y="428.1" width="6.0" height="8.9" fill="#365c8d"/>
<rect x="341.3" y="436.4" width="6.0" height="8.9" fill="#31688e"/>
<rect x="341.3" y="444.6" width="6.0" height="8.9" fill="#2e6e8e"/>
<rect x="341.3" y="452.9" width="6.0" height="8.9" fill="#2a778e"/>
<rect x="341.3" y="461.2" width="6.0" height="8.9" fill="#2a778e"/>
<rect x="341.3" y="469.5" width="6.0" height="8.9" fill="#26828e"/>
<rect x="341.3" y="477.8" width="6.0" height="8.9" fill="#287c8e"/>
<rect x="341.3" y="486.1" width="6.0" height="8.9" fill="#25838e"/>
<rect x="341.3" y="494.4" width="6.0" height="8.9" fill="#218e8d"/>
<rect x="341.3" y="502.7" width="6.0" height="8.9" fill="#28ae80"/>
<rect x="341.3" y="510.9" width="6.0" height="8.9" fill="#90d743"/>
<rect x="341.3" y="519.2" width="6.0" height="8.9" fill="#b0dd2f"/>
<rect x="341.3" y="527.5" width="6.0" height="8.9" fill="#aadc32"/>
<rect x="341.3" y="535.8" width="6.0" height="8.9" fill="#8bd646"/>
<rect x="341.3" y="544.1" width="6.0" height="8.1" fill="#44bf70"/>
<rect x="341.3" y="551.6" width="6.0" height="8.1" fill="#2eb37c"/>
<rect x="341.3" y="559.1" width="6.0" height="8.1" fill="#26ad81"/>
<rect x="341.3" y="566.7" width="6.0" height="8.1" fill="#21a685"/>
<rect x="341.3" y="574.2" width="6.0" height="8.1" fill="#1f998a"/>
<rect x="341.3" y="581.7" width="6.0" height="8.1" fill="#218f8d"/>
<rect x="341.3" y="589.2" width="6.0" height="8.1" fill="#25858e"/>
<rect x="341.3" y="596.8" width="6.0" height="8.1" fill="#26818e"/>
<rect x="346.8" y="394.9" width="6.0" height="8.9" fill="#481d6f"/>
<rect x="346.8" y="403.2" width="6.0" height="8.9" fill="#453581"/>
<rect x="346.8" y="411.5" width="6.0" height="8.9" fill="#3b518b"/>
<rect x="346.8" y="419.8" width="6.0" height="8.9" fill="#355f8d"/>
<rect x="346.8" y="428.1" width="6.0" height="8.9" fill="#375a8c"/>
<rect x="346.8" y="436.4" width="6.0" height="8.9" fill="#306a8e"/>
<rect x="346.8" y="444.6" width="6.0" height="8.9" fill="#2e6e8e"/>
<rect x="346.8" y="452.9" width="6.0" height="8.9" fill="#2a788e"/>
<rect x="346.8" y="461.2" width="6.0" height="8.9" fill="#2a768e"/>
<rect x="346.8" y="469.5" width="6.0" height="8.9" fill="#277e8e"/>
<rect x="346.8" y="477.8" width="6.0" height="8.9" fill="#297a8e"/>
<rect x="346.8" y="486.1" width="6.0" height="8.9" fill="#25858e"/>
<rect x="346.8" y="494.4" width="6.0" height="8.9" fill="#21908d"/>
<rect x="346.8" y="502.7" width="6.0" height="8.9" fill="#29af7f"/>
<rect x="346.8" y="510.9" width="6.0" height="8.9" fill="#86d549"/>
<rect x="346.8" y="519.2" width="6.0" height="8.9" fill="#b5de2b"/>
<rect x="346.8" y="527.5" width="6.0" height="8.9" fill="#aadc32"/>
<rect x="346.8" y="535.8" width="6.0" height="8.9" fill="#a0da39"/>
<rect x="346.8" y="544.1" width="6.0" height="8.1" fill="#42be71"/>
<rect x="346.8" y="551.6" width="6.0" height="8.1" fill="#2db27d"/>
<rect x="346.8" y="559.1" width="6.0" height="8.1" fill="#27ad81"/>
<rect x="346.8" y="566.7" width="6.0" height="8.1" fill="#24aa83"/>
<rect x="346.8" y="574.2" width="6.0" height="8.1" fill="#1f978b"/>
<rect x="346.8" y="581.7" width="6.0" height="8.1" fill="#228b8d"/>
<rect x="346.8" y="589.2" width="6.0" height="8.1" fill="#25848e"/>
<rect x="346.8" y="596.8" width="6.0" height="8.1" fill="#287d8e"/>
<rect x="352.3" y="394.9" width="6.0" height="8.9" fill="#481467"/>
<rect x="352.3" y="403.2" width="6.0" height="8.9" fill="#472d7b"/>
<rect x="352.3" y="411.5" width="6.0" height="8.9" fill="#3c4f8a"/>
<rect x="352.3" y="419.8" width="6.0" height="8.9" fill="#34618d"/>
<rect x="352.3" y="428.1" width="6.0" height="8.9" fill="#34608d"/>
<rect x="352.3" y="436.4" width="6.0" height="8.9" fill="#2f6b8e"/>
<rect x="352.3" y="444.6" width="6.0" height="8.9" fill="#2d718e"/>
<rect x="352.3" y="452.9" width="6.0" height="8.9" fill="#287c8e"/>
<rect x="352.3" y="461.2" width="6.0" height="8.9" fill="#2c738e"/>
<rect x="352.3" y="469.5" width="6.0" height="8.9" fill="#287d8e"/>
<rect x="352.3" y="477.8" width="6.0" height="8.9" fill="#26818e"/>
<rect x="352.3" y="486.1" width="6.0" height="8.9" fill="#27808e"/>
<rect x="352.3" y="494.4" width="6.0" height="8.9" fill="#228b8d"/>
<rect x="352.3" y="502.7" width="6.0" height="8.9" fill="#27ad81"/>
<rect x="352.3" y="510.9" width="6.0" height="8.9" fill="#93d741"/>
<rect x="352.3" y="519.2" width="6.0" height="8.9" fill="#bddf26"/>
<rect x="352.3" y="527.5" width="6.0" height="8.9" fill="#9dd93b"/>
<rect x="352.3" y="535.8" width="6.0" height="8.9" fill="#90d743"/>
<rect x="352.3" y="544.1" width="6.0" height="8.1" fill="#42be71"/>
<rect x="352.3" y="551.6" width="6.0" height="8.1" fill="#2db27d"/>
<rect x="352.3" y="559.1" width="6.0" height="8.1" fill="#28ae80"/>
<rect x="352.3" y="566.7" width="6.0" height="8.1" fill="#23a983"/>
<rect x="352.3" y="574.2" width="6.0" height="8.1" fill="#1fa287"/>
<rect x="352.3" y="581.7" width="6.0" height="8.1" fill="#21908d"/>
<rect x="352.3" y="589.2" width="6.0" height="8.1" fill="#25848e"/>
<rect x="352.3" y="596.8" width="6.0" height="8.1" fill="#287d8e"/>
<rect x="357.8" y="394.9" width="6.0" height="8.9" fill="#482979"/>
<rect x="357.8" y="403.2" width="6.0" height="8.9" fill="#423f85"/>
<rect x="357.8" y="411.5" width="6.0" height="8.9" fill="#3a538b"/>
<rect x="357.8" y="419.8" width="6.0" height="8.9" fill="#365d8d"/>
<rect x="357.8" y="428.1" width="6.0" height="8.9" fill="#375a8c"/>
<rect x="357.8" y="436.4" width="6.0" height="8.9" fill="#2f6b8e"/>
<rect x="357.8" y="444.6" width="6.0" height="8.9" fill="#2e6e8e"/>
<rect x="357.8" y="452.9" width="6.0" height="8.9" fill="#2a788e"/>
<rect x="357.8" y="461.2" width="6.0" height="8.9" fill="#29798e"/>
<rect x="357.8" y="469.5" width="6.0" height="8.9" fill="#27808e"/>
<rect x="357.8" y="477.8" width="6.0" height="8.9" fill="#277e8e"/>
<rect x="357.8" y="486.1" width="6.0" height="8.9" fill="#24868e"/>
<rect x="357.8" y="494.4" width="6.0" height="8.9" fill="#1e9b8a"/>
<rect x="357.8" y="502.7" width="6.0" height="8.9" fill="#2eb37c"/>
<rect x="357.8" y="510.9" width="6.0" height="8.9" fill="#7fd34e"/>
<rect x="357.8" y="519.2" width="6.0" height="8.9" fill="#c0df25"/>
<rect x="357.8" y="527.5" width="6.0" height="8.9" fill="#addc30"/>
<rect x="357.8" y="535.8" width="6.0" height="8.9" fill="#a5db36"/>
<rect x="357.8" y="544.1" width="6.0" height="8.1" fill="#31b57b"/>
<rect x="357.8" y="551.6" width="6.0" height="8.1" fill="#28ae80"/>
<rect x="357.8" y="559.1" width="6.0" height="8.1" fill="#27ad81"/>
<rect x="357.8" y="566.7" width="6.0" height="8.1" fill="#20a486"/>
<rect x="357.8" y="574.2" width="6.0" height="8.1" fill="#20928c"/>
<rect x="357.8" y="581.7" width="6.0" height="8.1" fill="#25858e"/>
<rect x="357.8" y="589.2" width="6.0" height="8.1" fill="#27808e"/>
<rect x="357.8" y="596.8" width="6.0" height="8.1" fill="#2f6b8e"/>
<rect x="363.2" y="394.9" width="6.0" height="8.9" fill="#482979"/>
<rect x="363.2" y="403.2" width="6.0" height="8.9" fill="#3f4889"/>
<rect x="363.2" y="411.5" width="6.0" height="8.9" fill="#3e4a89"/>
<rect x="363.2" y="419.8" width="6.0" height="8.9" fill="#355f8d"/>
<rect x="363.2" y="428.1" width="6.0" height="8.9" fill="#33638d"/>
<rect x="363.2" y="436.4" width="6.0" height="8.9" fill="#33638d"/>
<rect x="363.2" y="444.6" width="6.0" height="8.9" fill="#2f6b8e"/>
<rect x="363.2" y="452.9" width="6.0" height="8.9" fill="#2c728e"/>
<rect x="363.2" y="461.2" width="6.0" height="8.9" fill="#297a8e"/>
<rect x="363.2" y="469.5" width="6.0" height="8.9" fill="#26818e"/>
<rect x="363.2" y="477.8" width="6.0" height="8.9" fill="#287d8e"/>
<rect x="363.2" y="486.1" width="6.0" height="8.9" fill="#25848e"/>
<rect x="363.2" y="494.4" width="6.0" height="8.9" fill="#1fa088"/>
<rect x="363.2" y="502.7" width="6.0" height="8.9" fill="#28ae80"/>
<rect x="363.2" y="510.9" width="6.0" height="8.9" fill="#86d549"/>
<rect x="363.2" y="519.2" width="6.0" height="8.9" fill="#bddf26"/>
<rect x="363.2" y="527.5" width="6.0" height="8.9" fill="#a2da37"/>
<rect x="363.2" y="535.8" width="6.0" height="8.9" fill="#9dd93b"/>
<rect x="363.2" y="544.1" width="6.0" height="8.1" fill="#2eb37c"/>
<rect x="363.2" y="551.6" width="6.0" height="8.1" fill="#25ac82"/>
<rect x="363.2" y="559.1" width="6.0" height="8.1" fill="#23a983"/>
<rect x="363.2" y="566.7" width="6.0" height="8.1" fill="#20a386"/>
<rect x="363.2" y="574.2" width="6.0" height="8.1" fill="#1f9e89"/>
<rect x="363.2" y="581.7" width="6.0" height="8.1" fill="#24868e"/>
<rect x="363.2" y="589.2" width="6.0" height="8.1" fill="#277f8e"/>
<rect x="363.2" y="596.8" width="6.0" height="8.1" fill="#29798e"/>
<rect x="368.7" y="394.9" width="6.0" height="8.9" fill="#482979"/>
<rect x="368.7" y="403.2" width="6.0" height="8.9" fill="#443b84"/>
<rect x="368.7" y="411.5" width="6.0" height="8.9" fill="#3b528b"/>
<rect x="368.7" y="419.8" width="6.0" height="8.9" fill="#2e6f8e"/>
<rect x="368.7" y="428.1" width="6.0" height="8.9" fill="#26828e"/>
<rect x="368.7" y="436.4" width="6.0" height="8.9" fill="#20928c"/>
<rect x="368.7" y="444.6" width="6.0" height="8.9" fill="#218f8d"/>
<rect x="368.7" y="452.9" width="6.0" height="8.9" fill="#20928c"/>
<rect x="368.7" y="461.2" width="6.0" height="8.9" fill="#1f968b"/>
<rect x="368.7" y="469.5" width="6.0" height="8.9" fill="#23898e"/>
<rect x="368.7" y="477.8" width="6.0" height="8.9" fill="#26828e"/>
<rect x="368.7" y="486.1" width="6.0" height="8.9" fill="#277e8e"/>
<rect x="368.7" y="494.4" width="6.0" height="8.9" fill="#1fa188"/>
<rect x="368.7" y="502.7" width="6.0" height="8.9" fill="#25ac82"/>
<rect x="368.7" y="510.9" width="6.0" height="8.9" fill="#81d34d"/>
<rect x="368.7" y="519.2" width="6.0" height="8.9" fill="#b8de29"/>
<rect x="368.7" y="527.5" width="6.0" height="8.9" fill="#a2da37"/>
<rect x="368.7" y="535.8" width="6.0" height="8.9" fill="#98d83e"/>
<rect x="368.7" y="544.1" width="6.0" height="8.1" fill="#26ad81"/>
<rect x="368.7" y="551.6" width="6.0" height="8.1" fill="#1fa187"/>
<rect x="368.7" y="559.1" width="6.0" height="8.1" fill="#1fa188"/>
<rect x="368.7" y="566.7" width="6.0" height="8.1" fill="#1f998a"/>
<rect x="368.7" y="574.2" width="6.0" height="8.1" fill="#228b8d"/>
<rect x="368.7" y="581.7" width="6.0" height="8.1" fill="#2b758e"/>
<rect x="368.7" y="589.2" width="6.0" height="8.1" fill="#38588c"/>
<rect x="368.7" y="596.8" width="6.0" height="8.1" fill="#46337f"/>
<rect x="374.2" y="394.9" width="6.0" height="8.9" fill="#482173"/>
<rect x="374.2" y="403.2" width="6.0" height="8.9" fill="#404588"/>
<rect x="374.2" y="411.5" width="6.0" height="8.9" fill="#3a538b"/>
<rect x="374.2" y="419.8" width="6.0" height="8.9" fill="#2e6d8e"/>
<rect x="374.2" y="428.1" width="6.0" height="8.9" fill="#25858e"/>
<rect x="374.2" y="436.4" width="6.0" height="8.9" fill="#23898e"/>
<rect x="374.2" y="444.6" width="6.0" height="8.9" fill="#238a8d"/>
<rect x="374.2" y="452.9" width="6.0" height="8.9" fill="#228d8d"/>
<rect x="374.2" y="461.2" width="6.0" height="8.9" fill="#1e9d89"/>
<rect x="374.2" y="469.5" width="6.0" height="8.9" fill="#228b8d"/>
<rect x="374.2" y="477.8" width="6.0" height="8.9" fill="#26828e"/>
<rect x="374.2" y="486.1" width="6.0" height="8.9" fill="#277e8e"/>
<rect x="374.2" y="494.4" width="6.0" height="8.9" fill="#20a386"/>
<rect x="374.2" y="502.7" width="6.0" height="8.9" fill="#27ad81"/>
<rect x="374.2" y="510.9" width="6.0" height="8.9" fill="#81d34d"/>
<rect x="374.2" y="519.2" width="6.0" height="8.9" fill="#bade28"/>
<rect x="374.2" y="527.5" width="6.0" height="8.9" fill="#a5db36"/>
<rect x="374.2" y="535.8" width="6.0" height="8.9" fill="#84d44b"/>
<rect x="374.2" y="544.1" width="6.0" height="8.1" fill="#2cb17e"/>
<rect x="374.2" y="551.6" width="6.0" height="8.1" fill="#21a585"/>
<rect x="374.2" y="559.1" width="6.0" height="8.1" fill="#20a486"/>
<rect x="374.2" y="566.7" width="6.0" height="8.1" fill="#1e9d89"/>
<rect x="374.2" y="574.2" width="6.0" height="8.1" fill="#20938c"/>
<rect x="374.2" y="581.7" width="6.0" height="8.1" fill="#2b748e"/>
<rect x="374.2" y="589.2" width="6.0" height="8.1" fill="#3a548c"/>
<rect x="374.2" y="596.8" width="6.0" height="8.1" fill="#46327e"/>
<rect x="379.7" y="394.9" width="6.0" height="8.9" fill="#482374"/>
<rect x="379.7" y="403.2" width="6.0" height="8.9" fill="#414487"/>
<rect x="379.7" y="411.5" width="6.0" height="8.9" fill="#424186"/>
<rect x="379.7" y="419.8" width="6.0" height="8.9" fill="#2b748e"/>
<rect x="379.7" y="428.1" width="6.0" height="8.9" fill="#20928c"/>
<rect x="379.7" y="436.4" width="6.0" height="8.9" fill="#1e9d89"/>
<rect x="379.7" y="444.6" width="6.0" height="8.9" fill="#1f988b"/>
<rect x="379.7" y="452.9" width="6.0" height="8.9" fill="#1fa188"/>
<rect x="379.7" y="461.2" width="6.0" height="8.9" fill="#1fa287"/>
<rect x="379.7" y="469.5" width="6.0" height="8.9" fill="#1e9b8a"/>
<rect x="379.7" y="477.8" width="6.0" height="8.9" fill="#27808e"/>
<rect x="379.7" y="486.1" width="6.0" height="8.9" fill="#365d8d"/>
<rect x="379.7" y="494.4" width="6.0" height="8.9" fill="#355f8d"/>
<rect x="379.7" y="502.7" width="6.0" height="8.9" fill="#228b8d"/>
<rect x="379.7" y="510.9" width="6.0" height="8.9" fill="#5ac864"/>
<rect x="379.7" y="519.2" width="6.0" height="8.9" fill="#60ca60"/>
<rect x="379.7" y="527.5" width="6.0" height="8.9" fill="#56c667"/>
<rect x="379.7" y="535.8" width="6.0" height="8.9" fill="#2db27d"/>
<rect x="379.7" y="544.1" width="6.0" height="8.1" fill="#1f968b"/>
<rect x="379.7" y="551.6" width="6.0" height="8.1" fill="#20928c"/>
<rect x="379.7" y="559.1" width="6.0" height="8.1" fill="#228c8d"/>
<rect x="379.7" y="566.7" width="6.0" height="8.1" fill="#25848e"/>
<rect x="379.7" y="574.2" width="6.0" height="8.1" fill="#287c8e"/>
<rect x="379.7" y="581.7" width="6.0" height="8.1" fill="#32658e"/>
<rect x="379.7" y="589.2" width="6.0" height="8.1" fill="#3e4a89"/>
<rect x="379.7" y="596.8" width="6.0" height="8.1" fill="#472c7a"/>
<rect x="385.1" y="394.9" width="6.0" height="8.9" fill="#472e7c"/>
<rect x="385.1" y="403.2" width="6.0" height="8.9" fill="#404688"/>
<rect x="385.1" y="411.5" width="6.0" height="8.9" fill="#414487"/>
<rect x="385.1" y="419.8" width="6.0" height="8.9" fill="#2a768e"/>
<rect x="385.1" y="428.1" width="6.0" height="8.9" fill="#20928c"/>
<rect x="385.1" y="436.4" width="6.0" height="8.9" fill="#1e9c89"/>
<rect x="385.1" y="444.6" width="6.0" height="8.9" fill="#1e9b8a"/>
<rect x="385.1" y="452.9" width="6.0" height="8.9" fill="#1f978b"/>
<rect x="385.1" y="461.2" width="6.0" height="8.9" fill="#23a983"/>
<rect x="385.1" y="469.5" width="6.0" height="8.9" fill="#1fa187"/>
<rect x="385.1" y="477.8" width="6.0" height="8.9" fill="#2a768e"/>
<rect x="385.1" y="486.1" width="6.0" height="8.9" fill="#365c8d"/>
<rect x="385.1" y="494.4" width="6.0" height="8.9" fill="#365d8d"/>
<rect x="385.1" y="502.7" width="6.0" height="8.9" fill="#25848e"/>
<rect x="385.1" y="510.9" width="6.0" height="8.9" fill="#50c46a"/>
<rect x="385.1" y="519.2" width="6.0" height="8.9" fill="#4ec36b"/>
<rect x="385.1" y="527.5" width="6.0" height="8.9" fill="#4ac16d"/>
<rect x="385.1" y="535.8" width="6.0" height="8.9" fill="#32b67a"/>
<rect x="385.1" y="544.1" width="6.0" height="8.1" fill="#1f978b"/>
<rect x="385.1" y="551.6" width="6.0" height="8.1" fill="#20928c"/>
<rect x="385.1" y="559.1" width="6.0" height="8.1" fill="#23888e"/>
<rect x="385.1" y="566.7" width="6.0" height="8.1" fill="#24868e"/>
<rect x="385.1" y="574.2" width="6.0" height="8.1" fill="#2a788e"/>
<rect x="385.1" y="581.7" width="6.0" height="8.1" fill="#31688e"/>
<rect x="385.1" y="589.2" width="6.0" height="8.1" fill="#414487"/>
<rect x="385.1" y="596.8" width="6.0" height="8.1" fill="#46327e"/>
<rect x="390.6" y="394.9" width="6.0" height="8.9" fill="#482173"/>
<rect x="390.6" y="403.2" width="6.0" height="8.9" fill="#414487"/>
<rect x="390.6" y="411.5" width="6.0" height="8.9" fill="#443983"/>
<rect x="390.6" y="419.8" width="6.0" height="8.9" fill="#2a778e"/>
<rect x="390.6" y="428.1" width="6.0" height="8.9" fill="#20928c"/>
<rect x="390.6" y="436.4" width="6.0" height="8.9" fill="#1f968b"/>
<rect x="390.6" y="444.6" width="6.0" height="8.9" fill="#1f968b"/>
<rect x="390.6" y="452.9" width="6.0" height="8.9" fill="#1fa287"/>
<rect x="390.6" y="461.2" width="6.0" height="8.9" fill="#20a486"/>
<rect x="390.6" y="469.5" width="6.0" height="8.9" fill="#1fa287"/>
<rect x="390.6" y="477.8" width="6.0" height="8.9" fill="#297b8e"/>
<rect x="390.6" y="486.1" width="6.0" height="8.9" fill="#39558c"/>
<rect x="390.6" y="494.4" width="6.0" height="8.9" fill="#23888e"/>
<rect x="390.6" y="502.7" width="6.0" height="8.9" fill="#24868e"/>
<rect x="390.6" y="510.9" width="6.0" height="8.9" fill="#52c569"/>
<rect x="390.6" y="519.2" width="6.0" height="8.9" fill="#5ac864"/>
<rect x="390.6" y="527.5" width="6.0" height="8.9" fill="#4cc26c"/>
<rect x="390.6" y="535.8" width="6.0" height="8.9" fill="#35b779"/>
<rect x="390.6" y="544.1" width="6.0" height="8.1" fill="#20928c"/>
<rect x="390.6" y="551.6" width="6.0" height="8.1" fill="#23898e"/>
<rect x="390.6" y="559.1" width="6.0" height="8.1" fill="#218f8d"/>
<rect x="390.6" y="566.7" width="6.0" height="8.1" fill="#26828e"/>
<rect x="390.6" y="574.2" width="6.0" height="8.1" fill="#26828e"/>
<rect x="390.6" y="581.7" width="6.0" height="8.1" fill="#306a8e"/>
<rect x="390.6" y="589.2" width="6.0" height="8.1" fill="#3f4788"/>
<rect x="390.6" y="596.8" width="6.0" height="8.1" fill="#482979"/>
<rect x="396.1" y="394.9" width="6.0" height="8.9" fill="#48186a"/>
<rect x="396.1" y="403.2" width="6.0" height="8.9" fill="#3f4889"/>
<rect x="396.1" y="411.5" width="6.0" height="8.9" fill="#424086"/>
<rect x="396.1" y="419.8" width="6.0" height="8.9" fill="#2c728e"/>
<rect x="396.1" y="428.1" width="6.0" height="8.9" fill="#1f958b"/>
<rect x="396.1" y="436.4" width="6.0" height="8.9" fill="#1e9d89"/>
<rect x="396.1" y="444.6" width="6.0" height="8.9" fill="#1fa088"/>
<rect x="396.1" y="452.9" width="6.0" height="8.9" fill="#1f9e89"/>
<rect x="396.1" y="461.2" width="6.0" height="8.9" fill="#25ab82"/>
<rect x="396.1" y="469.5" width="6.0" height="8.9" fill="#1e9d89"/>
<rect x="396.1" y="477.8" width="6.0" height="8.9" fill="#23888e"/>
<rect x="396.1" y="486.1" width="6.0" height="8.9" fill="#2a778e"/>
<rect x="396.1" y="494.4" width="6.0" height="8.9" fill="#25858e"/>
<rect x="396.1" y="502.7" width="6.0" height="8.9" fill="#1f9a8a"/>
<rect x="396.1" y="510.9" width="6.0" height="8.9" fill="#56c667"/>
<rect x="396.1" y="519.2" width="6.0" height="8.9" fill="#4cc26c"/>
<rect x="396.1" y="527.5" width="6.0" height="8.9" fill="#4ec36b"/>
<rect x="396.1" y="535.8" width="6.0" height="8.9" fill="#31b57b"/>
<rect x="396.1" y="544.1" width="6.0" height="8.1" fill="#1f968b"/>
<rect x="396.1" y="551.6" width="6.0" height="8.1" fill="#21908d"/>
<rect x="396.1" y="559.1" width="6.0" height="8.1" fill="#21908d"/>
<rect x="396.1" y="566.7" width="6.0" height="8.1" fill="#228c8d"/>
<rect x="396.1" y="574.2" width="6.0" height="8.1" fill="#297b8e"/>
<rect x="396.1" y="581.7" width="6.0" height="8.1" fill="#32658e"/>
<rect x="396.1" y="589.2" width="6.0" height="8.1" fill="#404588"/>
<rect x="396.1" y="596.8" width="6.0" height="8.1" fill="#482677"/>
<rect x="401.5" y="394.9" width="6.0" height="8.9" fill="#482475"/>
<rect x="401.5" y="403.2" width="6.0" height="8.9" fill="#414287"/>
<rect x="401.5" y="411.5" width="6.0" height="8.9" fill="#3f4889"/>
<rect x="401.5" y="419.8" width="6.0" height="8.9" fill="#2c718e"/>
<rect x="401.5" y="428.1" width="6.0" height="8.9" fill="#21908d"/>
<rect x="401.5" y="436.4" width="6.0" height="8.9" fill="#1e9d89"/>
<rect x="401.5" y="444.6" width="6.0" height="8.9" fill="#1f998a"/>
<rect x="401.5" y="452.9" width="6.0" height="8.9" fill="#1e9b8a"/>
<rect x="401.5" y="461.2" width="6.0" height="8.9" fill="#2db27d"/>
<rect x="401.5" y="469.5" width="6.0" height="8.9" fill="#1e9c89"/>
<rect x="401.5" y="477.8" width="6.0" height="8.9" fill="#26818e"/>
<rect x="401.5" y="486.1" width="6.0" height="8.9" fill="#2d708e"/>
<rect x="401.5" y="494.4" width="6.0" height="8.9" fill="#23888e"/>
<rect x="401.5" y="502.7" width="6.0" height="8.9" fill="#1e9b8a"/>
<rect x="401.5" y="510.9" width="6.0" height="8.9" fill="#48c16e"/>
<rect x="401.5" y="519.2" width="6.0" height="8.9" fill="#73d056"/>
<rect x="401.5" y="527.5" width="6.0" height="8.9" fill="#58c765"/>
<rect x="401.5" y="535.8" width="6.0" height="8.9" fill="#27ad81"/>
<rect x="401.5" y="544.1" width="6.0" height="8.1" fill="#20938c"/>
<rect x="401.5" y="551.6" width="6.0" height="8.1" fill="#20938c"/>
<rect x="401.5" y="559.1" width="6.0" height="8.1" fill="#218f8d"/>
<rect x="401.5" y="566.7" width="6.0" height="8.1" fill="#27808e"/>
<rect x="401.5" y="574.2" width="6.0" height="8.1" fill="#25838e"/>
<rect x="401.5" y="581.7" width="6.0" height="8.1" fill="#2c728e"/>
<rect x="401.5" y="589.2" width="6.0" height="8.1" fill="#404588"/>
<rect x="401.5" y="596.8" width="6.0" height="8.1" fill="#482173"/>
<rect x="407.0" y="394.9" width="6.0" height="8.9" fill="#481d6f"/>
<rect x="407.0" y="403.2" width="6.0" height="8.9" fill="#404688"/>
<rect x="407.0" y="411.5" width="6.0" height="8.9" fill="#3f4889"/>
<rect x="407.0" y="419.8" width="6.0" height="8.9" fill="#2c738e"/>
<rect x="407.0" y="428.1" width="6.0" height="8.9" fill="#218e8d"/>
<rect x="407.0" y="436.4" width="6.0" height="8.9" fill="#1e9c89"/>
<rect x="407.0" y="444.6" width="6.0" height="8.9" fill="#1f9e89"/>
<rect x="407.0" y="452.9" width="6.0" height="8.9" fill="#1f988b"/>
<rect x="407.0" y="461.2" width="6.0" height="8.9" fill="#1fa287"/>
<rect x="407.0" y="469.5" width="6.0" height="8.9" fill="#1e9c89"/>
<rect x="407.0" y="477.8" width="6.0" height="8.9" fill="#23888e"/>
<rect x="407.0" y="486.1" width="6.0" height="8.9" fill="#29798e"/>
<rect x="407.0" y="494.4" width="6.0" height="8.9" fill="#25848e"/>
<rect x="407.0" y="502.7" width="6.0" height="8.9" fill="#1f9a8a"/>
<rect x="407.0" y="510.9" width="6.0" height="8.9" fill="#54c568"/>
<rect x="407.0" y="519.2" width="6.0" height="8.9" fill="#50c46a"/>
<rect x="407.0" y="527.5" width="6.0" height="8.9" fill="#4cc26c"/>
<rect x="407.0" y="535.8" width="6.0" height="8.9" fill="#2db27d"/>
<rect x="407.0" y="544.1" width="6.0" height="8.1" fill="#1f948c"/>
<rect x="407.0" y="551.6" width="6.0" height="8.1" fill="#228d8d"/>
<rect x="407.0" y="559.1" width="6.0" height="8.1" fill="#218e8d"/>
<rect x="407.0" y="566.7" width="6.0" height="8.1" fill="#25838e"/>
<rect x="407.0" y="574.2" width="6.0" height="8.1" fill="#297b8e"/>
<rect x="407.0" y="581.7" width="6.0" height="8.1" fill="#2e6e8e"/>
<rect x="407.0" y="589.2" width="6.0" height="8.1" fill="#3e4989"/>
<rect x="407.0" y="596.8" width="6.0" height="8.1" fill="#482878"/>
<rect x="412.5" y="394.9" width="6.0" height="8.9" fill="#482878"/>
<rect x="412.5" y="403.2" width="6.0" height="8.9" fill="#424086"/>
<rect x="412.5" y="411.5" width="6.0" height="8.9" fill="#3d4e8a"/>
<rect x="412.5" y="419.8" width="6.0" height="8.9" fill="#39568c"/>
<rect x="412.5" y="428.1" width="6.0" height="8.9" fill="#355e8d"/>
<rect x="412.5" y="436.4" width="6.0" height="8.9" fill="#31688e"/>
<rect x="412.5" y="444.6" width="6.0" height="8.9" fill="#2f6b8e"/>
<rect x="412.5" y="452.9" width="6.0" height="8.9" fill="#25848e"/>
<rect x="412.5" y="461.2" width="6.0" height="8.9" fill="#277e8e"/>
<rect x="412.5" y="469.5" width="6.0" height="8.9" fill="#24868e"/>
<rect x="412.5" y="477.8" width="6.0" height="8.9" fill="#228b8d"/>
<rect x="412.5" y="486.1" width="6.0" height="8.9" fill="#23888e"/>
<rect x="412.5" y="494.4" width="6.0" height="8.9" fill="#1fa287"/>
<rect x="412.5" y="502.7" width="6.0" height="8.9" fill="#4cc26c"/>
<rect x="412.5" y="510.9" width="6.0" height="8.9" fill="#6ece58"/>
<rect x="412.5" y="519.2" width="6.0" height="8.9" fill="#a2da37"/>
<rect x="412.5" y="527.5" width="6.0" height="8.9" fill="#7fd34e"/>
<rect x="412.5" y="535.8" width="6.0" height="8.9" fill="#5cc863"/>
<rect x="412.5" y="544.1" width="6.0" height="8.1" fill="#21a585"/>
<rect x="412.5" y="551.6" width="6.0" height="8.1" fill="#228d8d"/>
<rect x="412.5" y="559.1" width="6.0" height="8.1" fill="#25848e"/>
<rect x="412.5" y="566.7" width="6.0" height="8.1" fill="#26828e"/>
<rect x="412.5" y="574.2" width="6.0" height="8.1" fill="#2d718e"/>
<rect x="412.5" y="581.7" width="6.0" height="8.1" fill="#277e8e"/>
<rect x="412.5" y="589.2" width="6.0" height="8.1" fill="#24878e"/>
<rect x="412.5" y="596.8" width="6.0" height="8.1" fill="#24878e"/>
<rect x="418.0" y="394.9" width="6.0" height="8.9" fill="#472d7b"/>
<rect x="418.0" y="403.2" width="6.0" height="8.9" fill="#433e85"/>
<rect x="418.0" y="411.5" width="6.0" height="8.9" fill="#3a538b"/>
<rect x="418.0" y="419.8" width="6.0" height="8.9" fill="#38598c"/>
<rect x="418.0" y="428.1" width="6.0" height="8.9" fill="#34608d"/>
<rect x="418.0" y="436.4" width="6.0" height="8.9" fill="#32648e"/>
<rect x="418.0" y="444.6" width="6.0" height="8.9" fill="#30698e"/>
<rect x="418.0" y="452.9" width="6.0" height="8.9" fill="#2a788e"/>
<rect x="418.0" y="461.2" width="6.0" height="8.9" fill="#25848e"/>
<rect x="418.0" y="469.5" width="6.0" height="8.9" fill="#26818e"/>
<rect x="418.0" y="477.8" width="6.0" height="8.9" fill="#228b8d"/>
<rect x="418.0" y="486.1" width="6.0" height="8.9" fill="#23898e"/>
<rect x="418.0" y="494.4" width="6.0" height="8.9" fill="#22a785"/>
<rect x="418.0" y="502.7" width="6.0" height="8.9" fill="#4ac16d"/>
<rect x="418.0" y="510.9" width="6.0" height="8.9" fill="#89d548"/>
<rect x="418.0" y="519.2" width="6.0" height="8.9" fill="#89d548"/>
<rect x="418.0" y="527.5" width="6.0" height="8.9" fill="#6ece58"/>
<rect x="418.0" y="535.8" width="6.0" height="8.9" fill="#60ca60"/>
<rect x="418.0" y="544.1" width="6.0" height="8.1" fill="#21a585"/>
<rect x="418.0" y="551.6" width="6.0" height="8.1" fill="#20928c"/>
<rect x="418.0" y="559.1" width="6.0" height="8.1" fill="#24868e"/>
<rect x="418.0" y="566.7" width="6.0" height="8.1" fill="#26828e"/>
<rect x="418.0" y="574.2" width="6.0" height="8.1" fill="#297b8e"/>
<rect x="418.0" y="581.7" width="6.0" height="8.1" fill="#238a8d"/>
<rect x="418.0" y="589.2" width="6.0" height="8.1" fill="#24878e"/>
<rect x="418.0" y="596.8" width="6.0" height="8.1" fill="#26818e"/>
<rect x="423.4" y="394.9" width="6.0" height="8.9" fill="#472a7a"/>
<rect x="423.4" y="403.2" width="6.0" height="8.9" fill="#443a83"/>
<rect x="423.4" y="411.5" width="6.0" height="8.9" fill="#38588c"/>
<rect x="423.4" y="419.8" width="6.0" height="8.9" fill="#39568c"/>
<rect x="423.4" y="428.1" width="6.0" height="8.9" fill="#365d8d"/>
<rect x="423.4" y="436.4" width="6.0" height="8.9" fill="#31678e"/>
<rect x="423.4" y="444.6" width="6.0" height="8.9" fill="#2e6e8e"/>
<rect x="423.4" y="452.9" width="6.0" height="8.9" fill="#287c8e"/>
<rect x="423.4" y="461.2" width="6.0" height="8.9" fill="#25848e"/>
<rect x="423.4" y="469.5" width="6.0" height="8.9" fill="#25848e"/>
<rect x="423.4" y="477.8" width="6.0" height="8.9" fill="#218e8d"/>
<rect x="423.4" y="486.1" width="6.0" height="8.9" fill="#24878e"/>
<rect x="423.4" y="494.4" width="6.0" height="8.9" fill="#23a983"/>
<rect x="423.4" y="502.7" width="6.0" height="8.9" fill="#40bd72"/>
<rect x="423.4" y="510.9" width="6.0" height="8.9" fill="#7fd34e"/>
<rect x="423.4" y="519.2" width="6.0" height="8.9" fill="#93d741"/>
<rect x="423.4" y="527.5" width="6.0" height="8.9" fill="#84d44b"/>
<rect x="423.4" y="535.8" width="6.0" height="8.9" fill="#60ca60"/>
<rect x="423.4" y="544.1" width="6.0" height="8.1" fill="#23a983"/>
<rect x="423.4" y="551.6" width="6.0" height="8.1" fill="#24878e"/>
<rect x="423.4" y="559.1" width="6.0" height="8.1" fill="#228d8d"/>
<rect x="423.4" y="566.7" width="6.0" height="8.1" fill="#23898e"/>
<rect x="423.4" y="574.2" width="6.0" height="8.1" fill="#287d8e"/>
<rect x="423.4" y="581.7" width="6.0" height="8.1" fill="#25848e"/>
<rect x="423.4" y="589.2" width="6.0" height="8.1" fill="#24868e"/>
<rect x="423.4" y="596.8" width="6.0" height="8.1" fill="#218f8d"/>
<rect x="428.9" y="394.9" width="6.0" height="8.9" fill="#482878"/>
<rect x="428.9" y="403.2" width="6.0" height="8.9" fill="#424186"/>
<rect x="428.9" y="411.5" width="6.0" height="8.9" fill="#3a548c"/>
<rect x="428.9" y="419.8" width="6.0" height="8.9" fill="#38588c"/>
<rect x="428.9" y="428.1" width="6.0" height="8.9" fill="#34618d"/>
<rect x="428.9" y="436.4" width="6.0" height="8.9" fill="#33638d"/>
<rect x="428.9" y="444.6" width="6.0" height="8.9" fill="#2e6f8e"/>
<rect x="428.9" y="452.9" width="6.0" height="8.9" fill="#2a788e"/>
<rect x="428.9" y="461.2" width="6.0" height="8.9" fill="#228b8d"/>
<rect x="428.9" y="469.5" width="6.0" height="8.9" fill="#24878e"/>
<rect x="428.9" y="477.8" width="6.0" height="8.9" fill="#23888e"/>
<rect x="428.9" y="486.1" width="6.0" height="8.9" fill="#287d8e"/>
<rect x="428.9" y="494.4" width="6.0" height="8.9" fill="#23a983"/>
<rect x="428.9" y="502.7" width="6.0" height="8.9" fill="#48c16e"/>
<rect x="428.9" y="510.9" width="6.0" height="8.9" fill="#73d056"/>
<rect x="428.9" y="519.2" width="6.0" height="8.9" fill="#addc30"/>
<rect x="428.9" y="527.5" width="6.0" height="8.9" fill="#7fd34e"/>
<rect x="428.9" y="535.8" width="6.0" height="8.9" fill="#5ac864"/>
<rect x="428.9" y="544.1" width="6.0" height="8.1" fill="#20a386"/>
<rect x="428.9" y="551.6" width="6.0" height="8.1" fill="#21908d"/>
<rect x="428.9" y="559.1" width="6.0" height="8.1" fill="#25838e"/>
<rect x="428.9" y="566.7" width="6.0" height="8.1" fill="#24868e"/>
<rect x="428.9" y="574.2" width="6.0" height="8.1" fill="#287c8e"/>
<rect x="428.9" y="581.7" width="6.0" height="8.1" fill="#25848e"/>
<rect x="428.9" y="589.2" width="6.0" height="8.1" fill="#24868e"/>
<rect x="428.9" y="596.8" width="6.0" height="8.1" fill="#23898e"/>
<rect x="434.4" y="394.9" width="6.0" height="8.9" fill="#472e7c"/>
<rect x="434.4" y="403.2" width="6.0" height="8.9" fill="#433d84"/>
<rect x="434.4" y="411.5" width="6.0" height="8.9" fill="#3a548c"/>
<rect x="434.4" y="419.8" width="6.0" height="8.9" fill="#39558c"/>
<rect x="434.4" y="428.1" width="6.0" height="8.9" fill="#34618d"/>
<rect x="434.4" y="436.4" width="6.0" height="8.9" fill="#31678e"/>
<rect x="434.4" y="444.6" width="6.0" height="8.9" fill="#31688e"/>
<rect x="434.4" y="452.9" width="6.0" height="8.9" fill="#27808e"/>
<rect x="434.4" y="461.2" width="6.0" height="8.9" fill="#25848e"/>
<rect x="434.4" y="469.5" width="6.0" height="8.9" fill="#24878e"/>
<rect x="434.4" y="477.8" width="6.0" height="8.9" fill="#24878e"/>
<rect x="434.4" y="486.1" width="6.0" height="8.9" fill="#23888e"/>
<rect x="434.4" y="494.4" width="6.0" height="8.9" fill="#26ad81"/>
<rect x="434.4" y="502.7" width="6.0" height="8.9" fill="#42be71"/>
<rect x="434.4" y="510.9" width="6.0" height="8.9" fill="#7ad151"/>
<rect x="434.4" y="519.2" width="6.0" height="8.9" fill="#9dd93b"/>
<rect x="434.4" y="527.5" width="6.0" height="8.9" fill="#7cd250"/>
<rect x="434.4" y="535.8" width="6.0" height="8.9" fill="#65cb5e"/>
<rect x="434.4" y="544.1" width="6.0" height="8.1" fill="#21a685"/>
<rect x="434.4" y="551.6" width="6.0" height="8.1" fill="#228c8d"/>
<rect x="434.4" y="559.1" width="6.0" height="8.1" fill="#25838e"/>
<rect x="434.4" y="566.7" width="6.0" height="8.1" fill="#228b8d"/>
<rect x="434.4" y="574.2" width="6.0" height="8.1" fill="#2a778e"/>
<rect x="434.4" y="581.7" width="6.0" height="8.1" fill="#26818e"/>
<rect x="434.4" y="589.2" width="6.0" height="8.1" fill="#26818e"/>
<rect x="434.4" y="596.8" width="6.0" height="8.1" fill="#25858e"/>
<rect x="439.8" y="394.9" width="6.0" height="8.9" fill="#46307e"/>
<rect x="439.8" y="403.2" width="6.0" height="8.9" fill="#443a83"/>
<rect x="439.8" y="411.5" width="6.0" height="8.9" fill="#3b528b"/>
<rect x="439.8" y="419.8" width="6.0" height="8.9" fill="#38598c"/>
<rect x="439.8" y="428.1" width="6.0" height="8.9" fill="#34618d"/>
<rect x="439.8" y="436.4" width="6.0" height="8.9" fill="#31688e"/>
<rect x="439.8" y="444.6" width="6.0" height="8.9" fill="#2d708e"/>
<rect x="439.8" y="452.9" width="6.0" height="8.9" fill="#27808e"/>
<rect x="439.8" y="461.2" width="6.0" height="8.9" fill="#26828e"/>
<rect x="439.8" y="469.5" width="6.0" height="8.9" fill="#228d8d"/>
<rect x="439.8" y="477.8" width="6.0" height="8.9" fill="#24868e"/>
<rect x="439.8" y="486.1" width="6.0" height="8.9" fill="#27808e"/>
<rect x="439.8" y="494.4" width="6.0" height="8.9" fill="#25ac82"/>
<rect x="439.8" y="502.7" width="6.0" height="8.9" fill="#46c06f"/>
<rect x="439.8" y="510.9" width="6.0" height="8.9" fill="#77d153"/>
<rect x="439.8" y="519.2" width="6.0" height="8.9" fill="#9dd93b"/>
<rect x="439.8" y="527.5" width="6.0" height="8.9" fill="#81d34d"/>
<rect x="439.8" y="535.8" width="6.0" height="8.9" fill="#5ac864"/>
<rect x="439.8" y="544.1" width="6.0" height="8.1" fill="#21a685"/>
<rect x="439.8" y="551.6" width="6.0" height="8.1" fill="#228d8d"/>
<rect x="439.8" y="559.1" width="6.0" height="8.1" fill="#26828e"/>
<rect x="439.8" y="566.7" width="6.0" height="8.1" fill="#26828e"/>
<rect x="439.8" y="574.2" width="6.0" height="8.1" fill="#287c8e"/>
<rect x="439.8" y="581.7" width="6.0" height="8.1" fill="#25858e"/>
<rect x="439.8" y="589.2" width="6.0" height="8.1" fill="#24868e"/>
<rect x="439.8" y="596.8" width="6.0" height="8.1" fill="#26828e"/>
<rect x="445.3" y="394.9" width="6.0" height="8.9" fill="#472f7d"/>
<rect x="445.3" y="403.2" width="6.0" height="8.9" fill="#453781"/>
<rect x="445.3" y="411.5" width="6.0" height="8.9" fill="#3a538b"/>
<rect x="445.3" y="419.8" width="6.0" height="8.9" fill="#375a8c"/>
<rect x="445.3" y="428.1" width="6.0" height="8.9" fill="#365d8d"/>
<rect x="445.3" y="436.4" width="6.0" height="8.9" fill="#33638d"/>
<rect x="445.3" y="444.6" width="6.0" height="8.9" fill="#2e6e8e"/>
<rect x="445.3" y="452.9" width="6.0" height="8.9" fill="#297a8e"/>
<rect x="445.3" y="461.2" width="6.0" height="8.9" fill="#26818e"/>
<rect x="445.3" y="469.5" width="6.0" height="8.9" fill="#25848e"/>
<rect x="445.3" y="477.8" width="6.0" height="8.9" fill="#24878e"/>
<rect x="445.3" y="486.1" width="6.0" height="8.9" fill="#25838e"/>
<rect x="445.3" y="494.4" width="6.0" height="8.9" fill="#29af7f"/>
<rect x="445.3" y="502.7" width="6.0" height="8.9" fill="#40bd72"/>
<rect x="445.3" y="510.9" width="6.0" height="8.9" fill="#84d44b"/>
<rect x="445.3" y="519.2" width="6.0" height="8.9" fill="#90d743"/>
<rect x="445.3" y="527.5" width="6.0" height="8.9" fill="#7cd250"/>
<rect x="445.3" y="535.8" width="6.0" height="8.9" fill="#5cc863"/>
<rect x="445.3" y="544.1" width="6.0" height="8.1" fill="#22a884"/>
<rect x="445.3" y="551.6" width="6.0" height="8.1" fill="#20928c"/>
<rect x="445.3" y="559.1" width="6.0" height="8.1" fill="#228c8d"/>
<rect x="445.3" y="566.7" width="6.0" height="8.1" fill="#25838e"/>
<rect x="445.3" y="574.2" width="6.0" height="8.1" fill="#287d8e"/>
<rect x="445.3" y="581.7" width="6.0" height="8.1" fill="#25858e"/>
<rect x="445.3" y="589.2" width="6.0" height="8.1" fill="#24878e"/>
<rect x="445.3" y="596.8" width="6.0" height="8.1" fill="#26828e"/>
<rect x="450.8" y="394.9" width="6.0" height="8.9" fill="#482071"/>
<rect x="450.8" y="403.2" width="6.0" height="8.9" fill="#423f85"/>
<rect x="450.8" y="411.5" width="6.0" height="8.9" fill="#3c4f8a"/>
<rect x="450.8" y="419.8" width="6.0" height="8.9" fill="#3b528b"/>
<rect x="450.8" y="428.1" width="6.0" height="8.9" fill="#3a538b"/>
<rect x="450.8" y="436.4" width="6.0" height="8.9" fill="#355f8d"/>
<rect x="450.8" y="444.6" width="6.0" height="8.9" fill="#34608d"/>
<rect x="450.8" y="452.9" width="6.0" height="8.9" fill="#2c728e"/>
<rect x="450.8" y="461.2" width="6.0" height="8.9" fill="#29798e"/>
<rect x="450.8" y="469.5" width="6.0" height="8.9" fill="#287c8e"/>
<rect x="450.8" y="477.8" width="6.0" height="8.9" fill="#26828e"/>
<rect x="450.8" y="486.1" width="6.0" height="8.9" fill="#277f8e"/>
<rect x="450.8" y="494.4" width="6.0" height="8.9" fill="#20938c"/>
<rect x="450.8" y="502.7" width="6.0" height="8.9" fill="#2cb17e"/>
<rect x="450.8" y="510.9" width="6.0" height="8.9" fill="#98d83e"/>
<rect x="450.8" y="519.2" width="6.0" height="8.9" fill="#9dd93b"/>
<rect x="450.8" y="527.5" width="6.0" height="8.9" fill="#a2da37"/>
<rect x="450.8" y="535.8" width="6.0" height="8.9" fill="#6ece58"/>
<rect x="450.8" y="544.1" width="6.0" height="8.1" fill="#2eb37c"/>
<rect x="450.8" y="551.6" width="6.0" height="8.1" fill="#24aa83"/>
<rect x="450.8" y="559.1" width="6.0" height="8.1" fill="#1f9e89"/>
<rect x="450.8" y="566.7" width="6.0" height="8.1" fill="#1f978b"/>
<rect x="450.8" y="574.2" width="6.0" height="8.1" fill="#20938c"/>
<rect x="450.8" y="581.7" width="6.0" height="8.1" fill="#287d8e"/>
<rect x="450.8" y="589.2" width="6.0" height="8.1" fill="#25838e"/>
<rect x="450.8" y="596.8" width="6.0" height="8.1" fill="#29798e"/>
<rect x="456.3" y="394.9" width="6.0" height="8.9" fill="#482475"/>
<rect x="456.3" y="403.2" width="6.0" height="8.9" fill="#404688"/>
<rect x="456.3" y="411.5" width="6.0" height="8.9" fill="#3c508b"/>
<rect x="456.3" y="419.8" width="6.0" height="8.9" fill="#39558c"/>
<rect x="456.3" y="428.1" width="6.0" height="8.9" fill="#355f8d"/>
<rect x="456.3" y="436.4" width="6.0" height="8.9" fill="#355e8d"/>
<rect x="456.3" y="444.6" width="6.0" height="8.9" fill="#34608d"/>
<rect x="456.3" y="452.9" width="6.0" height="8.9" fill="#2f6b8e"/>
<rect x="456.3" y="461.2" width="6.0" height="8.9" fill="#2a768e"/>
<rect x="456.3" y="469.5" width="6.0" height="8.9" fill="#2c728e"/>
<rect x="456.3" y="477.8" width="6.0" height="8.9" fill="#277f8e"/>
<rect x="456.3" y="486.1" width="6.0" height="8.9" fill="#287c8e"/>
<rect x="456.3" y="494.4" width="6.0" height="8.9" fill="#20938c"/>
<rect x="456.3" y="502.7" width="6.0" height="8.9" fill="#2fb47c"/>
<rect x="456.3" y="510.9" width="6.0" height="8.9" fill="#9bd93c"/>
<rect x="456.3" y="519.2" width="6.0" height="8.9" fill="#c0df25"/>
<rect x="456.3" y="527.5" width="6.0" height="8.9" fill="#a2da37"/>
<rect x="456.3" y="535.8" width="6.0" height="8.9" fill="#58c765"/>
<rect x="456.3" y="544.1" width="6.0" height="8.1" fill="#32b67a"/>
<rect x="456.3" y="551.6" width="6.0" height="8.1" fill="#26ad81"/>
<rect x="456.3" y="559.1" width="6.0" height="8.1" fill="#1e9c89"/>
<rect x="456.3" y="566.7" width="6.0" height="8.1" fill="#21908d"/>
<rect x="456.3" y="574.2" width="6.0" height="8.1" fill="#218f8d"/>
<rect x="456.3" y="581.7" width="6.0" height="8.1" fill="#25848e"/>
<rect x="456.3" y="589.2" width="6.0" height="8.1" fill="#24878e"/>
<rect x="456.3" y="596.8" width="6.0" height="8.1" fill="#2b748e"/>
<rect x="461.7" y="394.9" width="6.0" height="8.9" fill="#482576"/>
<rect x="461.7" y="403.2" width="6.0" height="8.9" fill="#443b84"/>
<rect x="461.7" y="411.5" width="6.0" height="8.9" fill="#3b528b"/>
<rect x="461.7" y="419.8" width="6.0" height="8.9" fill="#3d4d8a"/>
<rect x="461.7" y="428.1" width="6.0" height="8.9" fill="#39558c"/>
<rect x="461.7" y="436.4" width="6.0" height="8.9" fill="#375a8c"/>
<rect x="461.7" y="444.6" width="6.0" height="8.9" fill="#365c8d"/>
<rect x="461.7" y="452.9" width="6.0" height="8.9" fill="#31668e"/>
<rect x="461.7" y="461.2" width="6.0" height="8.9" fill="#2f6c8e"/>
<rect x="461.7" y="469.5" width="6.0" height="8.9" fill="#277f8e"/>
<rect x="461.7" y="477.8" width="6.0" height="8.9" fill="#23888e"/>
<rect x="461.7" y="486.1" width="6.0" height="8.9" fill="#277f8e"/>
<rect x="461.7" y="494.4" width="6.0" height="8.9" fill="#218f8d"/>
<rect x="461.7" y="502.7" width="6.0" height="8.9" fill="#34b679"/>
<rect x="461.7" y="510.9" width="6.0" height="8.9" fill="#a0da39"/>
<rect x="461.7" y="519.2" width="6.0" height="8.9" fill="#b5de2b"/>
<rect x="461.7" y="527.5" width="6.0" height="8.9" fill="#addc30"/>
<rect x="461.7" y="535.8" width="6.0" height="8.9" fill="#60ca60"/>
<rect x="461.7" y="544.1" width="6.0" height="8.1" fill="#38b977"/>
<rect x="461.7" y="551.6" width="6.0" height="8.1" fill="#22a884"/>
<rect x="461.7" y="559.1" width="6.0" height="8.1" fill="#1e9c89"/>
<rect x="461.7" y="566.7" width="6.0" height="8.1" fill="#1f958b"/>
<rect x="461.7" y="574.2" width="6.0" height="8.1" fill="#228c8d"/>
<rect x="461.7" y="581.7" width="6.0" height="8.1" fill="#26818e"/>
<rect x="461.7" y="589.2" width="6.0" height="8.1" fill="#24878e"/>
<rect x="461.7" y="596.8" width="6.0" height="8.1" fill="#2c728e"/>
<rect x="467.2" y="394.9" width="6.0" height="8.9" fill="#472a7a"/>
<rect x="467.2" y="403.2" width="6.0" height="8.9" fill="#424186"/>
<rect x="467.2" y="411.5" width="6.0" height="8.9" fill="#39568c"/>
<rect x="467.2" y="419.8" width="6.0" height="8.9" fill="#39558c"/>
<rect x="467.2" y="428.1" width="6.0" height="8.9" fill="#375a8c"/>
<rect x="467.2" y="436.4" width="6.0" height="8.9" fill="#31668e"/>
<rect x="467.2" y="444.6" width="6.0" height="8.9" fill="#355f8d"/>
<rect x="467.2" y="452.9" width="6.0" height="8.9" fill="#2f6c8e"/>
<rect x="467.2" y="461.2" width="6.0" height="8.9" fill="#2a778e"/>
<rect x="467.2" y="469.5" width="6.0" height="8.9" fill="#2a788e"/>
<rect x="467.2" y="477.8" width="6.0" height="8.9" fill="#23888e"/>
<rect x="467.2" y="486.1" width="6.0" height="8.9" fill="#27808e"/>
<rect x="467.2" y="494.4" width="6.0" height="8.9" fill="#218f8d"/>
<rect x="467.2" y="502.7" width="6.0" height="8.9" fill="#27ad81"/>
<rect x="467.2" y="510.9" width="6.0" height="8.9" fill="#8ed645"/>
<rect x="467.2" y="519.2" width="6.0" height="8.9" fill="#c2df23"/>
<rect x="467.2" y="527.5" width="6.0" height="8.9" fill="#93d741"/>
<rect x="467.2" y="535.8" width="6.0" height="8.9" fill="#54c568"/>
<rect x="467.2" y="544.1" width="6.0" height="8.1" fill="#34b679"/>
<rect x="467.2" y="551.6" width="6.0" height="8.1" fill="#24aa83"/>
<rect x="467.2" y="559.1" width="6.0" height="8.1" fill="#1e9d89"/>
<rect x="467.2" y="566.7" width="6.0" height="8.1" fill="#1f958b"/>
<rect x="467.2" y="574.2" width="6.0" height="8.1" fill="#218f8d"/>
<rect x="467.2" y="581.7" width="6.0" height="8.1" fill="#26818e"/>
<rect x="467.2" y="589.2" width="6.0" height="8.1" fill="#26828e"/>
<rect x="467.2" y="596.8" width="6.0" height="8.1" fill="#297a8e"/>
<rect x="472.7" y="394.9" width="6.0" height="8.9" fill="#482979"/>
<rect x="472.7" y="403.2" width="6.0" height="8.9" fill="#404688"/>
<rect x="472.7" y="411.5" width="6.0" height="8.9" fill="#3b528b"/>
<rect x="472.7" y="419.8" width="6.0" height="8.9" fill="#3f4889"/>
<rect x="472.7" y="428.1" width="6.0" height="8.9" fill="#375a8c"/>
<rect x="472.7" y="436.4" width="6.0" height="8.9" fill="#355f8d"/>
<rect x="472.7" y="444.6" width="6.0" height="8.9" fill="#3a548c"/>
<rect x="472.7" y="452.9" width="6.0" height="8.9" fill="#2c718e"/>
<rect x="472.7" y="461.2" width="6.0" height="8.9" fill="#2b748e"/>
<rect x="472.7" y="469.5" width="6.0" height="8.9" fill="#297a8e"/>
<rect x="472.7" y="477.8" width="6.0" height="8.9" fill="#25858e"/>
<rect x="472.7" y="486.1" width="6.0" height="8.9" fill="#277e8e"/>
<rect x="472.7" y="494.4" width="6.0" height="8.9" fill="#20928c"/>
<rect x="472.7" y="502.7" width="6.0" height="8.9" fill="#2db27d"/>
<rect x="472.7" y="510.9" width="6.0" height="8.9" fill="#a2da37"/>
<rect x="472.7" y="519.2" width="6.0" height="8.9" fill="#b5de2b"/>
<rect x="472.7" y="527.5" width="6.0" height="8.9" fill="#a5db36"/>
<rect x="472.7" y="535.8" width="6.0" height="8.9" fill="#73d056"/>
<rect x="472.7" y="544.1" width="6.0" height="8.1" fill="#31b57b"/>
<rect x="472.7" y="551.6" width="6.0" height="8.1" fill="#21a685"/>
<rect x="472.7" y="559.1" width="6.0" height="8.1" fill="#1f9a8a"/>
<rect x="472.7" y="566.7" width="6.0" height="8.1" fill="#1f968b"/>
<rect x="472.7" y="574.2" width="6.0" height="8.1" fill="#21918c"/>
<rect x="472.7" y="581.7" width="6.0" height="8.1" fill="#25858e"/>
<rect x="472.7" y="589.2" width="6.0" height="8.1" fill="#25838e"/>
<rect x="472.7" y="596.8" width="6.0" height="8.1" fill="#2a778e"/>
<rect x="478.2" y="394.9" width="6.0" height="8.9" fill="#482878"/>
<rect x="478.2" y="403.2" width="6.0" height="8.9" fill="#3f4788"/>
<rect x="478.2" y="411.5" width="6.0" height="8.9" fill="#3a538b"/>
<rect x="478.2" y="419.8" width="6.0" height="8.9" fill="#3b518b"/>
<rect x="478.2" y="428.1" width="6.0" height="8.9" fill="#3b528b"/>
<rect x="478.2" y="436.4" width="6.0" height="8.9" fill="#375b8d"/>
<rect x="478.2" y="444.6" width="6.0" height="8.9" fill="#34608d"/>
<rect x="478.2" y="452.9" width="6.0" height="8.9" fill="#2f6b8e"/>
<rect x="478.2" y="461.2" width="6.0" height="8.9" fill="#2c738e"/>
<rect x="478.2" y="469.5" width="6.0" height="8.9" fill="#2a768e"/>
<rect x="478.2" y="477.8" width="6.0" height="8.9" fill="#25838e"/>
<rect x="478.2" y="486.1" width="6.0" height="8.9" fill="#2a768e"/>
<rect x="478.2" y="494.4" width="6.0" height="8.9" fill="#228c8d"/>
<rect x="478.2" y="502.7" width="6.0" height="8.9" fill="#28ae80"/>
<rect x="478.2" y="510.9" width="6.0" height="8.9" fill="#a8db34"/>
<rect x="478.2" y="519.2" width="6.0" height="8.9" fill="#aadc32"/>
<rect x="478.2" y="527.5" width="6.0" height="8.9" fill="#98d83e"/>
<rect x="478.2" y="535.8" width="6.0" height="8.9" fill="#60ca60"/>
<rect x="478.2" y="544.1" width="6.0" height="8.1" fill="#2fb47c"/>
<rect x="478.2" y="551.6" width="6.0" height="8.1" fill="#25ac82"/>
<rect x="478.2" y="559.1" width="6.0" height="8.1" fill="#1f9e89"/>
<rect x="478.2" y="566.7" width="6.0" height="8.1" fill="#1f968b"/>
<rect x="478.2" y="574.2" width="6.0" height="8.1" fill="#21908d"/>
<rect x="478.2" y="581.7" width="6.0" height="8.1" fill="#24868e"/>
<rect x="478.2" y="589.2" width="6.0" height="8.1" fill="#26828e"/>
<rect x="478.2" y="596.8" width="6.0" height="8.1" fill="#2c728e"/>
<rect x="483.6" y="394.9" width="6.0" height="8.9" fill="#482979"/>
<rect x="483.6" y="403.2" width="6.0" height="8.9" fill="#433e85"/>
<rect x="483.6" y="411.5" width="6.0" height="8.9" fill="#3b528b"/>
<rect x="483.6" y="419.8" width="6.0" height="8.9" fill="#375a8c"/>
<rect x="483.6" y="428.1" width="6.0" height="8.9" fill="#355e8d"/>
<rect x="483.6" y="436.4" width="6.0" height="8.9" fill="#3a538b"/>
<rect x="483.6" y="444.6" width="6.0" height="8.9" fill="#34608d"/>
<rect x="483.6" y="452.9" width="6.0" height="8.9" fill="#2d718e"/>
<rect x="483.6" y="461.2" width="6.0" height="8.9" fill="#2e6d8e"/>
<rect x="483.6" y="469.5" width="6.0" height="8.9" fill="#287c8e"/>
<rect x="483.6" y="477.8" width="6.0" height="8.9" fill="#26828e"/>
<rect x="483.6" y="486.1" width="6.0" height="8.9" fill="#23888e"/>
<rect x="483.6" y="494.4" width="6.0" height="8.9" fill="#21908d"/>
<rect x="483.6" y="502.7" width="6.0" height="8.9" fill="#25ac82"/>
<rect x="483.6" y="510.9" width="6.0" height="8.9" fill="#73d056"/>
<rect x="483.6" y="519.2" width="6.0" height="8.9" fill="#86d549"/>
<rect x="483.6" y="527.5" width="6.0" height="8.9" fill="#58c765"/>
<rect x="483.6" y="535.8" width="6.0" height="8.9" fill="#37b878"/>
<rect x="483.6" y="544.1" width="6.0" height="8.1" fill="#2eb37c"/>
<rect x="483.6" y="551.6" width="6.0" height="8.1" fill="#20a486"/>
<rect x="483.6" y="559.1" width="6.0" height="8.1" fill="#20938c"/>
<rect x="483.6" y="566.7" width="6.0" height="8.1" fill="#21918c"/>
<rect x="483.6" y="574.2" width="6.0" height="8.1" fill="#287c8e"/>
<rect x="483.6" y="581.7" width="6.0" height="8.1" fill="#33638d"/>
<rect x="483.6" y="589.2" width="6.0" height="8.1" fill="#414487"/>
<rect x="483.6" y="596.8" width="6.0" height="8.1" fill="#46337f"/>
<rect x="489.1" y="394.9" width="6.0" height="8.9" fill="#482878"/>
<rect x="489.1" y="403.2" width="6.0" height="8.9" fill="#443983"/>
<rect x="489.1" y="411.5" width="6.0" height="8.9" fill="#3b528b"/>
<rect x="489.1" y="419.8" width="6.0" height="8.9" fill="#3a548c"/>
<rect x="489.1" y="428.1" width="6.0" height="8.9" fill="#355f8d"/>
<rect x="489.1" y="436.4" width="6.0" height="8.9" fill="#33638d"/>
<rect x="489.1" y="444.6" width="6.0" height="8.9" fill="#33628d"/>
<rect x="489.1" y="452.9" width="6.0" height="8.9" fill="#31688e"/>
<rect x="489.1" y="461.2" width="6.0" height="8.9" fill="#2c738e"/>
<rect x="489.1" y="469.5" width="6.0" height="8.9" fill="#2a778e"/>
<rect x="489.1" y="477.8" width="6.0" height="8.9" fill="#26828e"/>
<rect x="489.1" y="486.1" width="6.0" height="8.9" fill="#228d8d"/>
<rect x="489.1" y="494.4" width="6.0" height="8.9" fill="#218f8d"/>
<rect x="489.1" y="502.7" width="6.0" height="8.9" fill="#35b779"/>
<rect x="489.1" y="510.9" width="6.0" height="8.9" fill="#6ece58"/>
<rect x="489.1" y="519.2" width="6.0" height="8.9" fill="#75d054"/>
<rect x="489.1" y="527.5" width="6.0" height="8.9" fill="#5ac864"/>
<rect x="489.1" y="535.8" width="6.0" height="8.9" fill="#38b977"/>
<rect x="489.1" y="544.1" width="6.0" height="8.1" fill="#2eb37c"/>
<rect x="489.1" y="551.6" width="6.0" height="8.1" fill="#21a585"/>
<rect x="489.1" y="559.1" width="6.0" height="8.1" fill="#1f9a8a"/>
<rect x="489.1" y="566.7" width="6.0" height="8.1" fill="#21908d"/>
<rect x="489.1" y="574.2" width="6.0" height="8.1" fill="#2a778e"/>
<rect x="489.1" y="581.7" width="6.0" height="8.1" fill="#404688"/>
<rect x="489.1" y="589.2" width="6.0" height="8.1" fill="#482374"/>
<rect x="489.1" y="596.8" width="6.0" height="8.1" fill="#481467"/>
<rect x="494.6" y="394.9" width="6.0" height="8.9" fill="#481c6e"/>
<rect x="494.6" y="403.2" width="6.0" height="8.9" fill="#424186"/>
<rect x="494.6" y="411.5" width="6.0" height="8.9" fill="#3d4d8a"/>
<rect x="494.6" y="419.8" width="6.0" height="8.9" fill="#39568c"/>
<rect x="494.6" y="428.1" width="6.0" height="8.9" fill="#38588c"/>
<rect x="494.6" y="436.4" width="6.0" height="8.9" fill="#33628d"/>
<rect x="494.6" y="444.6" width="6.0" height="8.9" fill="#2e6f8e"/>
<rect x="494.6" y="452.9" width="6.0" height="8.9" fill="#31678e"/>
<rect x="494.6" y="461.2" width="6.0" height="8.9" fill="#2c738e"/>
<rect x="494.6" y="469.5" width="6.0" height="8.9" fill="#26828e"/>
<rect x="494.6" y="477.8" width="6.0" height="8.9" fill="#26818e"/>
<rect x="494.6" y="486.1" width="6.0" height="8.9" fill="#238a8d"/>
<rect x="494.6" y="494.4" width="6.0" height="8.9" fill="#21908d"/>
<rect x="494.6" y="502.7" width="6.0" height="8.9" fill="#2eb37c"/>
<rect x="494.6" y="510.9" width="6.0" height="8.9" fill="#60ca60"/>
<rect x="494.6" y="519.2" width="6.0" height="8.9" fill="#7cd250"/>
<rect x="494.6" y="527.5" width="6.0" height="8.9" fill="#67cc5c"/>
<rect x="494.6" y="535.8" width="6.0" height="8.9" fill="#4cc26c"/>
<rect x="494.6" y="544.1" width="6.0" height="8.1" fill="#28ae80"/>
<rect x="494.6" y="551.6" width="6.0" height="8.1" fill="#1fa187"/>
<rect x="494.6" y="559.1" width="6.0" height="8.1" fill="#1f958b"/>
<rect x="494.6" y="566.7" width="6.0" height="8.1" fill="#287d8e"/>
<rect x="494.6" y="574.2" width="6.0" height="8.1" fill="#2a778e"/>
<rect x="494.6" y="581.7" width="6.0" height="8.1" fill="#355e8d"/>
<rect x="494.6" y="589.2" width="6.0" height="8.1" fill="#472a7a"/>
<rect x="494.6" y="596.8" width="6.0" height="8.1" fill="#481d6f"/>
<rect x="500.0" y="394.9" width="6.0" height="8.9" fill="#482374"/>
<rect x="500.0" y="403.2" width="6.0" height="8.9" fill="#424186"/>
<rect x="500.0" y="411.5" width="6.0" height="8.9" fill="#3d4d8a"/>
<rect x="500.0" y="419.8" width="6.0" height="8.9" fill="#355e8d"/>
<rect x="500.0" y="428.1" width="6.0" height="8.9" fill="#38588c"/>
<rect x="500.0" y="436.4" width="6.0" height="8.9" fill="#355e8d"/>
<rect x="500.0" y="444.6" width="6.0" height="8.9" fill="#2f6b8e"/>
<rect x="500.0" y="452.9" width="6.0" height="8.9" fill="#2f6c8e"/>
<rect x="500.0" y="461.2" width="6.0" height="8.9" fill="#2c718e"/>
<rect x="500.0" y="469.5" width="6.0" height="8.9" fill="#26818e"/>
<rect x="500.0" y="477.8" width="6.0" height="8.9" fill="#25848e"/>
<rect x="500.0" y="486.1" width="6.0" height="8.9" fill="#218f8d"/>
<rect x="500.0" y="494.4" width="6.0" height="8.9" fill="#218e8d"/>
<rect x="500.0" y="502.7" width="6.0" height="8.9" fill="#25ac82"/>
<rect x="500.0" y="510.9" width="6.0" height="8.9" fill="#70cf57"/>
<rect x="500.0" y="519.2" width="6.0" height="8.9" fill="#89d548"/>
<rect x="500.0" y="527.5" width="6.0" height="8.9" fill="#5ec962"/>
<rect x="500.0" y="535.8" width="6.0" height="8.9" fill="#3dbc74"/>
<rect x="500.0" y="544.1" width="6.0" height="8.1" fill="#21a685"/>
<rect x="500.0" y="551.6" width="6.0" height="8.1" fill="#1fa088"/>
<rect x="500.0" y="559.1" width="6.0" height="8.1" fill="#1f958b"/>
<rect x="500.0" y="566.7" width="6.0" height="8.1" fill="#23898e"/>
<rect x="500.0" y="574.2" width="6.0" height="8.1" fill="#306a8e"/>
<rect x="500.0" y="581.7" width="6.0" height="8.1" fill="#453882"/>
<rect x="500.0" y="589.2" width="6.0" height="8.1" fill="#482374"/>
<rect x="500.0" y="596.8" width="6.0" height="8.1" fill="#471063"/>
<rect x="505.5" y="394.9" width="6.0" height="8.9" fill="#482677"/>
<rect x="505.5" y="403.2" width="6.0" height="8.9" fill="#414487"/>
<rect x="505.5" y="411.5" width="6.0" height="8.9" fill="#404688"/>
<rect x="505.5" y="419.8" width="6.0" height="8.9" fill="#38598c"/>
<rect x="505.5" y="428.1" width="6.0" height="8.9" fill="#375a8c"/>
<rect x="505.5" y="436.4" width="6.0" height="8.9" fill="#38588c"/>
<rect x="505.5" y="444.6" width="6.0" height="8.9" fill="#2e6d8e"/>
<rect x="505.5" y="452.9" width="6.0" height="8.9" fill="#2e6e8e"/>
<rect x="505.5" y="461.2" width="6.0" height="8.9" fill="#2c718e"/>
<rect x="505.5" y="469.5" width="6.0" height="8.9" fill="#29798e"/>
<rect x="505.5" y="477.8" width="6.0" height="8.9" fill="#25858e"/>
<rect x="505.5" y="486.1" width="6.0" height="8.9" fill="#228b8d"/>
<rect x="505.5" y="494.4" width="6.0" height="8.9" fill="#238a8d"/>
<rect x="505.5" y="502.7" width="6.0" height="8.9" fill="#2ab07f"/>
<rect x="505.5" y="510.9" width="6.0" height="8.9" fill="#73d056"/>
<rect x="505.5" y="519.2" width="6.0" height="8.9" fill="#81d34d"/>
<rect x="505.5" y="527.5" width="6.0" height="8.9" fill="#6ccd5a"/>
<rect x="505.5" y="535.8" width="6.0" height="8.9" fill="#35b779"/>
<rect x="505.5" y="544.1" width="6.0" height="8.1" fill="#1fa187"/>
<rect x="505.5" y="551.6" width="6.0" height="8.1" fill="#1fa088"/>
<rect x="505.5" y="559.1" width="6.0" height="8.1" fill="#228c8d"/>
<rect x="505.5" y="566.7" width="6.0" height="8.1" fill="#24878e"/>
<rect x="505.5" y="574.2" width="6.0" height="8.1" fill="#31678e"/>
<rect x="505.5" y="581.7" width="6.0" height="8.1" fill="#433d84"/>
<rect x="505.5" y="589.2" width="6.0" height="8.1" fill="#481467"/>
<rect x="505.5" y="596.8" width="6.0" height="8.1" fill="#471063"/>
<rect x="511.0" y="394.9" width="6.0" height="8.9" fill="#482475"/>
<rect x="511.0" y="403.2" width="6.0" height="8.9" fill="#433d84"/>
<rect x="511.0" y="411.5" width="6.0" height="8.9" fill="#3d4d8a"/>
<rect x="511.0" y="419.8" width="6.0" height="8.9" fill="#38588c"/>
<rect x="511.0" y="428.1" width="6.0" height="8.9" fill="#38588c"/>
<rect x="511.0" y="436.4" width="6.0" height="8.9" fill="#375a8c"/>
<rect x="511.0" y="444.6" width="6.0" height="8.9" fill="#33638d"/>
<rect x="511.0" y="452.9" width="6.0" height="8.9" fill="#2e6f8e"/>
<rect x="511.0" y="461.2" width="6.0" height="8.9" fill="#2a788e"/>
<rect x="511.0" y="469.5" width="6.0" height="8.9" fill="#277e8e"/>
<rect x="511.0" y="477.8" width="6.0" height="8.9" fill="#23898e"/>
<rect x="511.0" y="486.1" width="6.0" height="8.9" fill="#238a8d"/>
<rect x="511.0" y="494.4" width="6.0" height="8.9" fill="#21908d"/>
<rect x="511.0" y="502.7" width="6.0" height="8.9" fill="#28ae80"/>
<rect x="511.0" y="510.9" width="6.0" height="8.9" fill="#69cd5b"/>
<rect x="511.0" y="519.2" width="6.0" height="8.9" fill="#8bd646"/>
<rect x="511.0" y="527.5" width="6.0" height="8.9" fill="#67cc5c"/>
<rect x="511.0" y="535.8" width="6.0" height="8.9" fill="#3fbc73"/>
<rect x="511.0" y="544.1" width="6.0" height="8.1" fill="#26ad81"/>
<rect x="511.0" y="551.6" width="6.0" height="8.1" fill="#21a685"/>
<rect x="511.0" y="559.1" width="6.0" height="8.1" fill="#228b8d"/>
<rect x="511.0" y="566.7" width="6.0" height="8.1" fill="#238a8d"/>
<rect x="511.0" y="574.2" width="6.0" height="8.1" fill="#2c738e"/>
<rect x="511.0" y="581.7" width="6.0" height="8.1" fill="#365c8d"/>
<rect x="511.0" y="589.2" width="6.0" height="8.1" fill="#472c7a"/>
<rect x="511.0" y="596.8" width="6.0" height="8.1" fill="#482071"/>
<rect x="516.5" y="394.9" width="6.0" height="8.9" fill="#482071"/>
<rect x="516.5" y="403.2" width="6.0" height="8.9" fill="#3e4989"/>
<rect x="516.5" y="411.5" width="6.0" height="8.9" fill="#3e4a89"/>
<rect x="516.5" y="419.8" width="6.0" height="8.9" fill="#365c8d"/>
<rect x="516.5" y="428.1" width="6.0" height="8.9" fill="#355f8d"/>
<rect x="516.5" y="436.4" width="6.0" height="8.9" fill="#34608d"/>
<rect x="516.5" y="444.6" width="6.0" height="8.9" fill="#31688e"/>
<rect x="516.5" y="452.9" width="6.0" height="8.9" fill="#2b758e"/>
<rect x="516.5" y="461.2" width="6.0" height="8.9" fill="#2b748e"/>
<rect x="516.5" y="469.5" width="6.0" height="8.9" fill="#297a8e"/>
<rect x="516.5" y="477.8" width="6.0" height="8.9" fill="#23898e"/>
<rect x="516.5" y="486.1" width="6.0" height="8.9" fill="#218f8d"/>
<rect x="516.5" y="494.4" width="6.0" height="8.9" fill="#228c8d"/>
<rect x="516.5" y="502.7" width="6.0" height="8.9" fill="#2db27d"/>
<rect x="516.5" y="510.9" width="6.0" height="8.9" fill="#73d056"/>
<rect x="516.5" y="519.2" width="6.0" height="8.9" fill="#70cf57"/>
<rect x="516.5" y="527.5" width="6.0" height="8.9" fill="#5cc863"/>
<rect x="516.5" y="535.8" width="6.0" height="8.9" fill="#37b878"/>
<rect x="516.5" y="544.1" width="6.0" height="8.1" fill="#1fa088"/>
<rect x="516.5" y="551.6" width="6.0" height="8.1" fill="#1f9a8a"/>
<rect x="516.5" y="559.1" width="6.0" height="8.1" fill="#218f8d"/>
<rect x="516.5" y="566.7" width="6.0" height="8.1" fill="#277f8e"/>
<rect x="516.5" y="574.2" width="6.0" height="8.1" fill="#2b748e"/>
<rect x="516.5" y="581.7" width="6.0" height="8.1" fill="#38598c"/>
<rect x="516.5" y="589.2" width="6.0" height="8.1" fill="#481769"/>
<rect x="516.5" y="596.8" width="6.0" height="8.1" fill="#460a5d"/>
<rect x="521.9" y="394.9" width="6.0" height="8.9" fill="#482677"/>
<rect x="521.9" y="403.2" width="6.0" height="8.9" fill="#443983"/>
<rect x="521.9" y="411.5" width="6.0" height="8.9" fill="#3b518b"/>
<rect x="521.9" y="419.8" width="6.0" height="8.9" fill="#3d4e8a"/>
<rect x="521.9" y="428.1" width="6.0" height="8.9" fill="#365d8d"/>
<rect x="521.9" y="436.4" width="6.0" height="8.9" fill="#365d8d"/>
<rect x="521.9" y="444.6" width="6.0" height="8.9" fill="#355f8d"/>
<rect x="521.9" y="452.9" width="6.0" height="8.9" fill="#32658e"/>
<rect x="521.9" y="461.2" width="6.0" height="8.9" fill="#2e6e8e"/>
<rect x="521.9" y="469.5" width="6.0" height="8.9" fill="#27808e"/>
<rect x="521.9" y="477.8" width="6.0" height="8.9" fill="#26828e"/>
<rect x="521.9" y="486.1" width="6.0" height="8.9" fill="#23898e"/>
<rect x="521.9" y="494.4" width="6.0" height="8.9" fill="#218f8d"/>
<rect x="521.9" y="502.7" width="6.0" height="8.9" fill="#26ad81"/>
<rect x="521.9" y="510.9" width="6.0" height="8.9" fill="#75d054"/>
<rect x="521.9" y="519.2" width="6.0" height="8.9" fill="#65cb5e"/>
<rect x="521.9" y="527.5" width="6.0" height="8.9" fill="#6ccd5a"/>
<rect x="521.9" y="535.8" width="6.0" height="8.9" fill="#37b878"/>
<rect x="521.9" y="544.1" width="6.0" height="8.1" fill="#20a386"/>
<rect x="521.9" y="551.6" width="6.0" height="8.1" fill="#1f988b"/>
<rect x="521.9" y="559.1" width="6.0" height="8.1" fill="#21918c"/>
<rect x="521.9" y="566.7" width="6.0" height="8.1" fill="#287d8e"/>
<rect x="521.9" y="574.2" width="6.0" height="8.1" fill="#2a788e"/>
<rect x="521.9" y="581.7" width="6.0" height="8.1" fill="#32648e"/>
<rect x="521.9" y="589.2" width="6.0" height="8.1" fill="#414287"/>
<rect x="521.9" y="596.8" width="6.0" height="8.1" fill="#482374"/>
<rect x="527.4" y="394.9" width="6.0" height="8.9" fill="#482979"/>
<rect x="527.4" y="403.2" width="6.0" height="8.9" fill="#414287"/>
<rect x="527.4" y="411.5" width="6.0" height="8.9" fill="#39568c"/>
<rect x="527.4" y="419.8" width="6.0" height="8.9" fill="#375b8d"/>
<rect x="527.4" y="428.1" width="6.0" height="8.9" fill="#3b518b"/>
<rect x="527.4" y="436.4" width="6.0" height="8.9" fill="#355f8d"/>
<rect x="527.4" y="444.6" width="6.0" height="8.9" fill="#31688e"/>
<rect x="527.4" y="452.9" width="6.0" height="8.9" fill="#30698e"/>
<rect x="527.4" y="461.2" width="6.0" height="8.9" fill="#2e6d8e"/>
<rect x="527.4" y="469.5" width="6.0" height="8.9" fill="#2c718e"/>
<rect x="527.4" y="477.8" width="6.0" height="8.9" fill="#228b8d"/>
<rect x="527.4" y="486.1" width="6.0" height="8.9" fill="#23888e"/>
<rect x="527.4" y="494.4" width="6.0" height="8.9" fill="#21918c"/>
<rect x="527.4" y="502.7" width="6.0" height="8.9" fill="#27ad81"/>
<rect x="527.4" y="510.9" width="6.0" height="8.9" fill="#73d056"/>
<rect x="527.4" y="519.2" width="6.0" height="8.9" fill="#8bd646"/>
<rect x="527.4" y="527.5" width="6.0" height="8.9" fill="#56c667"/>
<rect x="527.4" y="535.8" width="6.0" height="8.9" fill="#3aba76"/>
<rect x="527.4" y="544.1" width="6.0" height="8.1" fill="#1fa188"/>
<rect x="527.4" y="551.6" width="6.0" height="8.1" fill="#21918c"/>
<rect x="527.4" y="559.1" width="6.0" height="8.1" fill="#25858e"/>
<rect x="527.4" y="566.7" width="6.0" height="8.1" fill="#26828e"/>
<rect x="527.4" y="574.2" width="6.0" height="8.1" fill="#2e6e8e"/>
<rect x="527.4" y="581.7" width="6.0" height="8.1" fill="#3c4f8a"/>
<rect x="527.4" y="589.2" width="6.0" height="8.1" fill="#471365"/>
<rect x="527.4" y="596.8" width="6.0" height="8.1" fill="#440256"/>
<rect x="532.9" y="394.9" width="6.0" height="8.9" fill="#482878"/>
<rect x="532.9" y="403.2" width="6.0" height="8.9" fill="#424086"/>
<rect x="532.9" y="411.5" width="6.0" height="8.9" fill="#3b518b"/>
<rect x="532.9" y="419.8" width="6.0" height="8.9" fill="#3b528b"/>
<rect x="532.9" y="428.1" width="6.0" height="8.9" fill="#375a8c"/>
<rect x="532.9" y="436.4" width="6.0" height="8.9" fill="#31678e"/>
<rect x="532.9" y="444.6" width="6.0" height="8.9" fill="#306a8e"/>
<rect x="532.9" y="452.9" width="6.0" height="8.9" fill="#2d718e"/>
<rect x="532.9" y="461.2" width="6.0" height="8.9" fill="#2b758e"/>
<rect x="532.9" y="469.5" width="6.0" height="8.9" fill="#29798e"/>
<rect x="532.9" y="477.8" width="6.0" height="8.9" fill="#25848e"/>
<rect x="532.9" y="486.1" width="6.0" height="8.9" fill="#228c8d"/>
<rect x="532.9" y="494.4" width="6.0" height="8.9" fill="#20928c"/>
<rect x="532.9" y="502.7" width="6.0" height="8.9" fill="#2ab07f"/>
<rect x="532.9" y="510.9" width="6.0" height="8.9" fill="#67cc5c"/>
<rect x="532.9" y="519.2" width="6.0" height="8.9" fill="#86d549"/>
<rect x="532.9" y="527.5" width="6.0" height="8.9" fill="#60ca60"/>
<rect x="532.9" y="535.8" width="6.0" height="8.9" fill="#40bd72"/>
<rect x="532.9" y="544.1" width="6.0" height="8.1" fill="#1fa287"/>
<rect x="532.9" y="551.6" width="6.0" height="8.1" fill="#1f9a8a"/>
<rect x="532.9" y="559.1" width="6.0" height="8.1" fill="#228b8d"/>
<rect x="532.9" y="566.7" width="6.0" height="8.1" fill="#25848e"/>
<rect x="532.9" y="574.2" width="6.0" height="8.1" fill="#2a788e"/>
<rect x="532.9" y="581.7" width="6.0" height="8.1" fill="#3a538b"/>
<rect x="532.9" y="589.2" width="6.0" height="8.1" fill="#472e7c"/>
<rect x="532.9" y="596.8" width="6.0" height="8.1" fill="#482475"/>
<rect x="538.4" y="394.9" width="6.0" height="8.9" fill="#472d7b"/>
<rect x="538.4" y="403.2" width="6.0" height="8.9" fill="#433d84"/>
<rect x="538.4" y="411.5" width="6.0" height="8.9" fill="#3d4e8a"/>
<rect x="538.4" y="419.8" width="6.0" height="8.9" fill="#34618d"/>
<rect x="538.4" y="428.1" width="6.0" height="8.9" fill="#3a538b"/>
<rect x="538.4" y="436.4" width="6.0" height="8.9" fill="#365d8d"/>
<rect x="538.4" y="444.6" width="6.0" height="8.9" fill="#355e8d"/>
<rect x="538.4" y="452.9" width="6.0" height="8.9" fill="#3b518b"/>
<rect x="538.4" y="461.2" width="6.0" height="8.9" fill="#3b528b"/>
<rect x="538.4" y="469.5" width="6.0" height="8.9" fill="#277f8e"/>
<rect x="538.4" y="477.8" width="6.0" height="8.9" fill="#25858e"/>
<rect x="538.4" y="486.1" width="6.0" height="8.9" fill="#228c8d"/>
<rect x="538.4" y="494.4" width="6.0" height="8.9" fill="#238a8d"/>
<rect x="538.4" y="502.7" width="6.0" height="8.9" fill="#2fb47c"/>
<rect x="538.4" y="510.9" width="6.0" height="8.9" fill="#70cf57"/>
<rect x="538.4" y="519.2" width="6.0" height="8.9" fill="#7cd250"/>
<rect x="538.4" y="527.5" width="6.0" height="8.9" fill="#69cd5b"/>
<rect x="538.4" y="535.8" width="6.0" height="8.9" fill="#3dbc74"/>
<rect x="538.4" y="544.1" width="6.0" height="8.1" fill="#20a386"/>
<rect x="538.4" y="551.6" width="6.0" height="8.1" fill="#1f998a"/>
<rect x="538.4" y="559.1" width="6.0" height="8.1" fill="#24868e"/>
<rect x="538.4" y="566.7" width="6.0" height="8.1" fill="#2a778e"/>
<rect x="538.4" y="574.2" width="6.0" height="8.1" fill="#32648e"/>
<rect x="538.4" y="581.7" width="6.0" height="8.1" fill="#3d4e8a"/>
<rect x="538.4" y="589.2" width="6.0" height="8.1" fill="#482173"/>
<rect x="538.4" y="596.8" width="6.0" height="8.1" fill="#481467"/>
<rect x="543.8" y="394.9" width="6.0" height="8.9" fill="#482979"/>
<rect x="543.8" y="403.2" width="6.0" height="8.9" fill="#3f4889"/>
<rect x="543.8" y="411.5" width="6.0" height="8.9" fill="#3c508b"/>
<rect x="543.8" y="419.8" width="6.0" height="8.9" fill="#38588c"/>
<rect x="543.8" y="428.1" width="6.0" height="8.9" fill="#375b8d"/>
<rect x="543.8" y="436.4" width="6.0" height="8.9" fill="#375a8c"/>
<rect x="543.8" y="444.6" width="6.0" height="8.9" fill="#365d8d"/>
<rect x="543.8" y="452.9" width="6.0" height="8.9" fill="#34608d"/>
<rect x="543.8" y="461.2" width="6.0" height="8.9" fill="#3a548c"/>
<rect x="543.8" y="469.5" width="6.0" height="8.9" fill="#26818e"/>
<rect x="543.8" y="477.8" width="6.0" height="8.9" fill="#24878e"/>
<rect x="543.8" y="486.1" width="6.0" height="8.9" fill="#20928c"/>
<rect x="543.8" y="494.4" width="6.0" height="8.9" fill="#1f958b"/>
<rect x="543.8" y="502.7" width="6.0" height="8.9" fill="#2db27d"/>
<rect x="543.8" y="510.9" width="6.0" height="8.9" fill="#63cb5f"/>
<rect x="543.8" y="519.2" width="6.0" height="8.9" fill="#89d548"/>
<rect x="543.8" y="527.5" width="6.0" height="8.9" fill="#69cd5b"/>
<rect x="543.8" y="535.8" width="6.0" height="8.9" fill="#3fbc73"/>
<rect x="543.8" y="544.1" width="6.0" height="8.1" fill="#21a685"/>
<rect x="543.8" y="551.6" width="6.0" height="8.1" fill="#1f948c"/>
<rect x="543.8" y="559.1" width="6.0" height="8.1" fill="#23898e"/>
<rect x="543.8" y="566.7" width="6.0" height="8.1" fill="#297a8e"/>
<rect x="543.8" y="574.2" width="6.0" height="8.1" fill="#32648e"/>
<rect x="543.8" y="581.7" width="6.0" height="8.1" fill="#3b528b"/>
<rect x="543.8" y="589.2" width="6.0" height="8.1" fill="#46337f"/>
<rect x="543.8" y="596.8" width="6.0" height="8.1" fill="#440154"/>
<line x1="51.30" y1="603.79" x2="555.40" y2="603.79" stroke="#000" stroke-width="0.90" stroke-dasharray="1.5 1.2" stroke-opacity="0.7"/>
<line x1="51.30" y1="590.72" x2="555.40" y2="590.72" stroke="#000" stroke-width="0.90" stroke-dasharray="1.5 1.2" stroke-opacity="0.7"/>
<line x1="51.30" y1="580.59" x2="555.40" y2="580.59" stroke="#000" stroke-width="0.90" stroke-dasharray="1.5 1.2" stroke-opacity="0.7"/>
<line x1="51.30" y1="572.31" x2="555.40" y2="572.31" stroke="#000" stroke-width="0.90" stroke-dasharray="1.5 1.2" stroke-opacity="0.7"/>
<line x1="51.30" y1="565.30" x2="555.40" y2="565.30" stroke="#000" stroke-width="0.90" stroke-dasharray="1.5 1.2" stroke-opacity="0.7"/>
<line x1="51.30" y1="559.24" x2="555.40" y2="559.24" stroke="#000" stroke-width="0.90" stroke-dasharray="1.5 1.2" stroke-opacity="0.7"/>
<line x1="51.30" y1="553.89" x2="555.40" y2="553.89" stroke="#000" stroke-width="0.90" stroke-dasharray="1.5 1.2" stroke-opacity="0.7"/>
<line x1="51.30" y1="549.10" x2="555.40" y2="549.10" stroke="#000" stroke-width="0.90" stroke-dasharray="1.5 1.2" stroke-opacity="0.7"/>
<line x1="51.30" y1="517.61" x2="555.40" y2="517.61" stroke="#000" stroke-width="0.90" stroke-dasharray="1.5 1.2" stroke-opacity="0.7"/>
<line x1="51.30" y1="499.19" x2="555.40" y2="499.19" stroke="#000" stroke-width="0.90" stroke-dasharray="1.5 1.2" stroke-opacity="0.7"/>
<line x1="51.30" y1="486.12" x2="555.40" y2="486.12" stroke="#000" stroke-width="0.90" stroke-dasharray="1.5 1.2" stroke-opacity="0.7"/>
<line x1="51.30" y1="475.99" x2="555.40" y2="475.99" stroke="#000" stroke-width="0.90" stroke-dasharray="1.5 1.2" stroke-opacity="0.7"/>
<line x1="51.30" y1="467.71" x2="555.40" y2="467.71" stroke="#000" stroke-width="0.90" stroke-dasharray="1.5 1.2" stroke-opacity="0.7"/>
<line x1="51.30" y1="460.70" x2="555.40" y2="460.70" stroke="#000" stroke-width="0.90" stroke-dasharray="1.5 1.2" stroke-opacity="0.7"/>
<line x1="51.30" y1="454.64" x2="555.40" y2="454.64" stroke="#000" stroke-width="0.90" stroke-dasharray="1.5 1.2" stroke-opacity="0.7"/>
<line x1="51.30" y1="449.29" x2="555.40" y2="449.29" stroke="#000" stroke-width="0.90" stroke-dasharray="1.5 1.2" stroke-opacity="0.7"/>
<line x1="51.30" y1="444.50" x2="555.40" y2="444.50" stroke="#000" stroke-width="0.90" stroke-dasharray="1.5 1.2" stroke-opacity="0.7"/>
<line x1="51.30" y1="413.01" x2="555.40" y2="413.01" stroke="#000" stroke-width="0.90" stroke-dasharray="1.5 1.2" stroke-opacity="0.7"/>
<line x1="51.30" y1="394.59" x2="555.40" y2="394.59" stroke="#000" stroke-width="0.90" stroke-dasharray="1.5 1.2" stroke-opacity="0.7"/>
<line x1="51.30" y1="381.52" x2="555.40" y2="381.52" stroke="#000" stroke-width="0.90" stroke-dasharray="1.5 1.2" stroke-opacity="0.7"/>
<line x1="51.30" y1="371.39" x2="555.40" y2="371.39" stroke="#000" stroke-width="0.90" stroke-dasharray="1.5 1.2" stroke-opacity="0.7"/>
<line x1="87.40" y1="371.20" x2="87.40" y2="611.80" stroke="#000" stroke-width="0.90" stroke-dasharray="1.5 1.2" stroke-opacity="0.7"/>
<line x1="153.11" y1="371.20" x2="153.11" y2="611.80" stroke="#000" stroke-width="0.90" stroke-dasharray="1.5 1.2" stroke-opacity="0.7"/>
<line x1="218.82" y1="371.20" x2="218.82" y2="611.80" stroke="#000" stroke-width="0.90" stroke-dasharray="1.5 1.2" stroke-opacity="0.7"/>
<line x1="284.53" y1="371.20" x2="284.53" y2="611.80" stroke="#000" stroke-width="0.90" stroke-dasharray="1.5 1.2" stroke-opacity="0.7"/>
<line x1="350.24" y1="371.20" x2="350.24" y2="611.80" stroke="#000" stroke-width="0.90" stroke-dasharray="1.5 1.2" stroke-opacity="0.7"/>
<line x1="415.95" y1="371.20" x2="415.95" y2="611.80" stroke="#000" stroke-width="0.90" stroke-dasharray="1.5 1.2" stroke-opacity="0.7"/>
<line x1="481.66" y1="371.20" x2="481.66" y2="611.80" stroke="#000" stroke-width="0.90" stroke-dasharray="1.5 1.2" stroke-opacity="0.7"/>
<line x1="547.37" y1="371.20" x2="547.37" y2="611.80" stroke="#000" stroke-width="0.90" stroke-dasharray="1.5 1.2" stroke-opacity="0.7"/>
<path d="M52.60,608.90 C56.90,608.97 73.37,609.05 78.40,609.30 C83.43,609.55 75.87,610.22 82.80,610.40 C89.73,610.58 101.30,610.53 120.00,610.40 C138.70,610.27 173.12,609.73 195.00,609.60 C216.88,609.47 240.57,609.95 251.30,609.60 C262.03,609.25 256.48,608.30 259.40,607.50 C262.32,606.70 266.12,606.02 268.80,604.80 C271.48,603.58 273.58,601.87 275.50,600.20 C277.42,598.53 278.87,597.38 280.30,594.80 C281.73,592.22 283.12,588.63 284.10,584.70 C285.08,580.77 285.40,577.92 286.20,571.20 C287.00,564.48 287.92,552.00 288.90,544.40 C289.88,536.80 291.12,530.52 292.10,525.60 C293.08,520.68 293.77,519.37 294.80,514.90 C295.83,510.43 297.13,502.92 298.30,498.80 C299.47,494.68 300.68,491.00 301.80,490.20 C302.92,489.40 304.02,492.57 305.00,494.00 C305.98,495.43 306.80,496.57 307.70,498.80 C308.60,501.03 309.50,506.95 310.40,507.40 C311.30,507.85 312.22,503.73 313.10,501.50 C313.98,499.27 314.72,495.88 315.70,494.00 C316.68,492.12 318.10,492.98 319.00,490.20 C319.90,487.42 320.08,483.02 321.10,477.30 C322.12,471.58 323.75,462.15 325.10,455.90 C326.45,449.65 327.85,445.17 329.20,439.80 C330.55,434.43 331.95,428.18 333.20,423.70 C334.45,419.22 335.58,414.02 336.70,412.90 C337.82,411.78 338.92,415.30 339.90,417.00 C340.88,418.70 341.68,422.22 342.60,423.10 C343.52,423.98 344.27,422.65 345.40,422.30 C346.53,421.95 348.07,422.20 349.40,421.00 C350.73,419.80 352.28,415.55 353.40,415.10 C354.52,414.65 354.98,415.75 356.10,418.30 C357.22,420.85 358.53,425.48 360.10,430.40 C361.67,435.32 363.48,442.88 365.50,447.80 C367.52,452.72 370.18,454.53 372.20,459.90 C374.22,465.27 376.03,473.52 377.60,480.00 C379.17,486.48 380.48,492.08 381.60,498.80 C382.72,505.52 383.40,513.15 384.30,520.30 C385.20,527.45 385.88,537.02 387.00,541.70 C388.12,546.38 389.67,546.97 391.00,548.40 C392.33,549.83 393.67,551.05 395.00,550.30 C396.33,549.55 397.43,547.12 399.00,543.90 C400.57,540.68 402.83,537.18 404.40,531.00 C405.97,524.82 407.07,511.50 408.40,506.80 C409.73,502.10 411.05,503.23 412.40,502.80 C413.75,502.37 415.15,506.22 416.50,504.20 C417.85,502.18 419.17,493.38 420.50,490.70 C421.83,488.02 423.17,488.32 424.50,488.10 C425.83,487.88 427.15,490.38 428.50,489.40 C429.85,488.42 431.25,482.87 432.60,482.20 C433.95,481.53 435.27,483.62 436.60,485.40 C437.93,487.18 439.27,492.10 440.60,492.90 C441.93,493.70 443.03,489.30 444.60,490.20 C446.17,491.10 448.20,496.20 450.00,498.30 C451.80,500.40 453.73,501.38 455.40,502.80 C457.07,504.22 458.33,505.77 460.00,506.80 C461.67,507.83 463.62,508.32 465.40,509.00 C467.18,509.68 469.13,509.70 470.70,510.90 C472.27,512.10 473.45,514.42 474.80,516.20 C476.15,517.98 477.47,520.38 478.80,521.60 C480.13,522.82 481.47,521.48 482.80,523.50 C484.13,525.52 485.45,530.67 486.80,533.70 C488.15,536.73 489.33,539.70 490.90,541.70 C492.47,543.70 494.65,544.80 496.20,545.70 C497.75,546.60 498.63,547.32 500.20,547.10 C501.77,546.88 503.80,545.30 505.60,544.40 C507.40,543.50 508.98,542.37 511.00,541.70 C513.02,541.03 515.68,541.28 517.70,540.40 C519.72,539.52 521.32,537.62 523.10,536.40 C524.88,535.18 526.85,532.88 528.40,533.10 C529.95,533.32 531.05,535.37 532.40,537.70 C533.75,540.03 535.15,545.18 536.50,547.10 C537.85,549.02 539.17,548.75 540.50,549.20 C541.83,549.65 543.17,549.80 544.50,549.80 C545.83,549.80 547.83,549.30 548.50,549.20" fill="none" stroke="#ff0000" stroke-width="2.15" stroke-linejoin="round" stroke-opacity="0.92"/>
<line x1="380.30" y1="611.80" x2="380.30" y2="371.20" stroke="#000" stroke-opacity="0.50" stroke-width="3.1" stroke-dasharray="11.3 5.63"/>
<line x1="407.40" y1="611.80" x2="407.40" y2="371.20" stroke="#000" stroke-opacity="0.50" stroke-width="3.1" stroke-dasharray="11.3 5.63"/>
</g>
<rect x="57.20" y="377.20" width="227.70" height="20.90" rx="2.5" fill="#fff" fill-opacity="0.8" stroke="#cccccc" stroke-opacity="0.5" stroke-width="1"/>
<line x1="61.30" y1="386.90" x2="87.60" y2="386.90" stroke="#ff0000" stroke-width="2.15" stroke-opacity="0.92"/>
<text x="96.00" y="391.00" font-size="12.48" stroke="#1a1a1a" stroke-width="0.12" fill="#1a1a1a" textLength="181.92" lengthAdjust="spacingAndGlyphs">Particle number concentration</text>
<rect x="51.30" y="371.20" width="504.10" height="240.60" fill="none" stroke="#262626" stroke-width="1.0"/>
<line x1="87.40" y1="611.80" x2="87.40" y2="617.30" stroke="#262626" stroke-width="1.00"/>
<line x1="153.11" y1="611.80" x2="153.11" y2="617.30" stroke="#262626" stroke-width="1.00"/>
<line x1="218.82" y1="611.80" x2="218.82" y2="617.30" stroke="#262626" stroke-width="1.00"/>
<line x1="284.53" y1="611.80" x2="284.53" y2="617.30" stroke="#262626" stroke-width="1.00"/>
<line x1="350.24" y1="611.80" x2="350.24" y2="617.30" stroke="#262626" stroke-width="1.00"/>
<line x1="415.95" y1="611.80" x2="415.95" y2="617.30" stroke="#262626" stroke-width="1.00"/>
<line x1="481.66" y1="611.80" x2="481.66" y2="617.30" stroke="#262626" stroke-width="1.00"/>
<line x1="547.37" y1="611.80" x2="547.37" y2="617.30" stroke="#262626" stroke-width="1.00"/>
<line x1="45.80" y1="549.10" x2="51.30" y2="549.10" stroke="#262626" stroke-width="1.00"/>
<line x1="45.80" y1="444.50" x2="51.30" y2="444.50" stroke="#262626" stroke-width="1.00"/>
<line x1="48.10" y1="603.79" x2="51.30" y2="603.79" stroke="#262626" stroke-width="1.00"/>
<line x1="48.10" y1="590.72" x2="51.30" y2="590.72" stroke="#262626" stroke-width="1.00"/>
<line x1="48.10" y1="580.59" x2="51.30" y2="580.59" stroke="#262626" stroke-width="1.00"/>
<line x1="48.10" y1="572.31" x2="51.30" y2="572.31" stroke="#262626" stroke-width="1.00"/>
<line x1="48.10" y1="565.30" x2="51.30" y2="565.30" stroke="#262626" stroke-width="1.00"/>
<line x1="48.10" y1="559.24" x2="51.30" y2="559.24" stroke="#262626" stroke-width="1.00"/>
<line x1="48.10" y1="553.89" x2="51.30" y2="553.89" stroke="#262626" stroke-width="1.00"/>
<line x1="48.10" y1="517.61" x2="51.30" y2="517.61" stroke="#262626" stroke-width="1.00"/>
<line x1="48.10" y1="499.19" x2="51.30" y2="499.19" stroke="#262626" stroke-width="1.00"/>
<line x1="48.10" y1="486.12" x2="51.30" y2="486.12" stroke="#262626" stroke-width="1.00"/>
<line x1="48.10" y1="475.99" x2="51.30" y2="475.99" stroke="#262626" stroke-width="1.00"/>
<line x1="48.10" y1="467.71" x2="51.30" y2="467.71" stroke="#262626" stroke-width="1.00"/>
<line x1="48.10" y1="460.70" x2="51.30" y2="460.70" stroke="#262626" stroke-width="1.00"/>
<line x1="48.10" y1="454.64" x2="51.30" y2="454.64" stroke="#262626" stroke-width="1.00"/>
<line x1="48.10" y1="449.29" x2="51.30" y2="449.29" stroke="#262626" stroke-width="1.00"/>
<line x1="48.10" y1="413.01" x2="51.30" y2="413.01" stroke="#262626" stroke-width="1.00"/>
<line x1="48.10" y1="394.59" x2="51.30" y2="394.59" stroke="#262626" stroke-width="1.00"/>
<line x1="48.10" y1="381.52" x2="51.30" y2="381.52" stroke="#262626" stroke-width="1.00"/>
<line x1="48.10" y1="371.39" x2="51.30" y2="371.39" stroke="#262626" stroke-width="1.00"/>
<text x="22.79" y="448.80" font-size="12.48" stroke="#1a1a1a" stroke-width="0.12" fill="#1a1a1a" textLength="15.27" lengthAdjust="spacingAndGlyphs">10</text>
<text x="38.06" y="444.50" font-size="8.74" fill="#1a1a1a" textLength="5.34" lengthAdjust="spacingAndGlyphs">2</text>
<text x="22.79" y="553.40" font-size="12.48" stroke="#1a1a1a" stroke-width="0.12" fill="#1a1a1a" textLength="15.27" lengthAdjust="spacingAndGlyphs">10</text>
<text x="38.06" y="549.10" font-size="8.74" fill="#1a1a1a" textLength="5.34" lengthAdjust="spacingAndGlyphs">1</text>
<line x1="555.40" y1="611.50" x2="560.90" y2="611.50" stroke="#262626" stroke-width="1.00"/>
<line x1="555.40" y1="581.56" x2="560.90" y2="581.56" stroke="#262626" stroke-width="1.00"/>
<line x1="555.40" y1="551.62" x2="560.90" y2="551.62" stroke="#262626" stroke-width="1.00"/>
<line x1="555.40" y1="521.69" x2="560.90" y2="521.69" stroke="#262626" stroke-width="1.00"/>
<line x1="555.40" y1="491.75" x2="560.90" y2="491.75" stroke="#262626" stroke-width="1.00"/>
<line x1="555.40" y1="461.81" x2="560.90" y2="461.81" stroke="#262626" stroke-width="1.00"/>
<line x1="555.40" y1="431.88" x2="560.90" y2="431.88" stroke="#262626" stroke-width="1.00"/>
<line x1="555.40" y1="401.94" x2="560.90" y2="401.94" stroke="#262626" stroke-width="1.00"/>
<line x1="555.40" y1="372.00" x2="560.90" y2="372.00" stroke="#262626" stroke-width="1.00"/>
<text x="564.00" y="615.80" font-size="12.48" stroke="#1a1a1a" stroke-width="0.12" fill="#1a1a1a" textLength="7.63" lengthAdjust="spacingAndGlyphs">0</text>
<text x="564.00" y="585.86" font-size="12.48" stroke="#1a1a1a" stroke-width="0.12" fill="#1a1a1a" textLength="30.54" lengthAdjust="spacingAndGlyphs">2500</text>
<text x="564.00" y="555.92" font-size="12.48" stroke="#1a1a1a" stroke-width="0.12" fill="#1a1a1a" textLength="30.54" lengthAdjust="spacingAndGlyphs">5000</text>
<text x="564.00" y="525.99" font-size="12.48" stroke="#1a1a1a" stroke-width="0.12" fill="#1a1a1a" textLength="30.54" lengthAdjust="spacingAndGlyphs">7500</text>
<text x="564.00" y="496.05" font-size="12.48" stroke="#1a1a1a" stroke-width="0.12" fill="#1a1a1a" textLength="38.17" lengthAdjust="spacingAndGlyphs">10000</text>
<text x="564.00" y="466.11" font-size="12.48" stroke="#1a1a1a" stroke-width="0.12" fill="#1a1a1a" textLength="38.17" lengthAdjust="spacingAndGlyphs">12500</text>
<text x="564.00" y="436.18" font-size="12.48" stroke="#1a1a1a" stroke-width="0.12" fill="#1a1a1a" textLength="38.17" lengthAdjust="spacingAndGlyphs">15000</text>
<text x="564.00" y="406.24" font-size="12.48" stroke="#1a1a1a" stroke-width="0.12" fill="#1a1a1a" textLength="38.17" lengthAdjust="spacingAndGlyphs">17500</text>
<text x="564.00" y="376.30" font-size="12.48" stroke="#1a1a1a" stroke-width="0.12" fill="#1a1a1a" textLength="38.17" lengthAdjust="spacingAndGlyphs">20000</text>
<text x="36.40" y="367.30" font-size="12.48" font-weight="bold" stroke="#1a1a1a" stroke-width="0.35" fill="#1a1a1a" textLength="14.29" lengthAdjust="spacingAndGlyphs">C)</text>
<g transform="translate(17.4,491.4) rotate(-90)"><text x="0.00" y="0.00" font-size="12.48" text-anchor="middle" font-weight="bold" stroke="#1a1a1a" stroke-width="0.35" fill="#1a1a1a" textLength="154.69" lengthAdjust="spacingAndGlyphs">Particle Diameter [nm]</text></g>
<g transform="translate(615.4,491.0) rotate(-90)"><text x="-134.32" y="0.00" font-size="12.48" font-weight="bold" stroke="#ff0000" stroke-width="0.35" fill="#ff0000" textLength="250.28" lengthAdjust="spacingAndGlyphs">Particle number concentration [#·cm</text><text x="115.96" y="-4.60" font-size="8.74" font-weight="bold" stroke="#ff0000" stroke-width="0.35" fill="#ff0000" textLength="12.88" lengthAdjust="spacingAndGlyphs">−3</text><text x="128.84" y="0.00" font-size="12.48" font-weight="bold" stroke="#ff0000" stroke-width="0.35" fill="#ff0000" textLength="5.48" lengthAdjust="spacingAndGlyphs">]</text></g>
<linearGradient id="gC" x1="0" y1="0" x2="0" y2="1"><stop offset="0.00" stop-color="#fde725"/><stop offset="0.10" stop-color="#bddf26"/><stop offset="0.20" stop-color="#7ad151"/><stop offset="0.30" stop-color="#44bf70"/><stop offset="0.40" stop-color="#22a884"/><stop offset="0.50" stop-color="#21918c"/><stop offset="0.60" stop-color="#2a788e"/><stop offset="0.70" stop-color="#355f8d"/><stop offset="0.80" stop-color="#414487"/><stop offset="0.90" stop-color="#482475"/><stop offset="1.00" stop-color="#440154"/></linearGradient>
<rect x="624.40" y="389.30" width="10.30" height="204.20" fill="url(#gC)" stroke="#262626" stroke-width="0.9"/>
<line x1="634.70" y1="593.50" x2="640.20" y2="593.50" stroke="#262626" stroke-width="1.00"/>
<line x1="634.70" y1="578.15" x2="637.90" y2="578.15" stroke="#262626" stroke-width="0.90"/>
<line x1="634.70" y1="569.17" x2="637.90" y2="569.17" stroke="#262626" stroke-width="0.90"/>
<line x1="634.70" y1="562.79" x2="637.90" y2="562.79" stroke="#262626" stroke-width="0.90"/>
<line x1="634.70" y1="557.85" x2="637.90" y2="557.85" stroke="#262626" stroke-width="0.90"/>
<line x1="634.70" y1="553.81" x2="637.90" y2="553.81" stroke="#262626" stroke-width="0.90"/>
<line x1="634.70" y1="550.40" x2="637.90" y2="550.40" stroke="#262626" stroke-width="0.90"/>
<line x1="634.70" y1="547.44" x2="637.90" y2="547.44" stroke="#262626" stroke-width="0.90"/>
<line x1="634.70" y1="544.83" x2="637.90" y2="544.83" stroke="#262626" stroke-width="0.90"/>
<line x1="634.70" y1="542.50" x2="640.20" y2="542.50" stroke="#262626" stroke-width="1.00"/>
<line x1="634.70" y1="527.15" x2="637.90" y2="527.15" stroke="#262626" stroke-width="0.90"/>
<line x1="634.70" y1="518.17" x2="637.90" y2="518.17" stroke="#262626" stroke-width="0.90"/>
<line x1="634.70" y1="511.79" x2="637.90" y2="511.79" stroke="#262626" stroke-width="0.90"/>
<line x1="634.70" y1="506.85" x2="637.90" y2="506.85" stroke="#262626" stroke-width="0.90"/>
<line x1="634.70" y1="502.81" x2="637.90" y2="502.81" stroke="#262626" stroke-width="0.90"/>
<line x1="634.70" y1="499.40" x2="637.90" y2="499.40" stroke="#262626" stroke-width="0.90"/>
<line x1="634.70" y1="496.44" x2="637.90" y2="496.44" stroke="#262626" stroke-width="0.90"/>
<line x1="634.70" y1="493.83" x2="637.90" y2="493.83" stroke="#262626" stroke-width="0.90"/>
<line x1="634.70" y1="491.50" x2="640.20" y2="491.50" stroke="#262626" stroke-width="1.00"/>
<line x1="634.70" y1="476.15" x2="637.90" y2="476.15" stroke="#262626" stroke-width="0.90"/>
<line x1="634.70" y1="467.17" x2="637.90" y2="467.17" stroke="#262626" stroke-width="0.90"/>
<line x1="634.70" y1="460.79" x2="637.90" y2="460.79" stroke="#262626" stroke-width="0.90"/>
<line x1="634.70" y1="455.85" x2="637.90" y2="455.85" stroke="#262626" stroke-width="0.90"/>
<line x1="634.70" y1="451.81" x2="637.90" y2="451.81" stroke="#262626" stroke-width="0.90"/>
<line x1="634.70" y1="448.40" x2="637.90" y2="448.40" stroke="#262626" stroke-width="0.90"/>
<line x1="634.70" y1="445.44" x2="637.90" y2="445.44" stroke="#262626" stroke-width="0.90"/>
<line x1="634.70" y1="442.83" x2="637.90" y2="442.83" stroke="#262626" stroke-width="0.90"/>
<line x1="634.70" y1="440.50" x2="640.20" y2="440.50" stroke="#262626" stroke-width="1.00"/>
<line x1="634.70" y1="425.15" x2="637.90" y2="425.15" stroke="#262626" stroke-width="0.90"/>
<line x1="634.70" y1="416.17" x2="637.90" y2="416.17" stroke="#262626" stroke-width="0.90"/>
<line x1="634.70" y1="409.79" x2="637.90" y2="409.79" stroke="#262626" stroke-width="0.90"/>
<line x1="634.70" y1="404.85" x2="637.90" y2="404.85" stroke="#262626" stroke-width="0.90"/>
<line x1="634.70" y1="400.81" x2="637.90" y2="400.81" stroke="#262626" stroke-width="0.90"/>
<line x1="634.70" y1="397.40" x2="637.90" y2="397.40" stroke="#262626" stroke-width="0.90"/>
<line x1="634.70" y1="394.44" x2="637.90" y2="394.44" stroke="#262626" stroke-width="0.90"/>
<line x1="634.70" y1="391.83" x2="637.90" y2="391.83" stroke="#262626" stroke-width="0.90"/>
<line x1="634.70" y1="389.50" x2="640.20" y2="389.50" stroke="#262626" stroke-width="1.00"/>
<text x="644.50" y="597.80" font-size="12.48" stroke="#1a1a1a" stroke-width="0.12" fill="#1a1a1a" textLength="15.27" lengthAdjust="spacingAndGlyphs">10</text>
<text x="659.77" y="593.50" font-size="8.74" fill="#1a1a1a" textLength="5.34" lengthAdjust="spacingAndGlyphs">0</text>
<text x="644.50" y="546.80" font-size="12.48" stroke="#1a1a1a" stroke-width="0.12" fill="#1a1a1a" textLength="15.27" lengthAdjust="spacingAndGlyphs">10</text>
<text x="659.77" y="542.50" font-size="8.74" fill="#1a1a1a" textLength="5.34" lengthAdjust="spacingAndGlyphs">1</text>
<text x="644.50" y="495.80" font-size="12.48" stroke="#1a1a1a" stroke-width="0.12" fill="#1a1a1a" textLength="15.27" lengthAdjust="spacingAndGlyphs">10</text>
<text x="659.77" y="491.50" font-size="8.74" fill="#1a1a1a" textLength="5.34" lengthAdjust="spacingAndGlyphs">2</text>
<text x="644.50" y="444.80" font-size="12.48" stroke="#1a1a1a" stroke-width="0.12" fill="#1a1a1a" textLength="15.27" lengthAdjust="spacingAndGlyphs">10</text>
<text x="659.77" y="440.50" font-size="8.74" fill="#1a1a1a" textLength="5.34" lengthAdjust="spacingAndGlyphs">3</text>
<text x="644.50" y="393.80" font-size="12.48" stroke="#1a1a1a" stroke-width="0.12" fill="#1a1a1a" textLength="15.27" lengthAdjust="spacingAndGlyphs">10</text>
<text x="659.77" y="389.50" font-size="8.74" fill="#1a1a1a" textLength="5.34" lengthAdjust="spacingAndGlyphs">4</text>
<g transform="translate(677.90,491.60) rotate(-90)"><text x="-59.38" y="0.00" font-size="12.48" font-weight="bold" stroke="#1a1a1a" stroke-width="0.35" fill="#1a1a1a" textLength="100.39" lengthAdjust="spacingAndGlyphs">dN/dlogDp [cm</text><text x="41.01" y="-4.60" font-size="8.74" font-weight="bold" stroke="#1a1a1a" stroke-width="0.35" fill="#1a1a1a" textLength="12.88" lengthAdjust="spacingAndGlyphs">−3</text><text x="53.89" y="0.00" font-size="12.48" font-weight="bold" stroke="#1a1a1a" stroke-width="0.35" fill="#1a1a1a" textLength="5.48" lengthAdjust="spacingAndGlyphs">]</text></g>
</g>
<g id="D">
<line x1="51.30" y1="655.27" x2="555.40" y2="655.27" stroke="#d4d4d4" stroke-width="1.00"/>
<line x1="51.30" y1="726.10" x2="555.40" y2="726.10" stroke="#d4d4d4" stroke-width="1.00"/>
<line x1="51.30" y1="796.93" x2="555.40" y2="796.93" stroke="#d4d4d4" stroke-width="1.00"/>
<line x1="51.30" y1="867.76" x2="555.40" y2="867.76" stroke="#d4d4d4" stroke-width="1.00"/>
<line x1="87.40" y1="637.70" x2="87.40" y2="877.90" stroke="#d4d4d4" stroke-width="1.00"/>
<line x1="153.11" y1="637.70" x2="153.11" y2="877.90" stroke="#d4d4d4" stroke-width="1.00"/>
<line x1="218.82" y1="637.70" x2="218.82" y2="877.90" stroke="#d4d4d4" stroke-width="1.00"/>
<line x1="284.53" y1="637.70" x2="284.53" y2="877.90" stroke="#d4d4d4" stroke-width="1.00"/>
<line x1="350.24" y1="637.70" x2="350.24" y2="877.90" stroke="#d4d4d4" stroke-width="1.00"/>
<line x1="415.95" y1="637.70" x2="415.95" y2="877.90" stroke="#d4d4d4" stroke-width="1.00"/>
<line x1="481.66" y1="637.70" x2="481.66" y2="877.90" stroke="#d4d4d4" stroke-width="1.00"/>
<line x1="547.37" y1="637.70" x2="547.37" y2="877.90" stroke="#d4d4d4" stroke-width="1.00"/>
<clipPath id="cD"><rect x="51.30" y="637.70" width="504.10" height="240.20"/></clipPath>
<g clip-path="url(#cD)">
<polyline points="59.5,846.3 64.9,842.8 70.4,861.5 75.9,833.9 81.4,863.7 86.8,859.7 92.3,833.9 97.8,850.3 103.3,858.9" fill="none" stroke="#228b22" stroke-width="2.00" stroke-linejoin="round" stroke-linecap="butt"/>
<polyline points="114.2,842.8 119.7,846.8 125.1,857.0 130.6,866.1 136.1,853.5 141.6,860.2" fill="none" stroke="#228b22" stroke-width="2.00" stroke-linejoin="round" stroke-linecap="butt"/>
<polyline points="152.5,848.1 158.0,854.3" fill="none" stroke="#228b22" stroke-width="2.00" stroke-linejoin="round" stroke-linecap="butt"/>
<polyline points="174.4,865.0 179.9,846.8 185.3,858.9 190.8,840.9 196.3,865.6" fill="none" stroke="#228b22" stroke-width="2.00" stroke-linejoin="round" stroke-linecap="butt"/>
<polyline points="207.2,852.2 212.7,849.0" fill="none" stroke="#228b22" stroke-width="2.00" stroke-linejoin="round" stroke-linecap="butt"/>
<polyline points="234.6,840.9 240.1,846.8 245.5,832.0 251.0,807.9 256.5,783.8 262.0,770.4 267.4,781.9 272.9,811.9 278.4,804.4 283.8,771.7 289.3,779.8 294.8,727.5 300.3,732.1 305.7,799.1 311.2,784.6 316.7,778.4 322.2,781.9 327.6,763.2 333.1,722.1 338.6,765.0 344.0,779.2 349.5,777.6 355.0,781.1 360.5,728.8 365.9,724.8 371.4,696.7 376.9,649.7 382.4,674.7 387.8,674.7 393.3,672.0 398.8,661.8 404.2,647.9 409.7,648.9 415.2,651.6 420.7,711.4 426.1,660.5 431.6,704.2 437.1,721.3 442.5,657.8 448.0,694.5 453.5,698.0 459.0,710.1 464.4,736.9 469.9,700.7 475.4,686.5 480.9,655.1 486.3,669.9 491.8,676.6 497.3,673.1 502.7,678.4 508.2,720.8 513.7,755.6 519.2,763.2 524.6,734.2 530.1,743.6 535.6,767.7 541.1,769.6 546.5,786.5" fill="none" stroke="#228b22" stroke-width="2.00" stroke-linejoin="round" stroke-linecap="butt"/>
<polyline points="54.0,761.0 59.5,783.8 64.9,773.1 70.4,770.4 75.9,755.6 81.4,753.0 86.8,750.3 92.3,747.6 97.8,734.2 103.3,740.9 108.7,728.8 114.2,725.6 119.7,729.4 125.1,722.1 130.6,707.4 136.1,716.8 141.6,701.5 147.0,702.6 152.5,694.5 158.0,696.1 163.4,679.2 168.9,683.8 174.4,675.2 179.9,680.6 185.3,677.9 190.8,676.6 196.3,674.7 201.8,672.5 207.2,668.5 212.7,664.5 218.2,661.3 223.6,657.8 229.1,655.1 234.6,653.2 240.1,647.5 262.0,677.9 267.4,659.7 272.9,651.6 278.4,659.1 283.8,658.6 289.3,655.9 294.8,657.0 300.3,661.0 305.7,658.6 311.2,660.5 316.7,659.1 322.2,667.7 327.6,666.4 333.1,664.5 338.6,667.7 344.0,669.9 349.5,673.9 355.0,665.0 360.5,664.0 365.9,667.7 371.4,667.2 376.9,718.1 382.4,741.7 387.8,727.5 393.3,752.4 398.8,730.2 404.2,709.5 409.7,707.9 415.2,691.3 420.7,669.3 426.1,678.2 431.6,668.5 437.1,669.0 442.5,677.1 448.0,675.8 453.5,683.3 459.0,683.8 464.4,691.8 469.9,689.4 475.4,700.7 480.9,706.9 486.3,716.0 491.8,718.6 497.3,721.3 502.7,730.2 508.2,724.0 513.7,756.2 519.2,761.0 524.6,762.3 530.1,769.0 535.6,772.3 541.1,748.1 546.5,756.2" fill="none" stroke="#ff0000" stroke-width="2.00" stroke-linejoin="round" stroke-linecap="butt"/>
<polyline points="54.0,698.5 59.5,702.6 64.9,715.4 70.4,727.5 75.9,753.0 81.4,757.0 86.8,755.1 92.3,748.9 97.8,745.5 103.3,750.3 108.7,754.8 114.2,748.1 119.7,748.1 125.1,742.2 130.6,723.5 136.1,741.7 141.6,739.6 147.0,727.5 152.5,724.8 158.0,721.3 163.4,712.2 168.9,714.1 174.4,703.4 179.9,715.4 185.3,713.3 190.8,712.2 196.3,706.9 201.8,711.4 207.2,706.9 212.7,703.4 218.2,700.7 223.6,698.0 229.1,695.3 234.6,691.8 240.1,702.0 245.5,690.0 251.0,689.4 256.5,710.1 262.0,718.6 267.4,705.2 272.9,698.8 278.4,698.0 283.8,718.6 289.3,710.6 294.8,709.5 300.3,713.3 305.7,711.9 311.2,712.7 316.7,713.6 322.2,716.0 327.6,726.7 333.1,720.3 338.6,715.4 344.0,720.8 349.5,726.7 355.0,720.3 360.5,709.5 365.9,715.4 371.4,720.3 376.9,738.2 382.4,758.9 387.8,761.5 393.3,795.3 398.8,749.0 404.2,735.5 409.7,732.9 415.2,727.5 420.7,721.3 426.1,714.1 431.6,726.2 437.1,732.1 442.5,720.3 448.0,718.6 453.5,727.5 459.0,726.2 464.4,740.9 469.9,729.6 475.4,728.8 480.9,727.5 486.3,741.7 491.8,742.2 497.3,744.9 502.7,781.1 508.2,772.3 513.7,768.2 519.2,777.1 524.6,808.7 530.1,793.2 535.6,783.8 541.1,781.1 546.5,777.6" fill="none" stroke="#0000ff" stroke-width="2.00" stroke-linejoin="round" stroke-linecap="butt"/>
<polyline points="54.0,748.1 59.5,753.5 64.9,755.1 70.4,743.6 75.9,731.5 81.4,732.9 86.8,728.8 92.3,735.0 97.8,728.8 103.3,738.2 108.7,733.4 114.2,738.2 119.7,747.6 125.1,741.4 130.6,726.2 136.1,741.7 141.6,748.9 147.0,742.8 152.5,743.0 158.0,745.5 163.4,755.1 168.9,754.3 174.4,757.0 179.9,757.0 185.3,761.5 190.8,758.9 196.3,790.0 201.8,748.1 234.6,756.2 240.1,841.4 245.5,757.8 251.0,779.8 256.5,767.2 262.0,769.9 267.4,764.5 272.9,752.4 278.4,762.3 283.8,767.7 289.3,775.8 294.8,780.6 300.3,781.1 305.7,790.0 311.2,787.3 316.7,802.6 322.2,778.4 327.6,790.0 333.1,780.1 338.6,775.8 344.0,775.8 349.5,793.2 355.0,781.1 360.5,763.7 365.9,781.9 371.4,771.2 376.9,795.9 382.4,866.9 387.8,838.2 393.3,839.3 398.8,813.3 404.2,789.2 409.7,767.7 415.2,755.6 420.7,761.0 426.1,750.8 431.6,767.2 437.1,761.0 442.5,748.1 448.0,754.3 453.5,765.6 459.0,761.0 464.4,777.9 469.9,773.1 475.4,755.1 480.9,748.9 486.3,772.3 491.8,779.8 497.3,766.4 502.7,772.3 508.2,777.1 513.7,782.5 519.2,793.2 524.6,775.0 530.1,791.0 535.6,766.4 541.1,750.8 546.5,775.8" fill="none" stroke="#000000" stroke-width="2.00" stroke-linejoin="round" stroke-linecap="butt"/>
<line x1="380.30" y1="877.90" x2="380.30" y2="637.70" stroke="#000" stroke-opacity="0.50" stroke-width="3.1" stroke-dasharray="11.3 5.63"/>
<line x1="407.40" y1="877.90" x2="407.40" y2="637.70" stroke="#000" stroke-opacity="0.50" stroke-width="3.1" stroke-dasharray="11.3 5.63"/>
</g>
<rect x="495.30" y="642.50" width="55.00" height="57.60" rx="2.5" fill="#fff" fill-opacity="0.8" stroke="#cccccc" stroke-width="1"/>
<line x1="498.00" y1="649.70" x2="518.20" y2="649.70" stroke="#ff0000" stroke-width="2.00"/>
<text x="525.60" y="653.15" font-size="9.98" fill="#1a1a1a" textLength="12.84" lengthAdjust="spacingAndGlyphs">SA</text>
<line x1="498.00" y1="663.73" x2="518.20" y2="663.73" stroke="#0000ff" stroke-width="2.00"/>
<text x="525.60" y="667.18" font-size="9.98" fill="#1a1a1a" textLength="21.12" lengthAdjust="spacingAndGlyphs">MSA</text>
<line x1="498.00" y1="677.76" x2="518.20" y2="677.76" stroke="#000000" stroke-width="2.00"/>
<text x="525.60" y="681.21" font-size="9.98" fill="#1a1a1a" textLength="9.40" lengthAdjust="spacingAndGlyphs">IA</text>
<line x1="498.00" y1="691.79" x2="518.20" y2="691.79" stroke="#228b22" stroke-width="2.00"/>
<text x="525.60" y="695.24" font-size="9.98" fill="#1a1a1a" textLength="14.40" lengthAdjust="spacingAndGlyphs">NH</text>
<text x="540.00" y="697.09" font-size="6.97" fill="#1a1a1a" textLength="4.26" lengthAdjust="spacingAndGlyphs">3</text>
<rect x="51.30" y="637.70" width="504.10" height="240.20" fill="none" stroke="#262626" stroke-width="1.0"/>
<line x1="87.40" y1="877.90" x2="87.40" y2="883.40" stroke="#262626" stroke-width="1.00"/>
<line x1="153.11" y1="877.90" x2="153.11" y2="883.40" stroke="#262626" stroke-width="1.00"/>
<line x1="218.82" y1="877.90" x2="218.82" y2="883.40" stroke="#262626" stroke-width="1.00"/>
<line x1="284.53" y1="877.90" x2="284.53" y2="883.40" stroke="#262626" stroke-width="1.00"/>
<line x1="350.24" y1="877.90" x2="350.24" y2="883.40" stroke="#262626" stroke-width="1.00"/>
<line x1="415.95" y1="877.90" x2="415.95" y2="883.40" stroke="#262626" stroke-width="1.00"/>
<line x1="481.66" y1="877.90" x2="481.66" y2="883.40" stroke="#262626" stroke-width="1.00"/>
<line x1="547.37" y1="877.90" x2="547.37" y2="883.40" stroke="#262626" stroke-width="1.00"/>
<line x1="45.80" y1="655.27" x2="51.30" y2="655.27" stroke="#262626" stroke-width="1.00"/>
<line x1="45.80" y1="726.10" x2="51.30" y2="726.10" stroke="#262626" stroke-width="1.00"/>
<line x1="45.80" y1="796.93" x2="51.30" y2="796.93" stroke="#262626" stroke-width="1.00"/>
<line x1="45.80" y1="867.76" x2="51.30" y2="867.76" stroke="#262626" stroke-width="1.00"/>
<line x1="48.10" y1="874.62" x2="51.30" y2="874.62" stroke="#262626" stroke-width="1.00"/>
<line x1="48.10" y1="871.00" x2="51.30" y2="871.00" stroke="#262626" stroke-width="1.00"/>
<line x1="48.10" y1="846.44" x2="51.30" y2="846.44" stroke="#262626" stroke-width="1.00"/>
<line x1="48.10" y1="833.97" x2="51.30" y2="833.97" stroke="#262626" stroke-width="1.00"/>
<line x1="48.10" y1="825.12" x2="51.30" y2="825.12" stroke="#262626" stroke-width="1.00"/>
<line x1="48.10" y1="818.25" x2="51.30" y2="818.25" stroke="#262626" stroke-width="1.00"/>
<line x1="48.10" y1="812.64" x2="51.30" y2="812.64" stroke="#262626" stroke-width="1.00"/>
<line x1="48.10" y1="807.90" x2="51.30" y2="807.90" stroke="#262626" stroke-width="1.00"/>
<line x1="48.10" y1="803.79" x2="51.30" y2="803.79" stroke="#262626" stroke-width="1.00"/>
<line x1="48.10" y1="800.17" x2="51.30" y2="800.17" stroke="#262626" stroke-width="1.00"/>
<line x1="48.10" y1="775.61" x2="51.30" y2="775.61" stroke="#262626" stroke-width="1.00"/>
<line x1="48.10" y1="763.14" x2="51.30" y2="763.14" stroke="#262626" stroke-width="1.00"/>
<line x1="48.10" y1="754.29" x2="51.30" y2="754.29" stroke="#262626" stroke-width="1.00"/>
<line x1="48.10" y1="747.42" x2="51.30" y2="747.42" stroke="#262626" stroke-width="1.00"/>
<line x1="48.10" y1="741.81" x2="51.30" y2="741.81" stroke="#262626" stroke-width="1.00"/>
<line x1="48.10" y1="737.07" x2="51.30" y2="737.07" stroke="#262626" stroke-width="1.00"/>
<line x1="48.10" y1="732.96" x2="51.30" y2="732.96" stroke="#262626" stroke-width="1.00"/>
<line x1="48.10" y1="729.34" x2="51.30" y2="729.34" stroke="#262626" stroke-width="1.00"/>
<line x1="48.10" y1="704.78" x2="51.30" y2="704.78" stroke="#262626" stroke-width="1.00"/>
<line x1="48.10" y1="692.31" x2="51.30" y2="692.31" stroke="#262626" stroke-width="1.00"/>
<line x1="48.10" y1="683.46" x2="51.30" y2="683.46" stroke="#262626" stroke-width="1.00"/>
<line x1="48.10" y1="676.59" x2="51.30" y2="676.59" stroke="#262626" stroke-width="1.00"/>
<line x1="48.10" y1="670.98" x2="51.30" y2="670.98" stroke="#262626" stroke-width="1.00"/>
<line x1="48.10" y1="666.24" x2="51.30" y2="666.24" stroke="#262626" stroke-width="1.00"/>
<line x1="48.10" y1="662.13" x2="51.30" y2="662.13" stroke="#262626" stroke-width="1.00"/>
<line x1="48.10" y1="658.51" x2="51.30" y2="658.51" stroke="#262626" stroke-width="1.00"/>
<text x="22.79" y="659.57" font-size="12.48" stroke="#1a1a1a" stroke-width="0.12" fill="#1a1a1a" textLength="15.27" lengthAdjust="spacingAndGlyphs">10</text>
<text x="38.06" y="655.27" font-size="8.74" fill="#1a1a1a" textLength="5.34" lengthAdjust="spacingAndGlyphs">1</text>
<text x="22.79" y="730.40" font-size="12.48" stroke="#1a1a1a" stroke-width="0.12" fill="#1a1a1a" textLength="15.27" lengthAdjust="spacingAndGlyphs">10</text>
<text x="38.06" y="726.10" font-size="8.74" fill="#1a1a1a" textLength="5.34" lengthAdjust="spacingAndGlyphs">0</text>
<text x="15.75" y="801.23" font-size="12.48" stroke="#1a1a1a" stroke-width="0.12" fill="#1a1a1a" textLength="15.27" lengthAdjust="spacingAndGlyphs">10</text>
<text x="31.02" y="796.93" font-size="8.74" fill="#1a1a1a" textLength="12.38" lengthAdjust="spacingAndGlyphs">−1</text>
<text x="15.75" y="872.06" font-size="12.48" stroke="#1a1a1a" stroke-width="0.12" fill="#1a1a1a" textLength="15.27" lengthAdjust="spacingAndGlyphs">10</text>
<text x="31.02" y="867.76" font-size="8.74" fill="#1a1a1a" textLength="12.38" lengthAdjust="spacingAndGlyphs">−2</text>
<line x1="555.40" y1="870.90" x2="560.90" y2="870.90" stroke="#262626" stroke-width="1.00"/>
<line x1="555.40" y1="801.20" x2="560.90" y2="801.20" stroke="#262626" stroke-width="1.00"/>
<line x1="555.40" y1="731.50" x2="560.90" y2="731.50" stroke="#262626" stroke-width="1.00"/>
<line x1="555.40" y1="661.80" x2="560.90" y2="661.80" stroke="#262626" stroke-width="1.00"/>
<line x1="555.40" y1="877.65" x2="558.60" y2="877.65" stroke="#262626" stroke-width="1.00"/>
<line x1="555.40" y1="874.09" x2="558.60" y2="874.09" stroke="#262626" stroke-width="1.00"/>
<line x1="555.40" y1="849.92" x2="558.60" y2="849.92" stroke="#262626" stroke-width="1.00"/>
<line x1="555.40" y1="837.64" x2="558.60" y2="837.64" stroke="#262626" stroke-width="1.00"/>
<line x1="555.40" y1="828.94" x2="558.60" y2="828.94" stroke="#262626" stroke-width="1.00"/>
<line x1="555.40" y1="822.18" x2="558.60" y2="822.18" stroke="#262626" stroke-width="1.00"/>
<line x1="555.40" y1="816.66" x2="558.60" y2="816.66" stroke="#262626" stroke-width="1.00"/>
<line x1="555.40" y1="812.00" x2="558.60" y2="812.00" stroke="#262626" stroke-width="1.00"/>
<line x1="555.40" y1="807.95" x2="558.60" y2="807.95" stroke="#262626" stroke-width="1.00"/>
<line x1="555.40" y1="804.39" x2="558.60" y2="804.39" stroke="#262626" stroke-width="1.00"/>
<line x1="555.40" y1="780.22" x2="558.60" y2="780.22" stroke="#262626" stroke-width="1.00"/>
<line x1="555.40" y1="767.94" x2="558.60" y2="767.94" stroke="#262626" stroke-width="1.00"/>
<line x1="555.40" y1="759.24" x2="558.60" y2="759.24" stroke="#262626" stroke-width="1.00"/>
<line x1="555.40" y1="752.48" x2="558.60" y2="752.48" stroke="#262626" stroke-width="1.00"/>
<line x1="555.40" y1="746.96" x2="558.60" y2="746.96" stroke="#262626" stroke-width="1.00"/>
<line x1="555.40" y1="742.30" x2="558.60" y2="742.30" stroke="#262626" stroke-width="1.00"/>
<line x1="555.40" y1="738.25" x2="558.60" y2="738.25" stroke="#262626" stroke-width="1.00"/>
<line x1="555.40" y1="734.69" x2="558.60" y2="734.69" stroke="#262626" stroke-width="1.00"/>
<line x1="555.40" y1="710.52" x2="558.60" y2="710.52" stroke="#262626" stroke-width="1.00"/>
<line x1="555.40" y1="698.24" x2="558.60" y2="698.24" stroke="#262626" stroke-width="1.00"/>
<line x1="555.40" y1="689.54" x2="558.60" y2="689.54" stroke="#262626" stroke-width="1.00"/>
<line x1="555.40" y1="682.78" x2="558.60" y2="682.78" stroke="#262626" stroke-width="1.00"/>
<line x1="555.40" y1="677.26" x2="558.60" y2="677.26" stroke="#262626" stroke-width="1.00"/>
<line x1="555.40" y1="672.60" x2="558.60" y2="672.60" stroke="#262626" stroke-width="1.00"/>
<line x1="555.40" y1="668.55" x2="558.60" y2="668.55" stroke="#262626" stroke-width="1.00"/>
<line x1="555.40" y1="664.99" x2="558.60" y2="664.99" stroke="#262626" stroke-width="1.00"/>
<line x1="555.40" y1="640.82" x2="558.60" y2="640.82" stroke="#262626" stroke-width="1.00"/>
<text x="564.00" y="875.20" font-size="12.48" stroke="#1a1a1a" stroke-width="0.12" fill="#1a1a1a" textLength="15.27" lengthAdjust="spacingAndGlyphs">10</text>
<text x="579.27" y="870.90" font-size="8.74" fill="#1a1a1a" textLength="5.34" lengthAdjust="spacingAndGlyphs">4</text>
<text x="564.00" y="805.50" font-size="12.48" stroke="#1a1a1a" stroke-width="0.12" fill="#1a1a1a" textLength="15.27" lengthAdjust="spacingAndGlyphs">10</text>
<text x="579.27" y="801.20" font-size="8.74" fill="#1a1a1a" textLength="5.34" lengthAdjust="spacingAndGlyphs">5</text>
<text x="564.00" y="735.80" font-size="12.48" stroke="#1a1a1a" stroke-width="0.12" fill="#1a1a1a" textLength="15.27" lengthAdjust="spacingAndGlyphs">10</text>
<text x="579.27" y="731.50" font-size="8.74" fill="#1a1a1a" textLength="5.34" lengthAdjust="spacingAndGlyphs">6</text>
<text x="564.00" y="666.10" font-size="12.48" stroke="#1a1a1a" stroke-width="0.12" fill="#1a1a1a" textLength="15.27" lengthAdjust="spacingAndGlyphs">10</text>
<text x="579.27" y="661.80" font-size="8.74" fill="#1a1a1a" textLength="5.34" lengthAdjust="spacingAndGlyphs">7</text>
<text x="87.40" y="896.20" font-size="12.48" text-anchor="middle" stroke="#1a1a1a" stroke-width="0.12" fill="#1a1a1a" textLength="53.95" lengthAdjust="spacingAndGlyphs">02-01 10</text>
<text x="153.11" y="896.20" font-size="12.48" text-anchor="middle" stroke="#1a1a1a" stroke-width="0.12" fill="#1a1a1a" textLength="53.95" lengthAdjust="spacingAndGlyphs">02-01 12</text>
<text x="218.82" y="896.20" font-size="12.48" text-anchor="middle" stroke="#1a1a1a" stroke-width="0.12" fill="#1a1a1a" textLength="53.95" lengthAdjust="spacingAndGlyphs">02-01 14</text>
<text x="284.53" y="896.20" font-size="12.48" text-anchor="middle" stroke="#1a1a1a" stroke-width="0.12" fill="#1a1a1a" textLength="53.95" lengthAdjust="spacingAndGlyphs">02-01 16</text>
<text x="350.24" y="896.20" font-size="12.48" text-anchor="middle" stroke="#1a1a1a" stroke-width="0.12" fill="#1a1a1a" textLength="53.95" lengthAdjust="spacingAndGlyphs">02-01 18</text>
<text x="415.95" y="896.20" font-size="12.48" text-anchor="middle" stroke="#1a1a1a" stroke-width="0.12" fill="#1a1a1a" textLength="53.95" lengthAdjust="spacingAndGlyphs">02-01 20</text>
<text x="481.66" y="896.20" font-size="12.48" text-anchor="middle" stroke="#1a1a1a" stroke-width="0.12" fill="#1a1a1a" textLength="53.95" lengthAdjust="spacingAndGlyphs">02-01 22</text>
<text x="547.37" y="896.20" font-size="12.48" text-anchor="middle" stroke="#1a1a1a" stroke-width="0.12" fill="#1a1a1a" textLength="53.95" lengthAdjust="spacingAndGlyphs">02-02 00</text>
<text x="303.40" y="908.90" font-size="12.48" text-anchor="middle" font-weight="bold" stroke="#1a1a1a" stroke-width="0.35" fill="#1a1a1a" textLength="146.01" lengthAdjust="spacingAndGlyphs">Datetime [mm-dd hh]</text>
<text x="36.40" y="633.50" font-size="12.48" font-weight="bold" stroke="#1a1a1a" stroke-width="0.35" fill="#1a1a1a" textLength="15.45" lengthAdjust="spacingAndGlyphs">D)</text>
<g transform="translate(11.6,757.4) rotate(-90)"><text x="0.00" y="0.00" font-size="12.48" text-anchor="middle" font-weight="bold" stroke="#228b22" stroke-width="0.35" fill="#228b22" textLength="190.28" lengthAdjust="spacingAndGlyphs">Ammonia mixing ratio [ppb]</text></g>
<g transform="translate(599.6,757.0) rotate(-90)"><text x="-98.23" y="0.00" font-size="12.48" font-weight="bold" stroke="#1a1a1a" stroke-width="0.35" fill="#1a1a1a" textLength="178.09" lengthAdjust="spacingAndGlyphs">Concentration [molec · cm</text><text x="79.86" y="-4.60" font-size="8.74" font-weight="bold" stroke="#1a1a1a" stroke-width="0.35" fill="#1a1a1a" textLength="12.88" lengthAdjust="spacingAndGlyphs">−3</text><text x="92.74" y="0.00" font-size="12.48" font-weight="bold" stroke="#1a1a1a" stroke-width="0.35" fill="#1a1a1a" textLength="5.48" lengthAdjust="spacingAndGlyphs">]</text></g>
</g>
</svg></body></html>
